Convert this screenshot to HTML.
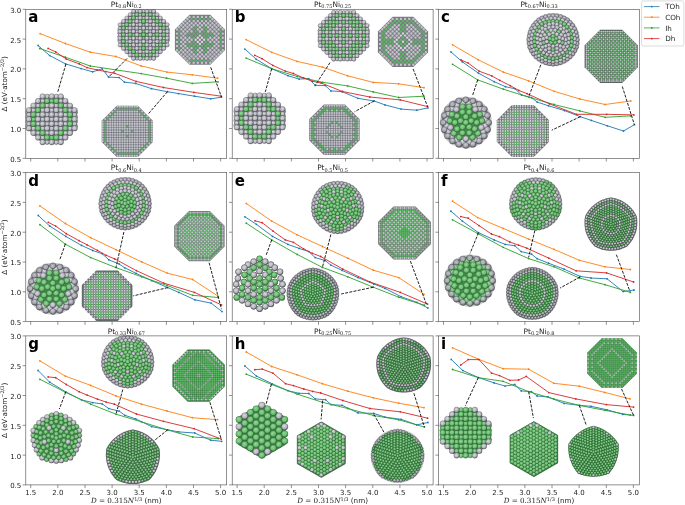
<!DOCTYPE html><html><head><meta charset="utf-8"><title>PtNi nanoparticle excess energy</title>
<style>html,body{margin:0;padding:0;background:#fff}svg{display:block}text{font-family:'DejaVu Sans','Liberation Sans',sans-serif;fill:#1c1c1c}.t{font-size:7px}.s{font-family:'DejaVu Serif','Liberation Serif',serif;font-size:5px}.L{font-size:15px;font-weight:bold;fill:#000}.y{fill:url(#gy);stroke:#55555d;stroke-width:.4}.n{fill:url(#gn);stroke:#2c6433;stroke-width:.4}</style>
</head><body>
<svg width="685" height="505" viewBox="0 0 685 505">
<defs>
<radialGradient id="gy" cx="0.42" cy="0.38" r="0.62"><stop offset="0" stop-color="#d8d8de"/><stop offset="0.66" stop-color="#b4b4bc"/><stop offset="1" stop-color="#5c5c64"/></radialGradient>
<radialGradient id="gn" cx="0.42" cy="0.38" r="0.62"><stop offset="0" stop-color="#93d896"/><stop offset="0.66" stop-color="#6cbb72"/><stop offset="1" stop-color="#37773e"/></radialGradient>
<radialGradient id="sh"><stop offset="0.8" stop-color="#30303a" stop-opacity="0"/><stop offset="0.94" stop-color="#30303a" stop-opacity="0.1"/><stop offset="1" stop-color="#30303a" stop-opacity="0.32"/></radialGradient>
<radialGradient id="sh0"><stop offset="0.8" stop-color="#30303a" stop-opacity="0"/><stop offset="1" stop-color="#30303a" stop-opacity="0.3"/></radialGradient>
<radialGradient id="sh2"><stop offset="0.8" stop-color="#30303a" stop-opacity="0"/><stop offset="0.94" stop-color="#30303a" stop-opacity="0.15"/><stop offset="1" stop-color="#30303a" stop-opacity="0.45"/></radialGradient>
<radialGradient id="sh3"><stop offset="0.75" stop-color="#30303a" stop-opacity="0"/><stop offset="0.92" stop-color="#30303a" stop-opacity="0.25"/><stop offset="1" stop-color="#30303a" stop-opacity="0.6"/></radialGradient>
</defs>
<rect width="685" height="505" fill="#fff"/>
<g id="panel-a">
<polyline fill="none" stroke="#1f77b4" stroke-width="0.9" stroke-linejoin="round" points="38.1,45.5 49.7,55.6 65.6,63.9 81.2,68.6 92.6,71.8 102.1,68.8 108.6,77.1 119.1,77.6 124.5,82.2 135.6,83.4 151.6,88.7 167.4,91.7 178.6,93.6 194.5,96.2 210.7,98.8 221.5,97.2"/>
<g fill="#1f77b4"><circle cx="38.1" cy="45.5" r="0.9"/><circle cx="49.7" cy="55.6" r="0.9"/><circle cx="65.6" cy="63.9" r="0.9"/><circle cx="81.2" cy="68.6" r="0.9"/><circle cx="92.6" cy="71.8" r="0.9"/><circle cx="102.1" cy="68.8" r="0.9"/><circle cx="108.6" cy="77.1" r="0.9"/><circle cx="119.1" cy="77.6" r="0.9"/><circle cx="124.5" cy="82.2" r="0.9"/><circle cx="135.6" cy="83.4" r="0.9"/><circle cx="151.6" cy="88.7" r="0.9"/><circle cx="167.4" cy="91.7" r="0.9"/><circle cx="178.6" cy="93.6" r="0.9"/><circle cx="194.5" cy="96.2" r="0.9"/><circle cx="210.7" cy="98.8" r="0.9"/><circle cx="221.5" cy="97.2" r="0.9"/></g>
<polyline fill="none" stroke="#ff7f0e" stroke-width="0.9" stroke-linejoin="round" points="40.1,33.6 65.3,43.5 90.3,52.2 115.9,56.5 141.2,65.9 166.9,72.1 192.3,74.8 217.6,78.2"/>
<g fill="#ff7f0e"><circle cx="40.1" cy="33.6" r="0.9"/><circle cx="65.3" cy="43.5" r="0.9"/><circle cx="90.3" cy="52.2" r="0.9"/><circle cx="115.9" cy="56.5" r="0.9"/><circle cx="141.2" cy="65.9" r="0.9"/><circle cx="166.9" cy="72.1" r="0.9"/><circle cx="192.3" cy="74.8" r="0.9"/><circle cx="217.6" cy="78.2" r="0.9"/></g>
<polyline fill="none" stroke="#2ca02c" stroke-width="0.9" stroke-linejoin="round" points="39.8,48.5 65.3,57.2 90.3,66 115.9,69.9 141.2,73.6 166.6,78.2 192.3,83.4 218,81.8"/>
<g fill="#2ca02c"><circle cx="39.8" cy="48.5" r="0.9"/><circle cx="65.3" cy="57.2" r="0.9"/><circle cx="90.3" cy="66" r="0.9"/><circle cx="115.9" cy="69.9" r="0.9"/><circle cx="141.2" cy="73.6" r="0.9"/><circle cx="166.6" cy="78.2" r="0.9"/><circle cx="192.3" cy="83.4" r="0.9"/><circle cx="218" cy="81.8" r="0.9"/></g>
<polyline fill="none" stroke="#d62728" stroke-width="0.9" stroke-linejoin="round" points="48.1,48.4 55.7,51.9 66.3,59.1 79.3,63.9 87,67.6 97.1,69.9 105.9,71.6 114.7,73.3 136.1,81.4 163.4,87.5 193.9,92.4 221.2,96.2"/>
<g fill="#d62728"><circle cx="48.1" cy="48.4" r="0.9"/><circle cx="55.7" cy="51.9" r="0.9"/><circle cx="66.3" cy="59.1" r="0.9"/><circle cx="79.3" cy="63.9" r="0.9"/><circle cx="87" cy="67.6" r="0.9"/><circle cx="97.1" cy="69.9" r="0.9"/><circle cx="105.9" cy="71.6" r="0.9"/><circle cx="114.7" cy="73.3" r="0.9"/><circle cx="136.1" cy="81.4" r="0.9"/><circle cx="163.4" cy="87.5" r="0.9"/><circle cx="193.9" cy="92.4" r="0.9"/><circle cx="221.2" cy="96.2" r="0.9"/></g>
<line x1="65.9" y1="64.1" x2="57.8" y2="91.8" stroke="#0a0a0a" stroke-width="0.9" stroke-dasharray="3 1.3"/>
<line x1="127" y1="58.5" x2="108.6" y2="77.1" stroke="#0a0a0a" stroke-width="0.9" stroke-dasharray="3 1.3"/>
<line x1="210.7" y1="67.3" x2="221.5" y2="97" stroke="#0a0a0a" stroke-width="0.9" stroke-dasharray="3 1.3"/>
<line x1="167.4" y1="91.7" x2="148.1" y2="114.2" stroke="#0a0a0a" stroke-width="0.9" stroke-dasharray="3 1.3"/>
<polygon points="42.6,96.4 60.8,96.4 74.6,110.2 74.6,128.4 60.8,142.2 42.6,142.2 28.9,128.4 28.9,110.2" fill="#777780" stroke="#777780" stroke-width="2.2" stroke-linejoin="round"/><g class="y"><circle cx="28.2" cy="112.4" r="2.38"/><circle cx="28.2" cy="117" r="2.38"/><circle cx="28.2" cy="121.6" r="2.38"/><circle cx="28.2" cy="126.2" r="2.38"/><circle cx="75.2" cy="112.4" r="2.38"/><circle cx="75.2" cy="117" r="2.38"/><circle cx="75.2" cy="121.6" r="2.38"/><circle cx="75.2" cy="126.2" r="2.38"/></g><g class="y"><circle cx="47.1" cy="96.4" r="2.33"/><circle cx="56.3" cy="96.4" r="2.33"/><circle cx="28.9" cy="114.7" r="2.33"/><circle cx="74.6" cy="114.7" r="2.33"/><circle cx="28.9" cy="123.9" r="2.33"/><circle cx="74.6" cy="123.9" r="2.33"/><circle cx="47.1" cy="142.2" r="2.33"/><circle cx="56.3" cy="142.2" r="2.33"/><circle cx="42.6" cy="101" r="2.33"/><circle cx="60.8" cy="101" r="2.33"/><circle cx="33.4" cy="110.2" r="2.33"/><circle cx="70" cy="110.2" r="2.33"/><circle cx="33.4" cy="128.4" r="2.33"/><circle cx="70" cy="128.4" r="2.33"/><circle cx="42.6" cy="137.6" r="2.33"/><circle cx="60.8" cy="137.6" r="2.33"/><circle cx="38" cy="105.6" r="2.33"/><circle cx="65.4" cy="105.6" r="2.33"/><circle cx="38" cy="133" r="2.33"/><circle cx="65.4" cy="133" r="2.33"/></g><g class="n"><circle cx="51.7" cy="101" r="2.33"/><circle cx="33.4" cy="119.3" r="2.33"/><circle cx="70" cy="119.3" r="2.33"/><circle cx="51.7" cy="137.6" r="2.33"/></g><g class="y"><circle cx="47.1" cy="105.6" r="2.33"/><circle cx="56.3" cy="105.6" r="2.33"/><circle cx="38" cy="114.7" r="2.33"/><circle cx="65.4" cy="114.7" r="2.33"/><circle cx="38" cy="123.9" r="2.33"/><circle cx="65.4" cy="123.9" r="2.33"/><circle cx="47.1" cy="133" r="2.33"/><circle cx="56.3" cy="133" r="2.33"/><circle cx="42.6" cy="110.2" r="2.33"/><circle cx="60.8" cy="110.2" r="2.33"/><circle cx="42.6" cy="128.4" r="2.33"/><circle cx="60.8" cy="128.4" r="2.33"/><circle cx="51.7" cy="110.2" r="2.33"/><circle cx="42.6" cy="119.3" r="2.33"/><circle cx="60.8" cy="119.3" r="2.33"/><circle cx="51.7" cy="128.4" r="2.33"/><circle cx="47.1" cy="114.7" r="2.33"/><circle cx="56.3" cy="114.7" r="2.33"/><circle cx="47.1" cy="123.9" r="2.33"/><circle cx="56.3" cy="123.9" r="2.33"/><circle cx="51.7" cy="119.3" r="2.33"/></g><g class="y"><circle cx="42.6" cy="96.4" r="2.7"/><circle cx="60.8" cy="96.4" r="2.7"/><circle cx="28.9" cy="110.2" r="2.7"/><circle cx="74.6" cy="110.2" r="2.7"/><circle cx="28.9" cy="128.4" r="2.7"/><circle cx="74.6" cy="128.4" r="2.7"/><circle cx="42.6" cy="142.2" r="2.7"/><circle cx="60.8" cy="142.2" r="2.7"/><circle cx="51.7" cy="96.4" r="2.7"/><circle cx="38" cy="101" r="2.7"/><circle cx="65.4" cy="101" r="2.7"/><circle cx="33.4" cy="105.6" r="2.7"/><circle cx="70" cy="105.6" r="2.7"/><circle cx="28.9" cy="119.3" r="2.7"/><circle cx="74.6" cy="119.3" r="2.7"/><circle cx="33.4" cy="133" r="2.7"/><circle cx="70" cy="133" r="2.7"/><circle cx="38" cy="137.6" r="2.7"/><circle cx="65.4" cy="137.6" r="2.7"/><circle cx="51.7" cy="142.2" r="2.7"/></g><g class="n"><circle cx="47.1" cy="101" r="2.7"/><circle cx="56.3" cy="101" r="2.7"/><circle cx="33.4" cy="114.7" r="2.7"/><circle cx="70" cy="114.7" r="2.7"/><circle cx="33.4" cy="123.9" r="2.7"/><circle cx="70" cy="123.9" r="2.7"/><circle cx="47.1" cy="137.6" r="2.7"/><circle cx="56.3" cy="137.6" r="2.7"/><circle cx="42.6" cy="105.6" r="2.7"/><circle cx="60.8" cy="105.6" r="2.7"/><circle cx="38" cy="110.2" r="2.7"/><circle cx="65.4" cy="110.2" r="2.7"/><circle cx="38" cy="128.4" r="2.7"/><circle cx="65.4" cy="128.4" r="2.7"/><circle cx="42.6" cy="133" r="2.7"/><circle cx="60.8" cy="133" r="2.7"/></g><g class="y"><circle cx="51.7" cy="105.6" r="2.7"/><circle cx="38" cy="119.3" r="2.7"/><circle cx="65.4" cy="119.3" r="2.7"/><circle cx="51.7" cy="133" r="2.7"/><circle cx="47.1" cy="110.2" r="2.7"/><circle cx="56.3" cy="110.2" r="2.7"/><circle cx="42.6" cy="114.7" r="2.7"/><circle cx="60.8" cy="114.7" r="2.7"/><circle cx="42.6" cy="123.9" r="2.7"/><circle cx="60.8" cy="123.9" r="2.7"/><circle cx="47.1" cy="128.4" r="2.7"/><circle cx="56.3" cy="128.4" r="2.7"/><circle cx="51.7" cy="114.7" r="2.7"/><circle cx="47.1" cy="119.3" r="2.7"/><circle cx="56.3" cy="119.3" r="2.7"/><circle cx="51.7" cy="123.9" r="2.7"/></g><polygon points="133.5,11.3 153.7,11.3 167.2,24.8 167.2,45 153.7,58.5 133.5,58.5 120,45 120,24.8" fill="#777780" stroke="#777780" stroke-width="1.7" stroke-linejoin="round"/><g class="y"><circle cx="119.5" cy="29.8" r="1.8"/><circle cx="119.5" cy="33.2" r="1.8"/><circle cx="119.5" cy="36.6" r="1.8"/><circle cx="119.5" cy="40" r="1.8"/><circle cx="167.7" cy="29.8" r="1.8"/><circle cx="167.7" cy="33.2" r="1.8"/><circle cx="167.7" cy="36.6" r="1.8"/><circle cx="167.7" cy="40" r="1.8"/></g><g class="y"><circle cx="136.9" cy="11.3" r="1.77"/><circle cx="150.3" cy="11.3" r="1.77"/><circle cx="120" cy="28.2" r="1.77"/><circle cx="167.2" cy="28.2" r="1.77"/><circle cx="120" cy="41.6" r="1.77"/><circle cx="167.2" cy="41.6" r="1.77"/><circle cx="136.9" cy="58.5" r="1.77"/><circle cx="150.3" cy="58.5" r="1.77"/><circle cx="143.6" cy="11.3" r="1.77"/><circle cx="120" cy="34.9" r="1.77"/><circle cx="167.2" cy="34.9" r="1.77"/><circle cx="143.6" cy="58.5" r="1.77"/><circle cx="133.5" cy="14.7" r="1.77"/><circle cx="153.7" cy="14.7" r="1.77"/><circle cx="123.4" cy="24.8" r="1.77"/><circle cx="163.8" cy="24.8" r="1.77"/><circle cx="123.4" cy="45" r="1.77"/><circle cx="163.8" cy="45" r="1.77"/><circle cx="133.5" cy="55.1" r="1.77"/><circle cx="153.7" cy="55.1" r="1.77"/><circle cx="130.1" cy="18" r="1.77"/><circle cx="157.1" cy="18" r="1.77"/><circle cx="126.8" cy="21.4" r="1.77"/><circle cx="160.4" cy="21.4" r="1.77"/><circle cx="126.8" cy="48.4" r="1.77"/><circle cx="160.4" cy="48.4" r="1.77"/><circle cx="130.1" cy="51.8" r="1.77"/><circle cx="157.1" cy="51.8" r="1.77"/><circle cx="140.2" cy="14.7" r="1.77"/><circle cx="147" cy="14.7" r="1.77"/><circle cx="123.4" cy="31.5" r="1.77"/><circle cx="163.8" cy="31.5" r="1.77"/><circle cx="123.4" cy="38.3" r="1.77"/><circle cx="163.8" cy="38.3" r="1.77"/><circle cx="140.2" cy="55.1" r="1.77"/><circle cx="147" cy="55.1" r="1.77"/><circle cx="136.9" cy="18" r="1.77"/><circle cx="150.3" cy="18" r="1.77"/><circle cx="126.8" cy="28.2" r="1.77"/><circle cx="160.4" cy="28.2" r="1.77"/><circle cx="126.8" cy="41.6" r="1.77"/><circle cx="160.4" cy="41.6" r="1.77"/><circle cx="136.9" cy="51.8" r="1.77"/><circle cx="150.3" cy="51.8" r="1.77"/><circle cx="143.6" cy="18" r="1.77"/><circle cx="133.5" cy="21.4" r="1.77"/><circle cx="153.7" cy="21.4" r="1.77"/><circle cx="130.1" cy="24.8" r="1.77"/><circle cx="157.1" cy="24.8" r="1.77"/><circle cx="126.8" cy="34.9" r="1.77"/><circle cx="160.4" cy="34.9" r="1.77"/><circle cx="130.1" cy="45" r="1.77"/><circle cx="157.1" cy="45" r="1.77"/><circle cx="133.5" cy="48.4" r="1.77"/><circle cx="153.7" cy="48.4" r="1.77"/><circle cx="143.6" cy="51.8" r="1.77"/><circle cx="140.2" cy="21.4" r="1.77"/><circle cx="147" cy="21.4" r="1.77"/><circle cx="130.1" cy="31.5" r="1.77"/><circle cx="157.1" cy="31.5" r="1.77"/><circle cx="130.1" cy="38.3" r="1.77"/><circle cx="157.1" cy="38.3" r="1.77"/><circle cx="140.2" cy="48.4" r="1.77"/><circle cx="147" cy="48.4" r="1.77"/><circle cx="136.9" cy="24.8" r="1.77"/><circle cx="150.3" cy="24.8" r="1.77"/><circle cx="133.5" cy="28.2" r="1.77"/><circle cx="153.7" cy="28.2" r="1.77"/><circle cx="133.5" cy="41.6" r="1.77"/><circle cx="153.7" cy="41.6" r="1.77"/><circle cx="136.9" cy="45" r="1.77"/><circle cx="150.3" cy="45" r="1.77"/></g><g class="n"><circle cx="143.6" cy="24.8" r="1.77"/><circle cx="133.5" cy="34.9" r="1.77"/><circle cx="153.7" cy="34.9" r="1.77"/><circle cx="143.6" cy="45" r="1.77"/></g><g class="y"><circle cx="140.2" cy="28.2" r="1.77"/><circle cx="147" cy="28.2" r="1.77"/><circle cx="136.9" cy="31.5" r="1.77"/><circle cx="150.3" cy="31.5" r="1.77"/><circle cx="136.9" cy="38.3" r="1.77"/><circle cx="150.3" cy="38.3" r="1.77"/><circle cx="140.2" cy="41.6" r="1.77"/><circle cx="147" cy="41.6" r="1.77"/></g><g class="n"><circle cx="143.6" cy="31.5" r="1.77"/><circle cx="140.2" cy="34.9" r="1.77"/><circle cx="147" cy="34.9" r="1.77"/><circle cx="143.6" cy="38.3" r="1.77"/></g><g class="y"><circle cx="133.5" cy="11.3" r="2.05"/><circle cx="153.7" cy="11.3" r="2.05"/><circle cx="120" cy="24.8" r="2.05"/><circle cx="167.2" cy="24.8" r="2.05"/><circle cx="120" cy="45" r="2.05"/><circle cx="167.2" cy="45" r="2.05"/><circle cx="133.5" cy="58.5" r="2.05"/><circle cx="153.7" cy="58.5" r="2.05"/><circle cx="130.1" cy="14.7" r="2.05"/><circle cx="157.1" cy="14.7" r="2.05"/><circle cx="123.4" cy="21.4" r="2.05"/><circle cx="163.8" cy="21.4" r="2.05"/><circle cx="123.4" cy="48.4" r="2.05"/><circle cx="163.8" cy="48.4" r="2.05"/><circle cx="130.1" cy="55.1" r="2.05"/><circle cx="157.1" cy="55.1" r="2.05"/><circle cx="140.2" cy="11.3" r="2.05"/><circle cx="147" cy="11.3" r="2.05"/><circle cx="126.8" cy="18" r="2.05"/><circle cx="160.4" cy="18" r="2.05"/><circle cx="120" cy="31.5" r="2.05"/><circle cx="167.2" cy="31.5" r="2.05"/><circle cx="120" cy="38.3" r="2.05"/><circle cx="167.2" cy="38.3" r="2.05"/><circle cx="126.8" cy="51.8" r="2.05"/><circle cx="160.4" cy="51.8" r="2.05"/><circle cx="140.2" cy="58.5" r="2.05"/><circle cx="147" cy="58.5" r="2.05"/></g><g class="n"><circle cx="136.9" cy="14.7" r="2.05"/><circle cx="150.3" cy="14.7" r="2.05"/><circle cx="123.4" cy="28.2" r="2.05"/><circle cx="163.8" cy="28.2" r="2.05"/><circle cx="123.4" cy="41.6" r="2.05"/><circle cx="163.8" cy="41.6" r="2.05"/><circle cx="136.9" cy="55.1" r="2.05"/><circle cx="150.3" cy="55.1" r="2.05"/><circle cx="143.6" cy="14.7" r="2.05"/><circle cx="123.4" cy="34.9" r="2.05"/><circle cx="163.8" cy="34.9" r="2.05"/><circle cx="143.6" cy="55.1" r="2.05"/><circle cx="133.5" cy="18" r="2.05"/><circle cx="153.7" cy="18" r="2.05"/><circle cx="126.8" cy="24.8" r="2.05"/><circle cx="160.4" cy="24.8" r="2.05"/><circle cx="126.8" cy="45" r="2.05"/><circle cx="160.4" cy="45" r="2.05"/><circle cx="133.5" cy="51.8" r="2.05"/><circle cx="153.7" cy="51.8" r="2.05"/><circle cx="130.1" cy="21.4" r="2.05"/><circle cx="157.1" cy="21.4" r="2.05"/><circle cx="130.1" cy="48.4" r="2.05"/><circle cx="157.1" cy="48.4" r="2.05"/></g><g class="y"><circle cx="140.2" cy="18" r="2.05"/><circle cx="147" cy="18" r="2.05"/><circle cx="126.8" cy="31.5" r="2.05"/><circle cx="160.4" cy="31.5" r="2.05"/><circle cx="126.8" cy="38.3" r="2.05"/><circle cx="160.4" cy="38.3" r="2.05"/><circle cx="140.2" cy="51.8" r="2.05"/><circle cx="147" cy="51.8" r="2.05"/><circle cx="136.9" cy="21.4" r="2.05"/><circle cx="150.3" cy="21.4" r="2.05"/><circle cx="130.1" cy="28.2" r="2.05"/><circle cx="157.1" cy="28.2" r="2.05"/><circle cx="130.1" cy="41.6" r="2.05"/><circle cx="157.1" cy="41.6" r="2.05"/><circle cx="136.9" cy="48.4" r="2.05"/><circle cx="150.3" cy="48.4" r="2.05"/><circle cx="133.5" cy="24.8" r="2.05"/><circle cx="153.7" cy="24.8" r="2.05"/><circle cx="133.5" cy="45" r="2.05"/><circle cx="153.7" cy="45" r="2.05"/></g><g class="n"><circle cx="143.6" cy="21.4" r="2.05"/><circle cx="130.1" cy="34.9" r="2.05"/><circle cx="157.1" cy="34.9" r="2.05"/><circle cx="143.6" cy="48.4" r="2.05"/></g><g class="y"><circle cx="140.2" cy="24.8" r="2.05"/><circle cx="147" cy="24.8" r="2.05"/><circle cx="133.5" cy="31.5" r="2.05"/><circle cx="153.7" cy="31.5" r="2.05"/><circle cx="133.5" cy="38.3" r="2.05"/><circle cx="153.7" cy="38.3" r="2.05"/><circle cx="140.2" cy="45" r="2.05"/><circle cx="147" cy="45" r="2.05"/><circle cx="136.9" cy="28.2" r="2.05"/><circle cx="150.3" cy="28.2" r="2.05"/><circle cx="136.9" cy="41.6" r="2.05"/><circle cx="150.3" cy="41.6" r="2.05"/><circle cx="143.6" cy="28.2" r="2.05"/><circle cx="136.9" cy="34.9" r="2.05"/><circle cx="150.3" cy="34.9" r="2.05"/><circle cx="143.6" cy="41.6" r="2.05"/><circle cx="140.2" cy="31.5" r="2.05"/><circle cx="147" cy="31.5" r="2.05"/><circle cx="140.2" cy="38.3" r="2.05"/><circle cx="147" cy="38.3" r="2.05"/></g><g class="n"><circle cx="143.6" cy="34.9" r="2.05"/></g><polygon fill="#7b7b83" points="189.5,14.8 210.3,14.8 224.9,29.4 224.9,50.2 210.3,64.8 189.5,64.8 174.9,50.2 174.9,29.4"/><path d="M189.5 16.9h0m4.2 0h0m4.1 0h0m4.2 0h0m4.1 0h0m4.2 0h0m-25 4.2h0m4.2 0h0m4.2 0h0m4.1 0h0m4.2 0h0m4.1 0h0m4.2 0h0m4.2 0h0m-33.3 4.1h0m4.1 0h0m4.2 0h0m4.2 0h0m4.1 0h0m4.2 0h0m4.1 0h0m4.2 0h0m4.2 0h0m4.1 0h0m-41.6 4.2h0m4.2 0h0m4.1 0h0m4.2 0h0m8.3 0h0m4.2 0h0m8.3 0h0m4.2 0h0m4.1 0h0m4.2 0h0m-45.8 4.2h0m4.2 0h0m4.1 0h0m29.2 0h0m4.1 0h0m4.2 0h0m-45.8 4.1h0m4.2 0h0m4.1 0h0m4.2 0h0m20.8 0h0m4.2 0h0m4.1 0h0m4.2 0h0m-45.8 4.2h0m4.2 0h0m4.1 0h0m4.2 0h0m20.8 0h0m4.2 0h0m4.1 0h0m4.2 0h0m-45.8 4.1h0m4.2 0h0m4.1 0h0m29.2 0h0m4.1 0h0m4.2 0h0m-45.8 4.2h0m4.2 0h0m4.1 0h0m4.2 0h0m8.3 0h0m4.2 0h0m8.3 0h0m4.2 0h0m4.1 0h0m4.2 0h0m-41.6 4.2h0m4.1 0h0m4.2 0h0m4.2 0h0m4.1 0h0m4.2 0h0m4.1 0h0m4.2 0h0m4.2 0h0m4.1 0h0m-33.3 4.1h0m4.2 0h0m4.2 0h0m4.1 0h0m4.2 0h0m4.1 0h0m4.2 0h0m4.2 0h0m-25 4.2h0m4.2 0h0m4.1 0h0m4.2 0h0m4.1 0h0m4.2 0h0" stroke="#c4c4cc" stroke-width="2.4" stroke-linecap="round" fill="none"/><path d="M193.7 29.4h0m12.4 0h0m-16.6 4.2h0m4.2 0h0m4.1 0h0m4.2 0h0m4.1 0h0m4.2 0h0m-16.6 4.1h0m12.4 0h0m-12.4 4.2h0m12.4 0h0m-16.6 4.1h0m4.2 0h0m4.1 0h0m4.2 0h0m4.1 0h0m4.2 0h0m-16.6 4.2h0m12.4 0h0" stroke="#5cb864" stroke-width="2.4" stroke-linecap="round" fill="none"/><path d="M197.8 37.7h0m4.2 0h0m-4.2 4.2h0m4.2 0h0" stroke="#d4d4dc" stroke-width="2.4" stroke-linecap="round" fill="none"/><path d="M187.4 19h0m25 0h0m-29.1 4.2h0m4.1 0h0m4.2 0h0m4.1 0h0m4.2 0h0m4.2 0h0m4.1 0h0m4.2 0h0m4.1 0h0m-37.4 4.1h0m4.2 0h0m4.1 0h0m4.2 0h0m8.3 0h0m8.3 0h0m4.2 0h0m4.1 0h0m4.2 0h0m-37.4 4.2h0m4.1 0h0m4.2 0h0m8.3 0h0m8.3 0h0m4.2 0h0m4.1 0h0m-33.2 4.1h0m33.2 0h0m-33.2 4.2h0m4.1 0h0m4.2 0h0m16.6 0h0m4.2 0h0m4.1 0h0m-33.2 4.2h0m33.2 0h0m-33.2 4.1h0m4.1 0h0m4.2 0h0m8.3 0h0m8.3 0h0m4.2 0h0m4.1 0h0m-37.4 4.2h0m4.2 0h0m4.1 0h0m4.2 0h0m8.3 0h0m8.3 0h0m4.2 0h0m4.1 0h0m4.2 0h0m-37.4 4.1h0m4.1 0h0m4.2 0h0m4.1 0h0m4.2 0h0m4.2 0h0m4.1 0h0m4.2 0h0m4.1 0h0m-29.1 4.2h0m25 0h0" stroke="#c4c4cc" stroke-width="2.4" stroke-linecap="round" fill="none"/><path d="M191.6 19h0m4.1 0h0m4.2 0h0m4.2 0h0m4.1 0h0m-12.5 8.3h0m8.4 0h0m-25 4.2h0m16.6 0h0m8.4 0h0m16.6 0h0m-41.6 4.1h0m8.3 0h0m4.2 0h0m4.1 0h0m8.4 0h0m4.1 0h0m4.2 0h0m8.3 0h0m-41.6 4.2h0m41.6 0h0m-41.6 4.2h0m8.3 0h0m4.2 0h0m4.1 0h0m8.4 0h0m4.1 0h0m4.2 0h0m8.3 0h0m-41.6 4.1h0m16.6 0h0m8.4 0h0m16.6 0h0m-25 4.2h0m8.4 0h0m-12.5 8.3h0m4.1 0h0m4.2 0h0m4.2 0h0m4.1 0h0" stroke="#5cb864" stroke-width="2.4" stroke-linecap="round" fill="none"/><path d="M199.9 35.6h0m-4.2 4.2h0m4.2 0h0m4.2 0h0m-4.2 4.2h0" stroke="#d4d4dc" stroke-width="2.4" stroke-linecap="round" fill="none"/><polygon fill="#787880" points="116.7,105.7 137.9,105.7 152.9,120.7 152.9,141.9 137.9,156.9 116.7,156.9 101.7,141.9 101.7,120.7"/><path d="M119.9 106.7h0m4.9 0h0m5 0h0m4.9 0h0m-14.8 4.9h0m4.9 0h0m5 0h0m4.9 0h0m-17.2 2.5h0m4.9 0h0m4.9 0h0m4.9 0h0m4.9 0h0m-22.1 2.4h0m4.9 0h0m4.9 0h0m5 0h0m4.9 0h0m4.9 0h0m-27.1 2.5h0m5 0h0m4.9 0h0m4.9 0h0m4.9 0h0m4.9 0h0m5 0h0m-32 2.5h0m4.9 0h0m4.9 0h0m4.9 0h0m5 0h0m4.9 0h0m4.9 0h0m4.9 0h0m-41.8 2.4h0m4.9 0h0m4.9 0h0m5 0h0m4.9 0h0m4.9 0h0m4.9 0h0m4.9 0h0m5 0h0m4.9 0h0m4.9 0h0m-41.8 2.5h0m4.9 0h0m4.9 0h0m4.9 0h0m5 0h0m4.9 0h0m4.9 0h0m4.9 0h0m-41.8 2.4h0m4.9 0h0m4.9 0h0m5 0h0m4.9 0h0m4.9 0h0m4.9 0h0m4.9 0h0m5 0h0m4.9 0h0m4.9 0h0m-41.8 2.5h0m4.9 0h0m4.9 0h0m4.9 0h0m5 0h0m4.9 0h0m4.9 0h0m4.9 0h0m-41.8 2.5h0m4.9 0h0m4.9 0h0m5 0h0m4.9 0h0m4.9 0h0m4.9 0h0m4.9 0h0m5 0h0m4.9 0h0m4.9 0h0m-41.8 2.4h0m4.9 0h0m4.9 0h0m4.9 0h0m5 0h0m4.9 0h0m4.9 0h0m4.9 0h0m-41.8 2.5h0m4.9 0h0m4.9 0h0m5 0h0m4.9 0h0m4.9 0h0m4.9 0h0m4.9 0h0m5 0h0m4.9 0h0m4.9 0h0m-41.8 2.4h0m4.9 0h0m4.9 0h0m4.9 0h0m5 0h0m4.9 0h0m4.9 0h0m4.9 0h0m-32 2.5h0m5 0h0m4.9 0h0m4.9 0h0m4.9 0h0m4.9 0h0m5 0h0m-27.1 2.5h0m4.9 0h0m4.9 0h0m5 0h0m4.9 0h0m4.9 0h0m-22.1 2.4h0m4.9 0h0m4.9 0h0m4.9 0h0m4.9 0h0m-17.2 2.5h0m4.9 0h0m5 0h0m4.9 0h0m-14.8 4.9h0m4.9 0h0m5 0h0m4.9 0h0" stroke="#c4c4cc" stroke-width="2.1" stroke-linecap="round" fill="none"/><path d="M117.5 109.2h0m4.9 0h0m4.9 0h0m4.9 0h0m4.9 0h0m-22.1 2.4h0m24.6 0h0m-27.1 2.5h0m29.6 0h0m-32 2.4h0m34.4 0h0m-36.9 2.5h0m39.4 0h0m-41.8 2.5h0m44.2 0h0m-44.2 4.9h0m44.2 0h0m-44.2 4.9h0m44.2 0h0m-44.2 4.9h0m44.2 0h0m-44.2 4.9h0m44.2 0h0m-41.8 2.5h0m39.4 0h0m-36.9 2.5h0m34.4 0h0m-32 2.4h0m29.6 0h0m-27.1 2.5h0m24.6 0h0m-22.1 2.4h0m4.9 0h0m4.9 0h0m4.9 0h0m4.9 0h0" stroke="#5cb864" stroke-width="2.1" stroke-linecap="round" fill="none"/><path d="M117.5 106.7h0m4.9 0h0m4.9 0h0m4.9 0h0m4.9 0h0m-22.1 2.5h0m24.6 0h0m-27.1 2.4h0m5 0h0m4.9 0h0m4.9 0h0m4.9 0h0m4.9 0h0m5 0h0m-32 2.5h0m4.9 0h0m4.9 0h0m4.9 0h0m5 0h0m4.9 0h0m4.9 0h0m4.9 0h0m-36.9 2.4h0m4.9 0h0m5 0h0m4.9 0h0m4.9 0h0m4.9 0h0m4.9 0h0m5 0h0m4.9 0h0m-41.8 2.5h0m4.9 0h0m4.9 0h0m4.9 0h0m4.9 0h0m5 0h0m4.9 0h0m4.9 0h0m4.9 0h0m4.9 0h0m-46.7 2.5h0m4.9 0h0m4.9 0h0m5 0h0m4.9 0h0m4.9 0h0m4.9 0h0m4.9 0h0m5 0h0m4.9 0h0m4.9 0h0m-41.8 2.4h0m4.9 0h0m4.9 0h0m4.9 0h0m5 0h0m4.9 0h0m4.9 0h0m4.9 0h0m-41.8 2.5h0m4.9 0h0m4.9 0h0m5 0h0m4.9 0h0m9.8 0h0m4.9 0h0m5 0h0m4.9 0h0m4.9 0h0m-41.8 2.4h0m4.9 0h0m4.9 0h0m4.9 0h0m5 0h0m4.9 0h0m4.9 0h0m4.9 0h0m-41.8 2.5h0m4.9 0h0m4.9 0h0m5 0h0m9.8 0h0m9.8 0h0m5 0h0m4.9 0h0m4.9 0h0m-41.8 2.5h0m4.9 0h0m4.9 0h0m4.9 0h0m5 0h0m4.9 0h0m4.9 0h0m4.9 0h0m-41.8 2.4h0m4.9 0h0m4.9 0h0m5 0h0m4.9 0h0m9.8 0h0m4.9 0h0m5 0h0m4.9 0h0m4.9 0h0m-41.8 2.5h0m4.9 0h0m4.9 0h0m4.9 0h0m5 0h0m4.9 0h0m4.9 0h0m4.9 0h0m-41.8 2.4h0m4.9 0h0m4.9 0h0m5 0h0m4.9 0h0m4.9 0h0m4.9 0h0m4.9 0h0m5 0h0m4.9 0h0m4.9 0h0m-46.7 2.5h0m4.9 0h0m4.9 0h0m4.9 0h0m4.9 0h0m5 0h0m4.9 0h0m4.9 0h0m4.9 0h0m4.9 0h0m-41.8 2.5h0m4.9 0h0m5 0h0m4.9 0h0m4.9 0h0m4.9 0h0m4.9 0h0m5 0h0m4.9 0h0m-36.9 2.4h0m4.9 0h0m4.9 0h0m4.9 0h0m5 0h0m4.9 0h0m4.9 0h0m4.9 0h0m-32 2.5h0m5 0h0m4.9 0h0m4.9 0h0m4.9 0h0m4.9 0h0m5 0h0m-27.1 2.4h0m24.6 0h0m-22.1 2.5h0m4.9 0h0m4.9 0h0m4.9 0h0m4.9 0h0" stroke="#c4c4cc" stroke-width="2.1" stroke-linecap="round" fill="none"/><path d="M119.9 109.2h0m4.9 0h0m5 0h0m4.9 0h0m-29.5 14.7h0m44.2 0h0m-22.1 2.5h0m-22.1 2.4h0m44.2 0h0m-27 2.5h0m9.8 0h0m-27 2.5h0m44.2 0h0m-22.1 2.4h0m-22.1 2.5h0m44.2 0h0m-29.5 14.7h0m4.9 0h0m5 0h0m4.9 0h0" stroke="#5cb864" stroke-width="2.1" stroke-linecap="round" fill="none"/>
<rect x="25.8" y="9.3" width="200.9" height="149" fill="none" stroke="#484848" stroke-width="0.6"/>
<text class="t" text-anchor="end" x="21.3" y="161.7">0.5</text>
<text class="t" text-anchor="end" x="21.3" y="131.9">1.0</text>
<text class="t" text-anchor="end" x="21.3" y="102.1">1.5</text>
<text class="t" text-anchor="end" x="21.3" y="72.3">2.0</text>
<text class="t" text-anchor="end" x="21.3" y="42.5">2.5</text>
<text class="t" text-anchor="end" x="21.3" y="12.7">3.0</text>
<path d="M30.7 158.3v3.2M57.8 158.3v3.2M85 158.3v3.2M112.1 158.3v3.2M139.2 158.3v3.2M166.4 158.3v3.2M193.5 158.3v3.2M220.6 158.3v3.2M25.8 158.3h-3.2M25.8 128.5h-3.2M25.8 98.7h-3.2M25.8 68.9h-3.2M25.8 39.1h-3.2M25.8 9.3h-3.2" stroke="#484848" stroke-width="0.6" fill="none"/>
<text class="t" text-anchor="middle" x="126.3" y="6.9" style="font-size:7.4px">Pt<tspan class="s" dy="1.3">0.8</tspan><tspan dy="-1.3">Ni</tspan><tspan class="s" dy="1.3">0.2</tspan></text>
<text class="L" x="28.3" y="22.4">a</text>
<text class="t" text-anchor="middle" transform="translate(6.9 83.8) rotate(-90)" style="font-size:7.2px">Δ (eV·atom<tspan class="s" dy="-2.6">−2/3</tspan><tspan dy="2.6">)</tspan></text>
</g>
<g id="panel-b">
<polyline fill="none" stroke="#1f77b4" stroke-width="0.9" stroke-linejoin="round" points="244.9,49.1 256.3,59.3 271.7,68.7 287.9,75.7 299.1,79.1 308.8,78.6 315.2,85.4 325.2,85.5 330.9,90.9 342.1,91.7 357.9,98.3 374.1,101 385,104.9 401.1,109.1 416.8,110.2 427.9,107.9"/>
<g fill="#1f77b4"><circle cx="244.9" cy="49.1" r="0.9"/><circle cx="256.3" cy="59.3" r="0.9"/><circle cx="271.7" cy="68.7" r="0.9"/><circle cx="287.9" cy="75.7" r="0.9"/><circle cx="299.1" cy="79.1" r="0.9"/><circle cx="308.8" cy="78.6" r="0.9"/><circle cx="315.2" cy="85.4" r="0.9"/><circle cx="325.2" cy="85.5" r="0.9"/><circle cx="330.9" cy="90.9" r="0.9"/><circle cx="342.1" cy="91.7" r="0.9"/><circle cx="357.9" cy="98.3" r="0.9"/><circle cx="374.1" cy="101" r="0.9"/><circle cx="385" cy="104.9" r="0.9"/><circle cx="401.1" cy="109.1" r="0.9"/><circle cx="416.8" cy="110.2" r="0.9"/><circle cx="427.9" cy="107.9" r="0.9"/></g>
<polyline fill="none" stroke="#ff7f0e" stroke-width="0.9" stroke-linejoin="round" points="246.1,39.6 271.7,52.3 297.1,61.4 322.4,67.1 347.6,75.8 373.3,82.4 398.7,83.8 424,87.7"/>
<g fill="#ff7f0e"><circle cx="246.1" cy="39.6" r="0.9"/><circle cx="271.7" cy="52.3" r="0.9"/><circle cx="297.1" cy="61.4" r="0.9"/><circle cx="322.4" cy="67.1" r="0.9"/><circle cx="347.6" cy="75.8" r="0.9"/><circle cx="373.3" cy="82.4" r="0.9"/><circle cx="398.7" cy="83.8" r="0.9"/><circle cx="424" cy="87.7" r="0.9"/></g>
<polyline fill="none" stroke="#2ca02c" stroke-width="0.9" stroke-linejoin="round" points="246.1,58.1 271.7,68.7 297.1,76.5 322.7,82.3 347.6,85.9 373.3,91.9 398.7,97.5 424,96.2"/>
<g fill="#2ca02c"><circle cx="246.1" cy="58.1" r="0.9"/><circle cx="271.7" cy="68.7" r="0.9"/><circle cx="297.1" cy="76.5" r="0.9"/><circle cx="322.7" cy="82.3" r="0.9"/><circle cx="347.6" cy="85.9" r="0.9"/><circle cx="373.3" cy="91.9" r="0.9"/><circle cx="398.7" cy="97.5" r="0.9"/><circle cx="424" cy="96.2" r="0.9"/></g>
<polyline fill="none" stroke="#d62728" stroke-width="0.9" stroke-linejoin="round" points="254.8,55.3 262,58.7 272.8,65.4 285.3,71.1 293.4,73.5 303.5,78 312.3,81.2 321.1,83 342.5,91.5 369.8,97 400.3,99.9 427.6,106.6"/>
<g fill="#d62728"><circle cx="254.8" cy="55.3" r="0.9"/><circle cx="262" cy="58.7" r="0.9"/><circle cx="272.8" cy="65.4" r="0.9"/><circle cx="285.3" cy="71.1" r="0.9"/><circle cx="293.4" cy="73.5" r="0.9"/><circle cx="303.5" cy="78" r="0.9"/><circle cx="312.3" cy="81.2" r="0.9"/><circle cx="321.1" cy="83" r="0.9"/><circle cx="342.5" cy="91.5" r="0.9"/><circle cx="369.8" cy="97" r="0.9"/><circle cx="400.3" cy="99.9" r="0.9"/><circle cx="427.6" cy="106.6" r="0.9"/></g>
<line x1="271.7" y1="68.7" x2="265.3" y2="91.9" stroke="#0a0a0a" stroke-width="0.9" stroke-dasharray="3 1.3"/>
<line x1="330" y1="62.6" x2="315.2" y2="85.4" stroke="#0a0a0a" stroke-width="0.9" stroke-dasharray="3 1.3"/>
<line x1="413.1" y1="68.9" x2="427.6" y2="106.6" stroke="#0a0a0a" stroke-width="0.9" stroke-dasharray="3 1.3"/>
<line x1="374.1" y1="101" x2="354.5" y2="111.8" stroke="#0a0a0a" stroke-width="0.9" stroke-dasharray="3 1.3"/>
<polygon points="250.6,95.4 268.8,95.4 282.6,109.2 282.6,127.4 268.8,141.2 250.6,141.2 236.8,127.4 236.8,109.2" fill="#777780" stroke="#777780" stroke-width="2.2" stroke-linejoin="round"/><g class="y"><circle cx="236.2" cy="111.4" r="2.38"/><circle cx="236.2" cy="116" r="2.38"/><circle cx="236.2" cy="120.6" r="2.38"/><circle cx="236.2" cy="125.2" r="2.38"/><circle cx="283.2" cy="111.4" r="2.38"/><circle cx="283.2" cy="116" r="2.38"/><circle cx="283.2" cy="120.6" r="2.38"/><circle cx="283.2" cy="125.2" r="2.38"/></g><g class="y"><circle cx="255.1" cy="95.4" r="2.33"/><circle cx="264.3" cy="95.4" r="2.33"/><circle cx="236.8" cy="113.7" r="2.33"/><circle cx="282.6" cy="113.7" r="2.33"/><circle cx="236.8" cy="122.9" r="2.33"/><circle cx="282.6" cy="122.9" r="2.33"/><circle cx="255.1" cy="141.2" r="2.33"/><circle cx="264.3" cy="141.2" r="2.33"/><circle cx="250.6" cy="100" r="2.33"/><circle cx="268.8" cy="100" r="2.33"/><circle cx="241.4" cy="109.2" r="2.33"/><circle cx="278" cy="109.2" r="2.33"/><circle cx="241.4" cy="127.4" r="2.33"/><circle cx="278" cy="127.4" r="2.33"/><circle cx="250.6" cy="136.6" r="2.33"/><circle cx="268.8" cy="136.6" r="2.33"/><circle cx="246" cy="104.6" r="2.33"/><circle cx="273.4" cy="104.6" r="2.33"/><circle cx="246" cy="132" r="2.33"/><circle cx="273.4" cy="132" r="2.33"/></g><g class="n"><circle cx="259.7" cy="100" r="2.33"/><circle cx="241.4" cy="118.3" r="2.33"/><circle cx="278" cy="118.3" r="2.33"/><circle cx="259.7" cy="136.6" r="2.33"/></g><g class="y"><circle cx="255.1" cy="104.6" r="2.33"/><circle cx="264.3" cy="104.6" r="2.33"/><circle cx="246" cy="113.7" r="2.33"/><circle cx="273.4" cy="113.7" r="2.33"/><circle cx="246" cy="122.9" r="2.33"/><circle cx="273.4" cy="122.9" r="2.33"/><circle cx="255.1" cy="132" r="2.33"/><circle cx="264.3" cy="132" r="2.33"/></g><g class="n"><circle cx="250.6" cy="109.2" r="2.33"/><circle cx="268.8" cy="109.2" r="2.33"/><circle cx="250.6" cy="127.4" r="2.33"/><circle cx="268.8" cy="127.4" r="2.33"/></g><g class="y"><circle cx="259.7" cy="109.2" r="2.33"/><circle cx="250.6" cy="118.3" r="2.33"/><circle cx="268.8" cy="118.3" r="2.33"/><circle cx="259.7" cy="127.4" r="2.33"/><circle cx="255.1" cy="113.7" r="2.33"/><circle cx="264.3" cy="113.7" r="2.33"/><circle cx="255.1" cy="122.9" r="2.33"/><circle cx="264.3" cy="122.9" r="2.33"/><circle cx="259.7" cy="118.3" r="2.33"/></g><g class="y"><circle cx="250.6" cy="95.4" r="2.7"/><circle cx="268.8" cy="95.4" r="2.7"/><circle cx="236.8" cy="109.2" r="2.7"/><circle cx="282.6" cy="109.2" r="2.7"/><circle cx="236.8" cy="127.4" r="2.7"/><circle cx="282.6" cy="127.4" r="2.7"/><circle cx="250.6" cy="141.2" r="2.7"/><circle cx="268.8" cy="141.2" r="2.7"/><circle cx="259.7" cy="95.4" r="2.7"/><circle cx="246" cy="100" r="2.7"/><circle cx="273.4" cy="100" r="2.7"/><circle cx="241.4" cy="104.6" r="2.7"/><circle cx="278" cy="104.6" r="2.7"/><circle cx="236.8" cy="118.3" r="2.7"/><circle cx="282.6" cy="118.3" r="2.7"/><circle cx="241.4" cy="132" r="2.7"/><circle cx="278" cy="132" r="2.7"/><circle cx="246" cy="136.6" r="2.7"/><circle cx="273.4" cy="136.6" r="2.7"/><circle cx="259.7" cy="141.2" r="2.7"/></g><g class="n"><circle cx="255.1" cy="100" r="2.7"/><circle cx="264.3" cy="100" r="2.7"/><circle cx="241.4" cy="113.7" r="2.7"/><circle cx="278" cy="113.7" r="2.7"/><circle cx="241.4" cy="122.9" r="2.7"/><circle cx="278" cy="122.9" r="2.7"/><circle cx="255.1" cy="136.6" r="2.7"/><circle cx="264.3" cy="136.6" r="2.7"/><circle cx="250.6" cy="104.6" r="2.7"/><circle cx="268.8" cy="104.6" r="2.7"/><circle cx="246" cy="109.2" r="2.7"/><circle cx="273.4" cy="109.2" r="2.7"/><circle cx="246" cy="127.4" r="2.7"/><circle cx="273.4" cy="127.4" r="2.7"/><circle cx="250.6" cy="132" r="2.7"/><circle cx="268.8" cy="132" r="2.7"/></g><g class="y"><circle cx="259.7" cy="104.6" r="2.7"/><circle cx="246" cy="118.3" r="2.7"/><circle cx="273.4" cy="118.3" r="2.7"/><circle cx="259.7" cy="132" r="2.7"/><circle cx="255.1" cy="109.2" r="2.7"/><circle cx="264.3" cy="109.2" r="2.7"/><circle cx="250.6" cy="113.7" r="2.7"/><circle cx="268.8" cy="113.7" r="2.7"/><circle cx="250.6" cy="122.9" r="2.7"/><circle cx="268.8" cy="122.9" r="2.7"/><circle cx="255.1" cy="127.4" r="2.7"/><circle cx="264.3" cy="127.4" r="2.7"/><circle cx="259.7" cy="113.7" r="2.7"/><circle cx="255.1" cy="118.3" r="2.7"/><circle cx="264.3" cy="118.3" r="2.7"/><circle cx="259.7" cy="122.9" r="2.7"/></g><polygon points="333.6,12.2 353.8,12.2 367.2,25.6 367.2,45.8 353.8,59.2 333.6,59.2 320.2,45.8 320.2,25.6" fill="#777780" stroke="#777780" stroke-width="1.7" stroke-linejoin="round"/><g class="y"><circle cx="319.7" cy="30.7" r="1.8"/><circle cx="319.7" cy="34" r="1.8"/><circle cx="319.7" cy="37.4" r="1.8"/><circle cx="319.7" cy="40.7" r="1.8"/><circle cx="367.7" cy="30.7" r="1.8"/><circle cx="367.7" cy="34" r="1.8"/><circle cx="367.7" cy="37.4" r="1.8"/><circle cx="367.7" cy="40.7" r="1.8"/></g><g class="y"><circle cx="337" cy="12.2" r="1.77"/><circle cx="350.4" cy="12.2" r="1.77"/><circle cx="320.2" cy="29" r="1.77"/><circle cx="367.2" cy="29" r="1.77"/><circle cx="320.2" cy="42.4" r="1.77"/><circle cx="367.2" cy="42.4" r="1.77"/><circle cx="337" cy="59.2" r="1.77"/><circle cx="350.4" cy="59.2" r="1.77"/><circle cx="343.7" cy="12.2" r="1.77"/><circle cx="320.2" cy="35.7" r="1.77"/><circle cx="367.2" cy="35.7" r="1.77"/><circle cx="343.7" cy="59.2" r="1.77"/><circle cx="333.6" cy="15.5" r="1.77"/><circle cx="353.8" cy="15.5" r="1.77"/><circle cx="323.5" cy="25.6" r="1.77"/><circle cx="363.9" cy="25.6" r="1.77"/><circle cx="323.5" cy="45.8" r="1.77"/><circle cx="363.9" cy="45.8" r="1.77"/><circle cx="333.6" cy="55.9" r="1.77"/><circle cx="353.8" cy="55.9" r="1.77"/><circle cx="330.3" cy="18.9" r="1.77"/><circle cx="357.1" cy="18.9" r="1.77"/><circle cx="326.9" cy="22.3" r="1.77"/><circle cx="360.5" cy="22.3" r="1.77"/><circle cx="326.9" cy="49.1" r="1.77"/><circle cx="360.5" cy="49.1" r="1.77"/><circle cx="330.3" cy="52.5" r="1.77"/><circle cx="357.1" cy="52.5" r="1.77"/><circle cx="340.3" cy="15.5" r="1.77"/><circle cx="347.1" cy="15.5" r="1.77"/><circle cx="323.5" cy="32.3" r="1.77"/><circle cx="363.9" cy="32.3" r="1.77"/><circle cx="323.5" cy="39.1" r="1.77"/><circle cx="363.9" cy="39.1" r="1.77"/><circle cx="340.3" cy="55.9" r="1.77"/><circle cx="347.1" cy="55.9" r="1.77"/><circle cx="337" cy="18.9" r="1.77"/><circle cx="350.4" cy="18.9" r="1.77"/><circle cx="326.9" cy="29" r="1.77"/><circle cx="360.5" cy="29" r="1.77"/><circle cx="326.9" cy="42.4" r="1.77"/><circle cx="360.5" cy="42.4" r="1.77"/><circle cx="337" cy="52.5" r="1.77"/><circle cx="350.4" cy="52.5" r="1.77"/><circle cx="343.7" cy="18.9" r="1.77"/><circle cx="333.6" cy="22.3" r="1.77"/><circle cx="353.8" cy="22.3" r="1.77"/><circle cx="330.3" cy="25.6" r="1.77"/><circle cx="357.1" cy="25.6" r="1.77"/><circle cx="326.9" cy="35.7" r="1.77"/><circle cx="360.5" cy="35.7" r="1.77"/><circle cx="330.3" cy="45.8" r="1.77"/><circle cx="357.1" cy="45.8" r="1.77"/><circle cx="333.6" cy="49.1" r="1.77"/><circle cx="353.8" cy="49.1" r="1.77"/><circle cx="343.7" cy="52.5" r="1.77"/><circle cx="340.3" cy="22.3" r="1.77"/><circle cx="347.1" cy="22.3" r="1.77"/><circle cx="330.3" cy="32.3" r="1.77"/><circle cx="357.1" cy="32.3" r="1.77"/><circle cx="330.3" cy="39.1" r="1.77"/><circle cx="357.1" cy="39.1" r="1.77"/><circle cx="340.3" cy="49.1" r="1.77"/><circle cx="347.1" cy="49.1" r="1.77"/><circle cx="337" cy="25.6" r="1.77"/><circle cx="350.4" cy="25.6" r="1.77"/><circle cx="333.6" cy="29" r="1.77"/><circle cx="353.8" cy="29" r="1.77"/><circle cx="333.6" cy="42.4" r="1.77"/><circle cx="353.8" cy="42.4" r="1.77"/><circle cx="337" cy="45.8" r="1.77"/><circle cx="350.4" cy="45.8" r="1.77"/><circle cx="343.7" cy="25.6" r="1.77"/><circle cx="333.6" cy="35.7" r="1.77"/><circle cx="353.8" cy="35.7" r="1.77"/><circle cx="343.7" cy="45.8" r="1.77"/><circle cx="340.3" cy="29" r="1.77"/><circle cx="347.1" cy="29" r="1.77"/><circle cx="337" cy="32.3" r="1.77"/><circle cx="350.4" cy="32.3" r="1.77"/><circle cx="337" cy="39.1" r="1.77"/><circle cx="350.4" cy="39.1" r="1.77"/><circle cx="340.3" cy="42.4" r="1.77"/><circle cx="347.1" cy="42.4" r="1.77"/><circle cx="343.7" cy="32.3" r="1.77"/><circle cx="340.3" cy="35.7" r="1.77"/><circle cx="347.1" cy="35.7" r="1.77"/><circle cx="343.7" cy="39.1" r="1.77"/></g><g class="y"><circle cx="333.6" cy="12.2" r="2.05"/><circle cx="353.8" cy="12.2" r="2.05"/><circle cx="320.2" cy="25.6" r="2.05"/><circle cx="367.2" cy="25.6" r="2.05"/><circle cx="320.2" cy="45.8" r="2.05"/><circle cx="367.2" cy="45.8" r="2.05"/><circle cx="333.6" cy="59.2" r="2.05"/><circle cx="353.8" cy="59.2" r="2.05"/><circle cx="330.3" cy="15.5" r="2.05"/><circle cx="357.1" cy="15.5" r="2.05"/><circle cx="323.5" cy="22.3" r="2.05"/><circle cx="363.9" cy="22.3" r="2.05"/><circle cx="323.5" cy="49.1" r="2.05"/><circle cx="363.9" cy="49.1" r="2.05"/><circle cx="330.3" cy="55.9" r="2.05"/><circle cx="357.1" cy="55.9" r="2.05"/><circle cx="340.3" cy="12.2" r="2.05"/><circle cx="347.1" cy="12.2" r="2.05"/><circle cx="326.9" cy="18.9" r="2.05"/><circle cx="360.5" cy="18.9" r="2.05"/><circle cx="320.2" cy="32.3" r="2.05"/><circle cx="367.2" cy="32.3" r="2.05"/><circle cx="320.2" cy="39.1" r="2.05"/><circle cx="367.2" cy="39.1" r="2.05"/><circle cx="326.9" cy="52.5" r="2.05"/><circle cx="360.5" cy="52.5" r="2.05"/><circle cx="340.3" cy="59.2" r="2.05"/><circle cx="347.1" cy="59.2" r="2.05"/></g><g class="n"><circle cx="337" cy="15.5" r="2.05"/><circle cx="350.4" cy="15.5" r="2.05"/><circle cx="323.5" cy="29" r="2.05"/><circle cx="363.9" cy="29" r="2.05"/><circle cx="323.5" cy="42.4" r="2.05"/><circle cx="363.9" cy="42.4" r="2.05"/><circle cx="337" cy="55.9" r="2.05"/><circle cx="350.4" cy="55.9" r="2.05"/><circle cx="343.7" cy="15.5" r="2.05"/><circle cx="323.5" cy="35.7" r="2.05"/><circle cx="363.9" cy="35.7" r="2.05"/><circle cx="343.7" cy="55.9" r="2.05"/><circle cx="333.6" cy="18.9" r="2.05"/><circle cx="353.8" cy="18.9" r="2.05"/><circle cx="326.9" cy="25.6" r="2.05"/><circle cx="360.5" cy="25.6" r="2.05"/><circle cx="326.9" cy="45.8" r="2.05"/><circle cx="360.5" cy="45.8" r="2.05"/><circle cx="333.6" cy="52.5" r="2.05"/><circle cx="353.8" cy="52.5" r="2.05"/><circle cx="330.3" cy="22.3" r="2.05"/><circle cx="357.1" cy="22.3" r="2.05"/><circle cx="330.3" cy="49.1" r="2.05"/><circle cx="357.1" cy="49.1" r="2.05"/></g><g class="y"><circle cx="340.3" cy="18.9" r="2.05"/><circle cx="347.1" cy="18.9" r="2.05"/><circle cx="326.9" cy="32.3" r="2.05"/><circle cx="360.5" cy="32.3" r="2.05"/><circle cx="326.9" cy="39.1" r="2.05"/><circle cx="360.5" cy="39.1" r="2.05"/><circle cx="340.3" cy="52.5" r="2.05"/><circle cx="347.1" cy="52.5" r="2.05"/></g><g class="n"><circle cx="337" cy="22.3" r="2.05"/><circle cx="350.4" cy="22.3" r="2.05"/><circle cx="330.3" cy="29" r="2.05"/><circle cx="357.1" cy="29" r="2.05"/><circle cx="330.3" cy="42.4" r="2.05"/><circle cx="357.1" cy="42.4" r="2.05"/><circle cx="337" cy="49.1" r="2.05"/><circle cx="350.4" cy="49.1" r="2.05"/><circle cx="333.6" cy="25.6" r="2.05"/><circle cx="353.8" cy="25.6" r="2.05"/><circle cx="333.6" cy="45.8" r="2.05"/><circle cx="353.8" cy="45.8" r="2.05"/><circle cx="343.7" cy="22.3" r="2.05"/><circle cx="330.3" cy="35.7" r="2.05"/><circle cx="357.1" cy="35.7" r="2.05"/><circle cx="343.7" cy="49.1" r="2.05"/></g><g class="y"><circle cx="340.3" cy="25.6" r="2.05"/><circle cx="347.1" cy="25.6" r="2.05"/><circle cx="333.6" cy="32.3" r="2.05"/><circle cx="353.8" cy="32.3" r="2.05"/><circle cx="333.6" cy="39.1" r="2.05"/><circle cx="353.8" cy="39.1" r="2.05"/><circle cx="340.3" cy="45.8" r="2.05"/><circle cx="347.1" cy="45.8" r="2.05"/><circle cx="337" cy="29" r="2.05"/><circle cx="350.4" cy="29" r="2.05"/><circle cx="337" cy="42.4" r="2.05"/><circle cx="350.4" cy="42.4" r="2.05"/></g><g class="n"><circle cx="343.7" cy="29" r="2.05"/><circle cx="337" cy="35.7" r="2.05"/><circle cx="350.4" cy="35.7" r="2.05"/><circle cx="343.7" cy="42.4" r="2.05"/></g><g class="y"><circle cx="340.3" cy="32.3" r="2.05"/><circle cx="347.1" cy="32.3" r="2.05"/><circle cx="340.3" cy="39.1" r="2.05"/><circle cx="347.1" cy="39.1" r="2.05"/></g><g class="n"><circle cx="343.7" cy="35.7" r="2.05"/></g><polygon fill="#7b7b83" points="392.6,16.7 413.4,16.7 428.1,31.4 428.1,52.2 413.4,66.9 392.6,66.9 377.9,52.2 377.9,31.4"/><path d="M392.6 18.9h0m4.2 0h0m4.1 0h0m4.2 0h0m4.1 0h0m4.2 0h0m-25 4.2h0m29.2 0h0m-33.3 4.1h0m8.3 0h0m4.2 0h0m12.4 0h0m4.2 0h0m8.3 0h0m-41.6 4.2h0m8.3 0h0m4.2 0h0m4.2 0h0m12.4 0h0m4.2 0h0m4.2 0h0m8.3 0h0m-45.8 4.2h0m8.3 0h0m4.2 0h0m4.2 0h0m12.4 0h0m4.2 0h0m4.2 0h0m8.3 0h0m-45.8 4.1h0m45.8 0h0m-45.8 4.2h0m45.8 0h0m-45.8 4.1h0m8.3 0h0m4.2 0h0m4.2 0h0m12.4 0h0m4.2 0h0m4.2 0h0m8.3 0h0m-45.8 4.2h0m8.3 0h0m4.2 0h0m4.2 0h0m12.4 0h0m4.2 0h0m4.2 0h0m8.3 0h0m-41.6 4.2h0m8.3 0h0m4.2 0h0m12.4 0h0m4.2 0h0m8.3 0h0m-33.3 4.1h0m29.2 0h0m-25 4.2h0m4.2 0h0m4.1 0h0m4.2 0h0m4.1 0h0m4.2 0h0" stroke="#c4c4cc" stroke-width="2.4" stroke-linecap="round" fill="none"/><path d="M392.6 23.1h0m4.2 0h0m4.1 0h0m4.2 0h0m4.1 0h0m4.2 0h0m-25 4.1h0m12.5 0h0m4.2 0h0m12.5 0h0m-33.3 4.2h0m16.6 0h0m4.2 0h0m16.6 0h0m-37.4 4.2h0m37.4 0h0m-37.4 4.1h0m4.1 0h0m4.2 0h0m8.3 0h0m4.2 0h0m8.3 0h0m4.2 0h0m4.1 0h0m-37.4 4.2h0m4.1 0h0m4.2 0h0m8.3 0h0m4.2 0h0m8.3 0h0m4.2 0h0m4.1 0h0m-37.4 4.1h0m37.4 0h0m-37.4 4.2h0m16.6 0h0m4.2 0h0m16.6 0h0m-33.3 4.2h0m12.5 0h0m4.2 0h0m12.5 0h0m-25 4.1h0m4.2 0h0m4.1 0h0m4.2 0h0m4.1 0h0m4.2 0h0" stroke="#5cb864" stroke-width="2.4" stroke-linecap="round" fill="none"/><path d="M400.9 35.6h0m4.2 0h0m-8.3 4.1h0m12.4 0h0m-12.4 4.2h0m12.4 0h0m-8.3 4.1h0m4.2 0h0" stroke="#d4d4dc" stroke-width="2.4" stroke-linecap="round" fill="none"/><path d="M390.5 21h0m25 0h0m-29.1 4.2h0m8.3 0h0m4.1 0h0m8.4 0h0m4.1 0h0m8.3 0h0m-37.4 4.1h0m8.3 0h0m4.2 0h0m4.1 0h0m8.4 0h0m4.1 0h0m4.2 0h0m8.3 0h0m-37.4 4.2h0m4.1 0h0m4.2 0h0m4.1 0h0m8.4 0h0m4.1 0h0m4.2 0h0m4.1 0h0m-33.2 4.1h0m4.1 0h0m4.2 0h0m16.6 0h0m4.2 0h0m4.1 0h0m-33.2 8.4h0m4.1 0h0m4.2 0h0m16.6 0h0m4.2 0h0m4.1 0h0m-33.2 4.1h0m4.1 0h0m4.2 0h0m4.1 0h0m8.4 0h0m4.1 0h0m4.2 0h0m4.1 0h0m-37.4 4.2h0m8.3 0h0m4.2 0h0m4.1 0h0m8.4 0h0m4.1 0h0m4.2 0h0m8.3 0h0m-37.4 4.1h0m8.3 0h0m4.1 0h0m8.4 0h0m4.1 0h0m8.3 0h0m-29.1 4.2h0m25 0h0" stroke="#c4c4cc" stroke-width="2.4" stroke-linecap="round" fill="none"/><path d="M394.7 21h0m4.1 0h0m4.2 0h0m4.2 0h0m4.1 0h0m-20.8 4.2h0m12.5 0h0m12.5 0h0m-29.1 4.1h0m16.6 0h0m16.6 0h0m-37.4 4.2h0m41.6 0h0m-41.6 4.1h0m20.8 0h0m20.8 0h0m-41.6 4.2h0m4.2 0h0m4.1 0h0m8.3 0h0m8.4 0h0m8.3 0h0m4.1 0h0m4.2 0h0m-41.6 4.2h0m20.8 0h0m20.8 0h0m-41.6 4.1h0m41.6 0h0m-37.4 4.2h0m16.6 0h0m16.6 0h0m-29.1 4.1h0m12.5 0h0m12.5 0h0m-20.8 4.2h0m4.1 0h0m4.2 0h0m4.2 0h0m4.1 0h0" stroke="#5cb864" stroke-width="2.4" stroke-linecap="round" fill="none"/><path d="M403 33.5h0m-4.2 4.1h0m8.4 0h0m-12.5 4.2h0m8.3 0h0m8.3 0h0m-12.5 4.2h0m8.4 0h0m-4.2 4.1h0" stroke="#d4d4dc" stroke-width="2.4" stroke-linecap="round" fill="none"/><polygon fill="#787880" points="323.9,104.4 344.9,104.4 359.7,119.2 359.7,140.2 344.9,155 323.9,155 309.1,140.2 309.1,119.2"/><path d="M327.2 105.7h0m4.8 0h0m4.8 0h0m4.8 0h0m-14.4 4.8h0m4.8 0h0m4.8 0h0m4.8 0h0m-16.8 2.4h0m4.8 0h0m4.8 0h0m4.8 0h0m4.8 0h0m-21.6 2.4h0m4.8 0h0m4.8 0h0m4.8 0h0m4.8 0h0m4.8 0h0m-26.4 2.4h0m4.8 0h0m4.8 0h0m4.8 0h0m4.8 0h0m4.8 0h0m4.8 0h0m-31.2 2.4h0m4.8 0h0m4.8 0h0m4.8 0h0m4.8 0h0m4.8 0h0m4.8 0h0m4.8 0h0m-40.8 2.4h0m4.8 0h0m4.8 0h0m4.8 0h0m4.8 0h0m4.8 0h0m4.8 0h0m4.8 0h0m4.8 0h0m4.8 0h0m4.8 0h0m-40.8 2.4h0m4.8 0h0m4.8 0h0m4.8 0h0m4.8 0h0m4.8 0h0m4.8 0h0m4.8 0h0m-40.8 2.4h0m4.8 0h0m4.8 0h0m4.8 0h0m4.8 0h0m4.8 0h0m4.8 0h0m4.8 0h0m4.8 0h0m4.8 0h0m4.8 0h0m-40.8 2.4h0m4.8 0h0m4.8 0h0m4.8 0h0m4.8 0h0m4.8 0h0m4.8 0h0m4.8 0h0m-40.8 2.4h0m4.8 0h0m4.8 0h0m4.8 0h0m4.8 0h0m4.8 0h0m4.8 0h0m4.8 0h0m4.8 0h0m4.8 0h0m4.8 0h0m-40.8 2.4h0m4.8 0h0m4.8 0h0m4.8 0h0m4.8 0h0m4.8 0h0m4.8 0h0m4.8 0h0m-40.8 2.4h0m4.8 0h0m4.8 0h0m4.8 0h0m4.8 0h0m4.8 0h0m4.8 0h0m4.8 0h0m4.8 0h0m4.8 0h0m4.8 0h0m-40.8 2.4h0m4.8 0h0m4.8 0h0m4.8 0h0m4.8 0h0m4.8 0h0m4.8 0h0m4.8 0h0m-31.2 2.4h0m4.8 0h0m4.8 0h0m4.8 0h0m4.8 0h0m4.8 0h0m4.8 0h0m-26.4 2.4h0m4.8 0h0m4.8 0h0m4.8 0h0m4.8 0h0m4.8 0h0m-21.6 2.4h0m4.8 0h0m4.8 0h0m4.8 0h0m4.8 0h0m-16.8 2.4h0m4.8 0h0m4.8 0h0m4.8 0h0m-14.4 4.8h0m4.8 0h0m4.8 0h0m4.8 0h0" stroke="#c4c4cc" stroke-width="2" stroke-linecap="round" fill="none"/><path d="M324.8 108.1h0m4.8 0h0m4.8 0h0m4.8 0h0m4.8 0h0m-21.6 2.4h0m24 0h0m-26.4 2.4h0m28.8 0h0m-31.2 2.4h0m33.6 0h0m-36 2.4h0m38.4 0h0m-40.8 2.4h0m43.2 0h0m-43.2 4.8h0m43.2 0h0m-43.2 4.8h0m43.2 0h0m-43.2 4.8h0m43.2 0h0m-43.2 4.8h0m43.2 0h0m-40.8 2.4h0m38.4 0h0m-36 2.4h0m33.6 0h0m-31.2 2.4h0m28.8 0h0m-26.4 2.4h0m24 0h0m-21.6 2.4h0m4.8 0h0m4.8 0h0m4.8 0h0m4.8 0h0" stroke="#5cb864" stroke-width="2" stroke-linecap="round" fill="none"/><path d="M324.8 105.7h0m4.8 0h0m4.8 0h0m4.8 0h0m4.8 0h0m-21.6 2.4h0m24 0h0m-26.4 2.4h0m28.8 0h0m-31.2 2.4h0m9.6 0h0m4.8 0h0m4.8 0h0m4.8 0h0m9.6 0h0m-36 2.4h0m9.6 0h0m4.8 0h0m4.8 0h0m4.8 0h0m4.8 0h0m9.6 0h0m-40.8 2.4h0m9.6 0h0m4.8 0h0m4.8 0h0m4.8 0h0m4.8 0h0m4.8 0h0m9.6 0h0m-45.6 2.4h0m9.6 0h0m4.8 0h0m4.8 0h0m4.8 0h0m4.8 0h0m4.8 0h0m4.8 0h0m9.6 0h0m-40.8 2.4h0m4.8 0h0m4.8 0h0m14.4 0h0m4.8 0h0m4.8 0h0m-40.8 2.4h0m9.6 0h0m4.8 0h0m9.6 0h0m9.6 0h0m4.8 0h0m9.6 0h0m-40.8 2.4h0m4.8 0h0m9.6 0h0m4.8 0h0m9.6 0h0m4.8 0h0m-40.8 2.4h0m9.6 0h0m4.8 0h0m4.8 0h0m4.8 0h0m4.8 0h0m4.8 0h0m4.8 0h0m9.6 0h0m-40.8 2.4h0m4.8 0h0m9.6 0h0m4.8 0h0m9.6 0h0m4.8 0h0m-40.8 2.4h0m9.6 0h0m4.8 0h0m9.6 0h0m9.6 0h0m4.8 0h0m9.6 0h0m-40.8 2.4h0m4.8 0h0m4.8 0h0m14.4 0h0m4.8 0h0m4.8 0h0m-40.8 2.4h0m9.6 0h0m4.8 0h0m4.8 0h0m4.8 0h0m4.8 0h0m4.8 0h0m4.8 0h0m9.6 0h0m-45.6 2.4h0m9.6 0h0m4.8 0h0m4.8 0h0m4.8 0h0m4.8 0h0m4.8 0h0m9.6 0h0m-40.8 2.4h0m9.6 0h0m4.8 0h0m4.8 0h0m4.8 0h0m4.8 0h0m9.6 0h0m-36 2.4h0m9.6 0h0m4.8 0h0m4.8 0h0m4.8 0h0m9.6 0h0m-31.2 2.4h0m28.8 0h0m-26.4 2.4h0m24 0h0m-21.6 2.4h0m4.8 0h0m4.8 0h0m4.8 0h0m4.8 0h0" stroke="#c4c4cc" stroke-width="2" stroke-linecap="round" fill="none"/><path d="M327.2 108.1h0m4.8 0h0m4.8 0h0m4.8 0h0m-16.8 2.4h0m4.8 0h0m4.8 0h0m4.8 0h0m4.8 0h0m-21.6 2.4h0m24 0h0m-26.4 2.4h0m28.8 0h0m-31.2 2.4h0m33.6 0h0m-36 2.4h0m38.4 0h0m-40.8 2.4h0m19.2 0h0m4.8 0h0m19.2 0h0m-40.8 2.4h0m14.4 0h0m9.6 0h0m14.4 0h0m-40.8 2.4h0m14.4 0h0m14.4 0h0m14.4 0h0m-40.8 2.4h0m38.4 0h0m-40.8 2.4h0m14.4 0h0m14.4 0h0m14.4 0h0m-40.8 2.4h0m14.4 0h0m9.6 0h0m14.4 0h0m-40.8 2.4h0m19.2 0h0m4.8 0h0m19.2 0h0m-40.8 2.4h0m38.4 0h0m-36 2.4h0m33.6 0h0m-31.2 2.4h0m28.8 0h0m-26.4 2.4h0m24 0h0m-21.6 2.4h0m4.8 0h0m4.8 0h0m4.8 0h0m4.8 0h0m-16.8 2.4h0m4.8 0h0m4.8 0h0m4.8 0h0" stroke="#5cb864" stroke-width="2" stroke-linecap="round" fill="none"/>
<rect x="232.2" y="9.3" width="200.9" height="149" fill="none" stroke="#484848" stroke-width="0.6"/>
<path d="M237.1 158.3v3.2M264.2 158.3v3.2M291.4 158.3v3.2M318.5 158.3v3.2M345.6 158.3v3.2M372.8 158.3v3.2M399.9 158.3v3.2M427 158.3v3.2M232.2 158.3h-3.2M232.2 128.5h-3.2M232.2 98.7h-3.2M232.2 68.9h-3.2M232.2 39.1h-3.2M232.2 9.3h-3.2" stroke="#484848" stroke-width="0.6" fill="none"/>
<text class="t" text-anchor="middle" x="332.6" y="6.9" style="font-size:7.4px">Pt<tspan class="s" dy="1.3">0.75</tspan><tspan dy="-1.3">Ni</tspan><tspan class="s" dy="1.3">0.25</tspan></text>
<text class="L" x="234.7" y="22.4">b</text>
</g>
<g id="panel-c">
<polyline fill="none" stroke="#1f77b4" stroke-width="0.9" stroke-linejoin="round" points="451,52 462.4,61.9 478.5,73.2 494.2,81.7 505.5,86.7 515.1,88.8 521.5,94.9 531.6,97.6 537.2,102.1 548.5,105.8 564.5,110.6 580.3,116.7 591.3,120.4 607.4,125.8 623.5,131 634.4,124.7"/>
<g fill="#1f77b4"><circle cx="451" cy="52" r="0.9"/><circle cx="462.4" cy="61.9" r="0.9"/><circle cx="478.5" cy="73.2" r="0.9"/><circle cx="494.2" cy="81.7" r="0.9"/><circle cx="505.5" cy="86.7" r="0.9"/><circle cx="515.1" cy="88.8" r="0.9"/><circle cx="521.5" cy="94.9" r="0.9"/><circle cx="531.6" cy="97.6" r="0.9"/><circle cx="537.2" cy="102.1" r="0.9"/><circle cx="548.5" cy="105.8" r="0.9"/><circle cx="564.5" cy="110.6" r="0.9"/><circle cx="580.3" cy="116.7" r="0.9"/><circle cx="591.3" cy="120.4" r="0.9"/><circle cx="607.4" cy="125.8" r="0.9"/><circle cx="623.5" cy="131" r="0.9"/><circle cx="634.4" cy="124.7" r="0.9"/></g>
<polyline fill="none" stroke="#ff7f0e" stroke-width="0.9" stroke-linejoin="round" points="452.6,44.8 478,59.7 503.4,72.1 528.7,80.9 554.1,91.3 579.8,99 605.1,104.5 630.7,101"/>
<g fill="#ff7f0e"><circle cx="452.6" cy="44.8" r="0.9"/><circle cx="478" cy="59.7" r="0.9"/><circle cx="503.4" cy="72.1" r="0.9"/><circle cx="528.7" cy="80.9" r="0.9"/><circle cx="554.1" cy="91.3" r="0.9"/><circle cx="579.8" cy="99" r="0.9"/><circle cx="605.1" cy="104.5" r="0.9"/><circle cx="630.7" cy="101" r="0.9"/></g>
<polyline fill="none" stroke="#2ca02c" stroke-width="0.9" stroke-linejoin="round" points="452.6,64.3 477.7,79.9 503.4,89.2 529.1,97.3 554.1,104.5 579.8,110.9 605.1,117.3 630.7,115.9"/>
<g fill="#2ca02c"><circle cx="452.6" cy="64.3" r="0.9"/><circle cx="477.7" cy="79.9" r="0.9"/><circle cx="503.4" cy="89.2" r="0.9"/><circle cx="529.1" cy="97.3" r="0.9"/><circle cx="554.1" cy="104.5" r="0.9"/><circle cx="579.8" cy="110.9" r="0.9"/><circle cx="605.1" cy="117.3" r="0.9"/><circle cx="630.7" cy="115.9" r="0.9"/></g>
<polyline fill="none" stroke="#d62728" stroke-width="0.9" stroke-linejoin="round" points="461,60 468.2,63.1 479,71.1 491.8,75.9 499.8,80.4 510.3,85.7 518.8,90.4 527.1,93.7 549.3,103.8 576.6,114.3 606.7,114.3 633.9,114.9"/>
<g fill="#d62728"><circle cx="461" cy="60" r="0.9"/><circle cx="468.2" cy="63.1" r="0.9"/><circle cx="479" cy="71.1" r="0.9"/><circle cx="491.8" cy="75.9" r="0.9"/><circle cx="499.8" cy="80.4" r="0.9"/><circle cx="510.3" cy="85.7" r="0.9"/><circle cx="518.8" cy="90.4" r="0.9"/><circle cx="527.1" cy="93.7" r="0.9"/><circle cx="549.3" cy="103.8" r="0.9"/><circle cx="576.6" cy="114.3" r="0.9"/><circle cx="606.7" cy="114.3" r="0.9"/><circle cx="633.9" cy="114.9" r="0.9"/></g>
<line x1="477.7" y1="79.9" x2="472.5" y2="95.7" stroke="#0a0a0a" stroke-width="0.9" stroke-dasharray="3 1.3"/>
<line x1="540.8" y1="64.8" x2="529.1" y2="95.7" stroke="#0a0a0a" stroke-width="0.9" stroke-dasharray="3 1.3"/>
<line x1="622.3" y1="86.5" x2="634.4" y2="124.7" stroke="#0a0a0a" stroke-width="0.9" stroke-dasharray="3 1.3"/>
<line x1="580.3" y1="116.7" x2="551.7" y2="130.2" stroke="#0a0a0a" stroke-width="0.9" stroke-dasharray="3 1.3"/>
<polygon points="465.9,99.7 473,100.8 479.4,104.1 484.4,109.1 487.7,115.5 488.8,122.6 487.7,129.7 484.4,136.1 479.4,141.1 473,144.4 465.9,145.5 458.8,144.4 452.4,141.1 447.4,136.1 444.1,129.7 443,122.6 444.1,115.5 447.4,109.1 452.4,104.1 458.8,100.8" fill="#83838b" stroke="#83838b" stroke-width="3.5" stroke-linejoin="round"/><circle cx="465.9" cy="122.6" r="14.8" fill="#448a4c"/><g class="y"><circle cx="462.8" cy="142" r="2.95"/><circle cx="457" cy="140.1" r="2.95"/><circle cx="452" cy="136.5" r="2.95"/><circle cx="448.4" cy="131.5" r="2.95"/><circle cx="446.5" cy="125.7" r="2.95"/><circle cx="446.5" cy="119.5" r="2.95"/><circle cx="448.4" cy="113.7" r="2.95"/><circle cx="452" cy="108.7" r="2.95"/><circle cx="457" cy="105.1" r="2.95"/><circle cx="462.8" cy="103.2" r="2.95"/><circle cx="469" cy="103.2" r="2.95"/><circle cx="474.8" cy="105.1" r="2.95"/><circle cx="479.8" cy="108.7" r="2.95"/><circle cx="483.4" cy="113.7" r="2.95"/><circle cx="485.3" cy="119.5" r="2.95"/><circle cx="485.3" cy="125.7" r="2.95"/><circle cx="483.4" cy="131.5" r="2.95"/><circle cx="479.8" cy="136.5" r="2.95"/><circle cx="474.8" cy="140.1" r="2.95"/><circle cx="469" cy="142" r="2.95"/><circle cx="465.9" cy="99.7" r="2.95"/><circle cx="473" cy="100.8" r="2.95"/><circle cx="479.4" cy="104.1" r="2.95"/><circle cx="484.4" cy="109.1" r="2.95"/><circle cx="487.7" cy="115.5" r="2.95"/><circle cx="488.8" cy="122.6" r="2.95"/><circle cx="487.7" cy="129.7" r="2.95"/><circle cx="484.4" cy="136.1" r="2.95"/><circle cx="479.4" cy="141.1" r="2.95"/><circle cx="473" cy="144.4" r="2.95"/><circle cx="465.9" cy="145.5" r="2.95"/><circle cx="458.8" cy="144.4" r="2.95"/><circle cx="452.4" cy="141.1" r="2.95"/><circle cx="447.4" cy="136.1" r="2.95"/><circle cx="444.1" cy="129.7" r="2.95"/><circle cx="443" cy="122.6" r="2.95"/><circle cx="444.1" cy="115.5" r="2.95"/><circle cx="447.4" cy="109.1" r="2.95"/><circle cx="452.4" cy="104.1" r="2.95"/><circle cx="458.8" cy="100.8" r="2.95"/><circle cx="465.9" cy="138.8" r="2.95"/></g><g class="n"><circle cx="459.3" cy="137.4" r="2.95"/><circle cx="453.9" cy="133.4" r="2.95"/></g><g class="y"><circle cx="450.5" cy="127.6" r="2.95"/></g><g class="n"><circle cx="449.8" cy="120.9" r="2.95"/><circle cx="451.9" cy="114.5" r="2.95"/></g><g class="y"><circle cx="456.4" cy="109.5" r="2.95"/></g><g class="n"><circle cx="462.5" cy="106.8" r="2.95"/><circle cx="469.3" cy="106.8" r="2.95"/></g><g class="y"><circle cx="475.4" cy="109.5" r="2.95"/></g><g class="n"><circle cx="479.9" cy="114.5" r="2.95"/><circle cx="482" cy="120.9" r="2.95"/></g><g class="y"><circle cx="481.3" cy="127.6" r="2.95"/></g><g class="n"><circle cx="477.9" cy="133.4" r="2.95"/><circle cx="472.5" cy="137.4" r="2.95"/><circle cx="462.5" cy="112.2" r="2.95"/><circle cx="469.3" cy="112.2" r="2.95"/><circle cx="474.7" cy="116.2" r="2.95"/><circle cx="476.8" cy="122.6" r="2.95"/><circle cx="474.7" cy="129" r="2.95"/><circle cx="469.3" cy="133" r="2.95"/><circle cx="462.5" cy="133" r="2.95"/><circle cx="457.1" cy="129" r="2.95"/><circle cx="455" cy="122.6" r="2.95"/><circle cx="457.1" cy="116.2" r="2.95"/><circle cx="465.9" cy="117" r="2.95"/><circle cx="471.2" cy="120.9" r="2.95"/><circle cx="469.2" cy="127.1" r="2.95"/><circle cx="462.6" cy="127.1" r="2.95"/><circle cx="460.6" cy="120.9" r="2.95"/><circle cx="465.9" cy="122.6" r="2.95"/></g><circle cx="465.9" cy="122.6" r="25.9" fill="url(#sh0)"/><polygon fill="#626c66" points="512.1,104.9 533.7,104.9 549,120.2 549,141.8 533.7,157.1 512.1,157.1 496.8,141.8 496.8,120.2"/><path d="M511.6 107.2h0m2.5 0h0m2.5 0h0m2.5 0h0m2.5 0h0m2.5 0h0m2.5 0h0m2.5 0h0m2.5 0h0m2.5 0h0m-25 2.6h0m2.5 0h0m22.5 0h0m2.5 0h0m-30 2.4h0m2.5 0h0m27.5 0h0m2.5 0h0m-35 2.6h0m2.5 0h0m32.5 0h0m2.5 0h0m-40 2.4h0m2.5 0h0m37.5 0h0m2.5 0h0m-45 2.6h0m2.5 0h0m42.5 0h0m2.5 0h0m-47.5 2.4h0m47.5 0h0m-47.5 2.6h0m47.5 0h0m-47.5 2.4h0m47.5 0h0m-47.5 2.6h0m47.5 0h0m-47.5 2.4h0m47.5 0h0m-47.5 2.6h0m47.5 0h0m-47.5 2.4h0m47.5 0h0m-47.5 2.6h0m47.5 0h0m-47.5 2.4h0m2.5 0h0m42.5 0h0m2.5 0h0m-45 2.6h0m2.5 0h0m37.5 0h0m2.5 0h0m-40 2.4h0m2.5 0h0m32.5 0h0m2.5 0h0m-35 2.6h0m2.5 0h0m27.5 0h0m2.5 0h0m-30 2.4h0m2.5 0h0m22.5 0h0m2.5 0h0m-25 2.6h0m2.5 0h0m2.5 0h0m2.5 0h0m2.5 0h0m2.5 0h0m2.5 0h0m2.5 0h0m2.5 0h0m2.5 0h0" stroke="#74747c" stroke-width="1.6" stroke-linecap="round" fill="none"/><path d="M514.1 109.8h0m2.5 0h0m2.5 0h0m2.5 0h0m2.5 0h0m2.5 0h0m2.5 0h0m2.5 0h0m-20 2.4h0m2.5 0h0m2.5 0h0m2.5 0h0m2.5 0h0m2.5 0h0m2.5 0h0m2.5 0h0m2.5 0h0m2.5 0h0m-25 2.6h0m2.5 0h0m2.5 0h0m2.5 0h0m2.5 0h0m2.5 0h0m2.5 0h0m2.5 0h0m2.5 0h0m2.5 0h0m2.5 0h0m2.5 0h0m-30 2.4h0m2.5 0h0m2.5 0h0m2.5 0h0m2.5 0h0m2.5 0h0m2.5 0h0m2.5 0h0m2.5 0h0m2.5 0h0m2.5 0h0m2.5 0h0m2.5 0h0m2.5 0h0m-35 2.6h0m2.5 0h0m2.5 0h0m2.5 0h0m2.5 0h0m2.5 0h0m2.5 0h0m2.5 0h0m2.5 0h0m2.5 0h0m2.5 0h0m2.5 0h0m2.5 0h0m2.5 0h0m2.5 0h0m2.5 0h0m-40 2.4h0m2.5 0h0m2.5 0h0m2.5 0h0m2.5 0h0m2.5 0h0m2.5 0h0m2.5 0h0m2.5 0h0m2.5 0h0m2.5 0h0m2.5 0h0m2.5 0h0m2.5 0h0m2.5 0h0m2.5 0h0m2.5 0h0m2.5 0h0m-42.5 2.6h0m2.5 0h0m2.5 0h0m2.5 0h0m2.5 0h0m2.5 0h0m2.5 0h0m2.5 0h0m2.5 0h0m2.5 0h0m2.5 0h0m2.5 0h0m2.5 0h0m2.5 0h0m2.5 0h0m2.5 0h0m2.5 0h0m2.5 0h0m-42.5 2.4h0m2.5 0h0m2.5 0h0m2.5 0h0m2.5 0h0m2.5 0h0m2.5 0h0m2.5 0h0m2.5 0h0m2.5 0h0m2.5 0h0m2.5 0h0m2.5 0h0m2.5 0h0m2.5 0h0m2.5 0h0m2.5 0h0m2.5 0h0m-42.5 2.6h0m2.5 0h0m2.5 0h0m2.5 0h0m2.5 0h0m2.5 0h0m2.5 0h0m2.5 0h0m2.5 0h0m2.5 0h0m2.5 0h0m2.5 0h0m2.5 0h0m2.5 0h0m2.5 0h0m2.5 0h0m2.5 0h0m2.5 0h0m-42.5 2.4h0m2.5 0h0m2.5 0h0m2.5 0h0m2.5 0h0m2.5 0h0m2.5 0h0m2.5 0h0m2.5 0h0m2.5 0h0m2.5 0h0m2.5 0h0m2.5 0h0m2.5 0h0m2.5 0h0m2.5 0h0m2.5 0h0m2.5 0h0m-42.5 2.6h0m2.5 0h0m2.5 0h0m2.5 0h0m2.5 0h0m2.5 0h0m2.5 0h0m2.5 0h0m2.5 0h0m2.5 0h0m2.5 0h0m2.5 0h0m2.5 0h0m2.5 0h0m2.5 0h0m2.5 0h0m2.5 0h0m2.5 0h0m-42.5 2.4h0m2.5 0h0m2.5 0h0m2.5 0h0m2.5 0h0m2.5 0h0m2.5 0h0m2.5 0h0m2.5 0h0m2.5 0h0m2.5 0h0m2.5 0h0m2.5 0h0m2.5 0h0m2.5 0h0m2.5 0h0m2.5 0h0m2.5 0h0m-42.5 2.6h0m2.5 0h0m2.5 0h0m2.5 0h0m2.5 0h0m2.5 0h0m2.5 0h0m2.5 0h0m2.5 0h0m2.5 0h0m2.5 0h0m2.5 0h0m2.5 0h0m2.5 0h0m2.5 0h0m2.5 0h0m2.5 0h0m2.5 0h0m-40 2.4h0m2.5 0h0m2.5 0h0m2.5 0h0m2.5 0h0m2.5 0h0m2.5 0h0m2.5 0h0m2.5 0h0m2.5 0h0m2.5 0h0m2.5 0h0m2.5 0h0m2.5 0h0m2.5 0h0m2.5 0h0m-35 2.6h0m2.5 0h0m2.5 0h0m2.5 0h0m2.5 0h0m2.5 0h0m2.5 0h0m2.5 0h0m2.5 0h0m2.5 0h0m2.5 0h0m2.5 0h0m2.5 0h0m2.5 0h0m-30 2.4h0m2.5 0h0m2.5 0h0m2.5 0h0m2.5 0h0m2.5 0h0m2.5 0h0m2.5 0h0m2.5 0h0m2.5 0h0m2.5 0h0m2.5 0h0m-25 2.6h0m2.5 0h0m2.5 0h0m2.5 0h0m2.5 0h0m2.5 0h0m2.5 0h0m2.5 0h0m2.5 0h0m2.5 0h0m-20 2.4h0m2.5 0h0m2.5 0h0m2.5 0h0m2.5 0h0m2.5 0h0m2.5 0h0m2.5 0h0" stroke="#5cb864" stroke-width="1.6" stroke-linecap="round" fill="none"/><path d="M512.9 106h0m2.5 0h0m2.5 0h0m2.5 0h0m2.5 0h0m2.5 0h0m2.5 0h0m2.5 0h0m2.5 0h0m-22.5 2.5h0m2.5 0h0m2.5 0h0m2.5 0h0m2.5 0h0m2.5 0h0m2.5 0h0m2.5 0h0m2.5 0h0m2.5 0h0m2.5 0h0m-27.5 2.5h0m2.5 0h0m2.5 0h0m2.5 0h0m2.5 0h0m2.5 0h0m2.5 0h0m2.5 0h0m2.5 0h0m2.5 0h0m2.5 0h0m2.5 0h0m2.5 0h0m-32.5 2.5h0m2.5 0h0m2.5 0h0m2.5 0h0m2.5 0h0m2.5 0h0m2.5 0h0m2.5 0h0m2.5 0h0m2.5 0h0m2.5 0h0m2.5 0h0m2.5 0h0m2.5 0h0m2.5 0h0m-37.5 2.5h0m2.5 0h0m2.5 0h0m2.5 0h0m2.5 0h0m2.5 0h0m2.5 0h0m2.5 0h0m2.5 0h0m2.5 0h0m2.5 0h0m2.5 0h0m2.5 0h0m2.5 0h0m2.5 0h0m2.5 0h0m2.5 0h0m-42.5 2.5h0m2.5 0h0m2.5 0h0m2.5 0h0m2.5 0h0m2.5 0h0m2.5 0h0m2.5 0h0m2.5 0h0m2.5 0h0m2.5 0h0m2.5 0h0m2.5 0h0m2.5 0h0m2.5 0h0m2.5 0h0m2.5 0h0m2.5 0h0m2.5 0h0m-47.5 2.5h0m2.5 0h0m2.5 0h0m2.5 0h0m2.5 0h0m2.5 0h0m2.5 0h0m2.5 0h0m2.5 0h0m2.5 0h0m2.5 0h0m2.5 0h0m2.5 0h0m2.5 0h0m2.5 0h0m2.5 0h0m2.5 0h0m2.5 0h0m2.5 0h0m2.5 0h0m2.5 0h0m-50 2.5h0m2.5 0h0m2.5 0h0m2.5 0h0m2.5 0h0m2.5 0h0m2.5 0h0m2.5 0h0m2.5 0h0m2.5 0h0m2.5 0h0m2.5 0h0m2.5 0h0m2.5 0h0m2.5 0h0m2.5 0h0m2.5 0h0m2.5 0h0m2.5 0h0m2.5 0h0m2.5 0h0m-50 2.5h0m2.5 0h0m2.5 0h0m2.5 0h0m2.5 0h0m2.5 0h0m2.5 0h0m2.5 0h0m2.5 0h0m2.5 0h0m2.5 0h0m2.5 0h0m2.5 0h0m2.5 0h0m2.5 0h0m2.5 0h0m2.5 0h0m2.5 0h0m2.5 0h0m2.5 0h0m2.5 0h0m-50 2.5h0m2.5 0h0m2.5 0h0m2.5 0h0m2.5 0h0m2.5 0h0m2.5 0h0m2.5 0h0m2.5 0h0m2.5 0h0m2.5 0h0m2.5 0h0m2.5 0h0m2.5 0h0m2.5 0h0m2.5 0h0m2.5 0h0m2.5 0h0m2.5 0h0m2.5 0h0m2.5 0h0m-50 2.5h0m2.5 0h0m2.5 0h0m2.5 0h0m2.5 0h0m2.5 0h0m2.5 0h0m2.5 0h0m2.5 0h0m2.5 0h0m2.5 0h0m2.5 0h0m2.5 0h0m2.5 0h0m2.5 0h0m2.5 0h0m2.5 0h0m2.5 0h0m2.5 0h0m2.5 0h0m2.5 0h0m-50 2.5h0m2.5 0h0m2.5 0h0m2.5 0h0m2.5 0h0m2.5 0h0m2.5 0h0m2.5 0h0m2.5 0h0m2.5 0h0m2.5 0h0m2.5 0h0m2.5 0h0m2.5 0h0m2.5 0h0m2.5 0h0m2.5 0h0m2.5 0h0m2.5 0h0m2.5 0h0m2.5 0h0m-50 2.5h0m2.5 0h0m2.5 0h0m2.5 0h0m2.5 0h0m2.5 0h0m2.5 0h0m2.5 0h0m2.5 0h0m2.5 0h0m2.5 0h0m2.5 0h0m2.5 0h0m2.5 0h0m2.5 0h0m2.5 0h0m2.5 0h0m2.5 0h0m2.5 0h0m2.5 0h0m2.5 0h0m-50 2.5h0m2.5 0h0m2.5 0h0m2.5 0h0m2.5 0h0m2.5 0h0m2.5 0h0m2.5 0h0m2.5 0h0m2.5 0h0m2.5 0h0m2.5 0h0m2.5 0h0m2.5 0h0m2.5 0h0m2.5 0h0m2.5 0h0m2.5 0h0m2.5 0h0m2.5 0h0m2.5 0h0m-50 2.5h0m2.5 0h0m2.5 0h0m2.5 0h0m2.5 0h0m2.5 0h0m2.5 0h0m2.5 0h0m2.5 0h0m2.5 0h0m2.5 0h0m2.5 0h0m2.5 0h0m2.5 0h0m2.5 0h0m2.5 0h0m2.5 0h0m2.5 0h0m2.5 0h0m2.5 0h0m2.5 0h0m-47.5 2.5h0m2.5 0h0m2.5 0h0m2.5 0h0m2.5 0h0m2.5 0h0m2.5 0h0m2.5 0h0m2.5 0h0m2.5 0h0m2.5 0h0m2.5 0h0m2.5 0h0m2.5 0h0m2.5 0h0m2.5 0h0m2.5 0h0m2.5 0h0m2.5 0h0m-42.5 2.5h0m2.5 0h0m2.5 0h0m2.5 0h0m2.5 0h0m2.5 0h0m2.5 0h0m2.5 0h0m2.5 0h0m2.5 0h0m2.5 0h0m2.5 0h0m2.5 0h0m2.5 0h0m2.5 0h0m2.5 0h0m2.5 0h0m-37.5 2.5h0m2.5 0h0m2.5 0h0m2.5 0h0m2.5 0h0m2.5 0h0m2.5 0h0m2.5 0h0m2.5 0h0m2.5 0h0m2.5 0h0m2.5 0h0m2.5 0h0m2.5 0h0m2.5 0h0m-32.5 2.5h0m2.5 0h0m2.5 0h0m2.5 0h0m2.5 0h0m2.5 0h0m2.5 0h0m2.5 0h0m2.5 0h0m2.5 0h0m2.5 0h0m2.5 0h0m2.5 0h0m-27.5 2.5h0m2.5 0h0m2.5 0h0m2.5 0h0m2.5 0h0m2.5 0h0m2.5 0h0m2.5 0h0m2.5 0h0m2.5 0h0m2.5 0h0m-22.5 2.5h0m2.5 0h0m2.5 0h0m2.5 0h0m2.5 0h0m2.5 0h0m2.5 0h0m2.5 0h0m2.5 0h0" stroke="#d4d4dc" stroke-width="1.8" stroke-linecap="round" fill="none"/><polygon points="553.1,64.2 549.4,63.7 545.7,62.7 542.2,61.2 539,59.1 536.1,56.7 533.5,53.8 531.4,50.7 529.8,47.3 529.1,43.6 528.9,39.8 529.3,36 530.2,32.3 531.7,28.7 533.6,25.4 536,22.5 538.7,19.9 542,18.1 545.6,16.7 549.3,15.9 553.1,15.7 556.9,15.9 560.6,16.7 564.2,18.1 567.5,19.9 570.2,22.5 572.6,25.4 574.5,28.7 576,32.3 576.9,36 577.3,39.8 577.1,43.6 576.4,47.3 574.8,50.7 572.7,53.8 570.1,56.7 567.2,59.1 564,61.2 560.5,62.7 556.8,63.7" fill="#83838b" stroke="#83838b" stroke-width="2.5" stroke-linejoin="round"/><g class="y"><circle cx="553.1" cy="64.2" r="2.1"/><circle cx="549.4" cy="63.7" r="2.1"/><circle cx="545.7" cy="62.7" r="2.1"/><circle cx="542.2" cy="61.2" r="2.1"/><circle cx="539" cy="59.1" r="2.1"/><circle cx="536.1" cy="56.7" r="2.1"/><circle cx="533.5" cy="53.8" r="2.1"/><circle cx="531.4" cy="50.7" r="2.1"/><circle cx="529.8" cy="47.3" r="2.1"/><circle cx="529.1" cy="43.6" r="2.1"/><circle cx="528.9" cy="39.8" r="2.1"/><circle cx="529.3" cy="36" r="2.1"/><circle cx="530.2" cy="32.3" r="2.1"/><circle cx="531.7" cy="28.7" r="2.1"/><circle cx="533.6" cy="25.4" r="2.1"/><circle cx="536" cy="22.5" r="2.1"/><circle cx="538.7" cy="19.9" r="2.1"/><circle cx="542" cy="18.1" r="2.1"/><circle cx="545.6" cy="16.7" r="2.1"/><circle cx="549.3" cy="15.9" r="2.1"/><circle cx="553.1" cy="15.7" r="2.1"/><circle cx="556.9" cy="15.9" r="2.1"/><circle cx="560.6" cy="16.7" r="2.1"/><circle cx="564.2" cy="18.1" r="2.1"/><circle cx="567.5" cy="19.9" r="2.1"/><circle cx="570.2" cy="22.5" r="2.1"/><circle cx="572.6" cy="25.4" r="2.1"/><circle cx="574.5" cy="28.7" r="2.1"/><circle cx="576" cy="32.3" r="2.1"/><circle cx="576.9" cy="36" r="2.1"/><circle cx="577.3" cy="39.8" r="2.1"/><circle cx="577.1" cy="43.6" r="2.1"/><circle cx="576.4" cy="47.3" r="2.1"/><circle cx="574.8" cy="50.7" r="2.1"/><circle cx="572.7" cy="53.8" r="2.1"/><circle cx="570.1" cy="56.7" r="2.1"/><circle cx="567.2" cy="59.1" r="2.1"/><circle cx="564" cy="61.2" r="2.1"/><circle cx="560.5" cy="62.7" r="2.1"/><circle cx="556.8" cy="63.7" r="2.1"/><circle cx="553.1" cy="61.7" r="2.1"/><circle cx="549.3" cy="61.1" r="2.1"/><circle cx="545.6" cy="59.9" r="2.1"/><circle cx="542.2" cy="58.1" r="2.1"/><circle cx="539" cy="55.8" r="2.1"/><circle cx="536.2" cy="53" r="2.1"/><circle cx="533.9" cy="49.9" r="2.1"/><circle cx="532.2" cy="46.5" r="2.1"/><circle cx="531.6" cy="42.7" r="2.1"/><circle cx="531.6" cy="38.8" r="2.1"/><circle cx="532.2" cy="35" r="2.1"/><circle cx="533.5" cy="31.3" r="2.1"/><circle cx="535.2" cy="27.8" r="2.1"/><circle cx="537.5" cy="24.6" r="2.1"/><circle cx="540.2" cy="21.9" r="2.1"/><circle cx="543.6" cy="20.2" r="2.1"/><circle cx="547.3" cy="19" r="2.1"/><circle cx="551.1" cy="18.4" r="2.1"/><circle cx="555.1" cy="18.4" r="2.1"/><circle cx="558.9" cy="19" r="2.1"/><circle cx="562.6" cy="20.2" r="2.1"/><circle cx="566" cy="21.9" r="2.1"/><circle cx="568.7" cy="24.6" r="2.1"/><circle cx="571" cy="27.8" r="2.1"/><circle cx="572.7" cy="31.3" r="2.1"/><circle cx="574" cy="35" r="2.1"/><circle cx="574.6" cy="38.8" r="2.1"/><circle cx="574.6" cy="42.7" r="2.1"/><circle cx="574" cy="46.5" r="2.1"/><circle cx="572.3" cy="49.9" r="2.1"/><circle cx="570" cy="53" r="2.1"/><circle cx="567.2" cy="55.8" r="2.1"/><circle cx="564" cy="58.1" r="2.1"/><circle cx="560.6" cy="59.9" r="2.1"/><circle cx="556.9" cy="61.1" r="2.1"/></g><g class="n"><circle cx="553.1" cy="58.8" r="2.1"/><circle cx="549.3" cy="58" r="2.1"/><circle cx="545.7" cy="56.6" r="2.1"/><circle cx="542.3" cy="54.6" r="2.1"/><circle cx="539.3" cy="52" r="2.1"/><circle cx="536.8" cy="49" r="2.1"/><circle cx="534.9" cy="45.6" r="2.1"/><circle cx="534.5" cy="41.8" r="2.1"/><circle cx="534.7" cy="37.9" r="2.1"/><circle cx="535.6" cy="34" r="2.1"/><circle cx="537.2" cy="30.4" r="2.1"/><circle cx="539.3" cy="27.1" r="2.1"/><circle cx="541.9" cy="24.2" r="2.1"/><circle cx="545.4" cy="22.7" r="2.1"/><circle cx="549.2" cy="21.7" r="2.1"/><circle cx="553.1" cy="21.3" r="2.1"/><circle cx="557" cy="21.7" r="2.1"/><circle cx="560.8" cy="22.7" r="2.1"/><circle cx="564.3" cy="24.2" r="2.1"/><circle cx="566.9" cy="27.1" r="2.1"/><circle cx="569" cy="30.4" r="2.1"/><circle cx="570.6" cy="34" r="2.1"/><circle cx="571.5" cy="37.9" r="2.1"/><circle cx="571.7" cy="41.8" r="2.1"/><circle cx="571.3" cy="45.6" r="2.1"/><circle cx="569.4" cy="49" r="2.1"/><circle cx="566.9" cy="52" r="2.1"/><circle cx="563.9" cy="54.6" r="2.1"/><circle cx="560.5" cy="56.6" r="2.1"/><circle cx="556.9" cy="58" r="2.1"/></g><g class="y"><circle cx="553.1" cy="23.7" r="2.1"/><circle cx="556.9" cy="24.5" r="2.1"/><circle cx="560.6" cy="26" r="2.1"/><circle cx="563.8" cy="28.4" r="2.1"/><circle cx="566.4" cy="31.3" r="2.1"/><circle cx="568.3" cy="34.8" r="2.1"/><circle cx="568.8" cy="38.6" r="2.1"/><circle cx="568.4" cy="42.6" r="2.1"/><circle cx="567.2" cy="46.4" r="2.1"/><circle cx="565.2" cy="49.8" r="2.1"/><circle cx="562.5" cy="52.6" r="2.1"/><circle cx="559" cy="54.3" r="2.1"/><circle cx="555.1" cy="55.1" r="2.1"/><circle cx="551.1" cy="55.1" r="2.1"/><circle cx="547.2" cy="54.3" r="2.1"/><circle cx="543.7" cy="52.6" r="2.1"/><circle cx="541" cy="49.8" r="2.1"/><circle cx="539" cy="46.4" r="2.1"/><circle cx="537.8" cy="42.6" r="2.1"/><circle cx="537.4" cy="38.6" r="2.1"/><circle cx="537.9" cy="34.8" r="2.1"/><circle cx="539.8" cy="31.3" r="2.1"/><circle cx="542.4" cy="28.4" r="2.1"/><circle cx="545.6" cy="26" r="2.1"/><circle cx="549.3" cy="24.5" r="2.1"/><circle cx="553.1" cy="52.6" r="2.1"/><circle cx="549.2" cy="51.8" r="2.1"/><circle cx="545.7" cy="49.9" r="2.1"/><circle cx="542.8" cy="47.1" r="2.1"/><circle cx="540.8" cy="43.7" r="2.1"/><circle cx="540.4" cy="39.7" r="2.1"/><circle cx="541.1" cy="35.8" r="2.1"/><circle cx="542.8" cy="32.2" r="2.1"/><circle cx="545.5" cy="29.3" r="2.1"/><circle cx="549.1" cy="27.6" r="2.1"/><circle cx="553.1" cy="27" r="2.1"/><circle cx="557.1" cy="27.6" r="2.1"/><circle cx="560.7" cy="29.3" r="2.1"/><circle cx="563.4" cy="32.2" r="2.1"/><circle cx="565.1" cy="35.8" r="2.1"/><circle cx="565.8" cy="39.7" r="2.1"/><circle cx="565.4" cy="43.7" r="2.1"/><circle cx="563.4" cy="47.1" r="2.1"/><circle cx="560.5" cy="49.9" r="2.1"/><circle cx="557" cy="51.8" r="2.1"/></g><g class="n"><circle cx="553.1" cy="49.4" r="2.1"/></g><g class="y"><circle cx="549.2" cy="48.4" r="2.1"/><circle cx="546" cy="46.1" r="2.1"/></g><g class="n"><circle cx="543.9" cy="42.7" r="2.1"/></g><g class="y"><circle cx="543.6" cy="38.7" r="2.1"/><circle cx="544.9" cy="34.9" r="2.1"/></g><g class="n"><circle cx="547.4" cy="31.9" r="2.1"/></g><g class="y"><circle cx="551.1" cy="30.4" r="2.1"/><circle cx="555.1" cy="30.4" r="2.1"/></g><g class="n"><circle cx="558.8" cy="31.9" r="2.1"/></g><g class="y"><circle cx="561.3" cy="34.9" r="2.1"/><circle cx="562.6" cy="38.7" r="2.1"/></g><g class="n"><circle cx="562.3" cy="42.7" r="2.1"/></g><g class="y"><circle cx="560.2" cy="46.1" r="2.1"/><circle cx="557" cy="48.4" r="2.1"/><circle cx="553.1" cy="46.2" r="2.1"/><circle cx="549.3" cy="45" r="2.1"/><circle cx="546.9" cy="41.7" r="2.1"/><circle cx="546.9" cy="37.7" r="2.1"/><circle cx="549.3" cy="34.4" r="2.1"/><circle cx="553.1" cy="33.2" r="2.1"/><circle cx="556.9" cy="34.4" r="2.1"/><circle cx="559.3" cy="37.7" r="2.1"/><circle cx="559.3" cy="41.7" r="2.1"/><circle cx="556.9" cy="45" r="2.1"/></g><g class="n"><circle cx="553.1" cy="36.4" r="2.1"/><circle cx="556.2" cy="38.7" r="2.1"/><circle cx="555" cy="42.4" r="2.1"/><circle cx="551.2" cy="42.4" r="2.1"/><circle cx="550" cy="38.7" r="2.1"/><circle cx="553.1" cy="39.7" r="2.1"/></g><circle cx="553.1" cy="39.7" r="26.6" fill="url(#sh)"/><polygon fill="#56665c" points="600.2,29.7 622.2,29.7 637.8,45.3 637.8,67.3 622.2,82.9 600.2,82.9 584.6,67.3 584.6,45.3"/><path d="M599.8 31.6h0m3.8 0h0m3.8 0h0m3.8 0h0m3.8 0h0m3.8 0h0m3.8 0h0m-24.7 1.9h0m3.8 0h0m3.8 0h0m3.8 0h0m3.8 0h0m3.8 0h0m3.8 0h0m3.8 0h0m-28.5 1.9h0m3.8 0h0m3.8 0h0m3.8 0h0m3.8 0h0m3.8 0h0m3.8 0h0m3.8 0h0m3.8 0h0m-32.3 1.9h0m3.8 0h0m3.8 0h0m3.8 0h0m3.8 0h0m3.8 0h0m3.8 0h0m3.8 0h0m3.8 0h0m3.8 0h0m-36.1 1.9h0m3.8 0h0m3.8 0h0m3.8 0h0m3.8 0h0m3.8 0h0m3.8 0h0m3.8 0h0m3.8 0h0m3.8 0h0m3.8 0h0m-39.9 1.9h0m3.8 0h0m3.8 0h0m3.8 0h0m3.8 0h0m3.8 0h0m3.8 0h0m3.8 0h0m3.8 0h0m3.8 0h0m3.8 0h0m3.8 0h0m-43.7 1.9h0m3.8 0h0m3.8 0h0m3.8 0h0m3.8 0h0m3.8 0h0m3.8 0h0m3.8 0h0m3.8 0h0m3.8 0h0m3.8 0h0m3.8 0h0m3.8 0h0m-47.5 1.9h0m3.8 0h0m3.8 0h0m3.8 0h0m3.8 0h0m3.8 0h0m3.8 0h0m3.8 0h0m3.8 0h0m3.8 0h0m3.8 0h0m3.8 0h0m3.8 0h0m3.8 0h0m-47.5 1.9h0m3.8 0h0m3.8 0h0m3.8 0h0m3.8 0h0m3.8 0h0m3.8 0h0m3.8 0h0m3.8 0h0m3.8 0h0m3.8 0h0m3.8 0h0m3.8 0h0m-47.5 1.9h0m3.8 0h0m3.8 0h0m3.8 0h0m3.8 0h0m3.8 0h0m3.8 0h0m3.8 0h0m3.8 0h0m3.8 0h0m3.8 0h0m3.8 0h0m3.8 0h0m3.8 0h0m-47.5 1.9h0m3.8 0h0m3.8 0h0m3.8 0h0m3.8 0h0m3.8 0h0m3.8 0h0m3.8 0h0m3.8 0h0m3.8 0h0m3.8 0h0m3.8 0h0m3.8 0h0m-47.5 1.9h0m3.8 0h0m3.8 0h0m3.8 0h0m3.8 0h0m3.8 0h0m3.8 0h0m3.8 0h0m3.8 0h0m3.8 0h0m3.8 0h0m3.8 0h0m3.8 0h0m3.8 0h0m-47.5 1.9h0m3.8 0h0m3.8 0h0m3.8 0h0m3.8 0h0m3.8 0h0m3.8 0h0m3.8 0h0m3.8 0h0m3.8 0h0m3.8 0h0m3.8 0h0m3.8 0h0m-47.5 1.9h0m3.8 0h0m3.8 0h0m3.8 0h0m3.8 0h0m3.8 0h0m3.8 0h0m3.8 0h0m3.8 0h0m3.8 0h0m3.8 0h0m3.8 0h0m3.8 0h0m3.8 0h0m-47.5 1.9h0m3.8 0h0m3.8 0h0m3.8 0h0m3.8 0h0m3.8 0h0m3.8 0h0m3.8 0h0m3.8 0h0m3.8 0h0m3.8 0h0m3.8 0h0m3.8 0h0m-47.5 1.9h0m3.8 0h0m3.8 0h0m3.8 0h0m3.8 0h0m3.8 0h0m3.8 0h0m3.8 0h0m3.8 0h0m3.8 0h0m3.8 0h0m3.8 0h0m3.8 0h0m3.8 0h0m-47.5 1.9h0m3.8 0h0m3.8 0h0m3.8 0h0m3.8 0h0m3.8 0h0m3.8 0h0m3.8 0h0m3.8 0h0m3.8 0h0m3.8 0h0m3.8 0h0m3.8 0h0m-47.5 1.9h0m3.8 0h0m3.8 0h0m3.8 0h0m3.8 0h0m3.8 0h0m3.8 0h0m3.8 0h0m3.8 0h0m3.8 0h0m3.8 0h0m3.8 0h0m3.8 0h0m3.8 0h0m-47.5 1.9h0m3.8 0h0m3.8 0h0m3.8 0h0m3.8 0h0m3.8 0h0m3.8 0h0m3.8 0h0m3.8 0h0m3.8 0h0m3.8 0h0m3.8 0h0m3.8 0h0m-47.5 1.9h0m3.8 0h0m3.8 0h0m3.8 0h0m3.8 0h0m3.8 0h0m3.8 0h0m3.8 0h0m3.8 0h0m3.8 0h0m3.8 0h0m3.8 0h0m3.8 0h0m3.8 0h0m-47.5 1.9h0m3.8 0h0m3.8 0h0m3.8 0h0m3.8 0h0m3.8 0h0m3.8 0h0m3.8 0h0m3.8 0h0m3.8 0h0m3.8 0h0m3.8 0h0m3.8 0h0m-43.7 1.9h0m3.8 0h0m3.8 0h0m3.8 0h0m3.8 0h0m3.8 0h0m3.8 0h0m3.8 0h0m3.8 0h0m3.8 0h0m3.8 0h0m3.8 0h0m-39.9 1.9h0m3.8 0h0m3.8 0h0m3.8 0h0m3.8 0h0m3.8 0h0m3.8 0h0m3.8 0h0m3.8 0h0m3.8 0h0m3.8 0h0m-36.1 1.9h0m3.8 0h0m3.8 0h0m3.8 0h0m3.8 0h0m3.8 0h0m3.8 0h0m3.8 0h0m3.8 0h0m3.8 0h0m-32.3 1.9h0m3.8 0h0m3.8 0h0m3.8 0h0m3.8 0h0m3.8 0h0m3.8 0h0m3.8 0h0m3.8 0h0m-28.5 1.9h0m3.8 0h0m3.8 0h0m3.8 0h0m3.8 0h0m3.8 0h0m3.8 0h0m3.8 0h0m-24.7 1.9h0m3.8 0h0m3.8 0h0m3.8 0h0m3.8 0h0m3.8 0h0m3.8 0h0" stroke="#c4c4cc" stroke-width="1.7" stroke-linecap="round" fill="none"/><path d="M601.7 31.6h0m3.8 0h0m3.8 0h0m3.8 0h0m3.8 0h0m3.8 0h0m-34.2 15.2h0m49.4 0h0m-49.4 3.8h0m49.4 0h0m-49.4 3.8h0m49.4 0h0m-49.4 3.8h0m49.4 0h0m-49.4 3.8h0m49.4 0h0m-49.4 3.8h0m49.4 0h0m-34.2 15.2h0m3.8 0h0m3.8 0h0m3.8 0h0m3.8 0h0m3.8 0h0" stroke="#c4c4cc" stroke-width="1.8" stroke-linecap="round" fill="none"/><path d="M599.8 33.5h0m3.8 0h0m3.8 0h0m3.8 0h0m3.8 0h0m3.8 0h0m3.8 0h0m-24.7 1.9h0m3.8 0h0m3.8 0h0m3.8 0h0m3.8 0h0m3.8 0h0m3.8 0h0m3.8 0h0m-28.5 1.9h0m3.8 0h0m3.8 0h0m3.8 0h0m3.8 0h0m3.8 0h0m3.8 0h0m3.8 0h0m3.8 0h0m-32.3 1.9h0m3.8 0h0m3.8 0h0m3.8 0h0m3.8 0h0m3.8 0h0m3.8 0h0m3.8 0h0m3.8 0h0m3.8 0h0m-36.1 1.9h0m3.8 0h0m3.8 0h0m3.8 0h0m3.8 0h0m3.8 0h0m3.8 0h0m3.8 0h0m3.8 0h0m3.8 0h0m3.8 0h0m-39.9 1.9h0m3.8 0h0m3.8 0h0m3.8 0h0m3.8 0h0m3.8 0h0m3.8 0h0m3.8 0h0m3.8 0h0m3.8 0h0m3.8 0h0m3.8 0h0m-43.7 1.9h0m3.8 0h0m3.8 0h0m3.8 0h0m3.8 0h0m3.8 0h0m3.8 0h0m3.8 0h0m3.8 0h0m3.8 0h0m3.8 0h0m3.8 0h0m3.8 0h0m-43.7 1.9h0m3.8 0h0m3.8 0h0m3.8 0h0m3.8 0h0m3.8 0h0m3.8 0h0m3.8 0h0m3.8 0h0m3.8 0h0m3.8 0h0m3.8 0h0m-43.7 1.9h0m3.8 0h0m3.8 0h0m3.8 0h0m3.8 0h0m3.8 0h0m3.8 0h0m3.8 0h0m3.8 0h0m3.8 0h0m3.8 0h0m3.8 0h0m3.8 0h0m-43.7 1.9h0m3.8 0h0m3.8 0h0m3.8 0h0m3.8 0h0m3.8 0h0m3.8 0h0m3.8 0h0m3.8 0h0m3.8 0h0m3.8 0h0m3.8 0h0m-43.7 1.9h0m3.8 0h0m3.8 0h0m3.8 0h0m3.8 0h0m3.8 0h0m3.8 0h0m3.8 0h0m3.8 0h0m3.8 0h0m3.8 0h0m3.8 0h0m3.8 0h0m-43.7 1.9h0m3.8 0h0m3.8 0h0m3.8 0h0m3.8 0h0m3.8 0h0m3.8 0h0m3.8 0h0m3.8 0h0m3.8 0h0m3.8 0h0m3.8 0h0m-43.7 1.9h0m3.8 0h0m3.8 0h0m3.8 0h0m3.8 0h0m3.8 0h0m3.8 0h0m3.8 0h0m3.8 0h0m3.8 0h0m3.8 0h0m3.8 0h0m3.8 0h0m-43.7 1.9h0m3.8 0h0m3.8 0h0m3.8 0h0m3.8 0h0m3.8 0h0m3.8 0h0m3.8 0h0m3.8 0h0m3.8 0h0m3.8 0h0m3.8 0h0m-43.7 1.9h0m3.8 0h0m3.8 0h0m3.8 0h0m3.8 0h0m3.8 0h0m3.8 0h0m3.8 0h0m3.8 0h0m3.8 0h0m3.8 0h0m3.8 0h0m3.8 0h0m-43.7 1.9h0m3.8 0h0m3.8 0h0m3.8 0h0m3.8 0h0m3.8 0h0m3.8 0h0m3.8 0h0m3.8 0h0m3.8 0h0m3.8 0h0m3.8 0h0m-43.7 1.9h0m3.8 0h0m3.8 0h0m3.8 0h0m3.8 0h0m3.8 0h0m3.8 0h0m3.8 0h0m3.8 0h0m3.8 0h0m3.8 0h0m3.8 0h0m3.8 0h0m-43.7 1.9h0m3.8 0h0m3.8 0h0m3.8 0h0m3.8 0h0m3.8 0h0m3.8 0h0m3.8 0h0m3.8 0h0m3.8 0h0m3.8 0h0m3.8 0h0m-43.7 1.9h0m3.8 0h0m3.8 0h0m3.8 0h0m3.8 0h0m3.8 0h0m3.8 0h0m3.8 0h0m3.8 0h0m3.8 0h0m3.8 0h0m3.8 0h0m3.8 0h0m-43.7 1.9h0m3.8 0h0m3.8 0h0m3.8 0h0m3.8 0h0m3.8 0h0m3.8 0h0m3.8 0h0m3.8 0h0m3.8 0h0m3.8 0h0m3.8 0h0m-39.9 1.9h0m3.8 0h0m3.8 0h0m3.8 0h0m3.8 0h0m3.8 0h0m3.8 0h0m3.8 0h0m3.8 0h0m3.8 0h0m3.8 0h0m-36.1 1.9h0m3.8 0h0m3.8 0h0m3.8 0h0m3.8 0h0m3.8 0h0m3.8 0h0m3.8 0h0m3.8 0h0m3.8 0h0m-32.3 1.9h0m3.8 0h0m3.8 0h0m3.8 0h0m3.8 0h0m3.8 0h0m3.8 0h0m3.8 0h0m3.8 0h0m-28.5 1.9h0m3.8 0h0m3.8 0h0m3.8 0h0m3.8 0h0m3.8 0h0m3.8 0h0m3.8 0h0m-24.7 1.9h0m3.8 0h0m3.8 0h0m3.8 0h0m3.8 0h0m3.8 0h0m3.8 0h0" stroke="#5cb864" stroke-width="1.8" stroke-linecap="round" fill="none"/>
<rect x="438.6" y="9.3" width="200.9" height="149" fill="none" stroke="#484848" stroke-width="0.6"/>
<path d="M443.5 158.3v3.2M470.6 158.3v3.2M497.8 158.3v3.2M524.9 158.3v3.2M552 158.3v3.2M579.1 158.3v3.2M606.3 158.3v3.2M633.4 158.3v3.2M438.6 158.3h-3.2M438.6 128.5h-3.2M438.6 98.7h-3.2M438.6 68.9h-3.2M438.6 39.1h-3.2M438.6 9.3h-3.2" stroke="#484848" stroke-width="0.6" fill="none"/>
<text class="t" text-anchor="middle" x="539" y="6.9" style="font-size:7.4px">Pt<tspan class="s" dy="1.3">0.67</tspan><tspan dy="-1.3">Ni</tspan><tspan class="s" dy="1.3">0.33</tspan></text>
<text class="L" x="441.1" y="22.4">c</text>
</g>
<g id="panel-d">
<polyline fill="none" stroke="#1f77b4" stroke-width="0.9" stroke-linejoin="round" points="38.3,215.5 49.7,226 65.8,236.4 81.5,245.4 92.7,250.5 102.2,253.7 108.8,259.8 119.1,264 124.8,267.8 136.1,273.4 151.8,280.7 167.7,287.6 178.8,292.4 195,299.9 211.1,303.1 222,311.6"/>
<g fill="#1f77b4"><circle cx="38.3" cy="215.5" r="0.9"/><circle cx="49.7" cy="226" r="0.9"/><circle cx="65.8" cy="236.4" r="0.9"/><circle cx="81.5" cy="245.4" r="0.9"/><circle cx="92.7" cy="250.5" r="0.9"/><circle cx="102.2" cy="253.7" r="0.9"/><circle cx="108.8" cy="259.8" r="0.9"/><circle cx="119.1" cy="264" r="0.9"/><circle cx="124.8" cy="267.8" r="0.9"/><circle cx="136.1" cy="273.4" r="0.9"/><circle cx="151.8" cy="280.7" r="0.9"/><circle cx="167.7" cy="287.6" r="0.9"/><circle cx="178.8" cy="292.4" r="0.9"/><circle cx="195" cy="299.9" r="0.9"/><circle cx="211.1" cy="303.1" r="0.9"/><circle cx="222" cy="311.6" r="0.9"/></g>
<polyline fill="none" stroke="#ff7f0e" stroke-width="0.9" stroke-linejoin="round" points="39.9,205.9 65.3,223.5 90.7,237.7 116,249.7 141.7,261.9 167.1,273.1 192.6,279.5 218,296.1"/>
<g fill="#ff7f0e"><circle cx="39.9" cy="205.9" r="0.9"/><circle cx="65.3" cy="223.5" r="0.9"/><circle cx="90.7" cy="237.7" r="0.9"/><circle cx="116" cy="249.7" r="0.9"/><circle cx="141.7" cy="261.9" r="0.9"/><circle cx="167.1" cy="273.1" r="0.9"/><circle cx="192.6" cy="279.5" r="0.9"/><circle cx="218" cy="296.1" r="0.9"/></g>
<polyline fill="none" stroke="#2ca02c" stroke-width="0.9" stroke-linejoin="round" points="39.9,224.7 65.3,244.1 90.7,257.6 116,267.6 141.7,276.8 167.1,285.5 192.7,295.3 218.3,297.5"/>
<g fill="#2ca02c"><circle cx="39.9" cy="224.7" r="0.9"/><circle cx="65.3" cy="244.1" r="0.9"/><circle cx="90.7" cy="257.6" r="0.9"/><circle cx="116" cy="267.6" r="0.9"/><circle cx="141.7" cy="276.8" r="0.9"/><circle cx="167.1" cy="285.5" r="0.9"/><circle cx="192.7" cy="295.3" r="0.9"/><circle cx="218.3" cy="297.5" r="0.9"/></g>
<polyline fill="none" stroke="#d62728" stroke-width="0.9" stroke-linejoin="round" points="48.3,222.3 55.7,226.1 66.3,233.7 79.1,240.7 87.1,244.9 97.4,250.4 106.2,255.3 114.7,258.9 136.5,270.7 163.7,283.1 194.4,292.4 221.5,304.9"/>
<g fill="#d62728"><circle cx="48.3" cy="222.3" r="0.9"/><circle cx="55.7" cy="226.1" r="0.9"/><circle cx="66.3" cy="233.7" r="0.9"/><circle cx="79.1" cy="240.7" r="0.9"/><circle cx="87.1" cy="244.9" r="0.9"/><circle cx="97.4" cy="250.4" r="0.9"/><circle cx="106.2" cy="255.3" r="0.9"/><circle cx="114.7" cy="258.9" r="0.9"/><circle cx="136.5" cy="270.7" r="0.9"/><circle cx="163.7" cy="283.1" r="0.9"/><circle cx="194.4" cy="292.4" r="0.9"/><circle cx="221.5" cy="304.9" r="0.9"/></g>
<line x1="65.3" y1="244.1" x2="59.8" y2="259.7" stroke="#0a0a0a" stroke-width="0.9" stroke-dasharray="3 1.3"/>
<line x1="123.9" y1="232" x2="116" y2="267.5" stroke="#0a0a0a" stroke-width="0.9" stroke-dasharray="3 1.3"/>
<line x1="209.1" y1="262.7" x2="221.5" y2="309.2" stroke="#0a0a0a" stroke-width="0.9" stroke-dasharray="3 1.3"/>
<line x1="167.7" y1="287.6" x2="133.2" y2="295.9" stroke="#0a0a0a" stroke-width="0.9" stroke-dasharray="3 1.3"/>
<polygon points="52.9,265.8 60,266.9 66.4,270.2 71.4,275.2 74.7,281.6 75.8,288.7 74.7,295.8 71.4,302.2 66.4,307.2 60,310.5 52.9,311.6 45.8,310.5 39.4,307.2 34.4,302.2 31.1,295.8 30,288.7 31.1,281.6 34.4,275.2 39.4,270.2 45.8,266.9" fill="#83838b" stroke="#83838b" stroke-width="3.5" stroke-linejoin="round"/><circle cx="52.9" cy="288.7" r="14.8" fill="#448a4c"/><g class="y"><circle cx="49.8" cy="308.1" r="2.95"/><circle cx="44" cy="306.2" r="2.95"/><circle cx="39" cy="302.6" r="2.95"/><circle cx="35.4" cy="297.6" r="2.95"/><circle cx="33.5" cy="291.8" r="2.95"/><circle cx="33.5" cy="285.6" r="2.95"/><circle cx="35.4" cy="279.8" r="2.95"/><circle cx="39" cy="274.8" r="2.95"/><circle cx="44" cy="271.2" r="2.95"/><circle cx="49.8" cy="269.3" r="2.95"/><circle cx="56" cy="269.3" r="2.95"/><circle cx="61.8" cy="271.2" r="2.95"/><circle cx="66.8" cy="274.8" r="2.95"/><circle cx="70.4" cy="279.8" r="2.95"/><circle cx="72.3" cy="285.6" r="2.95"/><circle cx="72.3" cy="291.8" r="2.95"/><circle cx="70.4" cy="297.6" r="2.95"/><circle cx="66.8" cy="302.6" r="2.95"/><circle cx="61.8" cy="306.2" r="2.95"/><circle cx="56" cy="308.1" r="2.95"/><circle cx="52.9" cy="265.8" r="2.95"/><circle cx="60" cy="266.9" r="2.95"/><circle cx="66.4" cy="270.2" r="2.95"/><circle cx="71.4" cy="275.2" r="2.95"/><circle cx="74.7" cy="281.6" r="2.95"/><circle cx="75.8" cy="288.7" r="2.95"/><circle cx="74.7" cy="295.8" r="2.95"/><circle cx="71.4" cy="302.2" r="2.95"/><circle cx="66.4" cy="307.2" r="2.95"/><circle cx="60" cy="310.5" r="2.95"/><circle cx="52.9" cy="311.6" r="2.95"/><circle cx="45.8" cy="310.5" r="2.95"/><circle cx="39.4" cy="307.2" r="2.95"/><circle cx="34.4" cy="302.2" r="2.95"/><circle cx="31.1" cy="295.8" r="2.95"/><circle cx="30" cy="288.7" r="2.95"/><circle cx="31.1" cy="281.6" r="2.95"/><circle cx="34.4" cy="275.2" r="2.95"/><circle cx="39.4" cy="270.2" r="2.95"/><circle cx="45.8" cy="266.9" r="2.95"/><circle cx="52.9" cy="304.9" r="2.95"/></g><g class="n"><circle cx="46.3" cy="303.5" r="2.95"/><circle cx="40.9" cy="299.5" r="2.95"/></g><g class="y"><circle cx="37.5" cy="293.7" r="2.95"/></g><g class="n"><circle cx="36.8" cy="287" r="2.95"/><circle cx="38.9" cy="280.6" r="2.95"/></g><g class="y"><circle cx="43.4" cy="275.6" r="2.95"/></g><g class="n"><circle cx="49.5" cy="272.9" r="2.95"/><circle cx="56.3" cy="272.9" r="2.95"/></g><g class="y"><circle cx="62.4" cy="275.6" r="2.95"/></g><g class="n"><circle cx="66.9" cy="280.6" r="2.95"/><circle cx="69" cy="287" r="2.95"/></g><g class="y"><circle cx="68.3" cy="293.7" r="2.95"/></g><g class="n"><circle cx="64.9" cy="299.5" r="2.95"/><circle cx="59.5" cy="303.5" r="2.95"/><circle cx="49.5" cy="278.3" r="2.95"/><circle cx="56.3" cy="278.3" r="2.95"/><circle cx="61.7" cy="282.3" r="2.95"/><circle cx="63.8" cy="288.7" r="2.95"/><circle cx="61.7" cy="295.1" r="2.95"/><circle cx="56.3" cy="299.1" r="2.95"/><circle cx="49.5" cy="299.1" r="2.95"/><circle cx="44.1" cy="295.1" r="2.95"/><circle cx="42" cy="288.7" r="2.95"/><circle cx="44.1" cy="282.3" r="2.95"/><circle cx="52.9" cy="283.1" r="2.95"/><circle cx="58.2" cy="287" r="2.95"/><circle cx="56.2" cy="293.2" r="2.95"/><circle cx="49.6" cy="293.2" r="2.95"/><circle cx="47.6" cy="287" r="2.95"/><circle cx="52.9" cy="288.7" r="2.95"/></g><circle cx="52.9" cy="288.7" r="25.9" fill="url(#sh0)"/><polygon fill="#5a6a60" points="96.6,270.4 117.6,270.4 132.4,285.2 132.4,306.2 117.6,321 96.6,321 81.8,306.2 81.8,285.2"/><path d="M95.8 271.9h0m2.5 0h0m2.5 0h0m2.5 0h0m2.5 0h0m2.5 0h0m2.5 0h0m2.5 0h0m2.5 0h0m2.5 0h0m-25 2.5h0m2.5 0h0m22.5 0h0m2.5 0h0m-30 2.5h0m2.5 0h0m27.5 0h0m2.5 0h0m-35 2.5h0m2.5 0h0m32.5 0h0m2.5 0h0m-40 2.5h0m2.5 0h0m37.5 0h0m2.5 0h0m-45 2.5h0m2.5 0h0m42.5 0h0m2.5 0h0m-47.5 2.5h0m47.5 0h0m-47.5 2.5h0m47.5 0h0m-47.5 2.5h0m47.5 0h0m-47.5 2.5h0m47.5 0h0m-47.5 2.5h0m47.5 0h0m-47.5 2.5h0m47.5 0h0m-47.5 2.5h0m47.5 0h0m-47.5 2.5h0m47.5 0h0m-47.5 2.5h0m2.5 0h0m42.5 0h0m2.5 0h0m-45 2.5h0m2.5 0h0m37.5 0h0m2.5 0h0m-40 2.5h0m2.5 0h0m32.5 0h0m2.5 0h0m-35 2.5h0m2.5 0h0m27.5 0h0m2.5 0h0m-30 2.5h0m2.5 0h0m22.5 0h0m2.5 0h0m-25 2.5h0m2.5 0h0m2.5 0h0m2.5 0h0m2.5 0h0m2.5 0h0m2.5 0h0m2.5 0h0m2.5 0h0m2.5 0h0" stroke="#74747c" stroke-width="1.7" stroke-linecap="round" fill="none"/><path d="M98.3 274.4h0m2.5 0h0m2.5 0h0m2.5 0h0m2.5 0h0m2.5 0h0m2.5 0h0m2.5 0h0m-20 2.5h0m2.5 0h0m2.5 0h0m2.5 0h0m2.5 0h0m2.5 0h0m2.5 0h0m2.5 0h0m2.5 0h0m2.5 0h0m-25 2.5h0m2.5 0h0m2.5 0h0m2.5 0h0m2.5 0h0m2.5 0h0m2.5 0h0m2.5 0h0m2.5 0h0m2.5 0h0m2.5 0h0m2.5 0h0m-30 2.5h0m2.5 0h0m2.5 0h0m2.5 0h0m2.5 0h0m2.5 0h0m2.5 0h0m2.5 0h0m2.5 0h0m2.5 0h0m2.5 0h0m2.5 0h0m2.5 0h0m2.5 0h0m-35 2.5h0m2.5 0h0m2.5 0h0m2.5 0h0m2.5 0h0m2.5 0h0m2.5 0h0m2.5 0h0m2.5 0h0m2.5 0h0m2.5 0h0m2.5 0h0m2.5 0h0m2.5 0h0m2.5 0h0m2.5 0h0m-40 2.5h0m2.5 0h0m2.5 0h0m2.5 0h0m2.5 0h0m2.5 0h0m2.5 0h0m2.5 0h0m2.5 0h0m2.5 0h0m2.5 0h0m2.5 0h0m2.5 0h0m2.5 0h0m2.5 0h0m2.5 0h0m2.5 0h0m2.5 0h0m-42.5 2.5h0m2.5 0h0m2.5 0h0m2.5 0h0m2.5 0h0m2.5 0h0m2.5 0h0m2.5 0h0m2.5 0h0m2.5 0h0m2.5 0h0m2.5 0h0m2.5 0h0m2.5 0h0m2.5 0h0m2.5 0h0m2.5 0h0m2.5 0h0m-42.5 2.5h0m2.5 0h0m2.5 0h0m2.5 0h0m2.5 0h0m2.5 0h0m2.5 0h0m2.5 0h0m2.5 0h0m2.5 0h0m2.5 0h0m2.5 0h0m2.5 0h0m2.5 0h0m2.5 0h0m2.5 0h0m2.5 0h0m2.5 0h0m-42.5 2.5h0m2.5 0h0m2.5 0h0m2.5 0h0m2.5 0h0m2.5 0h0m2.5 0h0m2.5 0h0m2.5 0h0m2.5 0h0m2.5 0h0m2.5 0h0m2.5 0h0m2.5 0h0m2.5 0h0m2.5 0h0m2.5 0h0m2.5 0h0m-42.5 2.5h0m2.5 0h0m2.5 0h0m2.5 0h0m2.5 0h0m2.5 0h0m2.5 0h0m2.5 0h0m2.5 0h0m2.5 0h0m2.5 0h0m2.5 0h0m2.5 0h0m2.5 0h0m2.5 0h0m2.5 0h0m2.5 0h0m2.5 0h0m-42.5 2.5h0m2.5 0h0m2.5 0h0m2.5 0h0m2.5 0h0m2.5 0h0m2.5 0h0m2.5 0h0m2.5 0h0m2.5 0h0m2.5 0h0m2.5 0h0m2.5 0h0m2.5 0h0m2.5 0h0m2.5 0h0m2.5 0h0m2.5 0h0m-42.5 2.5h0m2.5 0h0m2.5 0h0m2.5 0h0m2.5 0h0m2.5 0h0m2.5 0h0m2.5 0h0m2.5 0h0m2.5 0h0m2.5 0h0m2.5 0h0m2.5 0h0m2.5 0h0m2.5 0h0m2.5 0h0m2.5 0h0m2.5 0h0m-42.5 2.5h0m2.5 0h0m2.5 0h0m2.5 0h0m2.5 0h0m2.5 0h0m2.5 0h0m2.5 0h0m2.5 0h0m2.5 0h0m2.5 0h0m2.5 0h0m2.5 0h0m2.5 0h0m2.5 0h0m2.5 0h0m2.5 0h0m2.5 0h0m-40 2.5h0m2.5 0h0m2.5 0h0m2.5 0h0m2.5 0h0m2.5 0h0m2.5 0h0m2.5 0h0m2.5 0h0m2.5 0h0m2.5 0h0m2.5 0h0m2.5 0h0m2.5 0h0m2.5 0h0m2.5 0h0m-35 2.5h0m2.5 0h0m2.5 0h0m2.5 0h0m2.5 0h0m2.5 0h0m2.5 0h0m2.5 0h0m2.5 0h0m2.5 0h0m2.5 0h0m2.5 0h0m2.5 0h0m2.5 0h0m-30 2.5h0m2.5 0h0m2.5 0h0m2.5 0h0m2.5 0h0m2.5 0h0m2.5 0h0m2.5 0h0m2.5 0h0m2.5 0h0m2.5 0h0m2.5 0h0m-25 2.5h0m2.5 0h0m2.5 0h0m2.5 0h0m2.5 0h0m2.5 0h0m2.5 0h0m2.5 0h0m2.5 0h0m2.5 0h0m-20 2.5h0m2.5 0h0m2.5 0h0m2.5 0h0m2.5 0h0m2.5 0h0m2.5 0h0m2.5 0h0" stroke="#5cb864" stroke-width="1.7" stroke-linecap="round" fill="none"/><path d="M94.6 273.2h0m2.5 0h0m2.5 0h0m2.5 0h0m2.5 0h0m2.5 0h0m2.5 0h0m2.5 0h0m2.5 0h0m2.5 0h0m2.5 0h0m-27.5 2.5h0m2.5 0h0m2.5 0h0m2.5 0h0m2.5 0h0m2.5 0h0m2.5 0h0m2.5 0h0m2.5 0h0m2.5 0h0m2.5 0h0m2.5 0h0m2.5 0h0m-32.5 2.5h0m2.5 0h0m2.5 0h0m2.5 0h0m2.5 0h0m2.5 0h0m2.5 0h0m2.5 0h0m2.5 0h0m2.5 0h0m2.5 0h0m2.5 0h0m2.5 0h0m2.5 0h0m2.5 0h0m-37.5 2.5h0m2.5 0h0m2.5 0h0m2.5 0h0m2.5 0h0m2.5 0h0m2.5 0h0m2.5 0h0m2.5 0h0m2.5 0h0m2.5 0h0m2.5 0h0m2.5 0h0m2.5 0h0m2.5 0h0m2.5 0h0m2.5 0h0m-42.5 2.5h0m2.5 0h0m2.5 0h0m2.5 0h0m2.5 0h0m2.5 0h0m2.5 0h0m2.5 0h0m2.5 0h0m2.5 0h0m2.5 0h0m2.5 0h0m2.5 0h0m2.5 0h0m2.5 0h0m2.5 0h0m2.5 0h0m2.5 0h0m2.5 0h0m-45 2.5h0m2.5 0h0m2.5 0h0m2.5 0h0m2.5 0h0m2.5 0h0m2.5 0h0m2.5 0h0m2.5 0h0m2.5 0h0m2.5 0h0m2.5 0h0m2.5 0h0m2.5 0h0m2.5 0h0m2.5 0h0m2.5 0h0m2.5 0h0m2.5 0h0m-45 2.5h0m2.5 0h0m2.5 0h0m2.5 0h0m2.5 0h0m2.5 0h0m2.5 0h0m2.5 0h0m2.5 0h0m2.5 0h0m2.5 0h0m2.5 0h0m2.5 0h0m2.5 0h0m2.5 0h0m2.5 0h0m2.5 0h0m2.5 0h0m2.5 0h0m-45 2.5h0m2.5 0h0m2.5 0h0m2.5 0h0m2.5 0h0m2.5 0h0m2.5 0h0m2.5 0h0m2.5 0h0m2.5 0h0m2.5 0h0m2.5 0h0m2.5 0h0m2.5 0h0m2.5 0h0m2.5 0h0m2.5 0h0m2.5 0h0m2.5 0h0m-45 2.5h0m2.5 0h0m2.5 0h0m2.5 0h0m2.5 0h0m2.5 0h0m2.5 0h0m2.5 0h0m2.5 0h0m2.5 0h0m2.5 0h0m2.5 0h0m2.5 0h0m2.5 0h0m2.5 0h0m2.5 0h0m2.5 0h0m2.5 0h0m2.5 0h0m-45 2.5h0m2.5 0h0m2.5 0h0m2.5 0h0m2.5 0h0m2.5 0h0m2.5 0h0m2.5 0h0m2.5 0h0m2.5 0h0m2.5 0h0m2.5 0h0m2.5 0h0m2.5 0h0m2.5 0h0m2.5 0h0m2.5 0h0m2.5 0h0m2.5 0h0m-45 2.5h0m2.5 0h0m2.5 0h0m2.5 0h0m2.5 0h0m2.5 0h0m2.5 0h0m2.5 0h0m2.5 0h0m2.5 0h0m2.5 0h0m2.5 0h0m2.5 0h0m2.5 0h0m2.5 0h0m2.5 0h0m2.5 0h0m2.5 0h0m2.5 0h0m-45 2.5h0m2.5 0h0m2.5 0h0m2.5 0h0m2.5 0h0m2.5 0h0m2.5 0h0m2.5 0h0m2.5 0h0m2.5 0h0m2.5 0h0m2.5 0h0m2.5 0h0m2.5 0h0m2.5 0h0m2.5 0h0m2.5 0h0m2.5 0h0m2.5 0h0m-45 2.5h0m2.5 0h0m2.5 0h0m2.5 0h0m2.5 0h0m2.5 0h0m2.5 0h0m2.5 0h0m2.5 0h0m2.5 0h0m2.5 0h0m2.5 0h0m2.5 0h0m2.5 0h0m2.5 0h0m2.5 0h0m2.5 0h0m2.5 0h0m2.5 0h0m-45 2.5h0m2.5 0h0m2.5 0h0m2.5 0h0m2.5 0h0m2.5 0h0m2.5 0h0m2.5 0h0m2.5 0h0m2.5 0h0m2.5 0h0m2.5 0h0m2.5 0h0m2.5 0h0m2.5 0h0m2.5 0h0m2.5 0h0m2.5 0h0m2.5 0h0m-45 2.5h0m2.5 0h0m2.5 0h0m2.5 0h0m2.5 0h0m2.5 0h0m2.5 0h0m2.5 0h0m2.5 0h0m2.5 0h0m2.5 0h0m2.5 0h0m2.5 0h0m2.5 0h0m2.5 0h0m2.5 0h0m2.5 0h0m2.5 0h0m2.5 0h0m-42.5 2.5h0m2.5 0h0m2.5 0h0m2.5 0h0m2.5 0h0m2.5 0h0m2.5 0h0m2.5 0h0m2.5 0h0m2.5 0h0m2.5 0h0m2.5 0h0m2.5 0h0m2.5 0h0m2.5 0h0m2.5 0h0m2.5 0h0m-37.5 2.5h0m2.5 0h0m2.5 0h0m2.5 0h0m2.5 0h0m2.5 0h0m2.5 0h0m2.5 0h0m2.5 0h0m2.5 0h0m2.5 0h0m2.5 0h0m2.5 0h0m2.5 0h0m2.5 0h0m-32.5 2.5h0m2.5 0h0m2.5 0h0m2.5 0h0m2.5 0h0m2.5 0h0m2.5 0h0m2.5 0h0m2.5 0h0m2.5 0h0m2.5 0h0m2.5 0h0m2.5 0h0m-27.5 2.5h0m2.5 0h0m2.5 0h0m2.5 0h0m2.5 0h0m2.5 0h0m2.5 0h0m2.5 0h0m2.5 0h0m2.5 0h0m2.5 0h0" stroke="#d4d4dc" stroke-width="1.7" stroke-linecap="round" fill="none"/><polygon points="125.1,228.1 121.4,227.6 117.7,226.6 114.2,225.1 111,223 108.1,220.6 105.5,217.7 103.4,214.6 101.8,211.2 101.1,207.5 100.9,203.7 101.3,199.9 102.2,196.2 103.7,192.6 105.6,189.3 108,186.4 110.7,183.8 114,182 117.6,180.6 121.3,179.8 125.1,179.6 128.9,179.8 132.6,180.6 136.2,182 139.5,183.8 142.2,186.4 144.6,189.3 146.5,192.6 148,196.2 148.9,199.9 149.3,203.7 149.1,207.5 148.4,211.2 146.8,214.6 144.7,217.7 142.1,220.6 139.2,223 136,225.1 132.5,226.6 128.8,227.6" fill="#83838b" stroke="#83838b" stroke-width="2.5" stroke-linejoin="round"/><g class="y"><circle cx="125.1" cy="228.1" r="2.1"/><circle cx="121.4" cy="227.6" r="2.1"/><circle cx="117.7" cy="226.6" r="2.1"/><circle cx="114.2" cy="225.1" r="2.1"/><circle cx="111" cy="223" r="2.1"/><circle cx="108.1" cy="220.6" r="2.1"/><circle cx="105.5" cy="217.7" r="2.1"/><circle cx="103.4" cy="214.6" r="2.1"/><circle cx="101.8" cy="211.2" r="2.1"/><circle cx="101.1" cy="207.5" r="2.1"/><circle cx="100.9" cy="203.7" r="2.1"/><circle cx="101.3" cy="199.9" r="2.1"/><circle cx="102.2" cy="196.2" r="2.1"/><circle cx="103.7" cy="192.6" r="2.1"/><circle cx="105.6" cy="189.3" r="2.1"/><circle cx="108" cy="186.4" r="2.1"/><circle cx="110.7" cy="183.8" r="2.1"/><circle cx="114" cy="182" r="2.1"/><circle cx="117.6" cy="180.6" r="2.1"/><circle cx="121.3" cy="179.8" r="2.1"/><circle cx="125.1" cy="179.6" r="2.1"/><circle cx="128.9" cy="179.8" r="2.1"/><circle cx="132.6" cy="180.6" r="2.1"/><circle cx="136.2" cy="182" r="2.1"/><circle cx="139.5" cy="183.8" r="2.1"/><circle cx="142.2" cy="186.4" r="2.1"/><circle cx="144.6" cy="189.3" r="2.1"/><circle cx="146.5" cy="192.6" r="2.1"/><circle cx="148" cy="196.2" r="2.1"/><circle cx="148.9" cy="199.9" r="2.1"/><circle cx="149.3" cy="203.7" r="2.1"/><circle cx="149.1" cy="207.5" r="2.1"/><circle cx="148.4" cy="211.2" r="2.1"/><circle cx="146.8" cy="214.6" r="2.1"/><circle cx="144.7" cy="217.7" r="2.1"/><circle cx="142.1" cy="220.6" r="2.1"/><circle cx="139.2" cy="223" r="2.1"/><circle cx="136" cy="225.1" r="2.1"/><circle cx="132.5" cy="226.6" r="2.1"/><circle cx="128.8" cy="227.6" r="2.1"/><circle cx="125.1" cy="225.6" r="2.1"/><circle cx="121.3" cy="225" r="2.1"/><circle cx="117.6" cy="223.8" r="2.1"/><circle cx="114.2" cy="222" r="2.1"/><circle cx="111" cy="219.7" r="2.1"/><circle cx="108.2" cy="216.9" r="2.1"/><circle cx="105.9" cy="213.8" r="2.1"/><circle cx="104.2" cy="210.4" r="2.1"/><circle cx="103.6" cy="206.6" r="2.1"/><circle cx="103.6" cy="202.7" r="2.1"/><circle cx="104.2" cy="198.9" r="2.1"/><circle cx="105.5" cy="195.2" r="2.1"/><circle cx="107.2" cy="191.7" r="2.1"/><circle cx="109.5" cy="188.5" r="2.1"/><circle cx="112.2" cy="185.8" r="2.1"/><circle cx="115.6" cy="184.1" r="2.1"/><circle cx="119.3" cy="182.9" r="2.1"/><circle cx="123.1" cy="182.3" r="2.1"/><circle cx="127.1" cy="182.3" r="2.1"/><circle cx="130.9" cy="182.9" r="2.1"/><circle cx="134.6" cy="184.1" r="2.1"/><circle cx="138" cy="185.8" r="2.1"/><circle cx="140.7" cy="188.5" r="2.1"/><circle cx="143" cy="191.7" r="2.1"/><circle cx="144.7" cy="195.2" r="2.1"/><circle cx="146" cy="198.9" r="2.1"/><circle cx="146.6" cy="202.7" r="2.1"/><circle cx="146.6" cy="206.6" r="2.1"/><circle cx="146" cy="210.4" r="2.1"/><circle cx="144.3" cy="213.8" r="2.1"/><circle cx="142" cy="216.9" r="2.1"/><circle cx="139.2" cy="219.7" r="2.1"/><circle cx="136" cy="222" r="2.1"/><circle cx="132.6" cy="223.8" r="2.1"/><circle cx="128.9" cy="225" r="2.1"/></g><g class="n"><circle cx="125.1" cy="222.7" r="2.1"/><circle cx="121.3" cy="221.9" r="2.1"/><circle cx="117.7" cy="220.5" r="2.1"/><circle cx="114.3" cy="218.5" r="2.1"/><circle cx="111.3" cy="215.9" r="2.1"/><circle cx="108.8" cy="212.9" r="2.1"/><circle cx="106.9" cy="209.5" r="2.1"/><circle cx="106.5" cy="205.7" r="2.1"/><circle cx="106.7" cy="201.8" r="2.1"/><circle cx="107.6" cy="197.9" r="2.1"/><circle cx="109.2" cy="194.3" r="2.1"/><circle cx="111.3" cy="191" r="2.1"/><circle cx="113.9" cy="188.1" r="2.1"/><circle cx="117.4" cy="186.6" r="2.1"/><circle cx="121.2" cy="185.6" r="2.1"/><circle cx="125.1" cy="185.2" r="2.1"/><circle cx="129" cy="185.6" r="2.1"/><circle cx="132.8" cy="186.6" r="2.1"/><circle cx="136.3" cy="188.1" r="2.1"/><circle cx="138.9" cy="191" r="2.1"/><circle cx="141" cy="194.3" r="2.1"/><circle cx="142.6" cy="197.9" r="2.1"/><circle cx="143.5" cy="201.8" r="2.1"/><circle cx="143.7" cy="205.7" r="2.1"/><circle cx="143.3" cy="209.5" r="2.1"/><circle cx="141.4" cy="212.9" r="2.1"/><circle cx="138.9" cy="215.9" r="2.1"/><circle cx="135.9" cy="218.5" r="2.1"/><circle cx="132.5" cy="220.5" r="2.1"/><circle cx="128.9" cy="221.9" r="2.1"/></g><g class="y"><circle cx="125.1" cy="187.6" r="2.1"/><circle cx="128.9" cy="188.4" r="2.1"/><circle cx="132.6" cy="189.9" r="2.1"/><circle cx="135.8" cy="192.3" r="2.1"/><circle cx="138.4" cy="195.2" r="2.1"/><circle cx="140.3" cy="198.7" r="2.1"/><circle cx="140.8" cy="202.5" r="2.1"/><circle cx="140.4" cy="206.5" r="2.1"/><circle cx="139.2" cy="210.3" r="2.1"/><circle cx="137.2" cy="213.7" r="2.1"/><circle cx="134.5" cy="216.5" r="2.1"/><circle cx="131" cy="218.2" r="2.1"/><circle cx="127.1" cy="219" r="2.1"/><circle cx="123.1" cy="219" r="2.1"/><circle cx="119.2" cy="218.2" r="2.1"/><circle cx="115.7" cy="216.5" r="2.1"/><circle cx="113" cy="213.7" r="2.1"/><circle cx="111" cy="210.3" r="2.1"/><circle cx="109.8" cy="206.5" r="2.1"/><circle cx="109.4" cy="202.5" r="2.1"/><circle cx="109.9" cy="198.7" r="2.1"/><circle cx="111.8" cy="195.2" r="2.1"/><circle cx="114.4" cy="192.3" r="2.1"/><circle cx="117.6" cy="189.9" r="2.1"/><circle cx="121.3" cy="188.4" r="2.1"/><circle cx="125.1" cy="216.5" r="2.1"/><circle cx="121.2" cy="215.7" r="2.1"/><circle cx="117.7" cy="213.8" r="2.1"/><circle cx="114.8" cy="211" r="2.1"/><circle cx="112.8" cy="207.6" r="2.1"/><circle cx="112.4" cy="203.6" r="2.1"/><circle cx="113.1" cy="199.7" r="2.1"/><circle cx="114.8" cy="196.1" r="2.1"/><circle cx="117.5" cy="193.2" r="2.1"/><circle cx="121.1" cy="191.5" r="2.1"/><circle cx="125.1" cy="190.9" r="2.1"/><circle cx="129.1" cy="191.5" r="2.1"/><circle cx="132.7" cy="193.2" r="2.1"/><circle cx="135.4" cy="196.1" r="2.1"/><circle cx="137.1" cy="199.7" r="2.1"/><circle cx="137.8" cy="203.6" r="2.1"/><circle cx="137.4" cy="207.6" r="2.1"/><circle cx="135.4" cy="211" r="2.1"/><circle cx="132.5" cy="213.8" r="2.1"/><circle cx="129" cy="215.7" r="2.1"/></g><g class="n"><circle cx="125.1" cy="213.3" r="2.1"/><circle cx="121.2" cy="212.3" r="2.1"/><circle cx="118" cy="210" r="2.1"/><circle cx="115.9" cy="206.6" r="2.1"/><circle cx="115.6" cy="202.6" r="2.1"/><circle cx="116.9" cy="198.8" r="2.1"/><circle cx="119.4" cy="195.8" r="2.1"/><circle cx="123.1" cy="194.3" r="2.1"/><circle cx="127.1" cy="194.3" r="2.1"/><circle cx="130.8" cy="195.8" r="2.1"/><circle cx="133.3" cy="198.8" r="2.1"/><circle cx="134.6" cy="202.6" r="2.1"/><circle cx="134.3" cy="206.6" r="2.1"/><circle cx="132.2" cy="210" r="2.1"/><circle cx="129" cy="212.3" r="2.1"/><circle cx="125.1" cy="210.1" r="2.1"/><circle cx="121.3" cy="208.9" r="2.1"/><circle cx="118.9" cy="205.6" r="2.1"/><circle cx="118.9" cy="201.6" r="2.1"/><circle cx="121.3" cy="198.3" r="2.1"/><circle cx="125.1" cy="197.1" r="2.1"/><circle cx="128.9" cy="198.3" r="2.1"/><circle cx="131.3" cy="201.6" r="2.1"/><circle cx="131.3" cy="205.6" r="2.1"/><circle cx="128.9" cy="208.9" r="2.1"/><circle cx="125.1" cy="200.3" r="2.1"/><circle cx="128.2" cy="202.6" r="2.1"/><circle cx="127" cy="206.3" r="2.1"/><circle cx="123.2" cy="206.3" r="2.1"/><circle cx="122" cy="202.6" r="2.1"/><circle cx="125.1" cy="203.6" r="2.1"/></g><circle cx="125.1" cy="203.6" r="26.6" fill="url(#sh)"/><polygon fill="#70787a" points="189,210.9 209.8,210.9 224.6,225.7 224.6,246.5 209.8,261.3 189,261.3 174.2,246.5 174.2,225.7"/><path d="M188.6 212.7h0m3.6 0h0m3.6 0h0m3.6 0h0m3.6 0h0m3.6 0h0m3.6 0h0m-23.4 1.8h0m25.2 0h0m-27 1.8h0m28.8 0h0m-30.6 1.8h0m32.4 0h0m-34.2 1.8h0m36 0h0m-37.8 1.8h0m39.6 0h0m-41.4 1.8h0m43.2 0h0m-45 1.8h0m46.8 0h0m-46.8 3.6h0m46.8 0h0m-46.8 3.6h0m46.8 0h0m-46.8 3.6h0m46.8 0h0m-46.8 3.6h0m46.8 0h0m-46.8 3.6h0m46.8 0h0m-46.8 3.6h0m46.8 0h0m-45 1.8h0m43.2 0h0m-41.4 1.8h0m39.6 0h0m-37.8 1.8h0m36 0h0m-34.2 1.8h0m32.4 0h0m-30.6 1.8h0m28.8 0h0m-27 1.8h0m25.2 0h0m-23.4 1.8h0m3.6 0h0m3.6 0h0m3.6 0h0m3.6 0h0m3.6 0h0m3.6 0h0" stroke="#a9a9b2" stroke-width="1.8" stroke-linecap="round" fill="none"/><path d="M190.4 214.5h0m3.6 0h0m3.6 0h0m3.6 0h0m3.6 0h0m3.6 0h0m-19.8 1.8h0m3.6 0h0m3.6 0h0m3.6 0h0m3.6 0h0m3.6 0h0m3.6 0h0m-23.4 1.8h0m3.6 0h0m3.6 0h0m3.6 0h0m3.6 0h0m3.6 0h0m3.6 0h0m3.6 0h0m-27 1.8h0m3.6 0h0m3.6 0h0m3.6 0h0m3.6 0h0m3.6 0h0m3.6 0h0m3.6 0h0m3.6 0h0m-30.6 1.8h0m3.6 0h0m3.6 0h0m3.6 0h0m3.6 0h0m3.6 0h0m3.6 0h0m3.6 0h0m3.6 0h0m3.6 0h0m-34.2 1.8h0m3.6 0h0m3.6 0h0m3.6 0h0m3.6 0h0m3.6 0h0m3.6 0h0m3.6 0h0m3.6 0h0m3.6 0h0m3.6 0h0m-37.8 1.8h0m3.6 0h0m3.6 0h0m3.6 0h0m3.6 0h0m3.6 0h0m3.6 0h0m3.6 0h0m3.6 0h0m3.6 0h0m3.6 0h0m3.6 0h0m-41.4 1.8h0m3.6 0h0m3.6 0h0m3.6 0h0m3.6 0h0m3.6 0h0m3.6 0h0m3.6 0h0m3.6 0h0m3.6 0h0m3.6 0h0m3.6 0h0m3.6 0h0m-41.4 1.8h0m3.6 0h0m3.6 0h0m3.6 0h0m3.6 0h0m3.6 0h0m3.6 0h0m3.6 0h0m3.6 0h0m3.6 0h0m3.6 0h0m3.6 0h0m-41.4 1.8h0m3.6 0h0m3.6 0h0m3.6 0h0m3.6 0h0m3.6 0h0m3.6 0h0m3.6 0h0m3.6 0h0m3.6 0h0m3.6 0h0m3.6 0h0m3.6 0h0m-41.4 1.8h0m3.6 0h0m3.6 0h0m3.6 0h0m3.6 0h0m3.6 0h0m3.6 0h0m3.6 0h0m3.6 0h0m3.6 0h0m3.6 0h0m3.6 0h0m-41.4 1.8h0m3.6 0h0m3.6 0h0m3.6 0h0m3.6 0h0m3.6 0h0m3.6 0h0m3.6 0h0m3.6 0h0m3.6 0h0m3.6 0h0m3.6 0h0m3.6 0h0m-41.4 1.8h0m3.6 0h0m3.6 0h0m3.6 0h0m3.6 0h0m3.6 0h0m3.6 0h0m3.6 0h0m3.6 0h0m3.6 0h0m3.6 0h0m3.6 0h0m-41.4 1.8h0m3.6 0h0m3.6 0h0m3.6 0h0m3.6 0h0m3.6 0h0m3.6 0h0m3.6 0h0m3.6 0h0m3.6 0h0m3.6 0h0m3.6 0h0m3.6 0h0m-41.4 1.8h0m3.6 0h0m3.6 0h0m3.6 0h0m3.6 0h0m3.6 0h0m3.6 0h0m3.6 0h0m3.6 0h0m3.6 0h0m3.6 0h0m3.6 0h0m-41.4 1.8h0m3.6 0h0m3.6 0h0m3.6 0h0m3.6 0h0m3.6 0h0m3.6 0h0m3.6 0h0m3.6 0h0m3.6 0h0m3.6 0h0m3.6 0h0m3.6 0h0m-41.4 1.8h0m3.6 0h0m3.6 0h0m3.6 0h0m3.6 0h0m3.6 0h0m3.6 0h0m3.6 0h0m3.6 0h0m3.6 0h0m3.6 0h0m3.6 0h0m-41.4 1.8h0m3.6 0h0m3.6 0h0m3.6 0h0m3.6 0h0m3.6 0h0m3.6 0h0m3.6 0h0m3.6 0h0m3.6 0h0m3.6 0h0m3.6 0h0m3.6 0h0m-41.4 1.8h0m3.6 0h0m3.6 0h0m3.6 0h0m3.6 0h0m3.6 0h0m3.6 0h0m3.6 0h0m3.6 0h0m3.6 0h0m3.6 0h0m3.6 0h0m-37.8 1.8h0m3.6 0h0m3.6 0h0m3.6 0h0m3.6 0h0m3.6 0h0m3.6 0h0m3.6 0h0m3.6 0h0m3.6 0h0m3.6 0h0m-34.2 1.8h0m3.6 0h0m3.6 0h0m3.6 0h0m3.6 0h0m3.6 0h0m3.6 0h0m3.6 0h0m3.6 0h0m3.6 0h0m-30.6 1.8h0m3.6 0h0m3.6 0h0m3.6 0h0m3.6 0h0m3.6 0h0m3.6 0h0m3.6 0h0m3.6 0h0m-27 1.8h0m3.6 0h0m3.6 0h0m3.6 0h0m3.6 0h0m3.6 0h0m3.6 0h0m3.6 0h0m-23.4 1.8h0m3.6 0h0m3.6 0h0m3.6 0h0m3.6 0h0m3.6 0h0m3.6 0h0m-19.8 1.8h0m3.6 0h0m3.6 0h0m3.6 0h0m3.6 0h0m3.6 0h0" stroke="#5cb864" stroke-width="1.8" stroke-linecap="round" fill="none"/><path d="M188.6 214.5h0m3.6 0h0m3.6 0h0m3.6 0h0m3.6 0h0m3.6 0h0m3.6 0h0m-23.4 1.8h0m25.2 0h0m-27 1.8h0m28.8 0h0m-30.6 1.8h0m32.4 0h0m-34.2 1.8h0m36 0h0m-37.8 1.8h0m39.6 0h0m-41.4 1.8h0m43.2 0h0m-43.2 3.6h0m43.2 0h0m-43.2 3.6h0m43.2 0h0m-43.2 3.6h0m43.2 0h0m-43.2 3.6h0m43.2 0h0m-43.2 3.6h0m43.2 0h0m-43.2 3.6h0m43.2 0h0m-41.4 1.8h0m39.6 0h0m-37.8 1.8h0m36 0h0m-34.2 1.8h0m32.4 0h0m-30.6 1.8h0m28.8 0h0m-27 1.8h0m25.2 0h0m-23.4 1.8h0m3.6 0h0m3.6 0h0m3.6 0h0m3.6 0h0m3.6 0h0m3.6 0h0" stroke="#4fa556" stroke-width="1.8" stroke-linecap="round" fill="none"/><path d="M190.4 212.7h0m3.6 0h0m3.6 0h0m3.6 0h0m3.6 0h0m3.6 0h0m-18 3.6h0m3.6 0h0m3.6 0h0m3.6 0h0m3.6 0h0m3.6 0h0m-19.8 1.8h0m3.6 0h0m3.6 0h0m3.6 0h0m3.6 0h0m3.6 0h0m3.6 0h0m-23.4 1.8h0m3.6 0h0m3.6 0h0m3.6 0h0m3.6 0h0m3.6 0h0m3.6 0h0m3.6 0h0m-27 1.8h0m3.6 0h0m3.6 0h0m3.6 0h0m3.6 0h0m3.6 0h0m3.6 0h0m3.6 0h0m3.6 0h0m-30.6 1.8h0m3.6 0h0m3.6 0h0m3.6 0h0m3.6 0h0m3.6 0h0m3.6 0h0m3.6 0h0m3.6 0h0m3.6 0h0m-34.2 1.8h0m3.6 0h0m3.6 0h0m3.6 0h0m3.6 0h0m3.6 0h0m3.6 0h0m3.6 0h0m3.6 0h0m3.6 0h0m3.6 0h0m-41.4 1.8h0m3.6 0h0m3.6 0h0m3.6 0h0m3.6 0h0m3.6 0h0m3.6 0h0m3.6 0h0m3.6 0h0m3.6 0h0m3.6 0h0m3.6 0h0m3.6 0h0m3.6 0h0m-41.4 1.8h0m3.6 0h0m3.6 0h0m3.6 0h0m3.6 0h0m3.6 0h0m3.6 0h0m3.6 0h0m3.6 0h0m3.6 0h0m3.6 0h0m-41.4 1.8h0m3.6 0h0m3.6 0h0m3.6 0h0m3.6 0h0m3.6 0h0m3.6 0h0m3.6 0h0m3.6 0h0m3.6 0h0m3.6 0h0m3.6 0h0m3.6 0h0m3.6 0h0m-41.4 1.8h0m3.6 0h0m3.6 0h0m3.6 0h0m3.6 0h0m3.6 0h0m3.6 0h0m3.6 0h0m3.6 0h0m3.6 0h0m3.6 0h0m-41.4 1.8h0m3.6 0h0m3.6 0h0m3.6 0h0m3.6 0h0m3.6 0h0m3.6 0h0m3.6 0h0m3.6 0h0m3.6 0h0m3.6 0h0m3.6 0h0m3.6 0h0m3.6 0h0m-41.4 1.8h0m3.6 0h0m3.6 0h0m3.6 0h0m3.6 0h0m3.6 0h0m3.6 0h0m3.6 0h0m3.6 0h0m3.6 0h0m3.6 0h0m-41.4 1.8h0m3.6 0h0m3.6 0h0m3.6 0h0m3.6 0h0m3.6 0h0m3.6 0h0m3.6 0h0m3.6 0h0m3.6 0h0m3.6 0h0m3.6 0h0m3.6 0h0m3.6 0h0m-41.4 1.8h0m3.6 0h0m3.6 0h0m3.6 0h0m3.6 0h0m3.6 0h0m3.6 0h0m3.6 0h0m3.6 0h0m3.6 0h0m3.6 0h0m-41.4 1.8h0m3.6 0h0m3.6 0h0m3.6 0h0m3.6 0h0m3.6 0h0m3.6 0h0m3.6 0h0m3.6 0h0m3.6 0h0m3.6 0h0m3.6 0h0m3.6 0h0m3.6 0h0m-41.4 1.8h0m3.6 0h0m3.6 0h0m3.6 0h0m3.6 0h0m3.6 0h0m3.6 0h0m3.6 0h0m3.6 0h0m3.6 0h0m3.6 0h0m-41.4 1.8h0m3.6 0h0m3.6 0h0m3.6 0h0m3.6 0h0m3.6 0h0m3.6 0h0m3.6 0h0m3.6 0h0m3.6 0h0m3.6 0h0m3.6 0h0m3.6 0h0m3.6 0h0m-41.4 1.8h0m3.6 0h0m3.6 0h0m3.6 0h0m3.6 0h0m3.6 0h0m3.6 0h0m3.6 0h0m3.6 0h0m3.6 0h0m3.6 0h0m-34.2 1.8h0m3.6 0h0m3.6 0h0m3.6 0h0m3.6 0h0m3.6 0h0m3.6 0h0m3.6 0h0m3.6 0h0m3.6 0h0m-30.6 1.8h0m3.6 0h0m3.6 0h0m3.6 0h0m3.6 0h0m3.6 0h0m3.6 0h0m3.6 0h0m3.6 0h0m-27 1.8h0m3.6 0h0m3.6 0h0m3.6 0h0m3.6 0h0m3.6 0h0m3.6 0h0m3.6 0h0m-23.4 1.8h0m3.6 0h0m3.6 0h0m3.6 0h0m3.6 0h0m3.6 0h0m3.6 0h0m-19.8 1.8h0m3.6 0h0m3.6 0h0m3.6 0h0m3.6 0h0m3.6 0h0m-18 3.6h0m3.6 0h0m3.6 0h0m3.6 0h0m3.6 0h0m3.6 0h0" stroke="#c4c4cc" stroke-width="1.8" stroke-linecap="round" fill="none"/>
<rect x="25.8" y="172.6" width="200.9" height="149" fill="none" stroke="#484848" stroke-width="0.6"/>
<text class="t" text-anchor="end" x="21.3" y="325">0.5</text>
<text class="t" text-anchor="end" x="21.3" y="295.2">1.0</text>
<text class="t" text-anchor="end" x="21.3" y="265.4">1.5</text>
<text class="t" text-anchor="end" x="21.3" y="235.6">2.0</text>
<text class="t" text-anchor="end" x="21.3" y="205.8">2.5</text>
<text class="t" text-anchor="end" x="21.3" y="176">3.0</text>
<path d="M30.7 321.6v3.2M57.8 321.6v3.2M85 321.6v3.2M112.1 321.6v3.2M139.2 321.6v3.2M166.4 321.6v3.2M193.5 321.6v3.2M220.6 321.6v3.2M25.8 321.6h-3.2M25.8 291.8h-3.2M25.8 262h-3.2M25.8 232.2h-3.2M25.8 202.4h-3.2M25.8 172.6h-3.2" stroke="#484848" stroke-width="0.6" fill="none"/>
<text class="t" text-anchor="middle" x="126.3" y="170.2" style="font-size:7.4px">Pt<tspan class="s" dy="1.3">0.6</tspan><tspan dy="-1.3">Ni</tspan><tspan class="s" dy="1.3">0.4</tspan></text>
<text class="L" x="28.3" y="185.7">d</text>
<text class="t" text-anchor="middle" transform="translate(6.9 247.1) rotate(-90)" style="font-size:7.2px">Δ (eV·atom<tspan class="s" dy="-2.6">−2/3</tspan><tspan dy="2.6">)</tspan></text>
</g>
<g id="panel-e">
<polyline fill="none" stroke="#1f77b4" stroke-width="0.9" stroke-linejoin="round" points="244.9,216.8 256.4,224.3 272.5,236.4 287.9,244.4 299.1,248.4 308.8,251.6 315.2,257.6 325.2,260.5 330.9,265.1 342.1,270.4 358,277.6 373.8,284 385,288.4 401.1,296.7 416.8,302.3 427.9,308"/>
<g fill="#1f77b4"><circle cx="244.9" cy="216.8" r="0.9"/><circle cx="256.4" cy="224.3" r="0.9"/><circle cx="272.5" cy="236.4" r="0.9"/><circle cx="287.9" cy="244.4" r="0.9"/><circle cx="299.1" cy="248.4" r="0.9"/><circle cx="308.8" cy="251.6" r="0.9"/><circle cx="315.2" cy="257.6" r="0.9"/><circle cx="325.2" cy="260.5" r="0.9"/><circle cx="330.9" cy="265.1" r="0.9"/><circle cx="342.1" cy="270.4" r="0.9"/><circle cx="358" cy="277.6" r="0.9"/><circle cx="373.8" cy="284" r="0.9"/><circle cx="385" cy="288.4" r="0.9"/><circle cx="401.1" cy="296.7" r="0.9"/><circle cx="416.8" cy="302.3" r="0.9"/><circle cx="427.9" cy="308" r="0.9"/></g>
<polyline fill="none" stroke="#ff7f0e" stroke-width="0.9" stroke-linejoin="round" points="246.3,203.5 271.7,221.1 297.1,234.8 322.4,246.5 347.8,258.2 373.3,270.2 398.7,277.6 424,294.3"/>
<g fill="#ff7f0e"><circle cx="246.3" cy="203.5" r="0.9"/><circle cx="271.7" cy="221.1" r="0.9"/><circle cx="297.1" cy="234.8" r="0.9"/><circle cx="322.4" cy="246.5" r="0.9"/><circle cx="347.8" cy="258.2" r="0.9"/><circle cx="373.3" cy="270.2" r="0.9"/><circle cx="398.7" cy="277.6" r="0.9"/><circle cx="424" cy="294.3" r="0.9"/></g>
<polyline fill="none" stroke="#2ca02c" stroke-width="0.9" stroke-linejoin="round" points="246.3,223.2 271.7,239.9 297.1,254.4 322.4,267.4 347.8,276.8 373.3,287.2 398.7,297.2 424.4,305.2"/>
<g fill="#2ca02c"><circle cx="246.3" cy="223.2" r="0.9"/><circle cx="271.7" cy="239.9" r="0.9"/><circle cx="297.1" cy="254.4" r="0.9"/><circle cx="322.4" cy="267.4" r="0.9"/><circle cx="347.8" cy="276.8" r="0.9"/><circle cx="373.3" cy="287.2" r="0.9"/><circle cx="398.7" cy="297.2" r="0.9"/><circle cx="424.4" cy="305.2" r="0.9"/></g>
<polyline fill="none" stroke="#d62728" stroke-width="0.9" stroke-linejoin="round" points="255,220.8 262.2,222.7 273,231.1 285.3,239.9 293.4,242.3 303.5,248.8 312.3,253.3 320.7,256.5 342.8,269.1 369.8,281.9 400.3,292.4 427.6,304.1"/>
<g fill="#d62728"><circle cx="255" cy="220.8" r="0.9"/><circle cx="262.2" cy="222.7" r="0.9"/><circle cx="273" cy="231.1" r="0.9"/><circle cx="285.3" cy="239.9" r="0.9"/><circle cx="293.4" cy="242.3" r="0.9"/><circle cx="303.5" cy="248.8" r="0.9"/><circle cx="312.3" cy="253.3" r="0.9"/><circle cx="320.7" cy="256.5" r="0.9"/><circle cx="342.8" cy="269.1" r="0.9"/><circle cx="369.8" cy="281.9" r="0.9"/><circle cx="400.3" cy="292.4" r="0.9"/><circle cx="427.6" cy="304.1" r="0.9"/></g>
<line x1="271.7" y1="239.9" x2="266.1" y2="255.3" stroke="#0a0a0a" stroke-width="0.9" stroke-dasharray="3 1.3"/>
<line x1="330.9" y1="234.5" x2="322.4" y2="267.4" stroke="#0a0a0a" stroke-width="0.9" stroke-dasharray="3 1.3"/>
<line x1="410.4" y1="261.1" x2="426.8" y2="305.2" stroke="#0a0a0a" stroke-width="0.9" stroke-dasharray="3 1.3"/>
<line x1="373.3" y1="287.2" x2="341.2" y2="294" stroke="#0a0a0a" stroke-width="0.9" stroke-dasharray="3 1.3"/>
<g fill="#5f6a66"><circle cx="236.7" cy="297.4" r="3.1"/><circle cx="281.9" cy="297.4" r="3.1"/><circle cx="259.6" cy="258.8" r="3.1"/><circle cx="238.5" cy="271.8" r="3.1"/><circle cx="259.6" cy="308.7" r="3.1"/><circle cx="236.2" cy="290.8" r="3.1"/><circle cx="280.1" cy="271.8" r="3.1"/><circle cx="282.5" cy="290.8" r="3.1"/><circle cx="242.1" cy="300.3" r="3.1"/><circle cx="236.2" cy="284.3" r="3.1"/><circle cx="276.5" cy="300.3" r="3.1"/><circle cx="253.7" cy="261.7" r="3.1"/><circle cx="265.3" cy="261.7" r="3.1"/><circle cx="282.5" cy="284.3" r="3.1"/><circle cx="248" cy="264.7" r="3.1"/><circle cx="248" cy="303.9" r="3.1"/><circle cx="253.7" cy="306.3" r="3.1"/><circle cx="265.3" cy="306.3" r="3.1"/><circle cx="271" cy="264.7" r="3.1"/><circle cx="271" cy="303.9" r="3.1"/><circle cx="274.8" cy="267.7" r="3.1"/><circle cx="244.5" cy="267.7" r="3.1"/><circle cx="237.9" cy="278.4" r="3.1"/><circle cx="280.7" cy="278.4" r="3.1"/><circle cx="242.1" cy="294.4" r="3.1"/><circle cx="276.5" cy="294.4" r="3.1"/><circle cx="259.6" cy="264.7" r="3.1"/><circle cx="244.5" cy="274.8" r="3.1"/><circle cx="242.1" cy="287.9" r="3.1"/><circle cx="259.6" cy="302.1" r="3.1"/><circle cx="253.7" cy="267.7" r="3.1"/><circle cx="265.3" cy="267.7" r="3.1"/><circle cx="274.2" cy="274.8" r="3.1"/><circle cx="248" cy="297.4" r="3.1"/><circle cx="276.5" cy="287.9" r="3.1"/><circle cx="271" cy="297.4" r="3.1"/><circle cx="253.7" cy="300.3" r="3.1"/><circle cx="265.3" cy="300.3" r="3.1"/><circle cx="269.4" cy="271.8" r="3.1"/><circle cx="243.9" cy="281.9" r="3.1"/><circle cx="249.8" cy="271.8" r="3.1"/><circle cx="274.8" cy="281.9" r="3.1"/><circle cx="248" cy="290.8" r="3.1"/><circle cx="271" cy="290.8" r="3.1"/><circle cx="259.6" cy="271.2" r="3.1"/><circle cx="259.6" cy="297.4" r="3.1"/><circle cx="253.7" cy="294.4" r="3.1"/><circle cx="265.3" cy="294.4" r="3.1"/><circle cx="248" cy="284.3" r="3.1"/><circle cx="249.8" cy="278.4" r="3.1"/><circle cx="271" cy="284.3" r="3.1"/><circle cx="253.7" cy="274.8" r="3.1"/><circle cx="265.3" cy="274.8" r="3.1"/><circle cx="268.8" cy="278.4" r="3.1"/><circle cx="253.7" cy="287.9" r="3.1"/><circle cx="265.3" cy="287.9" r="3.1"/><circle cx="259.6" cy="290.8" r="3.1"/><circle cx="253.7" cy="281.9" r="3.1"/><circle cx="265.3" cy="281.9" r="3.1"/><circle cx="259.6" cy="278.4" r="3.1"/><circle cx="259.6" cy="284.3" r="3.1"/></g><g class="n"><circle cx="236.7" cy="297.4" r="2.95"/><circle cx="281.9" cy="297.4" r="2.95"/><circle cx="259.6" cy="258.8" r="2.95"/></g><g class="y"><circle cx="238.5" cy="271.8" r="2.95"/><circle cx="259.6" cy="308.7" r="2.95"/><circle cx="236.2" cy="290.8" r="2.95"/><circle cx="280.1" cy="271.8" r="2.95"/><circle cx="282.5" cy="290.8" r="2.95"/><circle cx="242.1" cy="300.3" r="2.95"/><circle cx="236.2" cy="284.3" r="2.95"/><circle cx="276.5" cy="300.3" r="2.95"/><circle cx="253.7" cy="261.7" r="2.95"/><circle cx="265.3" cy="261.7" r="2.95"/><circle cx="282.5" cy="284.3" r="2.95"/><circle cx="248" cy="264.7" r="2.95"/><circle cx="248" cy="303.9" r="2.95"/><circle cx="253.7" cy="306.3" r="2.95"/><circle cx="265.3" cy="306.3" r="2.95"/><circle cx="271" cy="264.7" r="2.95"/><circle cx="271" cy="303.9" r="2.95"/><circle cx="274.8" cy="267.7" r="2.95"/><circle cx="244.5" cy="267.7" r="2.95"/><circle cx="237.9" cy="278.4" r="2.95"/><circle cx="280.7" cy="278.4" r="2.95"/></g><g class="n"><circle cx="242.1" cy="294.4" r="2.95"/><circle cx="276.5" cy="294.4" r="2.95"/><circle cx="259.6" cy="264.7" r="2.95"/><circle cx="244.5" cy="274.8" r="2.95"/><circle cx="242.1" cy="287.9" r="2.95"/><circle cx="259.6" cy="302.1" r="2.95"/><circle cx="253.7" cy="267.7" r="2.95"/><circle cx="265.3" cy="267.7" r="2.95"/><circle cx="274.2" cy="274.8" r="2.95"/><circle cx="248" cy="297.4" r="2.95"/><circle cx="276.5" cy="287.9" r="2.95"/><circle cx="271" cy="297.4" r="2.95"/><circle cx="253.7" cy="300.3" r="2.95"/><circle cx="265.3" cy="300.3" r="2.95"/><circle cx="269.4" cy="271.8" r="2.95"/><circle cx="243.9" cy="281.9" r="2.95"/><circle cx="249.8" cy="271.8" r="2.95"/><circle cx="274.8" cy="281.9" r="2.95"/></g><g class="y"><circle cx="248" cy="290.8" r="2.95"/><circle cx="271" cy="290.8" r="2.95"/><circle cx="259.6" cy="271.2" r="2.95"/></g><g class="n"><circle cx="259.6" cy="297.4" r="2.95"/></g><g class="y"><circle cx="253.7" cy="294.4" r="2.95"/><circle cx="265.3" cy="294.4" r="2.95"/><circle cx="248" cy="284.3" r="2.95"/></g><g class="n"><circle cx="249.8" cy="278.4" r="2.95"/></g><g class="y"><circle cx="271" cy="284.3" r="2.95"/><circle cx="253.7" cy="274.8" r="2.95"/><circle cx="265.3" cy="274.8" r="2.95"/></g><g class="n"><circle cx="268.8" cy="278.4" r="2.95"/><circle cx="253.7" cy="287.9" r="2.95"/><circle cx="265.3" cy="287.9" r="2.95"/><circle cx="259.6" cy="290.8" r="2.95"/><circle cx="253.7" cy="281.9" r="2.95"/><circle cx="265.3" cy="281.9" r="2.95"/><circle cx="259.6" cy="278.4" r="2.95"/><circle cx="259.6" cy="284.3" r="2.95"/></g><polygon points="312.9,269.3 315.9,269.7 318.9,270.5 321.8,271.6 324.6,273 327.2,274.7 329.6,276.6 331.8,278.8 333.7,281.2 335.3,283.8 336.7,286.6 337.2,289.6 337.4,292.6 337.3,295.7 336.8,298.8 336,301.8 334.9,304.7 333.5,307.5 331.8,310 329.8,312.4 327.6,314.5 324.9,316 322,317.1 319.1,317.9 316,318.4 312.9,318.6 309.8,318.4 306.7,317.9 303.8,317.1 300.9,316 298.2,314.5 296,312.4 294,310 292.3,307.5 290.9,304.7 289.8,301.8 289,298.8 288.5,295.7 288.4,292.6 288.6,289.6 289.1,286.6 290.5,283.8 292.1,281.2 294,278.8 296.2,276.6 298.6,274.7 301.2,273 304,271.6 306.9,270.5 309.9,269.7" fill="#4f8d57" stroke="#4f8d57" stroke-width="1.6" stroke-linejoin="round"/><g class="y"><circle cx="312.9" cy="269.3" r="1.48"/><circle cx="315.9" cy="269.7" r="1.48"/><circle cx="318.9" cy="270.5" r="1.48"/><circle cx="321.8" cy="271.6" r="1.48"/><circle cx="324.6" cy="273" r="1.48"/><circle cx="327.2" cy="274.7" r="1.48"/><circle cx="329.6" cy="276.6" r="1.48"/><circle cx="331.8" cy="278.8" r="1.48"/><circle cx="333.7" cy="281.2" r="1.48"/><circle cx="335.3" cy="283.8" r="1.48"/><circle cx="336.7" cy="286.6" r="1.48"/><circle cx="337.2" cy="289.6" r="1.48"/><circle cx="337.4" cy="292.6" r="1.48"/><circle cx="337.3" cy="295.7" r="1.48"/><circle cx="336.8" cy="298.8" r="1.48"/><circle cx="336" cy="301.8" r="1.48"/><circle cx="334.9" cy="304.7" r="1.48"/><circle cx="333.5" cy="307.5" r="1.48"/><circle cx="331.8" cy="310" r="1.48"/><circle cx="329.8" cy="312.4" r="1.48"/><circle cx="327.6" cy="314.5" r="1.48"/><circle cx="324.9" cy="316" r="1.48"/><circle cx="322" cy="317.1" r="1.48"/><circle cx="319.1" cy="317.9" r="1.48"/><circle cx="316" cy="318.4" r="1.48"/><circle cx="312.9" cy="318.6" r="1.48"/><circle cx="309.8" cy="318.4" r="1.48"/><circle cx="306.7" cy="317.9" r="1.48"/><circle cx="303.8" cy="317.1" r="1.48"/><circle cx="300.9" cy="316" r="1.48"/><circle cx="298.2" cy="314.5" r="1.48"/><circle cx="296" cy="312.4" r="1.48"/><circle cx="294" cy="310" r="1.48"/><circle cx="292.3" cy="307.5" r="1.48"/><circle cx="290.9" cy="304.7" r="1.48"/><circle cx="289.8" cy="301.8" r="1.48"/><circle cx="289" cy="298.8" r="1.48"/><circle cx="288.5" cy="295.7" r="1.48"/><circle cx="288.4" cy="292.6" r="1.48"/><circle cx="288.6" cy="289.6" r="1.48"/><circle cx="289.1" cy="286.6" r="1.48"/><circle cx="290.5" cy="283.8" r="1.48"/><circle cx="292.1" cy="281.2" r="1.48"/><circle cx="294" cy="278.8" r="1.48"/><circle cx="296.2" cy="276.6" r="1.48"/><circle cx="298.6" cy="274.7" r="1.48"/><circle cx="301.2" cy="273" r="1.48"/><circle cx="304" cy="271.6" r="1.48"/><circle cx="306.9" cy="270.5" r="1.48"/><circle cx="309.9" cy="269.7" r="1.48"/><circle cx="312.9" cy="271.8" r="1.48"/><circle cx="315.9" cy="272.3" r="1.48"/><circle cx="318.8" cy="273.2" r="1.48"/><circle cx="321.6" cy="274.4" r="1.48"/><circle cx="324.3" cy="275.9" r="1.48"/><circle cx="326.8" cy="277.7" r="1.48"/><circle cx="329.1" cy="279.8" r="1.48"/><circle cx="331.2" cy="282.2" r="1.48"/><circle cx="332.9" cy="284.7" r="1.48"/><circle cx="334.3" cy="287.3" r="1.48"/><circle cx="334.7" cy="290.3" r="1.48"/><circle cx="334.8" cy="293.4" r="1.48"/><circle cx="334.5" cy="296.5" r="1.48"/><circle cx="333.9" cy="299.5" r="1.48"/><circle cx="333" cy="302.4" r="1.48"/><circle cx="331.7" cy="305.3" r="1.48"/><circle cx="330.1" cy="307.9" r="1.48"/><circle cx="328.2" cy="310.3" r="1.48"/><circle cx="326.1" cy="312.5" r="1.48"/><circle cx="323.4" cy="313.8" r="1.48"/><circle cx="320.5" cy="314.9" r="1.48"/><circle cx="317.5" cy="315.5" r="1.48"/><circle cx="314.4" cy="315.9" r="1.48"/><circle cx="311.4" cy="315.9" r="1.48"/><circle cx="308.3" cy="315.5" r="1.48"/><circle cx="305.3" cy="314.9" r="1.48"/><circle cx="302.4" cy="313.8" r="1.48"/><circle cx="299.7" cy="312.5" r="1.48"/><circle cx="297.6" cy="310.3" r="1.48"/><circle cx="295.7" cy="307.9" r="1.48"/><circle cx="294.1" cy="305.3" r="1.48"/><circle cx="292.8" cy="302.4" r="1.48"/><circle cx="291.9" cy="299.5" r="1.48"/><circle cx="291.3" cy="296.5" r="1.48"/><circle cx="291" cy="293.4" r="1.48"/><circle cx="291.1" cy="290.3" r="1.48"/><circle cx="291.5" cy="287.3" r="1.48"/><circle cx="292.9" cy="284.7" r="1.48"/><circle cx="294.6" cy="282.2" r="1.48"/><circle cx="296.7" cy="279.8" r="1.48"/><circle cx="299" cy="277.7" r="1.48"/><circle cx="301.5" cy="275.9" r="1.48"/><circle cx="304.2" cy="274.4" r="1.48"/><circle cx="307" cy="273.2" r="1.48"/><circle cx="309.9" cy="272.3" r="1.48"/></g><g class="n"><circle cx="312.9" cy="274.3" r="1.32"/><circle cx="315.8" cy="275" r="1.32"/><circle cx="318.7" cy="276" r="1.32"/><circle cx="321.4" cy="277.4" r="1.32"/><circle cx="324" cy="279" r="1.32"/><circle cx="326.4" cy="281" r="1.32"/><circle cx="328.5" cy="283.2" r="1.32"/><circle cx="330.4" cy="285.6" r="1.32"/><circle cx="331.9" cy="288.1" r="1.32"/><circle cx="332.2" cy="291.1" r="1.32"/><circle cx="332.1" cy="294.1" r="1.32"/><circle cx="331.6" cy="297.2" r="1.32"/><circle cx="330.8" cy="300.1" r="1.32"/><circle cx="329.7" cy="303" r="1.32"/><circle cx="328.3" cy="305.7" r="1.32"/><circle cx="326.6" cy="308.2" r="1.32"/><circle cx="324.7" cy="310.5" r="1.32"/><circle cx="321.9" cy="311.6" r="1.32"/><circle cx="319" cy="312.5" r="1.32"/><circle cx="316" cy="313" r="1.32"/><circle cx="312.9" cy="313.2" r="1.32"/><circle cx="309.8" cy="313" r="1.32"/><circle cx="306.8" cy="312.5" r="1.32"/><circle cx="303.9" cy="311.6" r="1.32"/><circle cx="301.1" cy="310.5" r="1.32"/><circle cx="299.2" cy="308.2" r="1.32"/><circle cx="297.5" cy="305.7" r="1.32"/><circle cx="296.1" cy="303" r="1.32"/><circle cx="295" cy="300.1" r="1.32"/><circle cx="294.2" cy="297.2" r="1.32"/><circle cx="293.7" cy="294.1" r="1.32"/><circle cx="293.6" cy="291.1" r="1.32"/><circle cx="293.9" cy="288.1" r="1.32"/><circle cx="295.4" cy="285.6" r="1.32"/><circle cx="297.3" cy="283.2" r="1.32"/><circle cx="299.4" cy="281" r="1.32"/><circle cx="301.8" cy="279" r="1.32"/><circle cx="304.4" cy="277.4" r="1.32"/><circle cx="307.1" cy="276" r="1.32"/><circle cx="310" cy="275" r="1.32"/><circle cx="312.9" cy="276.8" r="1.32"/><circle cx="315.7" cy="277.7" r="1.32"/><circle cx="318.5" cy="278.9" r="1.32"/><circle cx="321.1" cy="280.4" r="1.32"/><circle cx="323.6" cy="282.2" r="1.32"/><circle cx="325.9" cy="284.2" r="1.32"/><circle cx="327.9" cy="286.5" r="1.32"/><circle cx="329.5" cy="288.9" r="1.32"/><circle cx="329.6" cy="291.8" r="1.32"/><circle cx="329.3" cy="294.8" r="1.32"/><circle cx="328.7" cy="297.8" r="1.32"/><circle cx="327.8" cy="300.7" r="1.32"/><circle cx="326.5" cy="303.5" r="1.32"/><circle cx="325" cy="306.1" r="1.32"/><circle cx="323.2" cy="308.5" r="1.32"/><circle cx="320.4" cy="309.4" r="1.32"/><circle cx="317.5" cy="310.1" r="1.32"/><circle cx="314.4" cy="310.4" r="1.32"/><circle cx="311.4" cy="310.4" r="1.32"/><circle cx="308.3" cy="310.1" r="1.32"/><circle cx="305.4" cy="309.4" r="1.32"/><circle cx="302.6" cy="308.5" r="1.32"/><circle cx="300.8" cy="306.1" r="1.32"/><circle cx="299.3" cy="303.5" r="1.32"/><circle cx="298" cy="300.7" r="1.32"/><circle cx="297.1" cy="297.8" r="1.32"/><circle cx="296.5" cy="294.8" r="1.32"/><circle cx="296.2" cy="291.8" r="1.32"/><circle cx="296.3" cy="288.9" r="1.32"/><circle cx="297.9" cy="286.5" r="1.32"/><circle cx="299.9" cy="284.2" r="1.32"/><circle cx="302.2" cy="282.2" r="1.32"/><circle cx="304.7" cy="280.4" r="1.32"/><circle cx="307.3" cy="278.9" r="1.32"/><circle cx="310.1" cy="277.7" r="1.32"/><circle cx="312.9" cy="279.3" r="1.32"/><circle cx="315.6" cy="280.3" r="1.32"/><circle cx="318.3" cy="281.7" r="1.32"/><circle cx="320.9" cy="283.3" r="1.32"/><circle cx="323.2" cy="285.2" r="1.32"/><circle cx="325.3" cy="287.4" r="1.32"/><circle cx="327.2" cy="289.7" r="1.32"/><circle cx="327" cy="292.6" r="1.32"/><circle cx="326.6" cy="295.6" r="1.32"/><circle cx="325.8" cy="298.5" r="1.32"/><circle cx="324.7" cy="301.3" r="1.32"/><circle cx="323.3" cy="304" r="1.32"/><circle cx="321.7" cy="306.4" r="1.32"/><circle cx="318.9" cy="307.2" r="1.32"/><circle cx="315.9" cy="307.7" r="1.32"/><circle cx="312.9" cy="307.9" r="1.32"/><circle cx="309.9" cy="307.7" r="1.32"/><circle cx="306.9" cy="307.2" r="1.32"/><circle cx="304.1" cy="306.4" r="1.32"/><circle cx="302.5" cy="304" r="1.32"/><circle cx="301.1" cy="301.3" r="1.32"/><circle cx="300" cy="298.5" r="1.32"/><circle cx="299.2" cy="295.6" r="1.32"/><circle cx="298.8" cy="292.6" r="1.32"/><circle cx="298.6" cy="289.7" r="1.32"/><circle cx="300.5" cy="287.4" r="1.32"/><circle cx="302.6" cy="285.2" r="1.32"/><circle cx="304.9" cy="283.3" r="1.32"/><circle cx="307.5" cy="281.7" r="1.32"/><circle cx="310.2" cy="280.3" r="1.32"/></g><g class="y"><circle cx="312.9" cy="281.8" r="1.48"/><circle cx="315.6" cy="283" r="1.48"/><circle cx="318.2" cy="284.5" r="1.48"/><circle cx="320.6" cy="286.3" r="1.48"/><circle cx="322.8" cy="288.3" r="1.48"/><circle cx="324.8" cy="290.4" r="1.48"/><circle cx="324.5" cy="293.3" r="1.48"/><circle cx="323.9" cy="296.3" r="1.48"/><circle cx="322.9" cy="299.1" r="1.48"/><circle cx="321.7" cy="301.9" r="1.48"/><circle cx="320.2" cy="304.4" r="1.48"/><circle cx="317.4" cy="305" r="1.48"/><circle cx="314.4" cy="305.3" r="1.48"/><circle cx="311.4" cy="305.3" r="1.48"/><circle cx="308.4" cy="305" r="1.48"/><circle cx="305.6" cy="304.4" r="1.48"/><circle cx="304.1" cy="301.9" r="1.48"/><circle cx="302.9" cy="299.1" r="1.48"/><circle cx="301.9" cy="296.3" r="1.48"/><circle cx="301.3" cy="293.3" r="1.48"/><circle cx="301" cy="290.4" r="1.48"/><circle cx="303" cy="288.3" r="1.48"/><circle cx="305.2" cy="286.3" r="1.48"/><circle cx="307.6" cy="284.5" r="1.48"/><circle cx="310.2" cy="283" r="1.48"/></g><g class="n"><circle cx="312.9" cy="284.3" r="1.32"/><circle cx="315.6" cy="285.5" r="1.32"/><circle cx="318.1" cy="287.1" r="1.32"/><circle cx="320.4" cy="289.1" r="1.32"/><circle cx="322.4" cy="291.2" r="1.32"/><circle cx="322.1" cy="294.1" r="1.32"/><circle cx="321.3" cy="297" r="1.32"/><circle cx="320.2" cy="299.8" r="1.32"/><circle cx="318.8" cy="302.4" r="1.32"/><circle cx="315.9" cy="303" r="1.32"/><circle cx="312.9" cy="303.2" r="1.32"/><circle cx="309.9" cy="303" r="1.32"/><circle cx="307" cy="302.4" r="1.32"/><circle cx="305.6" cy="299.8" r="1.32"/><circle cx="304.5" cy="297" r="1.32"/><circle cx="303.7" cy="294.1" r="1.32"/><circle cx="303.4" cy="291.2" r="1.32"/><circle cx="305.4" cy="289.1" r="1.32"/><circle cx="307.7" cy="287.1" r="1.32"/><circle cx="310.2" cy="285.5" r="1.32"/><circle cx="312.9" cy="286.8" r="1.32"/><circle cx="315.5" cy="288.1" r="1.32"/><circle cx="318" cy="289.9" r="1.32"/><circle cx="320" cy="292" r="1.32"/><circle cx="319.6" cy="294.9" r="1.32"/><circle cx="318.7" cy="297.8" r="1.32"/><circle cx="317.3" cy="300.4" r="1.32"/><circle cx="314.4" cy="300.9" r="1.32"/><circle cx="311.4" cy="300.9" r="1.32"/><circle cx="308.5" cy="300.4" r="1.32"/><circle cx="307.1" cy="297.8" r="1.32"/><circle cx="306.2" cy="294.9" r="1.32"/><circle cx="305.8" cy="292" r="1.32"/><circle cx="307.8" cy="289.9" r="1.32"/><circle cx="310.3" cy="288.1" r="1.32"/><circle cx="312.9" cy="289.3" r="1.32"/><circle cx="315.6" cy="290.6" r="1.32"/><circle cx="317.7" cy="292.8" r="1.32"/><circle cx="317.2" cy="295.7" r="1.32"/><circle cx="315.8" cy="298.3" r="1.32"/><circle cx="312.9" cy="298.8" r="1.32"/><circle cx="310" cy="298.3" r="1.32"/><circle cx="308.6" cy="295.7" r="1.32"/><circle cx="308.1" cy="292.8" r="1.32"/><circle cx="310.2" cy="290.6" r="1.32"/><circle cx="312.9" cy="291.8" r="1.32"/><circle cx="315.3" cy="293.5" r="1.32"/><circle cx="314.4" cy="296.3" r="1.32"/><circle cx="311.4" cy="296.3" r="1.32"/><circle cx="310.5" cy="293.5" r="1.32"/><circle cx="312.9" cy="294.3" r="1.32"/></g><circle cx="312.9" cy="294.3" r="26.3" fill="url(#sh2)"/><polygon points="337.7,231.8 334,231.3 330.3,230.3 326.8,228.8 323.6,226.7 320.7,224.3 318.1,221.4 316,218.3 314.4,214.9 313.7,211.2 313.5,207.4 313.9,203.6 314.8,199.9 316.3,196.3 318.2,193 320.6,190.1 323.3,187.5 326.6,185.7 330.2,184.3 333.9,183.5 337.7,183.3 341.5,183.5 345.2,184.3 348.8,185.7 352.1,187.5 354.8,190.1 357.2,193 359.1,196.3 360.6,199.9 361.5,203.6 361.9,207.4 361.7,211.2 361,214.9 359.4,218.3 357.3,221.4 354.7,224.3 351.8,226.7 348.6,228.8 345.1,230.3 341.4,231.3" fill="#83838b" stroke="#83838b" stroke-width="2.5" stroke-linejoin="round"/><g class="y"><circle cx="337.7" cy="231.8" r="2.1"/><circle cx="334" cy="231.3" r="2.1"/><circle cx="330.3" cy="230.3" r="2.1"/><circle cx="326.8" cy="228.8" r="2.1"/><circle cx="323.6" cy="226.7" r="2.1"/><circle cx="320.7" cy="224.3" r="2.1"/><circle cx="318.1" cy="221.4" r="2.1"/><circle cx="316" cy="218.3" r="2.1"/><circle cx="314.4" cy="214.9" r="2.1"/><circle cx="313.7" cy="211.2" r="2.1"/><circle cx="313.5" cy="207.4" r="2.1"/><circle cx="313.9" cy="203.6" r="2.1"/><circle cx="314.8" cy="199.9" r="2.1"/><circle cx="316.3" cy="196.3" r="2.1"/><circle cx="318.2" cy="193" r="2.1"/><circle cx="320.6" cy="190.1" r="2.1"/><circle cx="323.3" cy="187.5" r="2.1"/><circle cx="326.6" cy="185.7" r="2.1"/><circle cx="330.2" cy="184.3" r="2.1"/><circle cx="333.9" cy="183.5" r="2.1"/><circle cx="337.7" cy="183.3" r="2.1"/><circle cx="341.5" cy="183.5" r="2.1"/><circle cx="345.2" cy="184.3" r="2.1"/><circle cx="348.8" cy="185.7" r="2.1"/><circle cx="352.1" cy="187.5" r="2.1"/><circle cx="354.8" cy="190.1" r="2.1"/><circle cx="357.2" cy="193" r="2.1"/><circle cx="359.1" cy="196.3" r="2.1"/><circle cx="360.6" cy="199.9" r="2.1"/><circle cx="361.5" cy="203.6" r="2.1"/><circle cx="361.9" cy="207.4" r="2.1"/><circle cx="361.7" cy="211.2" r="2.1"/><circle cx="361" cy="214.9" r="2.1"/><circle cx="359.4" cy="218.3" r="2.1"/><circle cx="357.3" cy="221.4" r="2.1"/><circle cx="354.7" cy="224.3" r="2.1"/><circle cx="351.8" cy="226.7" r="2.1"/><circle cx="348.6" cy="228.8" r="2.1"/><circle cx="345.1" cy="230.3" r="2.1"/><circle cx="341.4" cy="231.3" r="2.1"/></g><g class="n"><circle cx="337.7" cy="229.3" r="2.1"/><circle cx="333.9" cy="228.7" r="2.1"/></g><g class="y"><circle cx="330.2" cy="227.5" r="2.1"/><circle cx="326.8" cy="225.7" r="2.1"/><circle cx="323.6" cy="223.4" r="2.1"/><circle cx="320.8" cy="220.6" r="2.1"/></g><g class="n"><circle cx="318.5" cy="217.5" r="2.1"/><circle cx="316.8" cy="214.1" r="2.1"/><circle cx="316.2" cy="210.3" r="2.1"/></g><g class="y"><circle cx="316.2" cy="206.4" r="2.1"/><circle cx="316.8" cy="202.6" r="2.1"/><circle cx="318.1" cy="198.9" r="2.1"/><circle cx="319.8" cy="195.4" r="2.1"/></g><g class="n"><circle cx="322.1" cy="192.2" r="2.1"/><circle cx="324.8" cy="189.5" r="2.1"/><circle cx="328.2" cy="187.8" r="2.1"/></g><g class="y"><circle cx="331.9" cy="186.6" r="2.1"/><circle cx="335.7" cy="186" r="2.1"/><circle cx="339.7" cy="186" r="2.1"/><circle cx="343.5" cy="186.6" r="2.1"/></g><g class="n"><circle cx="347.2" cy="187.8" r="2.1"/><circle cx="350.6" cy="189.5" r="2.1"/><circle cx="353.3" cy="192.2" r="2.1"/></g><g class="y"><circle cx="355.6" cy="195.4" r="2.1"/><circle cx="357.3" cy="198.9" r="2.1"/><circle cx="358.6" cy="202.6" r="2.1"/><circle cx="359.2" cy="206.4" r="2.1"/></g><g class="n"><circle cx="359.2" cy="210.3" r="2.1"/><circle cx="358.6" cy="214.1" r="2.1"/><circle cx="356.9" cy="217.5" r="2.1"/></g><g class="y"><circle cx="354.6" cy="220.6" r="2.1"/><circle cx="351.8" cy="223.4" r="2.1"/><circle cx="348.6" cy="225.7" r="2.1"/><circle cx="345.2" cy="227.5" r="2.1"/></g><g class="n"><circle cx="341.5" cy="228.7" r="2.1"/><circle cx="337.7" cy="226.4" r="2.1"/><circle cx="333.9" cy="225.6" r="2.1"/><circle cx="330.3" cy="224.2" r="2.1"/><circle cx="326.9" cy="222.2" r="2.1"/><circle cx="323.9" cy="219.6" r="2.1"/><circle cx="321.4" cy="216.6" r="2.1"/><circle cx="319.5" cy="213.2" r="2.1"/><circle cx="319.1" cy="209.4" r="2.1"/><circle cx="319.3" cy="205.5" r="2.1"/><circle cx="320.2" cy="201.6" r="2.1"/><circle cx="321.8" cy="198" r="2.1"/><circle cx="323.9" cy="194.7" r="2.1"/><circle cx="326.5" cy="191.8" r="2.1"/><circle cx="330" cy="190.3" r="2.1"/><circle cx="333.8" cy="189.3" r="2.1"/><circle cx="337.7" cy="188.9" r="2.1"/><circle cx="341.6" cy="189.3" r="2.1"/><circle cx="345.4" cy="190.3" r="2.1"/><circle cx="348.9" cy="191.8" r="2.1"/><circle cx="351.5" cy="194.7" r="2.1"/><circle cx="353.6" cy="198" r="2.1"/><circle cx="355.2" cy="201.6" r="2.1"/><circle cx="356.1" cy="205.5" r="2.1"/><circle cx="356.3" cy="209.4" r="2.1"/><circle cx="355.9" cy="213.2" r="2.1"/><circle cx="354" cy="216.6" r="2.1"/><circle cx="351.5" cy="219.6" r="2.1"/><circle cx="348.5" cy="222.2" r="2.1"/><circle cx="345.1" cy="224.2" r="2.1"/><circle cx="341.5" cy="225.6" r="2.1"/><circle cx="337.7" cy="191.3" r="2.1"/></g><g class="y"><circle cx="341.5" cy="192.1" r="2.1"/></g><g class="n"><circle cx="345.2" cy="193.6" r="2.1"/><circle cx="348.4" cy="196" r="2.1"/></g><g class="y"><circle cx="351" cy="198.9" r="2.1"/></g><g class="n"><circle cx="352.9" cy="202.4" r="2.1"/></g><g class="y"><circle cx="353.4" cy="206.2" r="2.1"/></g><g class="n"><circle cx="353" cy="210.2" r="2.1"/><circle cx="351.8" cy="214" r="2.1"/></g><g class="y"><circle cx="349.8" cy="217.4" r="2.1"/></g><g class="n"><circle cx="347.1" cy="220.2" r="2.1"/></g><g class="y"><circle cx="343.6" cy="221.9" r="2.1"/></g><g class="n"><circle cx="339.7" cy="222.7" r="2.1"/><circle cx="335.7" cy="222.7" r="2.1"/></g><g class="y"><circle cx="331.8" cy="221.9" r="2.1"/></g><g class="n"><circle cx="328.3" cy="220.2" r="2.1"/></g><g class="y"><circle cx="325.6" cy="217.4" r="2.1"/></g><g class="n"><circle cx="323.6" cy="214" r="2.1"/><circle cx="322.4" cy="210.2" r="2.1"/></g><g class="y"><circle cx="322" cy="206.2" r="2.1"/></g><g class="n"><circle cx="322.5" cy="202.4" r="2.1"/></g><g class="y"><circle cx="324.4" cy="198.9" r="2.1"/></g><g class="n"><circle cx="327" cy="196" r="2.1"/><circle cx="330.2" cy="193.6" r="2.1"/></g><g class="y"><circle cx="333.9" cy="192.1" r="2.1"/></g><g class="n"><circle cx="337.7" cy="220.2" r="2.1"/><circle cx="333.8" cy="219.4" r="2.1"/><circle cx="330.3" cy="217.5" r="2.1"/><circle cx="327.4" cy="214.7" r="2.1"/><circle cx="325.4" cy="211.3" r="2.1"/><circle cx="325" cy="207.3" r="2.1"/><circle cx="325.7" cy="203.4" r="2.1"/><circle cx="327.4" cy="199.8" r="2.1"/><circle cx="330.1" cy="196.9" r="2.1"/><circle cx="333.7" cy="195.2" r="2.1"/><circle cx="337.7" cy="194.6" r="2.1"/><circle cx="341.7" cy="195.2" r="2.1"/><circle cx="345.3" cy="196.9" r="2.1"/><circle cx="348" cy="199.8" r="2.1"/><circle cx="349.7" cy="203.4" r="2.1"/><circle cx="350.4" cy="207.3" r="2.1"/><circle cx="350" cy="211.3" r="2.1"/><circle cx="348" cy="214.7" r="2.1"/><circle cx="345.1" cy="217.5" r="2.1"/><circle cx="341.6" cy="219.4" r="2.1"/></g><g class="y"><circle cx="337.7" cy="217" r="2.1"/></g><g class="n"><circle cx="333.8" cy="216" r="2.1"/><circle cx="330.6" cy="213.7" r="2.1"/></g><g class="y"><circle cx="328.5" cy="210.3" r="2.1"/></g><g class="n"><circle cx="328.2" cy="206.3" r="2.1"/><circle cx="329.5" cy="202.5" r="2.1"/></g><g class="y"><circle cx="332" cy="199.5" r="2.1"/></g><g class="n"><circle cx="335.7" cy="198" r="2.1"/><circle cx="339.7" cy="198" r="2.1"/></g><g class="y"><circle cx="343.4" cy="199.5" r="2.1"/></g><g class="n"><circle cx="345.9" cy="202.5" r="2.1"/><circle cx="347.2" cy="206.3" r="2.1"/></g><g class="y"><circle cx="346.9" cy="210.3" r="2.1"/></g><g class="n"><circle cx="344.8" cy="213.7" r="2.1"/><circle cx="341.6" cy="216" r="2.1"/><circle cx="337.7" cy="213.8" r="2.1"/><circle cx="333.9" cy="212.6" r="2.1"/><circle cx="331.5" cy="209.3" r="2.1"/><circle cx="331.5" cy="205.3" r="2.1"/><circle cx="333.9" cy="202" r="2.1"/><circle cx="337.7" cy="200.8" r="2.1"/><circle cx="341.5" cy="202" r="2.1"/><circle cx="343.9" cy="205.3" r="2.1"/><circle cx="343.9" cy="209.3" r="2.1"/><circle cx="341.5" cy="212.6" r="2.1"/><circle cx="337.7" cy="204" r="2.1"/><circle cx="340.8" cy="206.3" r="2.1"/><circle cx="339.6" cy="210" r="2.1"/><circle cx="335.8" cy="210" r="2.1"/><circle cx="334.6" cy="206.3" r="2.1"/><circle cx="337.7" cy="207.3" r="2.1"/></g><circle cx="337.7" cy="207.3" r="26.6" fill="url(#sh)"/><polygon fill="#6b736f" points="393.5,206.4 415.5,206.4 431,221.9 431,243.9 415.5,259.4 393.5,259.4 378,243.9 378,221.9"/><path d="M394.1 207.9h0m4.2 0h0m4.1 0h0m4.2 0h0m4.1 0h0m4.2 0h0m-22.9 2.1h0m25 0h0m-27.1 2.1h0m29.2 0h0m-31.2 2.1h0m33.2 0h0m-35.3 2.1h0m37.4 0h0m-39.5 2h0m41.6 0h0m-43.7 2.1h0m45.8 0h0m-47.9 2.1h0m50 0h0m-50 4.2h0m50 0h0m-50 4.1h0m50 0h0m-50 4.2h0m50 0h0m-50 4.1h0m50 0h0m-50 4.2h0m50 0h0m-47.9 2.1h0m45.8 0h0m-43.7 2.1h0m41.6 0h0m-39.5 2h0m37.4 0h0m-35.3 2.1h0m33.2 0h0m-31.2 2.1h0m29.2 0h0m-27.1 2.1h0m25 0h0m-22.9 2.1h0m4.2 0h0m4.1 0h0m4.2 0h0m4.1 0h0m4.2 0h0" stroke="#a9a9b2" stroke-width="2" stroke-linecap="round" fill="none"/><path d="M396.2 210h0m4.1 0h0m4.2 0h0m4.2 0h0m4.1 0h0m-18.7 2.1h0m4.2 0h0m4.1 0h0m4.2 0h0m4.1 0h0m4.2 0h0m-22.9 2.1h0m4.2 0h0m4.1 0h0m4.2 0h0m4.2 0h0m4.1 0h0m4.2 0h0m-27.1 2.1h0m4.2 0h0m4.2 0h0m4.1 0h0m4.2 0h0m4.1 0h0m4.2 0h0m4.2 0h0m-31.2 2h0m4.1 0h0m4.2 0h0m4.1 0h0m4.2 0h0m4.2 0h0m4.1 0h0m4.2 0h0m4.1 0h0m-35.3 2.1h0m4.1 0h0m4.2 0h0m4.2 0h0m4.1 0h0m4.2 0h0m4.1 0h0m4.2 0h0m4.2 0h0m4.1 0h0m-39.5 2.1h0m4.2 0h0m4.1 0h0m4.2 0h0m4.1 0h0m4.2 0h0m4.2 0h0m4.1 0h0m4.2 0h0m4.1 0h0m4.2 0h0m-43.7 2.1h0m4.2 0h0m4.1 0h0m4.2 0h0m4.2 0h0m4.1 0h0m4.2 0h0m4.1 0h0m4.2 0h0m4.2 0h0m4.1 0h0m4.2 0h0m-43.7 2.1h0m4.2 0h0m4.1 0h0m4.2 0h0m4.1 0h0m4.2 0h0m4.2 0h0m4.1 0h0m4.2 0h0m4.1 0h0m4.2 0h0m-43.7 2h0m4.2 0h0m4.1 0h0m4.2 0h0m4.2 0h0m4.1 0h0m4.2 0h0m4.1 0h0m4.2 0h0m4.2 0h0m4.1 0h0m4.2 0h0m-43.7 2.1h0m4.2 0h0m4.1 0h0m4.2 0h0m4.1 0h0m4.2 0h0m4.2 0h0m4.1 0h0m4.2 0h0m4.1 0h0m4.2 0h0m-43.7 2.1h0m4.2 0h0m4.1 0h0m4.2 0h0m4.2 0h0m4.1 0h0m4.2 0h0m4.1 0h0m4.2 0h0m4.2 0h0m4.1 0h0m4.2 0h0m-43.7 2.1h0m4.2 0h0m4.1 0h0m4.2 0h0m4.1 0h0m4.2 0h0m4.2 0h0m4.1 0h0m4.2 0h0m4.1 0h0m4.2 0h0m-43.7 2.1h0m4.2 0h0m4.1 0h0m4.2 0h0m4.2 0h0m4.1 0h0m4.2 0h0m4.1 0h0m4.2 0h0m4.2 0h0m4.1 0h0m4.2 0h0m-43.7 2h0m4.2 0h0m4.1 0h0m4.2 0h0m4.1 0h0m4.2 0h0m4.2 0h0m4.1 0h0m4.2 0h0m4.1 0h0m4.2 0h0m-43.7 2.1h0m4.2 0h0m4.1 0h0m4.2 0h0m4.2 0h0m4.1 0h0m4.2 0h0m4.1 0h0m4.2 0h0m4.2 0h0m4.1 0h0m4.2 0h0m-43.7 2.1h0m4.2 0h0m4.1 0h0m4.2 0h0m4.1 0h0m4.2 0h0m4.2 0h0m4.1 0h0m4.2 0h0m4.1 0h0m4.2 0h0m-39.5 2.1h0m4.1 0h0m4.2 0h0m4.2 0h0m4.1 0h0m4.2 0h0m4.1 0h0m4.2 0h0m4.2 0h0m4.1 0h0m-35.3 2.1h0m4.1 0h0m4.2 0h0m4.1 0h0m4.2 0h0m4.2 0h0m4.1 0h0m4.2 0h0m4.1 0h0m-31.2 2h0m4.2 0h0m4.2 0h0m4.1 0h0m4.2 0h0m4.1 0h0m4.2 0h0m4.2 0h0m-27.1 2.1h0m4.2 0h0m4.1 0h0m4.2 0h0m4.2 0h0m4.1 0h0m4.2 0h0m-22.9 2.1h0m4.2 0h0m4.1 0h0m4.2 0h0m4.1 0h0m4.2 0h0m-18.7 2.1h0m4.1 0h0m4.2 0h0m4.2 0h0m4.1 0h0" stroke="#5cb864" stroke-width="2" stroke-linecap="round" fill="none"/><path d="M396.2 207.9h0m4.1 0h0m4.2 0h0m4.2 0h0m4.1 0h0m-16.6 4.2h0m4.1 0h0m4.2 0h0m4.2 0h0m4.1 0h0m-18.7 2.1h0m4.2 0h0m4.1 0h0m4.2 0h0m4.1 0h0m4.2 0h0m-22.9 2.1h0m4.2 0h0m4.1 0h0m4.2 0h0m4.2 0h0m4.1 0h0m4.2 0h0m-27.1 2h0m4.2 0h0m4.2 0h0m4.1 0h0m4.2 0h0m4.1 0h0m4.2 0h0m4.2 0h0m-31.2 2.1h0m4.1 0h0m4.2 0h0m4.1 0h0m4.2 0h0m4.2 0h0m4.1 0h0m4.2 0h0m4.1 0h0m-35.3 2.1h0m4.1 0h0m4.2 0h0m4.2 0h0m4.1 0h0m4.2 0h0m4.1 0h0m4.2 0h0m4.2 0h0m4.1 0h0m-43.7 2.1h0m4.2 0h0m4.2 0h0m4.1 0h0m4.2 0h0m4.1 0h0m4.2 0h0m4.2 0h0m4.1 0h0m4.2 0h0m4.1 0h0m4.2 0h0m4.2 0h0m-43.7 2.1h0m4.1 0h0m4.2 0h0m4.2 0h0m4.1 0h0m4.2 0h0m4.1 0h0m4.2 0h0m4.2 0h0m4.1 0h0m-43.7 2h0m4.2 0h0m4.2 0h0m4.1 0h0m4.2 0h0m4.1 0h0m8.4 0h0m4.1 0h0m4.2 0h0m4.1 0h0m4.2 0h0m4.2 0h0m-43.7 2.1h0m4.1 0h0m4.2 0h0m4.2 0h0m12.4 0h0m4.2 0h0m4.2 0h0m4.1 0h0m-43.7 2.1h0m4.2 0h0m4.2 0h0m4.1 0h0m4.2 0h0m16.6 0h0m4.2 0h0m4.1 0h0m4.2 0h0m4.2 0h0m-43.7 2.1h0m4.1 0h0m4.2 0h0m4.2 0h0m12.4 0h0m4.2 0h0m4.2 0h0m4.1 0h0m-43.7 2.1h0m4.2 0h0m4.2 0h0m4.1 0h0m4.2 0h0m4.1 0h0m8.4 0h0m4.1 0h0m4.2 0h0m4.1 0h0m4.2 0h0m4.2 0h0m-43.7 2h0m4.1 0h0m4.2 0h0m4.2 0h0m4.1 0h0m4.2 0h0m4.1 0h0m4.2 0h0m4.2 0h0m4.1 0h0m-43.7 2.1h0m4.2 0h0m4.2 0h0m4.1 0h0m4.2 0h0m4.1 0h0m4.2 0h0m4.2 0h0m4.1 0h0m4.2 0h0m4.1 0h0m4.2 0h0m4.2 0h0m-43.7 2.1h0m4.1 0h0m4.2 0h0m4.2 0h0m4.1 0h0m4.2 0h0m4.1 0h0m4.2 0h0m4.2 0h0m4.1 0h0m-35.3 2.1h0m4.1 0h0m4.2 0h0m4.1 0h0m4.2 0h0m4.2 0h0m4.1 0h0m4.2 0h0m4.1 0h0m-31.2 2.1h0m4.2 0h0m4.2 0h0m4.1 0h0m4.2 0h0m4.1 0h0m4.2 0h0m4.2 0h0m-27.1 2h0m4.2 0h0m4.1 0h0m4.2 0h0m4.2 0h0m4.1 0h0m4.2 0h0m-22.9 2.1h0m4.2 0h0m4.1 0h0m4.2 0h0m4.1 0h0m4.2 0h0m-18.7 2.1h0m4.1 0h0m4.2 0h0m4.2 0h0m4.1 0h0m-16.6 4.2h0m4.1 0h0m4.2 0h0m4.2 0h0m4.1 0h0" stroke="#c4c4cc" stroke-width="2" stroke-linecap="round" fill="none"/><path d="M394.1 210h0m4.2 0h0m4.1 0h0m4.2 0h0m4.1 0h0m4.2 0h0m-22.9 2.1h0m25 0h0m-27.1 2.1h0m29.2 0h0m-31.2 2.1h0m33.2 0h0m-35.3 2h0m37.4 0h0m-39.5 2.1h0m41.6 0h0m-43.7 2.1h0m45.8 0h0m-45.8 4.2h0m45.8 0h0m-22.9 2h0m-22.9 2.1h0m20.8 0h0m4.2 0h0m20.8 0h0m-27.1 2.1h0m4.2 0h0m4.2 0h0m-27.1 2.1h0m20.8 0h0m4.2 0h0m20.8 0h0m-22.9 2.1h0m-22.9 2h0m45.8 0h0m-45.8 4.2h0m45.8 0h0m-43.7 2.1h0m41.6 0h0m-39.5 2.1h0m37.4 0h0m-35.3 2h0m33.2 0h0m-31.2 2.1h0m29.2 0h0m-27.1 2.1h0m25 0h0m-22.9 2.1h0m4.2 0h0m4.1 0h0m4.2 0h0m4.1 0h0m4.2 0h0" stroke="#5cb864" stroke-width="2" stroke-linecap="round" fill="none"/>
<rect x="232.2" y="172.6" width="200.9" height="149" fill="none" stroke="#484848" stroke-width="0.6"/>
<path d="M237.1 321.6v3.2M264.2 321.6v3.2M291.4 321.6v3.2M318.5 321.6v3.2M345.6 321.6v3.2M372.8 321.6v3.2M399.9 321.6v3.2M427 321.6v3.2M232.2 321.6h-3.2M232.2 291.8h-3.2M232.2 262h-3.2M232.2 232.2h-3.2M232.2 202.4h-3.2M232.2 172.6h-3.2" stroke="#484848" stroke-width="0.6" fill="none"/>
<text class="t" text-anchor="middle" x="332.6" y="170.2" style="font-size:7.4px">Pt<tspan class="s" dy="1.3">0.5</tspan><tspan dy="-1.3">Ni</tspan><tspan class="s" dy="1.3">0.5</tspan></text>
<text class="L" x="234.7" y="185.7">e</text>
</g>
<g id="panel-f">
<polyline fill="none" stroke="#1f77b4" stroke-width="0.9" stroke-linejoin="round" points="450.9,211.2 462.4,221.1 478.5,232.7 494.2,239.9 505.1,244.4 514.8,245.7 521.2,251.6 531.5,254.1 537.2,258.7 548.5,263.2 564.2,269.2 580.1,276.4 591,278 607.1,278.8 623.1,291.6 634,290"/>
<g fill="#1f77b4"><circle cx="450.9" cy="211.2" r="0.9"/><circle cx="462.4" cy="221.1" r="0.9"/><circle cx="478.5" cy="232.7" r="0.9"/><circle cx="494.2" cy="239.9" r="0.9"/><circle cx="505.1" cy="244.4" r="0.9"/><circle cx="514.8" cy="245.7" r="0.9"/><circle cx="521.2" cy="251.6" r="0.9"/><circle cx="531.5" cy="254.1" r="0.9"/><circle cx="537.2" cy="258.7" r="0.9"/><circle cx="548.5" cy="263.2" r="0.9"/><circle cx="564.2" cy="269.2" r="0.9"/><circle cx="580.1" cy="276.4" r="0.9"/><circle cx="591" cy="278" r="0.9"/><circle cx="607.1" cy="278.8" r="0.9"/><circle cx="623.1" cy="291.6" r="0.9"/><circle cx="634" cy="290" r="0.9"/></g>
<polyline fill="none" stroke="#ff7f0e" stroke-width="0.9" stroke-linejoin="round" points="452.5,201.2 477.7,217.6 503.1,228.4 528.7,239.1 554.1,249.4 579.4,260.3 605,266.8 630.4,269.5"/>
<g fill="#ff7f0e"><circle cx="452.5" cy="201.2" r="0.9"/><circle cx="477.7" cy="217.6" r="0.9"/><circle cx="503.1" cy="228.4" r="0.9"/><circle cx="528.7" cy="239.1" r="0.9"/><circle cx="554.1" cy="249.4" r="0.9"/><circle cx="579.4" cy="260.3" r="0.9"/><circle cx="605" cy="266.8" r="0.9"/><circle cx="630.4" cy="269.5" r="0.9"/></g>
<polyline fill="none" stroke="#2ca02c" stroke-width="0.9" stroke-linejoin="round" points="452.5,219.8 477.7,233.5 503.1,247.3 528.7,258.6 554.1,266.8 579.4,278 605,284.7 630.4,292.4"/>
<g fill="#2ca02c"><circle cx="452.5" cy="219.8" r="0.9"/><circle cx="477.7" cy="233.5" r="0.9"/><circle cx="503.1" cy="247.3" r="0.9"/><circle cx="528.7" cy="258.6" r="0.9"/><circle cx="554.1" cy="266.8" r="0.9"/><circle cx="579.4" cy="278" r="0.9"/><circle cx="605" cy="284.7" r="0.9"/><circle cx="630.4" cy="292.4" r="0.9"/></g>
<polyline fill="none" stroke="#d62728" stroke-width="0.9" stroke-linejoin="round" points="460.8,216.6 468.2,218.2 479,225.6 491.5,234 499.5,236.7 509.8,242 518.6,245.2 526.7,248.1 548.9,258.2 576.1,270.8 606.6,272.9 633.6,282"/>
<g fill="#d62728"><circle cx="460.8" cy="216.6" r="0.9"/><circle cx="468.2" cy="218.2" r="0.9"/><circle cx="479" cy="225.6" r="0.9"/><circle cx="491.5" cy="234" r="0.9"/><circle cx="499.5" cy="236.7" r="0.9"/><circle cx="509.8" cy="242" r="0.9"/><circle cx="518.6" cy="245.2" r="0.9"/><circle cx="526.7" cy="248.1" r="0.9"/><circle cx="548.9" cy="258.2" r="0.9"/><circle cx="576.1" cy="270.8" r="0.9"/><circle cx="606.6" cy="272.9" r="0.9"/><circle cx="633.6" cy="282" r="0.9"/></g>
<line x1="478.5" y1="232.7" x2="470.1" y2="253.3" stroke="#0a0a0a" stroke-width="0.9" stroke-dasharray="3 1.3"/>
<line x1="534.8" y1="230.5" x2="528.6" y2="257.5" stroke="#0a0a0a" stroke-width="0.9" stroke-dasharray="3 1.3"/>
<line x1="616.4" y1="254.7" x2="630" y2="291.6" stroke="#0a0a0a" stroke-width="0.9" stroke-dasharray="3 1.3"/>
<line x1="580" y1="277" x2="560" y2="288.1" stroke="#0a0a0a" stroke-width="0.9" stroke-dasharray="3 1.3"/>
<polygon points="469.9,257.8 477,258.9 483.4,262.2 488.4,267.2 491.7,273.6 492.8,280.7 491.7,287.8 488.4,294.2 483.4,299.2 477,302.5 469.9,303.6 462.8,302.5 456.4,299.2 451.4,294.2 448.1,287.8 447,280.7 448.1,273.6 451.4,267.2 456.4,262.2 462.8,258.9" fill="#4f8d57" stroke="#4f8d57" stroke-width="3.5" stroke-linejoin="round"/><circle cx="469.9" cy="280.7" r="14.8" fill="#448a4c"/><g class="n"><circle cx="466.8" cy="300.1" r="2.95"/><circle cx="461" cy="298.2" r="2.95"/><circle cx="456" cy="294.6" r="2.95"/><circle cx="452.4" cy="289.6" r="2.95"/><circle cx="450.5" cy="283.8" r="2.95"/><circle cx="450.5" cy="277.6" r="2.95"/><circle cx="452.4" cy="271.8" r="2.95"/><circle cx="456" cy="266.8" r="2.95"/><circle cx="461" cy="263.2" r="2.95"/><circle cx="466.8" cy="261.3" r="2.95"/><circle cx="473" cy="261.3" r="2.95"/><circle cx="478.8" cy="263.2" r="2.95"/><circle cx="483.8" cy="266.8" r="2.95"/><circle cx="487.4" cy="271.8" r="2.95"/><circle cx="489.3" cy="277.6" r="2.95"/><circle cx="489.3" cy="283.8" r="2.95"/><circle cx="487.4" cy="289.6" r="2.95"/><circle cx="483.8" cy="294.6" r="2.95"/><circle cx="478.8" cy="298.2" r="2.95"/><circle cx="473" cy="300.1" r="2.95"/></g><g class="y"><circle cx="469.9" cy="257.8" r="2.95"/><circle cx="477" cy="258.9" r="2.95"/><circle cx="483.4" cy="262.2" r="2.95"/><circle cx="488.4" cy="267.2" r="2.95"/><circle cx="491.7" cy="273.6" r="2.95"/><circle cx="492.8" cy="280.7" r="2.95"/><circle cx="491.7" cy="287.8" r="2.95"/><circle cx="488.4" cy="294.2" r="2.95"/><circle cx="483.4" cy="299.2" r="2.95"/><circle cx="477" cy="302.5" r="2.95"/><circle cx="469.9" cy="303.6" r="2.95"/><circle cx="462.8" cy="302.5" r="2.95"/><circle cx="456.4" cy="299.2" r="2.95"/><circle cx="451.4" cy="294.2" r="2.95"/><circle cx="448.1" cy="287.8" r="2.95"/><circle cx="447" cy="280.7" r="2.95"/><circle cx="448.1" cy="273.6" r="2.95"/><circle cx="451.4" cy="267.2" r="2.95"/><circle cx="456.4" cy="262.2" r="2.95"/><circle cx="462.8" cy="258.9" r="2.95"/></g><g class="n"><circle cx="469.9" cy="296.9" r="2.95"/><circle cx="463.3" cy="295.5" r="2.95"/><circle cx="457.9" cy="291.5" r="2.95"/><circle cx="454.5" cy="285.7" r="2.95"/><circle cx="453.8" cy="279" r="2.95"/><circle cx="455.9" cy="272.6" r="2.95"/><circle cx="460.4" cy="267.6" r="2.95"/><circle cx="466.5" cy="264.9" r="2.95"/><circle cx="473.3" cy="264.9" r="2.95"/><circle cx="479.4" cy="267.6" r="2.95"/><circle cx="483.9" cy="272.6" r="2.95"/><circle cx="486" cy="279" r="2.95"/><circle cx="485.3" cy="285.7" r="2.95"/><circle cx="481.9" cy="291.5" r="2.95"/><circle cx="476.5" cy="295.5" r="2.95"/><circle cx="466.5" cy="270.3" r="2.95"/><circle cx="473.3" cy="270.3" r="2.95"/><circle cx="478.7" cy="274.3" r="2.95"/><circle cx="480.8" cy="280.7" r="2.95"/><circle cx="478.7" cy="287.1" r="2.95"/><circle cx="473.3" cy="291.1" r="2.95"/><circle cx="466.5" cy="291.1" r="2.95"/><circle cx="461.1" cy="287.1" r="2.95"/><circle cx="459" cy="280.7" r="2.95"/><circle cx="461.1" cy="274.3" r="2.95"/><circle cx="469.9" cy="275.1" r="2.95"/><circle cx="475.2" cy="279" r="2.95"/><circle cx="473.2" cy="285.2" r="2.95"/><circle cx="466.6" cy="285.2" r="2.95"/><circle cx="464.6" cy="279" r="2.95"/><circle cx="469.9" cy="280.7" r="2.95"/></g><circle cx="469.9" cy="280.7" r="25.9" fill="url(#sh0)"/><polygon points="532.3,268.6 535.3,269 538.3,269.8 541.2,270.9 544,272.3 546.6,274 549,275.9 551.2,278.1 553.1,280.5 554.7,283.1 556.1,285.9 556.6,288.9 556.8,291.9 556.7,295 556.2,298.1 555.4,301.1 554.3,304 552.9,306.8 551.2,309.3 549.2,311.7 547,313.8 544.3,315.3 541.4,316.4 538.5,317.2 535.4,317.7 532.3,317.9 529.2,317.7 526.1,317.2 523.2,316.4 520.3,315.3 517.6,313.8 515.4,311.7 513.4,309.3 511.7,306.8 510.3,304 509.2,301.1 508.4,298.1 507.9,295 507.8,291.9 508,288.9 508.5,285.9 509.9,283.1 511.5,280.5 513.4,278.1 515.6,275.9 518,274 520.6,272.3 523.4,270.9 526.3,269.8 529.3,269" fill="#4f8d57" stroke="#4f8d57" stroke-width="1.6" stroke-linejoin="round"/><g class="y"><circle cx="532.3" cy="268.6" r="1.48"/><circle cx="535.3" cy="269" r="1.48"/><circle cx="538.3" cy="269.8" r="1.48"/><circle cx="541.2" cy="270.9" r="1.48"/><circle cx="544" cy="272.3" r="1.48"/><circle cx="546.6" cy="274" r="1.48"/><circle cx="549" cy="275.9" r="1.48"/><circle cx="551.2" cy="278.1" r="1.48"/><circle cx="553.1" cy="280.5" r="1.48"/><circle cx="554.7" cy="283.1" r="1.48"/><circle cx="556.1" cy="285.9" r="1.48"/><circle cx="556.6" cy="288.9" r="1.48"/><circle cx="556.8" cy="291.9" r="1.48"/><circle cx="556.7" cy="295" r="1.48"/><circle cx="556.2" cy="298.1" r="1.48"/><circle cx="555.4" cy="301.1" r="1.48"/><circle cx="554.3" cy="304" r="1.48"/><circle cx="552.9" cy="306.8" r="1.48"/><circle cx="551.2" cy="309.3" r="1.48"/><circle cx="549.2" cy="311.7" r="1.48"/><circle cx="547" cy="313.8" r="1.48"/><circle cx="544.3" cy="315.3" r="1.48"/><circle cx="541.4" cy="316.4" r="1.48"/><circle cx="538.5" cy="317.2" r="1.48"/><circle cx="535.4" cy="317.7" r="1.48"/><circle cx="532.3" cy="317.9" r="1.48"/><circle cx="529.2" cy="317.7" r="1.48"/><circle cx="526.1" cy="317.2" r="1.48"/><circle cx="523.2" cy="316.4" r="1.48"/><circle cx="520.3" cy="315.3" r="1.48"/><circle cx="517.6" cy="313.8" r="1.48"/><circle cx="515.4" cy="311.7" r="1.48"/><circle cx="513.4" cy="309.3" r="1.48"/><circle cx="511.7" cy="306.8" r="1.48"/><circle cx="510.3" cy="304" r="1.48"/><circle cx="509.2" cy="301.1" r="1.48"/><circle cx="508.4" cy="298.1" r="1.48"/><circle cx="507.9" cy="295" r="1.48"/><circle cx="507.8" cy="291.9" r="1.48"/><circle cx="508" cy="288.9" r="1.48"/><circle cx="508.5" cy="285.9" r="1.48"/><circle cx="509.9" cy="283.1" r="1.48"/><circle cx="511.5" cy="280.5" r="1.48"/><circle cx="513.4" cy="278.1" r="1.48"/><circle cx="515.6" cy="275.9" r="1.48"/><circle cx="518" cy="274" r="1.48"/><circle cx="520.6" cy="272.3" r="1.48"/><circle cx="523.4" cy="270.9" r="1.48"/><circle cx="526.3" cy="269.8" r="1.48"/><circle cx="529.3" cy="269" r="1.48"/><circle cx="532.3" cy="271.1" r="1.48"/><circle cx="535.3" cy="271.5" r="1.48"/><circle cx="538.3" cy="272.4" r="1.48"/><circle cx="541.1" cy="273.5" r="1.48"/><circle cx="543.9" cy="275" r="1.48"/><circle cx="546.4" cy="276.9" r="1.48"/><circle cx="548.7" cy="279" r="1.48"/><circle cx="550.7" cy="281.3" r="1.48"/><circle cx="552.3" cy="283.9" r="1.48"/><circle cx="553.7" cy="286.6" r="1.48"/><circle cx="554.2" cy="289.7" r="1.48"/><circle cx="554.4" cy="292.7" r="1.48"/><circle cx="554.1" cy="295.8" r="1.48"/><circle cx="553.5" cy="298.9" r="1.48"/><circle cx="552.6" cy="301.8" r="1.48"/><circle cx="551.3" cy="304.6" r="1.48"/><circle cx="549.6" cy="307.3" r="1.48"/><circle cx="547.7" cy="309.7" r="1.48"/><circle cx="545.5" cy="311.8" r="1.48"/><circle cx="542.8" cy="313.2" r="1.48"/><circle cx="539.9" cy="314.3" r="1.48"/><circle cx="536.9" cy="315" r="1.48"/><circle cx="533.9" cy="315.4" r="1.48"/><circle cx="530.7" cy="315.4" r="1.48"/><circle cx="527.7" cy="315" r="1.48"/><circle cx="524.7" cy="314.3" r="1.48"/><circle cx="521.8" cy="313.2" r="1.48"/><circle cx="519.1" cy="311.8" r="1.48"/><circle cx="516.9" cy="309.7" r="1.48"/><circle cx="515" cy="307.3" r="1.48"/><circle cx="513.3" cy="304.6" r="1.48"/><circle cx="512" cy="301.8" r="1.48"/><circle cx="511.1" cy="298.9" r="1.48"/><circle cx="510.5" cy="295.8" r="1.48"/><circle cx="510.2" cy="292.7" r="1.48"/><circle cx="510.4" cy="289.7" r="1.48"/><circle cx="510.9" cy="286.6" r="1.48"/><circle cx="512.3" cy="283.9" r="1.48"/><circle cx="513.9" cy="281.3" r="1.48"/><circle cx="515.9" cy="279" r="1.48"/><circle cx="518.2" cy="276.9" r="1.48"/><circle cx="520.7" cy="275" r="1.48"/><circle cx="523.5" cy="273.5" r="1.48"/><circle cx="526.3" cy="272.4" r="1.48"/><circle cx="529.3" cy="271.5" r="1.48"/></g><g class="n"><circle cx="532.3" cy="273.6" r="1.32"/><circle cx="535.3" cy="274.1" r="1.32"/><circle cx="538.3" cy="275" r="1.32"/><circle cx="541.1" cy="276.2" r="1.32"/><circle cx="543.7" cy="277.9" r="1.32"/><circle cx="546.1" cy="279.9" r="1.32"/><circle cx="548.2" cy="282.2" r="1.32"/><circle cx="549.9" cy="284.7" r="1.32"/><circle cx="551.3" cy="287.4" r="1.32"/><circle cx="551.8" cy="290.4" r="1.32"/><circle cx="551.9" cy="293.5" r="1.32"/><circle cx="551.5" cy="296.6" r="1.32"/><circle cx="550.8" cy="299.6" r="1.32"/><circle cx="549.6" cy="302.5" r="1.32"/><circle cx="548.1" cy="305.2" r="1.32"/><circle cx="546.2" cy="307.6" r="1.32"/><circle cx="544.1" cy="309.8" r="1.32"/><circle cx="541.3" cy="311.2" r="1.32"/><circle cx="538.4" cy="312.2" r="1.32"/><circle cx="535.4" cy="312.8" r="1.32"/><circle cx="532.3" cy="313" r="1.32"/><circle cx="529.2" cy="312.8" r="1.32"/><circle cx="526.2" cy="312.2" r="1.32"/><circle cx="523.3" cy="311.2" r="1.32"/><circle cx="520.5" cy="309.8" r="1.32"/><circle cx="518.4" cy="307.6" r="1.32"/><circle cx="516.5" cy="305.2" r="1.32"/><circle cx="515" cy="302.5" r="1.32"/><circle cx="513.8" cy="299.6" r="1.32"/><circle cx="513.1" cy="296.6" r="1.32"/><circle cx="512.7" cy="293.5" r="1.32"/><circle cx="512.8" cy="290.4" r="1.32"/><circle cx="513.3" cy="287.4" r="1.32"/><circle cx="514.7" cy="284.7" r="1.32"/><circle cx="516.4" cy="282.2" r="1.32"/><circle cx="518.5" cy="279.9" r="1.32"/><circle cx="520.9" cy="277.9" r="1.32"/><circle cx="523.5" cy="276.2" r="1.32"/><circle cx="526.3" cy="275" r="1.32"/><circle cx="529.3" cy="274.1" r="1.32"/><circle cx="532.3" cy="276.1" r="1.32"/><circle cx="535.4" cy="276.5" r="1.32"/><circle cx="538.3" cy="277.4" r="1.32"/><circle cx="541.1" cy="278.8" r="1.32"/><circle cx="543.6" cy="280.7" r="1.32"/><circle cx="545.8" cy="282.9" r="1.32"/><circle cx="547.6" cy="285.4" r="1.32"/><circle cx="548.9" cy="288.2" r="1.32"/><circle cx="549.5" cy="291.2" r="1.32"/><circle cx="549.5" cy="294.3" r="1.32"/><circle cx="549" cy="297.4" r="1.32"/><circle cx="548.1" cy="300.4" r="1.32"/><circle cx="546.7" cy="303.1" r="1.32"/><circle cx="544.8" cy="305.6" r="1.32"/><circle cx="542.6" cy="307.8" r="1.32"/><circle cx="539.9" cy="309.2" r="1.32"/><circle cx="536.9" cy="310.2" r="1.32"/><circle cx="533.9" cy="310.7" r="1.32"/><circle cx="530.7" cy="310.7" r="1.32"/><circle cx="527.7" cy="310.2" r="1.32"/><circle cx="524.7" cy="309.2" r="1.32"/><circle cx="522" cy="307.8" r="1.32"/><circle cx="519.8" cy="305.6" r="1.32"/><circle cx="517.9" cy="303.1" r="1.32"/><circle cx="516.5" cy="300.4" r="1.32"/><circle cx="515.6" cy="297.4" r="1.32"/><circle cx="515.1" cy="294.3" r="1.32"/><circle cx="515.1" cy="291.2" r="1.32"/><circle cx="515.7" cy="288.2" r="1.32"/><circle cx="517" cy="285.4" r="1.32"/><circle cx="518.8" cy="282.9" r="1.32"/><circle cx="521" cy="280.7" r="1.32"/><circle cx="523.5" cy="278.8" r="1.32"/><circle cx="526.3" cy="277.4" r="1.32"/><circle cx="529.2" cy="276.5" r="1.32"/><circle cx="532.3" cy="278.6" r="1.32"/><circle cx="535.3" cy="279.1" r="1.32"/><circle cx="538.3" cy="280.1" r="1.32"/><circle cx="540.9" cy="281.7" r="1.32"/><circle cx="543.3" cy="283.8" r="1.32"/><circle cx="545.2" cy="286.2" r="1.32"/><circle cx="546.6" cy="289" r="1.32"/><circle cx="547.1" cy="292" r="1.32"/><circle cx="547" cy="295.1" r="1.32"/><circle cx="546.3" cy="298.1" r="1.32"/><circle cx="545.1" cy="301" r="1.32"/><circle cx="543.3" cy="303.6" r="1.32"/><circle cx="541.1" cy="305.7" r="1.32"/><circle cx="538.4" cy="307.1" r="1.32"/><circle cx="535.4" cy="308" r="1.32"/><circle cx="532.3" cy="308.3" r="1.32"/><circle cx="529.2" cy="308" r="1.32"/><circle cx="526.2" cy="307.1" r="1.32"/><circle cx="523.5" cy="305.7" r="1.32"/><circle cx="521.3" cy="303.6" r="1.32"/><circle cx="519.5" cy="301" r="1.32"/><circle cx="518.3" cy="298.1" r="1.32"/><circle cx="517.6" cy="295.1" r="1.32"/><circle cx="517.5" cy="292" r="1.32"/><circle cx="518" cy="289" r="1.32"/><circle cx="519.4" cy="286.2" r="1.32"/><circle cx="521.3" cy="283.8" r="1.32"/><circle cx="523.7" cy="281.7" r="1.32"/><circle cx="526.3" cy="280.1" r="1.32"/><circle cx="529.3" cy="279.1" r="1.32"/></g><g class="y"><circle cx="532.3" cy="281.1" r="1.48"/><circle cx="535.3" cy="281.6" r="1.48"/><circle cx="538.2" cy="282.8" r="1.48"/><circle cx="540.7" cy="284.7" r="1.48"/><circle cx="542.7" cy="287" r="1.48"/><circle cx="544.2" cy="289.7" r="1.48"/><circle cx="544.6" cy="292.8" r="1.48"/><circle cx="544.4" cy="295.9" r="1.48"/><circle cx="543.4" cy="298.8" r="1.48"/><circle cx="541.8" cy="301.5" r="1.48"/><circle cx="539.6" cy="303.7" r="1.48"/><circle cx="536.9" cy="305.1" r="1.48"/><circle cx="533.9" cy="305.8" r="1.48"/><circle cx="530.7" cy="305.8" r="1.48"/><circle cx="527.7" cy="305.1" r="1.48"/><circle cx="525" cy="303.7" r="1.48"/><circle cx="522.8" cy="301.5" r="1.48"/><circle cx="521.2" cy="298.8" r="1.48"/><circle cx="520.2" cy="295.9" r="1.48"/><circle cx="520" cy="292.8" r="1.48"/><circle cx="520.4" cy="289.7" r="1.48"/><circle cx="521.9" cy="287" r="1.48"/><circle cx="523.9" cy="284.7" r="1.48"/><circle cx="526.4" cy="282.8" r="1.48"/><circle cx="529.3" cy="281.6" r="1.48"/></g><g class="n"><circle cx="532.3" cy="283.6" r="1.32"/><circle cx="535.3" cy="284.2" r="1.32"/><circle cx="538.1" cy="285.7" r="1.32"/><circle cx="540.3" cy="287.8" r="1.32"/><circle cx="541.8" cy="290.5" r="1.32"/><circle cx="542.2" cy="293.6" r="1.32"/><circle cx="541.6" cy="296.6" r="1.32"/><circle cx="540.3" cy="299.4" r="1.32"/><circle cx="538.2" cy="301.7" r="1.32"/><circle cx="535.4" cy="303" r="1.32"/><circle cx="532.3" cy="303.4" r="1.32"/><circle cx="529.2" cy="303" r="1.32"/><circle cx="526.4" cy="301.7" r="1.32"/><circle cx="524.3" cy="299.4" r="1.32"/><circle cx="523" cy="296.6" r="1.32"/><circle cx="522.4" cy="293.6" r="1.32"/><circle cx="522.8" cy="290.5" r="1.32"/><circle cx="524.3" cy="287.8" r="1.32"/><circle cx="526.5" cy="285.7" r="1.32"/><circle cx="529.3" cy="284.2" r="1.32"/><circle cx="532.3" cy="286.1" r="1.32"/><circle cx="535.3" cy="286.9" r="1.32"/><circle cx="537.8" cy="288.7" r="1.32"/><circle cx="539.4" cy="291.3" r="1.32"/><circle cx="539.6" cy="294.4" r="1.32"/><circle cx="538.7" cy="297.3" r="1.32"/><circle cx="536.7" cy="299.7" r="1.32"/><circle cx="533.9" cy="300.8" r="1.32"/><circle cx="530.7" cy="300.8" r="1.32"/><circle cx="527.9" cy="299.7" r="1.32"/><circle cx="525.9" cy="297.3" r="1.32"/><circle cx="525" cy="294.4" r="1.32"/><circle cx="525.2" cy="291.3" r="1.32"/><circle cx="526.8" cy="288.7" r="1.32"/><circle cx="529.3" cy="286.9" r="1.32"/><circle cx="532.3" cy="288.6" r="1.32"/><circle cx="535.2" cy="289.6" r="1.32"/><circle cx="537.1" cy="292.1" r="1.32"/><circle cx="537" cy="295.1" r="1.32"/><circle cx="535.2" cy="297.6" r="1.32"/><circle cx="532.3" cy="298.5" r="1.32"/><circle cx="529.4" cy="297.6" r="1.32"/><circle cx="527.6" cy="295.1" r="1.32"/><circle cx="527.5" cy="292.1" r="1.32"/><circle cx="529.4" cy="289.6" r="1.32"/><circle cx="532.3" cy="291.1" r="1.32"/><circle cx="534.7" cy="292.8" r="1.32"/><circle cx="533.8" cy="295.6" r="1.32"/><circle cx="530.8" cy="295.6" r="1.32"/><circle cx="529.9" cy="292.8" r="1.32"/><circle cx="532.3" cy="293.6" r="1.32"/></g><circle cx="532.3" cy="293.6" r="26.3" fill="url(#sh2)"/><polygon points="535.7,228.4 532,227.9 528.3,226.9 524.8,225.4 521.6,223.3 518.7,220.9 516.1,218 514,214.9 512.4,211.5 511.7,207.8 511.5,204 511.9,200.2 512.8,196.5 514.3,192.9 516.2,189.6 518.6,186.7 521.3,184.1 524.6,182.3 528.2,180.9 531.9,180.1 535.7,179.9 539.5,180.1 543.2,180.9 546.8,182.3 550.1,184.1 552.8,186.7 555.2,189.6 557.1,192.9 558.6,196.5 559.5,200.2 559.9,204 559.7,207.8 559,211.5 557.4,214.9 555.3,218 552.7,220.9 549.8,223.3 546.6,225.4 543.1,226.9 539.4,227.9" fill="#83838b" stroke="#83838b" stroke-width="2.5" stroke-linejoin="round"/><g class="n"><circle cx="535.7" cy="228.4" r="2.1"/><circle cx="532" cy="227.9" r="2.1"/></g><g class="y"><circle cx="528.3" cy="226.9" r="2.1"/><circle cx="524.8" cy="225.4" r="2.1"/><circle cx="521.6" cy="223.3" r="2.1"/><circle cx="518.7" cy="220.9" r="2.1"/><circle cx="516.1" cy="218" r="2.1"/></g><g class="n"><circle cx="514" cy="214.9" r="2.1"/><circle cx="512.4" cy="211.5" r="2.1"/><circle cx="511.7" cy="207.8" r="2.1"/></g><g class="y"><circle cx="511.5" cy="204" r="2.1"/><circle cx="511.9" cy="200.2" r="2.1"/><circle cx="512.8" cy="196.5" r="2.1"/><circle cx="514.3" cy="192.9" r="2.1"/><circle cx="516.2" cy="189.6" r="2.1"/></g><g class="n"><circle cx="518.6" cy="186.7" r="2.1"/><circle cx="521.3" cy="184.1" r="2.1"/><circle cx="524.6" cy="182.3" r="2.1"/></g><g class="y"><circle cx="528.2" cy="180.9" r="2.1"/><circle cx="531.9" cy="180.1" r="2.1"/><circle cx="535.7" cy="179.9" r="2.1"/><circle cx="539.5" cy="180.1" r="2.1"/><circle cx="543.2" cy="180.9" r="2.1"/></g><g class="n"><circle cx="546.8" cy="182.3" r="2.1"/><circle cx="550.1" cy="184.1" r="2.1"/><circle cx="552.8" cy="186.7" r="2.1"/></g><g class="y"><circle cx="555.2" cy="189.6" r="2.1"/><circle cx="557.1" cy="192.9" r="2.1"/><circle cx="558.6" cy="196.5" r="2.1"/><circle cx="559.5" cy="200.2" r="2.1"/><circle cx="559.9" cy="204" r="2.1"/></g><g class="n"><circle cx="559.7" cy="207.8" r="2.1"/><circle cx="559" cy="211.5" r="2.1"/><circle cx="557.4" cy="214.9" r="2.1"/></g><g class="y"><circle cx="555.3" cy="218" r="2.1"/><circle cx="552.7" cy="220.9" r="2.1"/><circle cx="549.8" cy="223.3" r="2.1"/><circle cx="546.6" cy="225.4" r="2.1"/><circle cx="543.1" cy="226.9" r="2.1"/></g><g class="n"><circle cx="539.4" cy="227.9" r="2.1"/><circle cx="535.7" cy="225.9" r="2.1"/><circle cx="531.9" cy="225.3" r="2.1"/><circle cx="528.2" cy="224.1" r="2.1"/></g><g class="y"><circle cx="524.8" cy="222.3" r="2.1"/><circle cx="521.6" cy="220" r="2.1"/></g><g class="n"><circle cx="518.8" cy="217.2" r="2.1"/><circle cx="516.5" cy="214.1" r="2.1"/><circle cx="514.8" cy="210.7" r="2.1"/><circle cx="514.2" cy="206.9" r="2.1"/><circle cx="514.2" cy="203" r="2.1"/></g><g class="y"><circle cx="514.8" cy="199.2" r="2.1"/><circle cx="516.1" cy="195.5" r="2.1"/></g><g class="n"><circle cx="517.8" cy="192" r="2.1"/><circle cx="520.1" cy="188.8" r="2.1"/><circle cx="522.8" cy="186.1" r="2.1"/><circle cx="526.2" cy="184.4" r="2.1"/><circle cx="529.9" cy="183.2" r="2.1"/></g><g class="y"><circle cx="533.7" cy="182.6" r="2.1"/><circle cx="537.7" cy="182.6" r="2.1"/></g><g class="n"><circle cx="541.5" cy="183.2" r="2.1"/><circle cx="545.2" cy="184.4" r="2.1"/><circle cx="548.6" cy="186.1" r="2.1"/><circle cx="551.3" cy="188.8" r="2.1"/><circle cx="553.6" cy="192" r="2.1"/></g><g class="y"><circle cx="555.3" cy="195.5" r="2.1"/><circle cx="556.6" cy="199.2" r="2.1"/></g><g class="n"><circle cx="557.2" cy="203" r="2.1"/><circle cx="557.2" cy="206.9" r="2.1"/><circle cx="556.6" cy="210.7" r="2.1"/><circle cx="554.9" cy="214.1" r="2.1"/><circle cx="552.6" cy="217.2" r="2.1"/></g><g class="y"><circle cx="549.8" cy="220" r="2.1"/><circle cx="546.6" cy="222.3" r="2.1"/></g><g class="n"><circle cx="543.2" cy="224.1" r="2.1"/><circle cx="539.5" cy="225.3" r="2.1"/><circle cx="535.7" cy="223" r="2.1"/><circle cx="531.9" cy="222.2" r="2.1"/><circle cx="528.3" cy="220.8" r="2.1"/><circle cx="524.9" cy="218.8" r="2.1"/><circle cx="521.9" cy="216.2" r="2.1"/><circle cx="519.4" cy="213.2" r="2.1"/><circle cx="517.5" cy="209.8" r="2.1"/><circle cx="517.1" cy="206" r="2.1"/><circle cx="517.3" cy="202.1" r="2.1"/><circle cx="518.2" cy="198.2" r="2.1"/><circle cx="519.8" cy="194.6" r="2.1"/><circle cx="521.9" cy="191.3" r="2.1"/><circle cx="524.5" cy="188.4" r="2.1"/><circle cx="528" cy="186.9" r="2.1"/><circle cx="531.8" cy="185.9" r="2.1"/><circle cx="535.7" cy="185.5" r="2.1"/><circle cx="539.6" cy="185.9" r="2.1"/><circle cx="543.4" cy="186.9" r="2.1"/><circle cx="546.9" cy="188.4" r="2.1"/><circle cx="549.5" cy="191.3" r="2.1"/><circle cx="551.6" cy="194.6" r="2.1"/><circle cx="553.2" cy="198.2" r="2.1"/><circle cx="554.1" cy="202.1" r="2.1"/><circle cx="554.3" cy="206" r="2.1"/><circle cx="553.9" cy="209.8" r="2.1"/><circle cx="552" cy="213.2" r="2.1"/><circle cx="549.5" cy="216.2" r="2.1"/><circle cx="546.5" cy="218.8" r="2.1"/><circle cx="543.1" cy="220.8" r="2.1"/><circle cx="539.5" cy="222.2" r="2.1"/><circle cx="535.7" cy="187.9" r="2.1"/></g><g class="y"><circle cx="539.5" cy="188.7" r="2.1"/></g><g class="n"><circle cx="543.2" cy="190.2" r="2.1"/><circle cx="546.4" cy="192.6" r="2.1"/></g><g class="y"><circle cx="549" cy="195.5" r="2.1"/></g><g class="n"><circle cx="550.9" cy="199" r="2.1"/></g><g class="y"><circle cx="551.4" cy="202.8" r="2.1"/></g><g class="n"><circle cx="551" cy="206.8" r="2.1"/><circle cx="549.8" cy="210.6" r="2.1"/></g><g class="y"><circle cx="547.8" cy="214" r="2.1"/></g><g class="n"><circle cx="545.1" cy="216.8" r="2.1"/></g><g class="y"><circle cx="541.6" cy="218.5" r="2.1"/></g><g class="n"><circle cx="537.7" cy="219.3" r="2.1"/><circle cx="533.7" cy="219.3" r="2.1"/></g><g class="y"><circle cx="529.8" cy="218.5" r="2.1"/></g><g class="n"><circle cx="526.3" cy="216.8" r="2.1"/></g><g class="y"><circle cx="523.6" cy="214" r="2.1"/></g><g class="n"><circle cx="521.6" cy="210.6" r="2.1"/><circle cx="520.4" cy="206.8" r="2.1"/></g><g class="y"><circle cx="520" cy="202.8" r="2.1"/></g><g class="n"><circle cx="520.5" cy="199" r="2.1"/></g><g class="y"><circle cx="522.4" cy="195.5" r="2.1"/></g><g class="n"><circle cx="525" cy="192.6" r="2.1"/><circle cx="528.2" cy="190.2" r="2.1"/></g><g class="y"><circle cx="531.9" cy="188.7" r="2.1"/></g><g class="n"><circle cx="535.7" cy="216.8" r="2.1"/><circle cx="531.8" cy="216" r="2.1"/><circle cx="528.3" cy="214.1" r="2.1"/><circle cx="525.4" cy="211.3" r="2.1"/><circle cx="523.4" cy="207.9" r="2.1"/><circle cx="523" cy="203.9" r="2.1"/><circle cx="523.7" cy="200" r="2.1"/><circle cx="525.4" cy="196.4" r="2.1"/><circle cx="528.1" cy="193.5" r="2.1"/><circle cx="531.7" cy="191.8" r="2.1"/><circle cx="535.7" cy="191.2" r="2.1"/><circle cx="539.7" cy="191.8" r="2.1"/><circle cx="543.3" cy="193.5" r="2.1"/><circle cx="546" cy="196.4" r="2.1"/><circle cx="547.7" cy="200" r="2.1"/><circle cx="548.4" cy="203.9" r="2.1"/><circle cx="548" cy="207.9" r="2.1"/><circle cx="546" cy="211.3" r="2.1"/><circle cx="543.1" cy="214.1" r="2.1"/><circle cx="539.6" cy="216" r="2.1"/></g><g class="y"><circle cx="535.7" cy="213.6" r="2.1"/></g><g class="n"><circle cx="531.8" cy="212.6" r="2.1"/><circle cx="528.6" cy="210.3" r="2.1"/></g><g class="y"><circle cx="526.5" cy="206.9" r="2.1"/></g><g class="n"><circle cx="526.2" cy="202.9" r="2.1"/><circle cx="527.5" cy="199.1" r="2.1"/></g><g class="y"><circle cx="530" cy="196.1" r="2.1"/></g><g class="n"><circle cx="533.7" cy="194.6" r="2.1"/><circle cx="537.7" cy="194.6" r="2.1"/></g><g class="y"><circle cx="541.4" cy="196.1" r="2.1"/></g><g class="n"><circle cx="543.9" cy="199.1" r="2.1"/><circle cx="545.2" cy="202.9" r="2.1"/></g><g class="y"><circle cx="544.9" cy="206.9" r="2.1"/></g><g class="n"><circle cx="542.8" cy="210.3" r="2.1"/><circle cx="539.6" cy="212.6" r="2.1"/><circle cx="535.7" cy="210.4" r="2.1"/><circle cx="531.9" cy="209.2" r="2.1"/><circle cx="529.5" cy="205.9" r="2.1"/><circle cx="529.5" cy="201.9" r="2.1"/><circle cx="531.9" cy="198.6" r="2.1"/><circle cx="535.7" cy="197.4" r="2.1"/><circle cx="539.5" cy="198.6" r="2.1"/><circle cx="541.9" cy="201.9" r="2.1"/><circle cx="541.9" cy="205.9" r="2.1"/><circle cx="539.5" cy="209.2" r="2.1"/><circle cx="535.7" cy="200.6" r="2.1"/><circle cx="538.8" cy="202.9" r="2.1"/><circle cx="537.6" cy="206.6" r="2.1"/><circle cx="533.8" cy="206.6" r="2.1"/><circle cx="532.6" cy="202.9" r="2.1"/><circle cx="535.7" cy="203.9" r="2.1"/></g><circle cx="535.7" cy="203.9" r="26.6" fill="url(#sh)"/><polygon points="610.9,199.4 613.6,199.8 616.4,200.6 619,201.5 621.6,202.7 624,204.2 626.3,205.9 628.5,207.8 630.4,209.8 632.2,212 633.7,214.4 635,216.9 635.4,219.6 635.5,222.4 635.4,225.3 635.1,228.1 634.5,230.9 633.6,233.6 632.4,236.2 631.1,238.7 629.5,241 627.7,243.2 625.8,245.2 623.3,246.4 620.7,247.4 618,248.2 615.2,248.7 612.3,249 609.5,249 606.6,248.7 603.8,248.2 601.1,247.4 598.5,246.4 596,245.2 594.1,243.2 592.3,241 590.7,238.7 589.4,236.2 588.2,233.6 587.3,230.9 586.7,228.1 586.4,225.3 586.3,222.4 586.4,219.6 586.8,216.9 588.1,214.4 589.6,212 591.4,209.8 593.3,207.8 595.5,205.9 597.8,204.2 600.2,202.7 602.8,201.5 605.4,200.6 608.2,199.8" fill="#66666e" stroke="#66666e" stroke-width="3.6" stroke-linejoin="round"/><g class="y"><circle cx="610.9" cy="199.4" r="1.34"/><circle cx="613.6" cy="199.8" r="1.34"/><circle cx="616.4" cy="200.6" r="1.34"/><circle cx="619" cy="201.5" r="1.34"/><circle cx="621.6" cy="202.7" r="1.34"/><circle cx="624" cy="204.2" r="1.34"/><circle cx="626.3" cy="205.9" r="1.34"/><circle cx="628.5" cy="207.8" r="1.34"/><circle cx="630.4" cy="209.8" r="1.34"/><circle cx="632.2" cy="212" r="1.34"/><circle cx="633.7" cy="214.4" r="1.34"/><circle cx="635" cy="216.9" r="1.34"/><circle cx="635.4" cy="219.6" r="1.34"/><circle cx="635.5" cy="222.4" r="1.34"/><circle cx="635.4" cy="225.3" r="1.34"/><circle cx="635.1" cy="228.1" r="1.34"/><circle cx="634.5" cy="230.9" r="1.34"/><circle cx="633.6" cy="233.6" r="1.34"/><circle cx="632.4" cy="236.2" r="1.34"/><circle cx="631.1" cy="238.7" r="1.34"/><circle cx="629.5" cy="241" r="1.34"/><circle cx="627.7" cy="243.2" r="1.34"/><circle cx="625.8" cy="245.2" r="1.34"/><circle cx="623.3" cy="246.4" r="1.34"/><circle cx="620.7" cy="247.4" r="1.34"/><circle cx="618" cy="248.2" r="1.34"/><circle cx="615.2" cy="248.7" r="1.34"/><circle cx="612.3" cy="249" r="1.34"/><circle cx="609.5" cy="249" r="1.34"/><circle cx="606.6" cy="248.7" r="1.34"/><circle cx="603.8" cy="248.2" r="1.34"/><circle cx="601.1" cy="247.4" r="1.34"/><circle cx="598.5" cy="246.4" r="1.34"/><circle cx="596" cy="245.2" r="1.34"/><circle cx="594.1" cy="243.2" r="1.34"/><circle cx="592.3" cy="241" r="1.34"/><circle cx="590.7" cy="238.7" r="1.34"/><circle cx="589.4" cy="236.2" r="1.34"/><circle cx="588.2" cy="233.6" r="1.34"/><circle cx="587.3" cy="230.9" r="1.34"/><circle cx="586.7" cy="228.1" r="1.34"/><circle cx="586.4" cy="225.3" r="1.34"/><circle cx="586.3" cy="222.4" r="1.34"/><circle cx="586.4" cy="219.6" r="1.34"/><circle cx="586.8" cy="216.9" r="1.34"/><circle cx="588.1" cy="214.4" r="1.34"/><circle cx="589.6" cy="212" r="1.34"/><circle cx="591.4" cy="209.8" r="1.34"/><circle cx="593.3" cy="207.8" r="1.34"/><circle cx="595.5" cy="205.9" r="1.34"/><circle cx="597.8" cy="204.2" r="1.34"/><circle cx="600.2" cy="202.7" r="1.34"/><circle cx="602.8" cy="201.5" r="1.34"/><circle cx="605.4" cy="200.6" r="1.34"/><circle cx="608.2" cy="199.8" r="1.34"/></g><g class="n"><circle cx="610.9" cy="201.7" r="1.2"/><circle cx="613.6" cy="202.3" r="1.2"/><circle cx="616.2" cy="203.2" r="1.2"/><circle cx="618.8" cy="204.3" r="1.2"/><circle cx="621.3" cy="205.6" r="1.2"/><circle cx="623.6" cy="207.2" r="1.2"/><circle cx="625.9" cy="208.9" r="1.2"/><circle cx="627.9" cy="210.9" r="1.2"/><circle cx="629.7" cy="213" r="1.2"/><circle cx="631.4" cy="215.2" r="1.2"/><circle cx="632.8" cy="217.6" r="1.2"/><circle cx="633" cy="220.3" r="1.2"/><circle cx="633" cy="223.1" r="1.2"/><circle cx="632.8" cy="225.9" r="1.2"/><circle cx="632.3" cy="228.7" r="1.2"/><circle cx="631.5" cy="231.4" r="1.2"/><circle cx="630.5" cy="234.1" r="1.2"/><circle cx="629.3" cy="236.6" r="1.2"/><circle cx="627.9" cy="239" r="1.2"/><circle cx="626.2" cy="241.2" r="1.2"/><circle cx="624.4" cy="243.3" r="1.2"/><circle cx="621.9" cy="244.4" r="1.2"/><circle cx="619.3" cy="245.3" r="1.2"/><circle cx="616.5" cy="245.9" r="1.2"/><circle cx="613.7" cy="246.3" r="1.2"/><circle cx="610.9" cy="246.4" r="1.2"/><circle cx="608.1" cy="246.3" r="1.2"/><circle cx="605.3" cy="245.9" r="1.2"/><circle cx="602.5" cy="245.3" r="1.2"/><circle cx="599.9" cy="244.4" r="1.2"/><circle cx="597.4" cy="243.3" r="1.2"/><circle cx="595.6" cy="241.2" r="1.2"/><circle cx="593.9" cy="239" r="1.2"/><circle cx="592.5" cy="236.6" r="1.2"/><circle cx="591.3" cy="234.1" r="1.2"/><circle cx="590.3" cy="231.4" r="1.2"/><circle cx="589.5" cy="228.7" r="1.2"/><circle cx="589" cy="225.9" r="1.2"/><circle cx="588.8" cy="223.1" r="1.2"/><circle cx="588.8" cy="220.3" r="1.2"/><circle cx="589" cy="217.6" r="1.2"/><circle cx="590.4" cy="215.2" r="1.2"/><circle cx="592.1" cy="213" r="1.2"/><circle cx="593.9" cy="210.9" r="1.2"/><circle cx="595.9" cy="208.9" r="1.2"/><circle cx="598.2" cy="207.2" r="1.2"/><circle cx="600.5" cy="205.6" r="1.2"/><circle cx="603" cy="204.3" r="1.2"/><circle cx="605.6" cy="203.2" r="1.2"/><circle cx="608.2" cy="202.3" r="1.2"/></g><g class="y"><circle cx="610.9" cy="204" r="1.34"/><circle cx="613.5" cy="204.8" r="1.34"/><circle cx="616.1" cy="205.8" r="1.34"/><circle cx="618.6" cy="207" r="1.34"/><circle cx="621" cy="208.4" r="1.34"/><circle cx="623.3" cy="210.1" r="1.34"/><circle cx="625.4" cy="211.9" r="1.34"/><circle cx="627.3" cy="213.9" r="1.34"/><circle cx="629.1" cy="216.1" r="1.34"/><circle cx="630.6" cy="218.3" r="1.34"/><circle cx="630.7" cy="221" r="1.34"/><circle cx="630.5" cy="223.8" r="1.34"/><circle cx="630.1" cy="226.5" r="1.34"/><circle cx="629.5" cy="229.3" r="1.34"/><circle cx="628.6" cy="231.9" r="1.34"/><circle cx="627.5" cy="234.5" r="1.34"/><circle cx="626.2" cy="237" r="1.34"/><circle cx="624.7" cy="239.3" r="1.34"/><circle cx="623.1" cy="241.4" r="1.34"/><circle cx="620.5" cy="242.4" r="1.34"/><circle cx="617.9" cy="243.1" r="1.34"/><circle cx="615.1" cy="243.5" r="1.34"/><circle cx="612.3" cy="243.8" r="1.34"/><circle cx="609.5" cy="243.8" r="1.34"/><circle cx="606.7" cy="243.5" r="1.34"/><circle cx="603.9" cy="243.1" r="1.34"/><circle cx="601.3" cy="242.4" r="1.34"/><circle cx="598.7" cy="241.4" r="1.34"/><circle cx="597.1" cy="239.3" r="1.34"/><circle cx="595.6" cy="237" r="1.34"/><circle cx="594.3" cy="234.5" r="1.34"/><circle cx="593.2" cy="231.9" r="1.34"/><circle cx="592.3" cy="229.3" r="1.34"/><circle cx="591.7" cy="226.5" r="1.34"/><circle cx="591.3" cy="223.8" r="1.34"/><circle cx="591.1" cy="221" r="1.34"/><circle cx="591.2" cy="218.3" r="1.34"/><circle cx="592.7" cy="216.1" r="1.34"/><circle cx="594.5" cy="213.9" r="1.34"/><circle cx="596.4" cy="211.9" r="1.34"/><circle cx="598.5" cy="210.1" r="1.34"/><circle cx="600.8" cy="208.4" r="1.34"/><circle cx="603.2" cy="207" r="1.34"/><circle cx="605.7" cy="205.8" r="1.34"/><circle cx="608.3" cy="204.8" r="1.34"/></g><g class="n"><circle cx="610.9" cy="206.3" r="1.2"/><circle cx="613.5" cy="207.1" r="1.2"/><circle cx="616.1" cy="208.1" r="1.2"/><circle cx="618.5" cy="209.4" r="1.2"/><circle cx="620.9" cy="211" r="1.2"/><circle cx="623.1" cy="212.7" r="1.2"/><circle cx="625.1" cy="214.7" r="1.2"/><circle cx="626.9" cy="216.8" r="1.2"/><circle cx="628.4" cy="219" r="1.2"/><circle cx="628.5" cy="221.7" r="1.2"/><circle cx="628.3" cy="224.5" r="1.2"/><circle cx="627.8" cy="227.2" r="1.2"/><circle cx="627.1" cy="230" r="1.2"/><circle cx="626.1" cy="232.6" r="1.2"/><circle cx="624.8" cy="235.1" r="1.2"/><circle cx="623.4" cy="237.4" r="1.2"/><circle cx="621.7" cy="239.6" r="1.2"/><circle cx="619.2" cy="240.5" r="1.2"/><circle cx="616.5" cy="241.2" r="1.2"/><circle cx="613.7" cy="241.6" r="1.2"/><circle cx="610.9" cy="241.7" r="1.2"/><circle cx="608.1" cy="241.6" r="1.2"/><circle cx="605.3" cy="241.2" r="1.2"/><circle cx="602.6" cy="240.5" r="1.2"/><circle cx="600.1" cy="239.6" r="1.2"/><circle cx="598.4" cy="237.4" r="1.2"/><circle cx="597" cy="235.1" r="1.2"/><circle cx="595.7" cy="232.6" r="1.2"/><circle cx="594.7" cy="230" r="1.2"/><circle cx="594" cy="227.2" r="1.2"/><circle cx="593.5" cy="224.5" r="1.2"/><circle cx="593.3" cy="221.7" r="1.2"/><circle cx="593.4" cy="219" r="1.2"/><circle cx="594.9" cy="216.8" r="1.2"/><circle cx="596.7" cy="214.7" r="1.2"/><circle cx="598.7" cy="212.7" r="1.2"/><circle cx="600.9" cy="211" r="1.2"/><circle cx="603.3" cy="209.4" r="1.2"/><circle cx="605.7" cy="208.1" r="1.2"/><circle cx="608.3" cy="207.1" r="1.2"/><circle cx="610.9" cy="208.6" r="1.2"/><circle cx="613.5" cy="209.3" r="1.2"/><circle cx="616.1" cy="210.4" r="1.2"/><circle cx="618.6" cy="211.8" r="1.2"/><circle cx="620.8" cy="213.4" r="1.2"/><circle cx="622.9" cy="215.3" r="1.2"/><circle cx="624.7" cy="217.4" r="1.2"/><circle cx="626.2" cy="219.7" r="1.2"/><circle cx="626.3" cy="222.5" r="1.2"/><circle cx="626.1" cy="225.2" r="1.2"/><circle cx="625.6" cy="228" r="1.2"/><circle cx="624.7" cy="230.7" r="1.2"/><circle cx="623.5" cy="233.2" r="1.2"/><circle cx="622.1" cy="235.6" r="1.2"/><circle cx="620.4" cy="237.7" r="1.2"/><circle cx="617.8" cy="238.7" r="1.2"/><circle cx="615.1" cy="239.3" r="1.2"/><circle cx="612.3" cy="239.7" r="1.2"/><circle cx="609.5" cy="239.7" r="1.2"/><circle cx="606.7" cy="239.3" r="1.2"/><circle cx="604" cy="238.7" r="1.2"/><circle cx="601.4" cy="237.7" r="1.2"/><circle cx="599.7" cy="235.6" r="1.2"/><circle cx="598.3" cy="233.2" r="1.2"/><circle cx="597.1" cy="230.7" r="1.2"/><circle cx="596.2" cy="228" r="1.2"/><circle cx="595.7" cy="225.2" r="1.2"/><circle cx="595.5" cy="222.5" r="1.2"/><circle cx="595.6" cy="219.7" r="1.2"/><circle cx="597.1" cy="217.4" r="1.2"/><circle cx="598.9" cy="215.3" r="1.2"/><circle cx="601" cy="213.4" r="1.2"/><circle cx="603.2" cy="211.8" r="1.2"/><circle cx="605.7" cy="210.4" r="1.2"/><circle cx="608.3" cy="209.3" r="1.2"/><circle cx="610.9" cy="210.9" r="1.2"/><circle cx="613.6" cy="211.6" r="1.2"/><circle cx="616.1" cy="212.7" r="1.2"/><circle cx="618.5" cy="214.2" r="1.2"/><circle cx="620.7" cy="216" r="1.2"/><circle cx="622.5" cy="218.1" r="1.2"/><circle cx="624" cy="220.4" r="1.2"/><circle cx="624.2" cy="223.2" r="1.2"/><circle cx="623.9" cy="226" r="1.2"/><circle cx="623.3" cy="228.7" r="1.2"/><circle cx="622.2" cy="231.3" r="1.2"/><circle cx="620.8" cy="233.7" r="1.2"/><circle cx="619" cy="235.9" r="1.2"/><circle cx="616.5" cy="236.9" r="1.2"/><circle cx="613.7" cy="237.5" r="1.2"/><circle cx="610.9" cy="237.7" r="1.2"/><circle cx="608.1" cy="237.5" r="1.2"/><circle cx="605.3" cy="236.9" r="1.2"/><circle cx="602.8" cy="235.9" r="1.2"/><circle cx="601" cy="233.7" r="1.2"/><circle cx="599.6" cy="231.3" r="1.2"/><circle cx="598.5" cy="228.7" r="1.2"/><circle cx="597.9" cy="226" r="1.2"/><circle cx="597.6" cy="223.2" r="1.2"/><circle cx="597.8" cy="220.4" r="1.2"/><circle cx="599.3" cy="218.1" r="1.2"/><circle cx="601.1" cy="216" r="1.2"/><circle cx="603.3" cy="214.2" r="1.2"/><circle cx="605.7" cy="212.7" r="1.2"/><circle cx="608.2" cy="211.6" r="1.2"/><circle cx="610.9" cy="213.2" r="1.2"/><circle cx="613.6" cy="213.8" r="1.2"/><circle cx="616.2" cy="215" r="1.2"/><circle cx="618.5" cy="216.6" r="1.2"/><circle cx="620.4" cy="218.7" r="1.2"/><circle cx="621.8" cy="221.1" r="1.2"/><circle cx="622.1" cy="223.9" r="1.2"/><circle cx="621.8" cy="226.7" r="1.2"/><circle cx="620.9" cy="229.4" r="1.2"/><circle cx="619.5" cy="231.9" r="1.2"/><circle cx="617.7" cy="234" r="1.2"/><circle cx="615.1" cy="235.1" r="1.2"/><circle cx="612.3" cy="235.7" r="1.2"/><circle cx="609.5" cy="235.7" r="1.2"/><circle cx="606.7" cy="235.1" r="1.2"/><circle cx="604.1" cy="234" r="1.2"/><circle cx="602.3" cy="231.9" r="1.2"/><circle cx="600.9" cy="229.4" r="1.2"/><circle cx="600" cy="226.7" r="1.2"/><circle cx="599.7" cy="223.9" r="1.2"/><circle cx="600" cy="221.1" r="1.2"/><circle cx="601.4" cy="218.7" r="1.2"/><circle cx="603.3" cy="216.6" r="1.2"/><circle cx="605.6" cy="215" r="1.2"/><circle cx="608.2" cy="213.8" r="1.2"/></g><g class="y"><circle cx="610.9" cy="215.5" r="1.34"/><circle cx="613.6" cy="216.1" r="1.34"/><circle cx="616.2" cy="217.5" r="1.34"/><circle cx="618.2" cy="219.4" r="1.34"/><circle cx="619.6" cy="221.9" r="1.34"/><circle cx="619.9" cy="224.7" r="1.34"/><circle cx="619.4" cy="227.5" r="1.34"/><circle cx="618.2" cy="230" r="1.34"/><circle cx="616.3" cy="232.1" r="1.34"/><circle cx="613.7" cy="233.3" r="1.34"/><circle cx="610.9" cy="233.6" r="1.34"/><circle cx="608.1" cy="233.3" r="1.34"/><circle cx="605.5" cy="232.1" r="1.34"/><circle cx="603.6" cy="230" r="1.34"/><circle cx="602.4" cy="227.5" r="1.34"/><circle cx="601.9" cy="224.7" r="1.34"/><circle cx="602.2" cy="221.9" r="1.34"/><circle cx="603.6" cy="219.4" r="1.34"/><circle cx="605.6" cy="217.5" r="1.34"/><circle cx="608.2" cy="216.1" r="1.34"/></g><g class="n"><circle cx="610.9" cy="217.8" r="1.2"/><circle cx="613.6" cy="218.5" r="1.2"/><circle cx="616" cy="220.2" r="1.2"/><circle cx="617.5" cy="222.6" r="1.2"/><circle cx="617.6" cy="225.4" r="1.2"/><circle cx="616.8" cy="228.1" r="1.2"/><circle cx="615" cy="230.3" r="1.2"/><circle cx="612.3" cy="231.3" r="1.2"/><circle cx="609.5" cy="231.3" r="1.2"/><circle cx="606.8" cy="230.3" r="1.2"/><circle cx="605" cy="228.1" r="1.2"/><circle cx="604.2" cy="225.4" r="1.2"/><circle cx="604.3" cy="222.6" r="1.2"/><circle cx="605.8" cy="220.2" r="1.2"/><circle cx="608.2" cy="218.5" r="1.2"/><circle cx="610.9" cy="220.1" r="1.2"/><circle cx="613.6" cy="221" r="1.2"/><circle cx="615.3" cy="223.3" r="1.2"/><circle cx="615.2" cy="226.1" r="1.2"/><circle cx="613.6" cy="228.4" r="1.2"/><circle cx="610.9" cy="229.2" r="1.2"/><circle cx="608.2" cy="228.4" r="1.2"/><circle cx="606.6" cy="226.1" r="1.2"/><circle cx="606.5" cy="223.3" r="1.2"/><circle cx="608.2" cy="221" r="1.2"/><circle cx="610.9" cy="222.4" r="1.2"/><circle cx="613.1" cy="224" r="1.2"/><circle cx="612.3" cy="226.6" r="1.2"/><circle cx="609.5" cy="226.6" r="1.2"/><circle cx="608.7" cy="224" r="1.2"/><circle cx="610.9" cy="224.7" r="1.2"/></g>
<rect x="438.6" y="172.6" width="200.9" height="149" fill="none" stroke="#484848" stroke-width="0.6"/>
<path d="M443.5 321.6v3.2M470.6 321.6v3.2M497.8 321.6v3.2M524.9 321.6v3.2M552 321.6v3.2M579.1 321.6v3.2M606.3 321.6v3.2M633.4 321.6v3.2M438.6 321.6h-3.2M438.6 291.8h-3.2M438.6 262h-3.2M438.6 232.2h-3.2M438.6 202.4h-3.2M438.6 172.6h-3.2" stroke="#484848" stroke-width="0.6" fill="none"/>
<text class="t" text-anchor="middle" x="539" y="170.2" style="font-size:7.4px">Pt<tspan class="s" dy="1.3">0.4</tspan><tspan dy="-1.3">Ni</tspan><tspan class="s" dy="1.3">0.6</tspan></text>
<text class="L" x="441.1" y="185.7">f</text>
</g>
<g id="panel-g">
<polyline fill="none" stroke="#1f77b4" stroke-width="0.9" stroke-linejoin="round" points="38.1,370.5 49.7,382.2 65.8,391.9 81.5,399.9 92.7,402.6 102.2,403.9 108.8,408.6 119.1,411.1 124.8,415.3 135.7,418.9 151.6,426.6 167.7,429.8 178.6,431.9 194.7,433 210.7,440.2 221.7,441.3"/>
<g fill="#1f77b4"><circle cx="38.1" cy="370.5" r="0.9"/><circle cx="49.7" cy="382.2" r="0.9"/><circle cx="65.8" cy="391.9" r="0.9"/><circle cx="81.5" cy="399.9" r="0.9"/><circle cx="92.7" cy="402.6" r="0.9"/><circle cx="102.2" cy="403.9" r="0.9"/><circle cx="108.8" cy="408.6" r="0.9"/><circle cx="119.1" cy="411.1" r="0.9"/><circle cx="124.8" cy="415.3" r="0.9"/><circle cx="135.7" cy="418.9" r="0.9"/><circle cx="151.6" cy="426.6" r="0.9"/><circle cx="167.7" cy="429.8" r="0.9"/><circle cx="178.6" cy="431.9" r="0.9"/><circle cx="194.7" cy="433" r="0.9"/><circle cx="210.7" cy="440.2" r="0.9"/><circle cx="221.7" cy="441.3" r="0.9"/></g>
<polyline fill="none" stroke="#ff7f0e" stroke-width="0.9" stroke-linejoin="round" points="39.9,360.9 65.3,376.1 90.7,385.4 116,395.9 141.4,404.1 166.9,411 192.3,417.7 217.6,419.7"/>
<g fill="#ff7f0e"><circle cx="39.9" cy="360.9" r="0.9"/><circle cx="65.3" cy="376.1" r="0.9"/><circle cx="90.7" cy="385.4" r="0.9"/><circle cx="116" cy="395.9" r="0.9"/><circle cx="141.4" cy="404.1" r="0.9"/><circle cx="166.9" cy="411" r="0.9"/><circle cx="192.3" cy="417.7" r="0.9"/><circle cx="217.6" cy="419.7" r="0.9"/></g>
<polyline fill="none" stroke="#2ca02c" stroke-width="0.9" stroke-linejoin="round" points="39.9,379.3 65.3,392.2 90.7,404.2 116,414.2 141.4,421.8 166.9,429.8 192.6,437 218.3,438.6"/>
<g fill="#2ca02c"><circle cx="39.9" cy="379.3" r="0.9"/><circle cx="65.3" cy="392.2" r="0.9"/><circle cx="90.7" cy="404.2" r="0.9"/><circle cx="116" cy="414.2" r="0.9"/><circle cx="141.4" cy="421.8" r="0.9"/><circle cx="166.9" cy="429.8" r="0.9"/><circle cx="192.6" cy="437" r="0.9"/><circle cx="218.3" cy="438.6" r="0.9"/></g>
<polyline fill="none" stroke="#d62728" stroke-width="0.9" stroke-linejoin="round" points="48.1,376.9 55.7,377.7 66.3,384.5 79.1,391.7 87.1,395.1 97.4,399.1 106.2,402.1 114.4,404.2 136.4,414 163.4,421.3 194.2,428.7 221.2,439.1"/>
<g fill="#d62728"><circle cx="48.1" cy="376.9" r="0.9"/><circle cx="55.7" cy="377.7" r="0.9"/><circle cx="66.3" cy="384.5" r="0.9"/><circle cx="79.1" cy="391.7" r="0.9"/><circle cx="87.1" cy="395.1" r="0.9"/><circle cx="97.4" cy="399.1" r="0.9"/><circle cx="106.2" cy="402.1" r="0.9"/><circle cx="114.4" cy="404.2" r="0.9"/><circle cx="136.4" cy="414" r="0.9"/><circle cx="163.4" cy="421.3" r="0.9"/><circle cx="194.2" cy="428.7" r="0.9"/><circle cx="221.2" cy="439.1" r="0.9"/></g>
<line x1="65.8" y1="391.9" x2="59.3" y2="409.1" stroke="#0a0a0a" stroke-width="0.9" stroke-dasharray="3 1.3"/>
<line x1="122.8" y1="389.5" x2="116" y2="414.2" stroke="#0a0a0a" stroke-width="0.9" stroke-dasharray="3 1.3"/>
<line x1="209.9" y1="402.2" x2="221.2" y2="439.1" stroke="#0a0a0a" stroke-width="0.9" stroke-dasharray="3 1.3"/>
<line x1="167.7" y1="429.8" x2="153.7" y2="441" stroke="#0a0a0a" stroke-width="0.9" stroke-dasharray="3 1.3"/>
<polygon points="56.3,413.9 61,415.1 65.5,417 69.7,419.6 73.5,422.8 76.7,426.6 79.3,430.6 79.6,435.4 79.2,440.3 78,445.1 76.1,449.7 73.6,454 70.5,457.7 66,459.4 61.2,460.5 56.3,460.9 51.4,460.5 46.6,459.4 42.1,457.7 39,454 36.5,449.7 34.6,445.1 33.4,440.3 33,435.4 33.3,430.6 35.9,426.6 39.1,422.8 42.9,419.6 47.1,417 51.6,415.1" fill="#4f8d57" stroke="#4f8d57" stroke-width="2.7" stroke-linejoin="round"/><g class="y"><circle cx="56.3" cy="413.9" r="2.59"/></g><g class="n"><circle cx="61" cy="415.1" r="2.25"/></g><g class="y"><circle cx="65.5" cy="417" r="2.59"/><circle cx="69.7" cy="419.6" r="2.59"/><circle cx="73.5" cy="422.8" r="2.59"/></g><g class="n"><circle cx="76.7" cy="426.6" r="2.25"/></g><g class="y"><circle cx="79.3" cy="430.6" r="2.59"/></g><g class="n"><circle cx="79.6" cy="435.4" r="2.25"/></g><g class="y"><circle cx="79.2" cy="440.3" r="2.59"/><circle cx="78" cy="445.1" r="2.59"/><circle cx="76.1" cy="449.7" r="2.59"/></g><g class="n"><circle cx="73.6" cy="454" r="2.25"/></g><g class="y"><circle cx="70.5" cy="457.7" r="2.59"/></g><g class="n"><circle cx="66" cy="459.4" r="2.25"/></g><g class="y"><circle cx="61.2" cy="460.5" r="2.59"/><circle cx="56.3" cy="460.9" r="2.59"/><circle cx="51.4" cy="460.5" r="2.59"/></g><g class="n"><circle cx="46.6" cy="459.4" r="2.25"/></g><g class="y"><circle cx="42.1" cy="457.7" r="2.59"/></g><g class="n"><circle cx="39" cy="454" r="2.25"/></g><g class="y"><circle cx="36.5" cy="449.7" r="2.59"/><circle cx="34.6" cy="445.1" r="2.59"/><circle cx="33.4" cy="440.3" r="2.59"/></g><g class="n"><circle cx="33" cy="435.4" r="2.25"/></g><g class="y"><circle cx="33.3" cy="430.6" r="2.59"/></g><g class="n"><circle cx="35.9" cy="426.6" r="2.25"/></g><g class="y"><circle cx="39.1" cy="422.8" r="2.59"/><circle cx="42.9" cy="419.6" r="2.59"/><circle cx="47.1" cy="417" r="2.59"/></g><g class="n"><circle cx="51.6" cy="415.1" r="2.25"/><circle cx="56.3" cy="417.5" r="2.25"/><circle cx="61.1" cy="418.7" r="2.25"/><circle cx="65.7" cy="420.8" r="2.25"/><circle cx="69.8" cy="423.8" r="2.25"/><circle cx="73.3" cy="427.5" r="2.25"/><circle cx="75.9" cy="431.7" r="2.25"/><circle cx="76.2" cy="436.7" r="2.25"/><circle cx="75.6" cy="441.7" r="2.25"/><circle cx="74.1" cy="446.5" r="2.25"/><circle cx="71.6" cy="451" r="2.25"/><circle cx="68.4" cy="454.8" r="2.25"/><circle cx="63.8" cy="456.6" r="2.25"/><circle cx="58.8" cy="457.6" r="2.25"/><circle cx="53.8" cy="457.6" r="2.25"/><circle cx="48.8" cy="456.6" r="2.25"/><circle cx="44.2" cy="454.8" r="2.25"/><circle cx="41" cy="451" r="2.25"/><circle cx="38.5" cy="446.5" r="2.25"/><circle cx="37" cy="441.7" r="2.25"/><circle cx="36.4" cy="436.7" r="2.25"/><circle cx="36.7" cy="431.7" r="2.25"/><circle cx="39.3" cy="427.5" r="2.25"/><circle cx="42.8" cy="423.8" r="2.25"/><circle cx="46.9" cy="420.8" r="2.25"/><circle cx="51.5" cy="418.7" r="2.25"/><circle cx="56.3" cy="421.6" r="2.25"/><circle cx="61.2" cy="422.8" r="2.25"/><circle cx="65.6" cy="425.3" r="2.25"/><circle cx="69.3" cy="428.8" r="2.25"/><circle cx="72" cy="433" r="2.25"/><circle cx="72.3" cy="438" r="2.25"/><circle cx="71.4" cy="443" r="2.25"/><circle cx="69.2" cy="447.6" r="2.25"/><circle cx="66" cy="451.4" r="2.25"/><circle cx="61.3" cy="453.3" r="2.25"/><circle cx="56.3" cy="454" r="2.25"/><circle cx="51.3" cy="453.3" r="2.25"/><circle cx="46.6" cy="451.4" r="2.25"/><circle cx="43.4" cy="447.6" r="2.25"/><circle cx="41.2" cy="443" r="2.25"/><circle cx="40.3" cy="438" r="2.25"/><circle cx="40.6" cy="433" r="2.25"/><circle cx="43.3" cy="428.8" r="2.25"/><circle cx="47" cy="425.3" r="2.25"/><circle cx="51.4" cy="422.8" r="2.25"/></g><g class="y"><circle cx="56.3" cy="450.4" r="2.59"/></g><g class="n"><circle cx="51.5" cy="449.1" r="2.25"/><circle cx="47.4" cy="446.1" r="2.25"/></g><g class="y"><circle cx="44.6" cy="441.9" r="2.59"/></g><g class="n"><circle cx="44.4" cy="436.9" r="2.25"/><circle cx="45.9" cy="432.1" r="2.25"/></g><g class="y"><circle cx="49.1" cy="428.1" r="2.59"/></g><g class="n"><circle cx="53.8" cy="426.4" r="2.25"/><circle cx="58.8" cy="426.4" r="2.25"/></g><g class="y"><circle cx="63.5" cy="428.1" r="2.59"/></g><g class="n"><circle cx="66.7" cy="432.1" r="2.25"/><circle cx="68.2" cy="436.9" r="2.25"/></g><g class="y"><circle cx="68" cy="441.9" r="2.59"/></g><g class="n"><circle cx="65.2" cy="446.1" r="2.25"/><circle cx="61.1" cy="449.1" r="2.25"/><circle cx="56.3" cy="429.9" r="2.25"/><circle cx="61" cy="431.6" r="2.25"/><circle cx="64.1" cy="435.6" r="2.25"/><circle cx="63.9" cy="440.6" r="2.25"/><circle cx="61.1" cy="444.7" r="2.25"/><circle cx="56.3" cy="446.1" r="2.25"/><circle cx="51.5" cy="444.7" r="2.25"/><circle cx="48.7" cy="440.6" r="2.25"/><circle cx="48.5" cy="435.6" r="2.25"/><circle cx="51.6" cy="431.6" r="2.25"/><circle cx="56.3" cy="434" r="2.25"/><circle cx="60.2" cy="436.8" r="2.25"/><circle cx="58.7" cy="441.4" r="2.25"/><circle cx="53.9" cy="441.4" r="2.25"/><circle cx="52.4" cy="436.8" r="2.25"/><circle cx="56.3" cy="438.1" r="2.25"/></g><polygon points="132.9,431.4 135.9,432.1 138.9,433 141.9,434.2 144.7,435.7 147.4,437.5 149.9,439.5 152.2,441.7 154.2,444.1 156.1,446.7 157.6,449.4 157.9,452.5 158,455.6 157.7,458.8 157.2,461.9 156.3,465 155.2,468 153.8,470.9 152.1,473.6 150.3,476.1 148.2,478.4 145.3,479.7 142.4,480.7 139.3,481.4 136.1,481.9 132.9,482 129.7,481.9 126.5,481.4 123.4,480.7 120.5,479.7 117.6,478.4 115.5,476.1 113.7,473.6 112,470.9 110.6,468 109.5,465 108.6,461.9 108.1,458.8 107.8,455.6 107.9,452.5 108.2,449.4 109.7,446.7 111.6,444.1 113.6,441.7 115.9,439.5 118.4,437.5 121.1,435.7 123.9,434.2 126.9,433 129.9,432.1" fill="#66666e" stroke="#66666e" stroke-width="4" stroke-linejoin="round"/><g class="n"><circle cx="132.9" cy="431.4" r="1.4"/><circle cx="135.9" cy="432.1" r="1.4"/><circle cx="138.9" cy="433" r="1.4"/></g><g class="y"><circle cx="141.9" cy="434.2" r="1.57"/><circle cx="144.7" cy="435.7" r="1.57"/><circle cx="147.4" cy="437.5" r="1.57"/><circle cx="149.9" cy="439.5" r="1.57"/><circle cx="152.2" cy="441.7" r="1.57"/></g><g class="n"><circle cx="154.2" cy="444.1" r="1.4"/><circle cx="156.1" cy="446.7" r="1.4"/><circle cx="157.6" cy="449.4" r="1.4"/><circle cx="157.9" cy="452.5" r="1.4"/><circle cx="158" cy="455.6" r="1.4"/></g><g class="y"><circle cx="157.7" cy="458.8" r="1.57"/><circle cx="157.2" cy="461.9" r="1.57"/><circle cx="156.3" cy="465" r="1.57"/><circle cx="155.2" cy="468" r="1.57"/><circle cx="153.8" cy="470.9" r="1.57"/></g><g class="n"><circle cx="152.1" cy="473.6" r="1.4"/><circle cx="150.3" cy="476.1" r="1.4"/><circle cx="148.2" cy="478.4" r="1.4"/><circle cx="145.3" cy="479.7" r="1.4"/><circle cx="142.4" cy="480.7" r="1.4"/></g><g class="y"><circle cx="139.3" cy="481.4" r="1.57"/><circle cx="136.1" cy="481.9" r="1.57"/><circle cx="132.9" cy="482" r="1.57"/><circle cx="129.7" cy="481.9" r="1.57"/><circle cx="126.5" cy="481.4" r="1.57"/></g><g class="n"><circle cx="123.4" cy="480.7" r="1.4"/><circle cx="120.5" cy="479.7" r="1.4"/><circle cx="117.6" cy="478.4" r="1.4"/><circle cx="115.5" cy="476.1" r="1.4"/><circle cx="113.7" cy="473.6" r="1.4"/></g><g class="y"><circle cx="112" cy="470.9" r="1.57"/><circle cx="110.6" cy="468" r="1.57"/><circle cx="109.5" cy="465" r="1.57"/><circle cx="108.6" cy="461.9" r="1.57"/><circle cx="108.1" cy="458.8" r="1.57"/></g><g class="n"><circle cx="107.8" cy="455.6" r="1.4"/><circle cx="107.9" cy="452.5" r="1.4"/><circle cx="108.2" cy="449.4" r="1.4"/><circle cx="109.7" cy="446.7" r="1.4"/><circle cx="111.6" cy="444.1" r="1.4"/></g><g class="y"><circle cx="113.6" cy="441.7" r="1.57"/><circle cx="115.9" cy="439.5" r="1.57"/><circle cx="118.4" cy="437.5" r="1.57"/><circle cx="121.1" cy="435.7" r="1.57"/><circle cx="123.9" cy="434.2" r="1.57"/></g><g class="n"><circle cx="126.9" cy="433" r="1.4"/><circle cx="129.9" cy="432.1" r="1.4"/><circle cx="132.9" cy="434" r="1.4"/><circle cx="135.9" cy="434.7" r="1.4"/><circle cx="138.9" cy="435.7" r="1.4"/><circle cx="141.8" cy="437" r="1.4"/><circle cx="144.5" cy="438.6" r="1.4"/><circle cx="147.1" cy="440.5" r="1.4"/><circle cx="149.5" cy="442.7" r="1.4"/><circle cx="151.7" cy="445" r="1.4"/><circle cx="153.6" cy="447.5" r="1.4"/><circle cx="155.2" cy="450.2" r="1.4"/><circle cx="155.4" cy="453.3" r="1.4"/><circle cx="155.4" cy="456.4" r="1.4"/><circle cx="155" cy="459.6" r="1.4"/><circle cx="154.3" cy="462.7" r="1.4"/><circle cx="153.3" cy="465.7" r="1.4"/><circle cx="152.1" cy="468.7" r="1.4"/><circle cx="150.5" cy="471.4" r="1.4"/><circle cx="148.7" cy="474" r="1.4"/><circle cx="146.7" cy="476.3" r="1.4"/><circle cx="143.8" cy="477.5" r="1.4"/><circle cx="140.8" cy="478.5" r="1.4"/><circle cx="137.7" cy="479.1" r="1.4"/><circle cx="134.5" cy="479.4" r="1.4"/><circle cx="131.3" cy="479.4" r="1.4"/><circle cx="128.1" cy="479.1" r="1.4"/><circle cx="125" cy="478.5" r="1.4"/><circle cx="122" cy="477.5" r="1.4"/><circle cx="119.1" cy="476.3" r="1.4"/><circle cx="117.1" cy="474" r="1.4"/><circle cx="115.3" cy="471.4" r="1.4"/><circle cx="113.7" cy="468.7" r="1.4"/><circle cx="112.5" cy="465.7" r="1.4"/><circle cx="111.5" cy="462.7" r="1.4"/><circle cx="110.8" cy="459.6" r="1.4"/><circle cx="110.4" cy="456.4" r="1.4"/><circle cx="110.4" cy="453.3" r="1.4"/><circle cx="110.6" cy="450.2" r="1.4"/><circle cx="112.2" cy="447.5" r="1.4"/><circle cx="114.1" cy="445" r="1.4"/><circle cx="116.3" cy="442.7" r="1.4"/><circle cx="118.7" cy="440.5" r="1.4"/><circle cx="121.3" cy="438.6" r="1.4"/><circle cx="124" cy="437" r="1.4"/><circle cx="126.9" cy="435.7" r="1.4"/><circle cx="129.9" cy="434.7" r="1.4"/><circle cx="132.9" cy="436.6" r="1.4"/><circle cx="135.9" cy="437.3" r="1.4"/><circle cx="138.9" cy="438.4" r="1.4"/><circle cx="141.7" cy="439.8" r="1.4"/><circle cx="144.4" cy="441.5" r="1.4"/><circle cx="146.9" cy="443.6" r="1.4"/><circle cx="149.1" cy="445.8" r="1.4"/><circle cx="151.1" cy="448.3" r="1.4"/><circle cx="152.7" cy="451" r="1.4"/><circle cx="152.9" cy="454.1" r="1.4"/><circle cx="152.8" cy="457.2" r="1.4"/><circle cx="152.4" cy="460.4" r="1.4"/><circle cx="151.5" cy="463.5" r="1.4"/><circle cx="150.4" cy="466.4" r="1.4"/><circle cx="148.9" cy="469.3" r="1.4"/><circle cx="147.1" cy="471.9" r="1.4"/><circle cx="145.1" cy="474.2" r="1.4"/><circle cx="142.3" cy="475.4" r="1.4"/><circle cx="139.2" cy="476.3" r="1.4"/><circle cx="136.1" cy="476.8" r="1.4"/><circle cx="132.9" cy="477" r="1.4"/><circle cx="129.7" cy="476.8" r="1.4"/><circle cx="126.6" cy="476.3" r="1.4"/><circle cx="123.5" cy="475.4" r="1.4"/><circle cx="120.7" cy="474.2" r="1.4"/><circle cx="118.7" cy="471.9" r="1.4"/><circle cx="116.9" cy="469.3" r="1.4"/><circle cx="115.4" cy="466.4" r="1.4"/><circle cx="114.3" cy="463.5" r="1.4"/><circle cx="113.4" cy="460.4" r="1.4"/><circle cx="113" cy="457.2" r="1.4"/><circle cx="112.9" cy="454.1" r="1.4"/><circle cx="113.1" cy="451" r="1.4"/><circle cx="114.7" cy="448.3" r="1.4"/><circle cx="116.7" cy="445.8" r="1.4"/><circle cx="118.9" cy="443.6" r="1.4"/><circle cx="121.4" cy="441.5" r="1.4"/><circle cx="124.1" cy="439.8" r="1.4"/><circle cx="126.9" cy="438.4" r="1.4"/><circle cx="129.9" cy="437.3" r="1.4"/><circle cx="132.9" cy="439.2" r="1.4"/><circle cx="136" cy="439.9" r="1.4"/><circle cx="138.9" cy="441" r="1.4"/><circle cx="141.8" cy="442.5" r="1.4"/><circle cx="144.4" cy="444.4" r="1.4"/><circle cx="146.7" cy="446.6" r="1.4"/><circle cx="148.6" cy="449.1" r="1.4"/><circle cx="150.2" cy="451.8" r="1.4"/><circle cx="150.5" cy="454.9" r="1.4"/><circle cx="150.4" cy="458.1" r="1.4"/><circle cx="149.8" cy="461.2" r="1.4"/><circle cx="148.8" cy="464.3" r="1.4"/><circle cx="147.4" cy="467.1" r="1.4"/><circle cx="145.7" cy="469.8" r="1.4"/><circle cx="143.6" cy="472.1" r="1.4"/><circle cx="140.7" cy="473.4" r="1.4"/><circle cx="137.7" cy="474.2" r="1.4"/><circle cx="134.5" cy="474.7" r="1.4"/><circle cx="131.3" cy="474.7" r="1.4"/><circle cx="128.1" cy="474.2" r="1.4"/><circle cx="125.1" cy="473.4" r="1.4"/><circle cx="122.2" cy="472.1" r="1.4"/><circle cx="120.1" cy="469.8" r="1.4"/><circle cx="118.4" cy="467.1" r="1.4"/><circle cx="117" cy="464.3" r="1.4"/><circle cx="116" cy="461.2" r="1.4"/><circle cx="115.4" cy="458.1" r="1.4"/><circle cx="115.3" cy="454.9" r="1.4"/><circle cx="115.6" cy="451.8" r="1.4"/><circle cx="117.2" cy="449.1" r="1.4"/><circle cx="119.1" cy="446.6" r="1.4"/><circle cx="121.4" cy="444.4" r="1.4"/><circle cx="124" cy="442.5" r="1.4"/><circle cx="126.9" cy="441" r="1.4"/><circle cx="129.8" cy="439.9" r="1.4"/><circle cx="132.9" cy="441.8" r="1.4"/><circle cx="136" cy="442.5" r="1.4"/><circle cx="138.9" cy="443.7" r="1.4"/><circle cx="141.6" cy="445.4" r="1.4"/><circle cx="144.1" cy="447.5" r="1.4"/><circle cx="146.1" cy="449.9" r="1.4"/><circle cx="147.7" cy="452.6" r="1.4"/><circle cx="148" cy="455.7" r="1.4"/><circle cx="147.8" cy="458.9" r="1.4"/><circle cx="147" cy="462" r="1.4"/><circle cx="145.8" cy="465" r="1.4"/><circle cx="144.1" cy="467.7" r="1.4"/><circle cx="142.1" cy="470" r="1.4"/><circle cx="139.2" cy="471.2" r="1.4"/><circle cx="136.1" cy="472" r="1.4"/><circle cx="132.9" cy="472.3" r="1.4"/><circle cx="129.7" cy="472" r="1.4"/><circle cx="126.6" cy="471.2" r="1.4"/><circle cx="123.7" cy="470" r="1.4"/><circle cx="121.7" cy="467.7" r="1.4"/><circle cx="120" cy="465" r="1.4"/><circle cx="118.8" cy="462" r="1.4"/><circle cx="118" cy="458.9" r="1.4"/><circle cx="117.8" cy="455.7" r="1.4"/><circle cx="118.1" cy="452.6" r="1.4"/><circle cx="119.7" cy="449.9" r="1.4"/><circle cx="121.7" cy="447.5" r="1.4"/><circle cx="124.2" cy="445.4" r="1.4"/><circle cx="126.9" cy="443.7" r="1.4"/><circle cx="129.8" cy="442.5" r="1.4"/><circle cx="132.9" cy="444.4" r="1.4"/><circle cx="136" cy="445.1" r="1.4"/><circle cx="138.9" cy="446.4" r="1.4"/><circle cx="141.5" cy="448.3" r="1.4"/><circle cx="143.7" cy="450.7" r="1.4"/><circle cx="145.3" cy="453.4" r="1.4"/><circle cx="145.6" cy="456.5" r="1.4"/><circle cx="145.2" cy="459.7" r="1.4"/><circle cx="144.2" cy="462.8" r="1.4"/><circle cx="142.6" cy="465.6" r="1.4"/><circle cx="140.5" cy="467.9" r="1.4"/><circle cx="137.6" cy="469.2" r="1.4"/><circle cx="134.5" cy="469.8" r="1.4"/><circle cx="131.3" cy="469.8" r="1.4"/><circle cx="128.2" cy="469.2" r="1.4"/><circle cx="125.3" cy="467.9" r="1.4"/><circle cx="123.2" cy="465.6" r="1.4"/><circle cx="121.6" cy="462.8" r="1.4"/><circle cx="120.6" cy="459.7" r="1.4"/><circle cx="120.2" cy="456.5" r="1.4"/><circle cx="120.5" cy="453.4" r="1.4"/><circle cx="122.1" cy="450.7" r="1.4"/><circle cx="124.3" cy="448.3" r="1.4"/><circle cx="126.9" cy="446.4" r="1.4"/><circle cx="129.8" cy="445.1" r="1.4"/><circle cx="132.9" cy="447" r="1.4"/><circle cx="136" cy="447.8" r="1.4"/><circle cx="138.8" cy="449.3" r="1.4"/><circle cx="141.1" cy="451.5" r="1.4"/><circle cx="142.8" cy="454.2" r="1.4"/><circle cx="143" cy="457.3" r="1.4"/><circle cx="142.4" cy="460.5" r="1.4"/><circle cx="141" cy="463.4" r="1.4"/><circle cx="139" cy="465.8" r="1.4"/><circle cx="136.1" cy="467" r="1.4"/><circle cx="132.9" cy="467.4" r="1.4"/><circle cx="129.7" cy="467" r="1.4"/><circle cx="126.8" cy="465.8" r="1.4"/><circle cx="124.8" cy="463.4" r="1.4"/><circle cx="123.4" cy="460.5" r="1.4"/><circle cx="122.8" cy="457.3" r="1.4"/><circle cx="123" cy="454.2" r="1.4"/><circle cx="124.7" cy="451.5" r="1.4"/><circle cx="127" cy="449.3" r="1.4"/><circle cx="129.8" cy="447.8" r="1.4"/><circle cx="132.9" cy="449.6" r="1.4"/><circle cx="136" cy="450.4" r="1.4"/><circle cx="138.6" cy="452.3" r="1.4"/><circle cx="140.3" cy="455" r="1.4"/><circle cx="140.5" cy="458.2" r="1.4"/><circle cx="139.5" cy="461.2" r="1.4"/><circle cx="137.5" cy="463.7" r="1.4"/><circle cx="134.5" cy="464.8" r="1.4"/><circle cx="131.3" cy="464.8" r="1.4"/><circle cx="128.3" cy="463.7" r="1.4"/><circle cx="126.3" cy="461.2" r="1.4"/><circle cx="125.3" cy="458.2" r="1.4"/><circle cx="125.5" cy="455" r="1.4"/><circle cx="127.2" cy="452.3" r="1.4"/><circle cx="129.8" cy="450.4" r="1.4"/><circle cx="132.9" cy="452.2" r="1.4"/><circle cx="135.9" cy="453.3" r="1.4"/><circle cx="137.8" cy="455.8" r="1.4"/><circle cx="137.8" cy="459" r="1.4"/><circle cx="136" cy="461.6" r="1.4"/><circle cx="132.9" cy="462.5" r="1.4"/><circle cx="129.8" cy="461.6" r="1.4"/><circle cx="128" cy="459" r="1.4"/><circle cx="128" cy="455.8" r="1.4"/><circle cx="129.9" cy="453.3" r="1.4"/><circle cx="132.9" cy="454.8" r="1.4"/><circle cx="135.4" cy="456.6" r="1.4"/><circle cx="134.4" cy="459.5" r="1.4"/><circle cx="131.4" cy="459.5" r="1.4"/><circle cx="130.4" cy="456.6" r="1.4"/><circle cx="132.9" cy="457.4" r="1.4"/></g><polygon points="127.7,386.2 124,385.7 120.3,384.7 116.8,383.2 113.6,381.1 110.7,378.7 108.1,375.8 106,372.7 104.4,369.3 103.7,365.6 103.5,361.8 103.9,358 104.8,354.3 106.3,350.7 108.2,347.4 110.6,344.5 113.3,341.9 116.6,340.1 120.2,338.7 123.9,337.9 127.7,337.7 131.5,337.9 135.2,338.7 138.8,340.1 142.1,341.9 144.8,344.5 147.2,347.4 149.1,350.7 150.6,354.3 151.5,358 151.9,361.8 151.7,365.6 151,369.3 149.4,372.7 147.3,375.8 144.7,378.7 141.8,381.1 138.6,383.2 135.1,384.7 131.4,385.7" fill="#83838b" stroke="#83838b" stroke-width="2.5" stroke-linejoin="round"/><g class="y"><circle cx="127.7" cy="386.2" r="2.1"/><circle cx="124" cy="385.7" r="2.1"/><circle cx="120.3" cy="384.7" r="2.1"/><circle cx="116.8" cy="383.2" r="2.1"/><circle cx="113.6" cy="381.1" r="2.1"/><circle cx="110.7" cy="378.7" r="2.1"/><circle cx="108.1" cy="375.8" r="2.1"/><circle cx="106" cy="372.7" r="2.1"/><circle cx="104.4" cy="369.3" r="2.1"/><circle cx="103.7" cy="365.6" r="2.1"/><circle cx="103.5" cy="361.8" r="2.1"/><circle cx="103.9" cy="358" r="2.1"/><circle cx="104.8" cy="354.3" r="2.1"/><circle cx="106.3" cy="350.7" r="2.1"/><circle cx="108.2" cy="347.4" r="2.1"/><circle cx="110.6" cy="344.5" r="2.1"/><circle cx="113.3" cy="341.9" r="2.1"/><circle cx="116.6" cy="340.1" r="2.1"/><circle cx="120.2" cy="338.7" r="2.1"/><circle cx="123.9" cy="337.9" r="2.1"/><circle cx="127.7" cy="337.7" r="2.1"/><circle cx="131.5" cy="337.9" r="2.1"/><circle cx="135.2" cy="338.7" r="2.1"/><circle cx="138.8" cy="340.1" r="2.1"/><circle cx="142.1" cy="341.9" r="2.1"/><circle cx="144.8" cy="344.5" r="2.1"/><circle cx="147.2" cy="347.4" r="2.1"/><circle cx="149.1" cy="350.7" r="2.1"/><circle cx="150.6" cy="354.3" r="2.1"/><circle cx="151.5" cy="358" r="2.1"/><circle cx="151.9" cy="361.8" r="2.1"/><circle cx="151.7" cy="365.6" r="2.1"/><circle cx="151" cy="369.3" r="2.1"/><circle cx="149.4" cy="372.7" r="2.1"/><circle cx="147.3" cy="375.8" r="2.1"/><circle cx="144.7" cy="378.7" r="2.1"/><circle cx="141.8" cy="381.1" r="2.1"/><circle cx="138.6" cy="383.2" r="2.1"/><circle cx="135.1" cy="384.7" r="2.1"/><circle cx="131.4" cy="385.7" r="2.1"/></g><g class="n"><circle cx="127.7" cy="383.7" r="2.1"/><circle cx="123.9" cy="383.1" r="2.1"/></g><g class="y"><circle cx="120.2" cy="381.9" r="2.1"/><circle cx="116.8" cy="380.1" r="2.1"/><circle cx="113.6" cy="377.8" r="2.1"/><circle cx="110.8" cy="375" r="2.1"/></g><g class="n"><circle cx="108.5" cy="371.9" r="2.1"/><circle cx="106.8" cy="368.5" r="2.1"/><circle cx="106.2" cy="364.7" r="2.1"/></g><g class="y"><circle cx="106.2" cy="360.8" r="2.1"/><circle cx="106.8" cy="357" r="2.1"/><circle cx="108.1" cy="353.3" r="2.1"/><circle cx="109.8" cy="349.8" r="2.1"/></g><g class="n"><circle cx="112.1" cy="346.6" r="2.1"/><circle cx="114.8" cy="343.9" r="2.1"/><circle cx="118.2" cy="342.2" r="2.1"/></g><g class="y"><circle cx="121.9" cy="341" r="2.1"/><circle cx="125.7" cy="340.4" r="2.1"/><circle cx="129.7" cy="340.4" r="2.1"/><circle cx="133.5" cy="341" r="2.1"/></g><g class="n"><circle cx="137.2" cy="342.2" r="2.1"/><circle cx="140.6" cy="343.9" r="2.1"/><circle cx="143.3" cy="346.6" r="2.1"/></g><g class="y"><circle cx="145.6" cy="349.8" r="2.1"/><circle cx="147.3" cy="353.3" r="2.1"/><circle cx="148.6" cy="357" r="2.1"/><circle cx="149.2" cy="360.8" r="2.1"/></g><g class="n"><circle cx="149.2" cy="364.7" r="2.1"/><circle cx="148.6" cy="368.5" r="2.1"/><circle cx="146.9" cy="371.9" r="2.1"/></g><g class="y"><circle cx="144.6" cy="375" r="2.1"/><circle cx="141.8" cy="377.8" r="2.1"/><circle cx="138.6" cy="380.1" r="2.1"/><circle cx="135.2" cy="381.9" r="2.1"/></g><g class="n"><circle cx="131.5" cy="383.1" r="2.1"/><circle cx="127.7" cy="380.8" r="2.1"/><circle cx="123.9" cy="380" r="2.1"/><circle cx="120.3" cy="378.6" r="2.1"/><circle cx="116.9" cy="376.6" r="2.1"/><circle cx="113.9" cy="374" r="2.1"/><circle cx="111.4" cy="371" r="2.1"/><circle cx="109.5" cy="367.6" r="2.1"/><circle cx="109.1" cy="363.8" r="2.1"/><circle cx="109.3" cy="359.9" r="2.1"/><circle cx="110.2" cy="356" r="2.1"/><circle cx="111.8" cy="352.4" r="2.1"/><circle cx="113.9" cy="349.1" r="2.1"/><circle cx="116.5" cy="346.2" r="2.1"/><circle cx="120" cy="344.7" r="2.1"/><circle cx="123.8" cy="343.7" r="2.1"/><circle cx="127.7" cy="343.3" r="2.1"/><circle cx="131.6" cy="343.7" r="2.1"/><circle cx="135.4" cy="344.7" r="2.1"/><circle cx="138.9" cy="346.2" r="2.1"/><circle cx="141.5" cy="349.1" r="2.1"/><circle cx="143.6" cy="352.4" r="2.1"/><circle cx="145.2" cy="356" r="2.1"/><circle cx="146.1" cy="359.9" r="2.1"/><circle cx="146.3" cy="363.8" r="2.1"/><circle cx="145.9" cy="367.6" r="2.1"/><circle cx="144" cy="371" r="2.1"/><circle cx="141.5" cy="374" r="2.1"/><circle cx="138.5" cy="376.6" r="2.1"/><circle cx="135.1" cy="378.6" r="2.1"/><circle cx="131.5" cy="380" r="2.1"/><circle cx="127.7" cy="345.7" r="2.1"/></g><g class="y"><circle cx="131.5" cy="346.5" r="2.1"/></g><g class="n"><circle cx="135.2" cy="348" r="2.1"/><circle cx="138.4" cy="350.4" r="2.1"/></g><g class="y"><circle cx="141" cy="353.3" r="2.1"/></g><g class="n"><circle cx="142.9" cy="356.8" r="2.1"/></g><g class="y"><circle cx="143.4" cy="360.6" r="2.1"/></g><g class="n"><circle cx="143" cy="364.6" r="2.1"/><circle cx="141.8" cy="368.4" r="2.1"/></g><g class="y"><circle cx="139.8" cy="371.8" r="2.1"/></g><g class="n"><circle cx="137.1" cy="374.6" r="2.1"/></g><g class="y"><circle cx="133.6" cy="376.3" r="2.1"/></g><g class="n"><circle cx="129.7" cy="377.1" r="2.1"/><circle cx="125.7" cy="377.1" r="2.1"/></g><g class="y"><circle cx="121.8" cy="376.3" r="2.1"/></g><g class="n"><circle cx="118.3" cy="374.6" r="2.1"/></g><g class="y"><circle cx="115.6" cy="371.8" r="2.1"/></g><g class="n"><circle cx="113.6" cy="368.4" r="2.1"/><circle cx="112.4" cy="364.6" r="2.1"/></g><g class="y"><circle cx="112" cy="360.6" r="2.1"/></g><g class="n"><circle cx="112.5" cy="356.8" r="2.1"/></g><g class="y"><circle cx="114.4" cy="353.3" r="2.1"/></g><g class="n"><circle cx="117" cy="350.4" r="2.1"/><circle cx="120.2" cy="348" r="2.1"/></g><g class="y"><circle cx="123.9" cy="346.5" r="2.1"/></g><g class="n"><circle cx="127.7" cy="374.6" r="2.1"/><circle cx="123.8" cy="373.8" r="2.1"/><circle cx="120.3" cy="371.9" r="2.1"/><circle cx="117.4" cy="369.1" r="2.1"/><circle cx="115.4" cy="365.7" r="2.1"/><circle cx="115" cy="361.7" r="2.1"/><circle cx="115.7" cy="357.8" r="2.1"/><circle cx="117.4" cy="354.2" r="2.1"/><circle cx="120.1" cy="351.3" r="2.1"/><circle cx="123.7" cy="349.6" r="2.1"/><circle cx="127.7" cy="349" r="2.1"/><circle cx="131.7" cy="349.6" r="2.1"/><circle cx="135.3" cy="351.3" r="2.1"/><circle cx="138" cy="354.2" r="2.1"/><circle cx="139.7" cy="357.8" r="2.1"/><circle cx="140.4" cy="361.7" r="2.1"/><circle cx="140" cy="365.7" r="2.1"/><circle cx="138" cy="369.1" r="2.1"/><circle cx="135.1" cy="371.9" r="2.1"/><circle cx="131.6" cy="373.8" r="2.1"/></g><g class="y"><circle cx="127.7" cy="371.4" r="2.1"/></g><g class="n"><circle cx="123.8" cy="370.4" r="2.1"/><circle cx="120.6" cy="368.1" r="2.1"/></g><g class="y"><circle cx="118.5" cy="364.7" r="2.1"/></g><g class="n"><circle cx="118.2" cy="360.7" r="2.1"/><circle cx="119.5" cy="356.9" r="2.1"/></g><g class="y"><circle cx="122" cy="353.9" r="2.1"/></g><g class="n"><circle cx="125.7" cy="352.4" r="2.1"/><circle cx="129.7" cy="352.4" r="2.1"/></g><g class="y"><circle cx="133.4" cy="353.9" r="2.1"/></g><g class="n"><circle cx="135.9" cy="356.9" r="2.1"/><circle cx="137.2" cy="360.7" r="2.1"/></g><g class="y"><circle cx="136.9" cy="364.7" r="2.1"/></g><g class="n"><circle cx="134.8" cy="368.1" r="2.1"/><circle cx="131.6" cy="370.4" r="2.1"/><circle cx="127.7" cy="368.2" r="2.1"/><circle cx="123.9" cy="367" r="2.1"/><circle cx="121.5" cy="363.7" r="2.1"/><circle cx="121.5" cy="359.7" r="2.1"/><circle cx="123.9" cy="356.4" r="2.1"/><circle cx="127.7" cy="355.2" r="2.1"/><circle cx="131.5" cy="356.4" r="2.1"/><circle cx="133.9" cy="359.7" r="2.1"/><circle cx="133.9" cy="363.7" r="2.1"/><circle cx="131.5" cy="367" r="2.1"/><circle cx="127.7" cy="358.4" r="2.1"/><circle cx="130.8" cy="360.7" r="2.1"/><circle cx="129.6" cy="364.4" r="2.1"/><circle cx="125.8" cy="364.4" r="2.1"/><circle cx="124.6" cy="360.7" r="2.1"/><circle cx="127.7" cy="361.7" r="2.1"/></g><circle cx="127.7" cy="361.7" r="26.6" fill="url(#sh)"/><polygon fill="#3d7845" points="187.7,349.4 209.5,349.4 224.8,364.7 224.8,386.5 209.5,401.8 187.7,401.8 172.4,386.5 172.4,364.7"/><path d="M203.8 353.8h0m2.1 2h0m2.1 2.1h0m2 2.1h0m-10.4 2.1h0m12.5 0h0m-10.4 2.1h0m12.5 0h0m-10.4 2h0m12.5 0h0m-10.4 2.1h0m12.5 0h0m-10.4 2.1h0m12.4 0h0m-10.4 2.1h0m-10.4 2.1h0m12.5 0h0m-27 2h0m12.5 0h0m-10.4 2.1h0m-10.4 2.1h0m12.4 0h0m-10.4 2.1h0m12.5 0h0m-10.4 2.1h0m12.5 0h0m-10.4 2h0m12.5 0h0m-10.4 2.1h0m12.5 0h0m-10.4 2.1h0m2 2.1h0m2.1 2.1h0m2.1 2h0" stroke="#a9a9b2" stroke-width="2" stroke-linecap="round" fill="none"/><path d="M189.2 351.7h0m4.2 0h0m4.2 0h0m4.1 0h0m4.2 0h0m4.1 0h0m-22.8 2.1h0m4.1 0h0m4.2 0h0m4.1 0h0m8.4 0h0m4.1 0h0m-27 2h0m4.1 0h0m4.2 0h0m4.2 0h0m4.1 0h0m8.3 0h0m4.2 0h0m-31.2 2.1h0m4.2 0h0m4.1 0h0m4.2 0h0m4.1 0h0m4.2 0h0m8.3 0h0m4.2 0h0m-35.4 2.1h0m4.2 0h0m4.1 0h0m4.2 0h0m4.2 0h0m4.1 0h0m4.2 0h0m8.3 0h0m4.2 0h0m-39.6 2.1h0m4.2 0h0m4.2 0h0m4.1 0h0m4.2 0h0m8.3 0h0m4.2 0h0m8.3 0h0m4.1 0h0m-43.6 2.1h0m4.1 0h0m4.2 0h0m4.1 0h0m4.2 0h0m4.2 0h0m8.3 0h0m4.1 0h0m8.4 0h0m4.1 0h0m-47.8 2h0m4.1 0h0m4.2 0h0m4.2 0h0m4.1 0h0m4.2 0h0m4.1 0h0m8.4 0h0m4.1 0h0m8.3 0h0m-43.6 2.1h0m4.1 0h0m4.2 0h0m4.1 0h0m4.2 0h0m4.2 0h0m4.1 0h0m8.3 0h0m4.2 0h0m8.3 0h0m-47.8 2.1h0m4.1 0h0m4.2 0h0m4.2 0h0m4.1 0h0m4.2 0h0m4.1 0h0m4.2 0h0m8.3 0h0m4.2 0h0m-39.5 2.1h0m4.1 0h0m4.2 0h0m4.1 0h0m4.2 0h0m4.2 0h0m4.1 0h0m4.2 0h0m8.3 0h0m4.2 0h0m4.1 0h0m-47.8 2.1h0m4.1 0h0m4.2 0h0m4.2 0h0m4.1 0h0m4.2 0h0m8.3 0h0m4.2 0h0m8.3 0h0m4.1 0h0m-43.6 2h0m4.1 0h0m8.3 0h0m4.2 0h0m8.3 0h0m4.2 0h0m4.1 0h0m4.2 0h0m4.2 0h0m4.1 0h0m-47.8 2.1h0m4.1 0h0m4.2 0h0m8.3 0h0m4.2 0h0m4.1 0h0m4.2 0h0m4.2 0h0m4.1 0h0m4.2 0h0m4.1 0h0m-39.5 2.1h0m4.2 0h0m8.3 0h0m4.2 0h0m4.1 0h0m4.2 0h0m4.1 0h0m4.2 0h0m4.2 0h0m4.1 0h0m-47.8 2.1h0m8.3 0h0m4.2 0h0m8.3 0h0m4.1 0h0m4.2 0h0m4.2 0h0m4.1 0h0m4.2 0h0m4.1 0h0m-43.6 2.1h0m8.3 0h0m4.1 0h0m8.4 0h0m4.1 0h0m4.2 0h0m4.1 0h0m4.2 0h0m4.2 0h0m4.1 0h0m-47.8 2h0m4.1 0h0m8.4 0h0m4.1 0h0m8.3 0h0m4.2 0h0m4.2 0h0m4.1 0h0m4.2 0h0m4.1 0h0m-43.6 2.1h0m4.1 0h0m8.3 0h0m4.2 0h0m8.3 0h0m4.2 0h0m4.1 0h0m4.2 0h0m4.2 0h0m-39.6 2.1h0m4.2 0h0m8.3 0h0m4.2 0h0m4.1 0h0m4.2 0h0m4.2 0h0m4.1 0h0m4.2 0h0m-35.4 2.1h0m4.2 0h0m8.3 0h0m4.2 0h0m4.1 0h0m4.2 0h0m4.1 0h0m4.2 0h0m-31.2 2.1h0m4.2 0h0m8.3 0h0m4.1 0h0m4.2 0h0m4.2 0h0m4.1 0h0m-27 2h0m4.1 0h0m8.4 0h0m4.1 0h0m4.2 0h0m4.1 0h0m-22.8 2.1h0m4.1 0h0m4.2 0h0m4.1 0h0m4.2 0h0m4.2 0h0" stroke="#5cb864" stroke-width="2" stroke-linecap="round" fill="none"/><path d="M193.4 353.8h0m-2.1 2h0m-2.1 2.1h0m-2 2.1h0m-2.1 2.1h0m12.5 0h0m-14.6 2.1h0m12.5 0h0m-14.6 2h0m12.5 0h0m-14.6 2.1h0m12.5 0h0m-14.5 2.1h0m12.4 0h0m-2 2.1h0m-2.1 2.1h0m12.5 0h0m2 2h0m12.5 0h0m-2.1 2.1h0m-2 2.1h0m12.4 0h0m-14.5 2.1h0m12.5 0h0m-14.6 2.1h0m12.5 0h0m-14.6 2h0m12.5 0h0m-14.6 2.1h0m12.5 0h0m-2.1 2.1h0m-2 2.1h0m-2.1 2.1h0m-2.1 2h0" stroke="#a9a9b2" stroke-width="2" stroke-linecap="round" fill="none"/><path d="M187.2 351.7h0m4.1 0h0m4.2 0h0m4.1 0h0m4.2 0h0m4.2 0h0m-22.9 2.1h0m24.9 0h0m-27 2h0m29.1 0h0m-31.2 2.1h0m33.3 0h0m-35.4 2.1h0m37.5 0h0m-39.5 2.1h0m41.6 0h0m-43.7 2.1h0m45.7 0h0m2.1 2h0m-47.8 2.1h0m47.8 2.1h0m-47.8 2.1h0m47.8 2.1h0m-47.8 2h0m47.8 2.1h0m-47.8 2.1h0m47.8 2.1h0m-47.8 2.1h0m2.1 2h0m45.7 0h0m-43.7 2.1h0m41.6 0h0m-39.5 2.1h0m37.5 0h0m-35.4 2.1h0m33.3 0h0m-31.2 2.1h0m29.1 0h0m-27 2h0m24.9 0h0m-22.9 2.1h0m4.2 0h0m4.2 0h0m4.1 0h0m4.2 0h0m4.1 0h0" stroke="#c4c4cc" stroke-width="2" stroke-linecap="round" fill="none"/><path d="M189.2 353.8h0m8.4 0h0m4.1 0h0m4.2 0h0m-18.7 2h0m8.3 0h0m4.1 0h0m4.2 0h0m4.2 0h0m-22.9 2.1h0m8.3 0h0m4.2 0h0m4.1 0h0m4.2 0h0m4.1 0h0m-27 2.1h0m8.3 0h0m4.2 0h0m4.1 0h0m4.2 0h0m4.2 0h0m4.1 0h0m-31.2 2.1h0m8.3 0h0m4.2 0h0m8.3 0h0m4.2 0h0m4.1 0h0m4.2 0h0m-35.4 2.1h0m8.4 0h0m4.1 0h0m8.3 0h0m4.2 0h0m4.2 0h0m4.1 0h0m4.2 0h0m-39.5 2h0m8.3 0h0m4.1 0h0m8.4 0h0m4.1 0h0m4.2 0h0m4.1 0h0m4.2 0h0m4.2 0h0m-35.4 2.1h0m4.2 0h0m8.3 0h0m4.1 0h0m4.2 0h0m4.2 0h0m4.1 0h0m4.2 0h0m4.1 0h0m-39.5 2.1h0m4.2 0h0m8.3 0h0m4.2 0h0m4.1 0h0m4.2 0h0m4.1 0h0m4.2 0h0m4.2 0h0m-39.6 2.1h0m4.2 0h0m8.3 0h0m4.2 0h0m4.1 0h0m4.2 0h0m4.2 0h0m4.1 0h0m4.2 0h0m4.1 0h0m-43.6 2.1h0m4.1 0h0m8.3 0h0m4.2 0h0m8.3 0h0m4.2 0h0m4.1 0h0m4.2 0h0m4.2 0h0m-39.6 2h0m4.2 0h0m4.2 0h0m4.1 0h0m4.2 0h0m8.3 0h0m4.2 0h0m8.3 0h0m4.1 0h0m-43.6 2.1h0m4.1 0h0m4.2 0h0m4.1 0h0m4.2 0h0m4.2 0h0m4.1 0h0m4.2 0h0m8.3 0h0m4.2 0h0m-39.6 2.1h0m4.2 0h0m4.2 0h0m4.1 0h0m4.2 0h0m4.1 0h0m4.2 0h0m8.3 0h0m4.2 0h0m-39.5 2.1h0m4.1 0h0m4.2 0h0m4.1 0h0m4.2 0h0m4.2 0h0m4.1 0h0m8.3 0h0m4.2 0h0m-35.4 2.1h0m4.2 0h0m4.2 0h0m4.1 0h0m4.2 0h0m4.1 0h0m8.4 0h0m4.1 0h0m8.3 0h0m-39.5 2h0m4.2 0h0m4.1 0h0m4.2 0h0m4.2 0h0m8.3 0h0m4.1 0h0m8.4 0h0m-35.4 2.1h0m4.2 0h0m4.1 0h0m4.2 0h0m8.3 0h0m4.2 0h0m8.3 0h0m-31.2 2.1h0m4.1 0h0m4.2 0h0m4.2 0h0m4.1 0h0m4.2 0h0m8.3 0h0m-27 2.1h0m4.1 0h0m4.2 0h0m4.1 0h0m4.2 0h0m8.3 0h0m-22.9 2.1h0m4.2 0h0m4.2 0h0m4.1 0h0m8.3 0h0m-18.7 2h0m4.2 0h0m4.1 0h0m8.4 0h0" stroke="#5cb864" stroke-width="2" stroke-linecap="round" fill="none"/>
<rect x="25.8" y="335.9" width="200.9" height="149" fill="none" stroke="#484848" stroke-width="0.6"/>
<text class="t" text-anchor="middle" x="30.7" y="494.8">1.5</text>
<text class="t" text-anchor="middle" x="57.8" y="494.8">2.0</text>
<text class="t" text-anchor="middle" x="85" y="494.8">2.5</text>
<text class="t" text-anchor="middle" x="112.1" y="494.8">3.0</text>
<text class="t" text-anchor="middle" x="139.2" y="494.8">3.5</text>
<text class="t" text-anchor="middle" x="166.4" y="494.8">4.0</text>
<text class="t" text-anchor="middle" x="193.5" y="494.8">4.5</text>
<text class="t" text-anchor="middle" x="220.6" y="494.8">5.0</text>
<text class="t" text-anchor="end" x="21.3" y="488.3">0.5</text>
<text class="t" text-anchor="end" x="21.3" y="458.5">1.0</text>
<text class="t" text-anchor="end" x="21.3" y="428.7">1.5</text>
<text class="t" text-anchor="end" x="21.3" y="398.9">2.0</text>
<text class="t" text-anchor="end" x="21.3" y="369.1">2.5</text>
<text class="t" text-anchor="end" x="21.3" y="339.3">3.0</text>
<path d="M30.7 484.9v3.2M57.8 484.9v3.2M85 484.9v3.2M112.1 484.9v3.2M139.2 484.9v3.2M166.4 484.9v3.2M193.5 484.9v3.2M220.6 484.9v3.2M25.8 484.9h-3.2M25.8 455.1h-3.2M25.8 425.3h-3.2M25.8 395.5h-3.2M25.8 365.7h-3.2M25.8 335.9h-3.2" stroke="#484848" stroke-width="0.6" fill="none"/>
<text class="t" text-anchor="middle" x="126.3" y="333.5" style="font-size:7.4px">Pt<tspan class="s" dy="1.3">0.33</tspan><tspan dy="-1.3">Ni</tspan><tspan class="s" dy="1.3">0.67</tspan></text>
<text class="L" x="28.3" y="349">g</text>
<text class="t" text-anchor="middle" transform="translate(6.9 410.4) rotate(-90)" style="font-size:7.2px">Δ (eV·atom<tspan class="s" dy="-2.6">−2/3</tspan><tspan dy="2.6">)</tspan></text>
<text class="t" text-anchor="middle" x="126.3" y="503.3" style="font-size:7.2px"><tspan style="font-family:'DejaVu Serif','Liberation Serif',serif;font-style:italic">D</tspan><tspan style="font-family:'DejaVu Serif','Liberation Serif',serif"> = 0.315</tspan><tspan style="font-family:'DejaVu Serif','Liberation Serif',serif;font-style:italic">N</tspan><tspan class="s" dy="-2.6">1/3</tspan><tspan dy="2.6"> (nm)</tspan></text>
</g>
<g id="panel-h">
<polyline fill="none" stroke="#1f77b4" stroke-width="0.9" stroke-linejoin="round" points="244.9,366 256.4,376.1 272.2,383.8 287.9,390.7 299.1,393.3 308.8,393.5 315.2,398.9 325.5,399.7 331.1,404.7 342.1,405.3 358,412.9 373.8,413.4 385,417.1 401.1,419.3 416.8,424.9 427.9,422.5"/>
<g fill="#1f77b4"><circle cx="244.9" cy="366" r="0.9"/><circle cx="256.4" cy="376.1" r="0.9"/><circle cx="272.2" cy="383.8" r="0.9"/><circle cx="287.9" cy="390.7" r="0.9"/><circle cx="299.1" cy="393.3" r="0.9"/><circle cx="308.8" cy="393.5" r="0.9"/><circle cx="315.2" cy="398.9" r="0.9"/><circle cx="325.5" cy="399.7" r="0.9"/><circle cx="331.1" cy="404.7" r="0.9"/><circle cx="342.1" cy="405.3" r="0.9"/><circle cx="358" cy="412.9" r="0.9"/><circle cx="373.8" cy="413.4" r="0.9"/><circle cx="385" cy="417.1" r="0.9"/><circle cx="401.1" cy="419.3" r="0.9"/><circle cx="416.8" cy="424.9" r="0.9"/><circle cx="427.9" cy="422.5" r="0.9"/></g>
<polyline fill="none" stroke="#ff7f0e" stroke-width="0.9" stroke-linejoin="round" points="246.3,352 271.7,366.5 297.1,374.8 322.4,383.7 347.8,391.2 373.3,397.8 398.7,403.2 424,407.7"/>
<g fill="#ff7f0e"><circle cx="246.3" cy="352" r="0.9"/><circle cx="271.7" cy="366.5" r="0.9"/><circle cx="297.1" cy="374.8" r="0.9"/><circle cx="322.4" cy="383.7" r="0.9"/><circle cx="347.8" cy="391.2" r="0.9"/><circle cx="373.3" cy="397.8" r="0.9"/><circle cx="398.7" cy="403.2" r="0.9"/><circle cx="424" cy="407.7" r="0.9"/></g>
<polyline fill="none" stroke="#2ca02c" stroke-width="0.9" stroke-linejoin="round" points="246.3,374.2 271.7,384.5 297.1,394.1 322.4,402.3 347.8,408.5 373.3,415.4 398.7,419.8 424.4,427"/>
<g fill="#2ca02c"><circle cx="246.3" cy="374.2" r="0.9"/><circle cx="271.7" cy="384.5" r="0.9"/><circle cx="297.1" cy="394.1" r="0.9"/><circle cx="322.4" cy="402.3" r="0.9"/><circle cx="347.8" cy="408.5" r="0.9"/><circle cx="373.3" cy="415.4" r="0.9"/><circle cx="398.7" cy="419.8" r="0.9"/><circle cx="424.4" cy="427" r="0.9"/></g>
<polyline fill="none" stroke="#d62728" stroke-width="0.9" stroke-linejoin="round" points="254.8,369.7 262.2,369.1 273,373.2 285.5,383.7 293.5,385.6 303.8,389 312.6,391.4 320.7,393 342.8,400.5 369.8,408.5 400.3,411.8 427.6,418.2"/>
<g fill="#d62728"><circle cx="254.8" cy="369.7" r="0.9"/><circle cx="262.2" cy="369.1" r="0.9"/><circle cx="273" cy="373.2" r="0.9"/><circle cx="285.5" cy="383.7" r="0.9"/><circle cx="293.5" cy="385.6" r="0.9"/><circle cx="303.8" cy="389" r="0.9"/><circle cx="312.6" cy="391.4" r="0.9"/><circle cx="320.7" cy="393" r="0.9"/><circle cx="342.8" cy="400.5" r="0.9"/><circle cx="369.8" cy="408.5" r="0.9"/><circle cx="400.3" cy="411.8" r="0.9"/><circle cx="427.6" cy="418.2" r="0.9"/></g>
<line x1="271.4" y1="384.2" x2="266.2" y2="403.8" stroke="#0a0a0a" stroke-width="0.9" stroke-dasharray="3 1.3"/>
<line x1="322.7" y1="400.5" x2="321.1" y2="419.4" stroke="#0a0a0a" stroke-width="0.9" stroke-dasharray="3 1.3"/>
<line x1="413.9" y1="393.3" x2="424.4" y2="427" stroke="#0a0a0a" stroke-width="0.9" stroke-dasharray="3 1.3"/>
<line x1="374" y1="414.5" x2="384.1" y2="432.5" stroke="#0a0a0a" stroke-width="0.9" stroke-dasharray="3 1.3"/>
<polygon points="284.8,444.1 261.9,457.3 239,444.1 239,417.6 261.9,404.3 284.8,417.6" fill="#3f7a47" stroke="#3f7a47" stroke-width="2" stroke-linejoin="round"/><g class="y"><circle cx="261.9" cy="405.3" r="3.25"/></g><g class="n"><circle cx="239.1" cy="419.6" r="3.25"/><circle cx="284.7" cy="419.6" r="3.25"/><circle cx="239.1" cy="441" r="3.25"/><circle cx="284.7" cy="441" r="3.25"/><circle cx="261.9" cy="455.2" r="3.25"/></g><g class="y"><circle cx="239.1" cy="426.7" r="3.25"/><circle cx="284.7" cy="426.7" r="3.25"/></g><g class="n"><circle cx="239.1" cy="433.9" r="3.25"/><circle cx="284.7" cy="433.9" r="3.25"/><circle cx="256.2" cy="408.9" r="3.25"/><circle cx="267.6" cy="408.9" r="3.25"/></g><g class="y"><circle cx="244.8" cy="416" r="3.25"/><circle cx="279" cy="416" r="3.25"/></g><g class="n"><circle cx="244.8" cy="444.6" r="3.25"/><circle cx="279" cy="444.6" r="3.25"/></g><g class="y"><circle cx="256.2" cy="451.7" r="3.25"/><circle cx="267.6" cy="451.7" r="3.25"/></g><g class="n"><circle cx="250.5" cy="412.5" r="3.25"/><circle cx="273.3" cy="412.5" r="3.25"/><circle cx="250.5" cy="448.1" r="3.25"/><circle cx="273.3" cy="448.1" r="3.25"/><circle cx="244.8" cy="423.2" r="3.25"/><circle cx="279" cy="423.2" r="3.25"/><circle cx="244.8" cy="437.4" r="3.25"/><circle cx="279" cy="437.4" r="3.25"/><circle cx="261.9" cy="412.5" r="3.25"/><circle cx="261.9" cy="448.1" r="3.25"/><circle cx="244.8" cy="430.3" r="3.25"/><circle cx="279" cy="430.3" r="3.25"/><circle cx="273.3" cy="419.6" r="3.25"/><circle cx="250.5" cy="419.6" r="3.25"/><circle cx="256.2" cy="416" r="3.25"/><circle cx="267.6" cy="416" r="3.25"/><circle cx="250.5" cy="441" r="3.25"/><circle cx="273.3" cy="441" r="3.25"/><circle cx="256.2" cy="444.6" r="3.25"/><circle cx="267.6" cy="444.6" r="3.25"/><circle cx="250.5" cy="426.7" r="3.25"/><circle cx="273.3" cy="426.7" r="3.25"/><circle cx="250.5" cy="433.9" r="3.25"/><circle cx="273.3" cy="433.9" r="3.25"/><circle cx="261.9" cy="419.6" r="3.25"/><circle cx="261.9" cy="441" r="3.25"/><circle cx="256.2" cy="423.2" r="3.25"/><circle cx="267.6" cy="423.2" r="3.25"/><circle cx="256.2" cy="437.4" r="3.25"/><circle cx="267.6" cy="437.4" r="3.25"/><circle cx="256.2" cy="430.3" r="3.25"/><circle cx="267.6" cy="430.3" r="3.25"/><circle cx="261.9" cy="426.7" r="3.25"/><circle cx="261.9" cy="433.9" r="3.25"/></g><polygon points="344.5,463.1 321.3,476.5 298.1,463.1 298.1,436.3 321.3,422.9 344.5,436.3" fill="#3f7a47" stroke="#3f7a47" stroke-width="2.5" stroke-linejoin="round"/><g class="y"><circle cx="321.3" cy="424.8" r="2.42"/><circle cx="321.3" cy="474.6" r="2.42"/><circle cx="299.7" cy="437.2" r="2.42"/></g><g class="n"><circle cx="299.7" cy="462.2" r="2.1"/></g><g class="y"><circle cx="342.9" cy="437.2" r="2.42"/></g><g class="n"><circle cx="342.9" cy="462.2" r="2.1"/></g><g class="y"><circle cx="302.8" cy="463.9" r="2.42"/></g><g class="n"><circle cx="339.8" cy="435.5" r="2.1"/><circle cx="299.7" cy="440.8" r="2.1"/></g><g class="y"><circle cx="299.7" cy="458.6" r="2.42"/></g><g class="n"><circle cx="302.8" cy="435.5" r="2.1"/></g><g class="y"><circle cx="318.2" cy="426.6" r="2.42"/></g><g class="n"><circle cx="318.2" cy="472.8" r="2.1"/></g><g class="y"><circle cx="324.4" cy="426.6" r="2.42"/></g><g class="n"><circle cx="324.4" cy="472.8" r="2.1"/></g><g class="y"><circle cx="339.8" cy="463.9" r="2.42"/></g><g class="n"><circle cx="342.9" cy="440.8" r="2.1"/></g><g class="y"><circle cx="342.9" cy="458.6" r="2.42"/></g><g class="n"><circle cx="315.1" cy="471.1" r="2.1"/><circle cx="327.5" cy="428.3" r="2.1"/><circle cx="305.9" cy="465.7" r="2.1"/><circle cx="336.7" cy="433.7" r="2.1"/><circle cx="315.1" cy="428.3" r="2.1"/><circle cx="327.5" cy="471.1" r="2.1"/><circle cx="299.7" cy="444.4" r="2.1"/><circle cx="299.7" cy="455" r="2.1"/><circle cx="305.9" cy="433.7" r="2.1"/><circle cx="336.7" cy="465.7" r="2.1"/><circle cx="342.9" cy="444.4" r="2.1"/><circle cx="342.9" cy="455" r="2.1"/></g><g class="y"><circle cx="312.1" cy="469.3" r="2.42"/></g><g class="n"><circle cx="330.5" cy="430.1" r="2.1"/></g><g class="y"><circle cx="309" cy="431.9" r="2.42"/></g><g class="n"><circle cx="309" cy="467.5" r="2.1"/></g><g class="y"><circle cx="333.6" cy="431.9" r="2.42"/></g><g class="n"><circle cx="333.6" cy="467.5" r="2.1"/></g><g class="y"><circle cx="299.7" cy="447.9" r="2.42"/></g><g class="n"><circle cx="299.7" cy="451.5" r="2.1"/><circle cx="312.1" cy="430.1" r="2.1"/></g><g class="y"><circle cx="330.5" cy="469.3" r="2.42"/><circle cx="342.9" cy="447.9" r="2.42"/></g><g class="n"><circle cx="342.9" cy="451.5" r="2.1"/><circle cx="302.8" cy="439" r="2.1"/><circle cx="302.8" cy="460.4" r="2.1"/><circle cx="321.3" cy="428.3" r="2.1"/><circle cx="321.3" cy="471.1" r="2.1"/><circle cx="339.8" cy="439" r="2.1"/><circle cx="339.8" cy="460.4" r="2.1"/><circle cx="302.8" cy="456.8" r="2.1"/><circle cx="318.2" cy="430.1" r="2.1"/><circle cx="324.4" cy="469.3" r="2.1"/><circle cx="339.8" cy="442.6" r="2.1"/><circle cx="302.8" cy="442.6" r="2.1"/><circle cx="339.8" cy="456.8" r="2.1"/><circle cx="305.9" cy="437.2" r="2.1"/><circle cx="305.9" cy="462.2" r="2.1"/><circle cx="318.2" cy="469.3" r="2.1"/><circle cx="324.4" cy="430.1" r="2.1"/><circle cx="336.7" cy="437.2" r="2.1"/><circle cx="336.7" cy="462.2" r="2.1"/><circle cx="302.8" cy="446.1" r="2.1"/><circle cx="302.8" cy="453.3" r="2.1"/><circle cx="315.1" cy="431.9" r="2.1"/><circle cx="315.1" cy="467.5" r="2.1"/><circle cx="327.5" cy="431.9" r="2.1"/><circle cx="327.5" cy="467.5" r="2.1"/><circle cx="339.8" cy="446.1" r="2.1"/><circle cx="339.8" cy="453.3" r="2.1"/><circle cx="309" cy="435.5" r="2.1"/><circle cx="333.6" cy="463.9" r="2.1"/><circle cx="309" cy="463.9" r="2.1"/><circle cx="333.6" cy="435.5" r="2.1"/><circle cx="302.8" cy="449.7" r="2.1"/><circle cx="312.1" cy="433.7" r="2.1"/><circle cx="312.1" cy="465.7" r="2.1"/><circle cx="330.5" cy="433.7" r="2.1"/><circle cx="330.5" cy="465.7" r="2.1"/><circle cx="339.8" cy="449.7" r="2.1"/><circle cx="321.3" cy="431.9" r="2.1"/><circle cx="321.3" cy="467.5" r="2.1"/><circle cx="305.9" cy="440.8" r="2.1"/><circle cx="305.9" cy="458.6" r="2.1"/><circle cx="336.7" cy="440.8" r="2.1"/><circle cx="336.7" cy="458.6" r="2.1"/><circle cx="318.2" cy="433.7" r="2.1"/><circle cx="318.2" cy="465.7" r="2.1"/><circle cx="324.4" cy="433.7" r="2.1"/><circle cx="324.4" cy="465.7" r="2.1"/><circle cx="305.9" cy="444.4" r="2.1"/><circle cx="305.9" cy="455" r="2.1"/><circle cx="309" cy="439" r="2.1"/><circle cx="309" cy="460.4" r="2.1"/><circle cx="333.6" cy="439" r="2.1"/><circle cx="333.6" cy="460.4" r="2.1"/><circle cx="336.7" cy="444.4" r="2.1"/><circle cx="336.7" cy="455" r="2.1"/></g><g class="y"><circle cx="312.1" cy="437.2" r="2.42"/></g><g class="n"><circle cx="312.1" cy="462.2" r="2.1"/><circle cx="315.1" cy="435.5" r="2.1"/><circle cx="315.1" cy="463.9" r="2.1"/><circle cx="327.5" cy="435.5" r="2.1"/><circle cx="327.5" cy="463.9" r="2.1"/></g><g class="y"><circle cx="330.5" cy="437.2" r="2.42"/></g><g class="n"><circle cx="330.5" cy="462.2" r="2.1"/></g><g class="y"><circle cx="305.9" cy="447.9" r="2.42"/></g><g class="n"><circle cx="305.9" cy="451.5" r="2.1"/></g><g class="y"><circle cx="336.7" cy="447.9" r="2.42"/></g><g class="n"><circle cx="336.7" cy="451.5" r="2.1"/><circle cx="321.3" cy="435.5" r="2.1"/><circle cx="321.3" cy="463.9" r="2.1"/><circle cx="309" cy="442.6" r="2.1"/><circle cx="309" cy="456.8" r="2.1"/><circle cx="333.6" cy="442.6" r="2.1"/><circle cx="333.6" cy="456.8" r="2.1"/><circle cx="318.2" cy="462.2" r="2.1"/><circle cx="324.4" cy="437.2" r="2.1"/><circle cx="312.1" cy="440.8" r="2.1"/><circle cx="312.1" cy="458.6" r="2.1"/><circle cx="330.5" cy="440.8" r="2.1"/><circle cx="330.5" cy="458.6" r="2.1"/><circle cx="309" cy="446.1" r="2.1"/><circle cx="309" cy="453.3" r="2.1"/><circle cx="318.2" cy="437.2" r="2.1"/><circle cx="324.4" cy="462.2" r="2.1"/><circle cx="333.6" cy="446.1" r="2.1"/><circle cx="333.6" cy="453.3" r="2.1"/><circle cx="309" cy="449.7" r="2.1"/><circle cx="315.1" cy="439" r="2.1"/></g><g class="y"><circle cx="315.1" cy="460.4" r="2.42"/></g><g class="n"><circle cx="327.5" cy="439" r="2.1"/></g><g class="y"><circle cx="327.5" cy="460.4" r="2.42"/></g><g class="n"><circle cx="333.6" cy="449.7" r="2.1"/><circle cx="312.1" cy="444.4" r="2.1"/><circle cx="312.1" cy="455" r="2.1"/><circle cx="321.3" cy="439" r="2.1"/><circle cx="321.3" cy="460.4" r="2.1"/><circle cx="330.5" cy="444.4" r="2.1"/><circle cx="330.5" cy="455" r="2.1"/><circle cx="312.1" cy="447.9" r="2.1"/><circle cx="312.1" cy="451.5" r="2.1"/><circle cx="318.2" cy="440.8" r="2.1"/><circle cx="318.2" cy="458.6" r="2.1"/><circle cx="324.4" cy="440.8" r="2.1"/><circle cx="324.4" cy="458.6" r="2.1"/><circle cx="330.5" cy="447.9" r="2.1"/><circle cx="330.5" cy="451.5" r="2.1"/><circle cx="315.1" cy="442.6" r="2.1"/><circle cx="327.5" cy="456.8" r="2.1"/><circle cx="315.1" cy="456.8" r="2.1"/><circle cx="327.5" cy="442.6" r="2.1"/><circle cx="321.3" cy="442.6" r="2.1"/><circle cx="321.3" cy="456.8" r="2.1"/><circle cx="315.1" cy="446.1" r="2.1"/><circle cx="315.1" cy="453.3" r="2.1"/><circle cx="327.5" cy="446.1" r="2.1"/><circle cx="327.5" cy="453.3" r="2.1"/><circle cx="315.1" cy="449.7" r="2.1"/><circle cx="318.2" cy="444.4" r="2.1"/><circle cx="318.2" cy="455" r="2.1"/><circle cx="324.4" cy="444.4" r="2.1"/><circle cx="324.4" cy="455" r="2.1"/><circle cx="327.5" cy="449.7" r="2.1"/><circle cx="321.3" cy="446.1" r="2.1"/><circle cx="321.3" cy="453.3" r="2.1"/><circle cx="318.2" cy="447.9" r="2.1"/><circle cx="318.2" cy="451.5" r="2.1"/><circle cx="324.4" cy="447.9" r="2.1"/><circle cx="324.4" cy="451.5" r="2.1"/><circle cx="321.3" cy="449.7" r="2.1"/></g><polygon points="397.6,430.7 400.6,431.2 403.6,432 406.5,433.2 409.3,434.6 412,436.3 414.4,438.3 416.6,440.5 418.6,442.9 420.3,445.5 421.8,448.3 422.2,451.3 422.3,454.4 422.2,457.5 421.7,460.6 420.8,463.6 419.7,466.6 418.3,469.4 416.6,472 414.7,474.5 412.5,476.6 409.8,478 406.9,479.1 403.8,479.9 400.7,480.4 397.6,480.5 394.5,480.4 391.4,479.9 388.3,479.1 385.4,478 382.7,476.6 380.5,474.5 378.6,472 376.9,469.4 375.5,466.6 374.4,463.6 373.5,460.6 373,457.5 372.9,454.4 373,451.3 373.4,448.3 374.9,445.5 376.6,442.9 378.6,440.5 380.8,438.3 383.2,436.3 385.9,434.6 388.7,433.2 391.6,432 394.6,431.2" fill="#4f8d57" stroke="#4f8d57" stroke-width="1.6" stroke-linejoin="round"/><g class="y"><circle cx="397.6" cy="430.7" r="1.76"/><circle cx="400.6" cy="431.2" r="1.76"/><circle cx="403.6" cy="432" r="1.76"/></g><g class="n"><circle cx="406.5" cy="433.2" r="1.35"/><circle cx="409.3" cy="434.6" r="1.35"/><circle cx="412" cy="436.3" r="1.35"/></g><g class="y"><circle cx="414.4" cy="438.3" r="1.76"/><circle cx="416.6" cy="440.5" r="1.76"/><circle cx="418.6" cy="442.9" r="1.76"/></g><g class="n"><circle cx="420.3" cy="445.5" r="1.35"/><circle cx="421.8" cy="448.3" r="1.35"/><circle cx="422.2" cy="451.3" r="1.35"/></g><g class="y"><circle cx="422.3" cy="454.4" r="1.76"/><circle cx="422.2" cy="457.5" r="1.76"/><circle cx="421.7" cy="460.6" r="1.76"/></g><g class="n"><circle cx="420.8" cy="463.6" r="1.35"/><circle cx="419.7" cy="466.6" r="1.35"/><circle cx="418.3" cy="469.4" r="1.35"/></g><g class="y"><circle cx="416.6" cy="472" r="1.76"/><circle cx="414.7" cy="474.5" r="1.76"/><circle cx="412.5" cy="476.6" r="1.76"/></g><g class="n"><circle cx="409.8" cy="478" r="1.35"/><circle cx="406.9" cy="479.1" r="1.35"/><circle cx="403.8" cy="479.9" r="1.35"/></g><g class="y"><circle cx="400.7" cy="480.4" r="1.76"/><circle cx="397.6" cy="480.5" r="1.76"/><circle cx="394.5" cy="480.4" r="1.76"/></g><g class="n"><circle cx="391.4" cy="479.9" r="1.35"/><circle cx="388.3" cy="479.1" r="1.35"/><circle cx="385.4" cy="478" r="1.35"/></g><g class="y"><circle cx="382.7" cy="476.6" r="1.76"/><circle cx="380.5" cy="474.5" r="1.76"/><circle cx="378.6" cy="472" r="1.76"/></g><g class="n"><circle cx="376.9" cy="469.4" r="1.35"/><circle cx="375.5" cy="466.6" r="1.35"/><circle cx="374.4" cy="463.6" r="1.35"/></g><g class="y"><circle cx="373.5" cy="460.6" r="1.76"/><circle cx="373" cy="457.5" r="1.76"/><circle cx="372.9" cy="454.4" r="1.76"/></g><g class="n"><circle cx="373" cy="451.3" r="1.35"/><circle cx="373.4" cy="448.3" r="1.35"/><circle cx="374.9" cy="445.5" r="1.35"/></g><g class="y"><circle cx="376.6" cy="442.9" r="1.76"/><circle cx="378.6" cy="440.5" r="1.76"/><circle cx="380.8" cy="438.3" r="1.76"/></g><g class="n"><circle cx="383.2" cy="436.3" r="1.35"/><circle cx="385.9" cy="434.6" r="1.35"/><circle cx="388.7" cy="433.2" r="1.35"/></g><g class="y"><circle cx="391.6" cy="432" r="1.76"/><circle cx="394.6" cy="431.2" r="1.76"/></g><g class="n"><circle cx="397.6" cy="433.2" r="1.35"/><circle cx="400.6" cy="433.8" r="1.35"/><circle cx="403.6" cy="434.7" r="1.35"/><circle cx="406.5" cy="435.9" r="1.35"/><circle cx="409.2" cy="437.4" r="1.35"/><circle cx="411.8" cy="439.3" r="1.35"/><circle cx="414.1" cy="441.4" r="1.35"/><circle cx="416.1" cy="443.8" r="1.35"/><circle cx="417.9" cy="446.3" r="1.35"/><circle cx="419.3" cy="449" r="1.35"/><circle cx="419.8" cy="452.1" r="1.35"/><circle cx="419.9" cy="455.2" r="1.35"/><circle cx="419.6" cy="458.3" r="1.35"/><circle cx="419" cy="461.4" r="1.35"/><circle cx="418" cy="464.4" r="1.35"/><circle cx="416.7" cy="467.2" r="1.35"/><circle cx="415.1" cy="469.9" r="1.35"/><circle cx="413.2" cy="472.4" r="1.35"/><circle cx="411" cy="474.6" r="1.35"/><circle cx="408.3" cy="475.9" r="1.35"/><circle cx="405.3" cy="477" r="1.35"/><circle cx="402.3" cy="477.7" r="1.35"/><circle cx="399.2" cy="478" r="1.35"/><circle cx="396" cy="478" r="1.35"/><circle cx="392.9" cy="477.7" r="1.35"/><circle cx="389.9" cy="477" r="1.35"/><circle cx="386.9" cy="475.9" r="1.35"/><circle cx="384.2" cy="474.6" r="1.35"/><circle cx="382" cy="472.4" r="1.35"/><circle cx="380.1" cy="469.9" r="1.35"/><circle cx="378.5" cy="467.2" r="1.35"/><circle cx="377.2" cy="464.4" r="1.35"/><circle cx="376.2" cy="461.4" r="1.35"/><circle cx="375.6" cy="458.3" r="1.35"/><circle cx="375.3" cy="455.2" r="1.35"/><circle cx="375.4" cy="452.1" r="1.35"/><circle cx="375.9" cy="449" r="1.35"/><circle cx="377.3" cy="446.3" r="1.35"/><circle cx="379.1" cy="443.8" r="1.35"/><circle cx="381.1" cy="441.4" r="1.35"/><circle cx="383.4" cy="439.3" r="1.35"/><circle cx="386" cy="437.4" r="1.35"/><circle cx="388.7" cy="435.9" r="1.35"/><circle cx="391.6" cy="434.7" r="1.35"/><circle cx="394.6" cy="433.8" r="1.35"/><circle cx="397.6" cy="435.8" r="1.35"/><circle cx="400.6" cy="436.3" r="1.35"/><circle cx="403.6" cy="437.3" r="1.35"/><circle cx="406.4" cy="438.6" r="1.35"/><circle cx="409.1" cy="440.3" r="1.35"/><circle cx="411.5" cy="442.3" r="1.35"/><circle cx="413.7" cy="444.6" r="1.35"/><circle cx="415.5" cy="447.1" r="1.35"/><circle cx="416.9" cy="449.8" r="1.35"/><circle cx="417.3" cy="452.9" r="1.35"/><circle cx="417.4" cy="456" r="1.35"/><circle cx="417" cy="459.1" r="1.35"/><circle cx="416.2" cy="462.1" r="1.35"/><circle cx="415" cy="465.1" r="1.35"/><circle cx="413.5" cy="467.8" r="1.35"/><circle cx="411.7" cy="470.3" r="1.35"/><circle cx="409.5" cy="472.5" r="1.35"/><circle cx="406.8" cy="473.9" r="1.35"/><circle cx="403.8" cy="474.8" r="1.35"/><circle cx="400.7" cy="475.4" r="1.35"/><circle cx="397.6" cy="475.6" r="1.35"/><circle cx="394.5" cy="475.4" r="1.35"/><circle cx="391.4" cy="474.8" r="1.35"/><circle cx="388.4" cy="473.9" r="1.35"/><circle cx="385.7" cy="472.5" r="1.35"/><circle cx="383.5" cy="470.3" r="1.35"/><circle cx="381.7" cy="467.8" r="1.35"/><circle cx="380.2" cy="465.1" r="1.35"/><circle cx="379" cy="462.1" r="1.35"/><circle cx="378.2" cy="459.1" r="1.35"/><circle cx="377.8" cy="456" r="1.35"/><circle cx="377.9" cy="452.9" r="1.35"/><circle cx="378.3" cy="449.8" r="1.35"/><circle cx="379.7" cy="447.1" r="1.35"/><circle cx="381.5" cy="444.6" r="1.35"/><circle cx="383.7" cy="442.3" r="1.35"/><circle cx="386.1" cy="440.3" r="1.35"/><circle cx="388.8" cy="438.6" r="1.35"/><circle cx="391.6" cy="437.3" r="1.35"/><circle cx="394.6" cy="436.3" r="1.35"/><circle cx="397.6" cy="438.3" r="1.35"/><circle cx="400.7" cy="438.8" r="1.35"/><circle cx="403.6" cy="439.8" r="1.35"/><circle cx="406.4" cy="441.2" r="1.35"/><circle cx="409" cy="443.1" r="1.35"/><circle cx="411.2" cy="445.3" r="1.35"/><circle cx="413.1" cy="447.9" r="1.35"/><circle cx="414.5" cy="450.6" r="1.35"/><circle cx="415" cy="453.7" r="1.35"/><circle cx="415" cy="456.8" r="1.35"/><circle cx="414.5" cy="459.9" r="1.35"/><circle cx="413.5" cy="462.9" r="1.35"/><circle cx="412.1" cy="465.7" r="1.35"/><circle cx="410.2" cy="468.3" r="1.35"/><circle cx="408.1" cy="470.5" r="1.35"/><circle cx="405.3" cy="471.9" r="1.35"/><circle cx="402.3" cy="472.8" r="1.35"/><circle cx="399.2" cy="473.3" r="1.35"/><circle cx="396" cy="473.3" r="1.35"/><circle cx="392.9" cy="472.8" r="1.35"/><circle cx="389.9" cy="471.9" r="1.35"/><circle cx="387.1" cy="470.5" r="1.35"/><circle cx="385" cy="468.3" r="1.35"/><circle cx="383.1" cy="465.7" r="1.35"/><circle cx="381.7" cy="462.9" r="1.35"/><circle cx="380.7" cy="459.9" r="1.35"/><circle cx="380.2" cy="456.8" r="1.35"/><circle cx="380.2" cy="453.7" r="1.35"/><circle cx="380.7" cy="450.6" r="1.35"/><circle cx="382.1" cy="447.9" r="1.35"/><circle cx="384" cy="445.3" r="1.35"/><circle cx="386.2" cy="443.1" r="1.35"/><circle cx="388.8" cy="441.2" r="1.35"/><circle cx="391.6" cy="439.8" r="1.35"/><circle cx="394.5" cy="438.8" r="1.35"/><circle cx="397.6" cy="440.9" r="1.35"/><circle cx="400.7" cy="441.3" r="1.35"/><circle cx="403.7" cy="442.4" r="1.35"/><circle cx="406.4" cy="444" r="1.35"/><circle cx="408.8" cy="446.1" r="1.35"/><circle cx="410.7" cy="448.6" r="1.35"/><circle cx="412.1" cy="451.4" r="1.35"/><circle cx="412.6" cy="454.5" r="1.35"/><circle cx="412.5" cy="457.6" r="1.35"/><circle cx="411.8" cy="460.7" r="1.35"/><circle cx="410.6" cy="463.6" r="1.35"/><circle cx="408.8" cy="466.2" r="1.35"/><circle cx="406.6" cy="468.4" r="1.35"/><circle cx="403.8" cy="469.9" r="1.35"/><circle cx="400.8" cy="470.7" r="1.35"/><circle cx="397.6" cy="471" r="1.35"/><circle cx="394.4" cy="470.7" r="1.35"/><circle cx="391.4" cy="469.9" r="1.35"/><circle cx="388.6" cy="468.4" r="1.35"/><circle cx="386.4" cy="466.2" r="1.35"/><circle cx="384.6" cy="463.6" r="1.35"/><circle cx="383.4" cy="460.7" r="1.35"/><circle cx="382.7" cy="457.6" r="1.35"/><circle cx="382.6" cy="454.5" r="1.35"/><circle cx="383.1" cy="451.4" r="1.35"/><circle cx="384.5" cy="448.6" r="1.35"/><circle cx="386.4" cy="446.1" r="1.35"/><circle cx="388.8" cy="444" r="1.35"/><circle cx="391.5" cy="442.4" r="1.35"/><circle cx="394.5" cy="441.3" r="1.35"/><circle cx="397.6" cy="443.4" r="1.35"/><circle cx="400.7" cy="443.9" r="1.35"/><circle cx="403.6" cy="445.2" r="1.35"/><circle cx="406.1" cy="447" r="1.35"/><circle cx="408.2" cy="449.4" r="1.35"/><circle cx="409.7" cy="452.2" r="1.35"/><circle cx="410.1" cy="455.3" r="1.35"/><circle cx="409.9" cy="458.4" r="1.35"/><circle cx="408.9" cy="461.4" r="1.35"/><circle cx="407.2" cy="464.1" r="1.35"/><circle cx="405.1" cy="466.4" r="1.35"/><circle cx="402.3" cy="467.8" r="1.35"/><circle cx="399.2" cy="468.5" r="1.35"/><circle cx="396" cy="468.5" r="1.35"/><circle cx="392.9" cy="467.8" r="1.35"/><circle cx="390.1" cy="466.4" r="1.35"/><circle cx="388" cy="464.1" r="1.35"/><circle cx="386.3" cy="461.4" r="1.35"/><circle cx="385.3" cy="458.4" r="1.35"/><circle cx="385.1" cy="455.3" r="1.35"/><circle cx="385.5" cy="452.2" r="1.35"/><circle cx="387" cy="449.4" r="1.35"/><circle cx="389.1" cy="447" r="1.35"/><circle cx="391.6" cy="445.2" r="1.35"/><circle cx="394.5" cy="443.9" r="1.35"/><circle cx="397.6" cy="445.9" r="1.35"/><circle cx="400.7" cy="446.6" r="1.35"/><circle cx="403.5" cy="448" r="1.35"/><circle cx="405.7" cy="450.2" r="1.35"/><circle cx="407.3" cy="453" r="1.35"/><circle cx="407.6" cy="456.1" r="1.35"/><circle cx="407.1" cy="459.2" r="1.35"/><circle cx="405.7" cy="462" r="1.35"/><circle cx="403.6" cy="464.3" r="1.35"/><circle cx="400.7" cy="465.6" r="1.35"/><circle cx="397.6" cy="466.1" r="1.35"/><circle cx="394.5" cy="465.6" r="1.35"/><circle cx="391.6" cy="464.3" r="1.35"/><circle cx="389.5" cy="462" r="1.35"/><circle cx="388.1" cy="459.2" r="1.35"/><circle cx="387.6" cy="456.1" r="1.35"/><circle cx="387.9" cy="453" r="1.35"/><circle cx="389.5" cy="450.2" r="1.35"/><circle cx="391.7" cy="448" r="1.35"/><circle cx="394.5" cy="446.6" r="1.35"/><circle cx="397.6" cy="448.5" r="1.35"/><circle cx="400.6" cy="449.2" r="1.35"/><circle cx="403.2" cy="451.1" r="1.35"/><circle cx="404.8" cy="453.7" r="1.35"/><circle cx="405.1" cy="456.9" r="1.35"/><circle cx="404.1" cy="459.9" r="1.35"/><circle cx="402.1" cy="462.3" r="1.35"/><circle cx="399.2" cy="463.4" r="1.35"/><circle cx="396" cy="463.4" r="1.35"/><circle cx="393.1" cy="462.3" r="1.35"/><circle cx="391.1" cy="459.9" r="1.35"/><circle cx="390.1" cy="456.9" r="1.35"/><circle cx="390.4" cy="453.7" r="1.35"/><circle cx="392" cy="451.1" r="1.35"/><circle cx="394.6" cy="449.2" r="1.35"/><circle cx="397.6" cy="451" r="1.35"/><circle cx="400.5" cy="452.1" r="1.35"/><circle cx="402.4" cy="454.5" r="1.35"/><circle cx="402.3" cy="457.6" r="1.35"/><circle cx="400.6" cy="460.2" r="1.35"/><circle cx="397.6" cy="461.1" r="1.35"/><circle cx="394.6" cy="460.2" r="1.35"/><circle cx="392.9" cy="457.6" r="1.35"/><circle cx="392.8" cy="454.5" r="1.35"/><circle cx="394.7" cy="452.1" r="1.35"/><circle cx="397.6" cy="453.6" r="1.35"/><circle cx="400" cy="455.3" r="1.35"/><circle cx="399.1" cy="458.2" r="1.35"/><circle cx="396.1" cy="458.2" r="1.35"/><circle cx="395.2" cy="455.3" r="1.35"/><circle cx="397.6" cy="456.1" r="1.35"/></g><circle cx="397.6" cy="456.1" r="26.9" fill="url(#sh0)"/><polygon points="403.7,339.3 406.6,339.7 409.4,340.4 412.2,341.4 414.8,342.6 417.4,344.1 419.8,345.8 422,347.8 424,349.9 425.7,352.3 427.2,354.7 428.5,357.3 429,360.2 429.2,363.1 429.2,366 428.8,368.9 428.2,371.8 427.3,374.6 426.1,377.3 424.7,379.9 423,382.3 421.1,384.5 419,386.5 416.5,387.9 413.8,389 411,389.8 408.1,390.4 405.2,390.7 402.2,390.7 399.3,390.4 396.4,389.8 393.6,389 390.9,387.9 388.4,386.5 386.3,384.5 384.4,382.3 382.7,379.9 381.3,377.3 380.1,374.6 379.2,371.8 378.6,368.9 378.2,366 378.2,363.1 378.4,360.2 378.9,357.3 380.2,354.7 381.7,352.3 383.4,349.9 385.4,347.8 387.6,345.8 390,344.1 392.6,342.6 395.2,341.4 398,340.4 400.8,339.7" fill="#66666e" stroke="#66666e" stroke-width="3.8" stroke-linejoin="round"/><g class="y"><circle cx="403.7" cy="339.3" r="1.37"/><circle cx="406.6" cy="339.7" r="1.37"/><circle cx="409.4" cy="340.4" r="1.37"/><circle cx="412.2" cy="341.4" r="1.37"/></g><g class="n"><circle cx="414.8" cy="342.6" r="1.22"/><circle cx="417.4" cy="344.1" r="1.22"/><circle cx="419.8" cy="345.8" r="1.22"/><circle cx="422" cy="347.8" r="1.22"/></g><g class="y"><circle cx="424" cy="349.9" r="1.37"/><circle cx="425.7" cy="352.3" r="1.37"/><circle cx="427.2" cy="354.7" r="1.37"/><circle cx="428.5" cy="357.3" r="1.37"/></g><g class="n"><circle cx="429" cy="360.2" r="1.22"/><circle cx="429.2" cy="363.1" r="1.22"/><circle cx="429.2" cy="366" r="1.22"/><circle cx="428.8" cy="368.9" r="1.22"/></g><g class="y"><circle cx="428.2" cy="371.8" r="1.37"/><circle cx="427.3" cy="374.6" r="1.37"/><circle cx="426.1" cy="377.3" r="1.37"/><circle cx="424.7" cy="379.9" r="1.37"/></g><g class="n"><circle cx="423" cy="382.3" r="1.22"/><circle cx="421.1" cy="384.5" r="1.22"/><circle cx="419" cy="386.5" r="1.22"/><circle cx="416.5" cy="387.9" r="1.22"/></g><g class="y"><circle cx="413.8" cy="389" r="1.37"/><circle cx="411" cy="389.8" r="1.37"/><circle cx="408.1" cy="390.4" r="1.37"/><circle cx="405.2" cy="390.7" r="1.37"/></g><g class="n"><circle cx="402.2" cy="390.7" r="1.22"/><circle cx="399.3" cy="390.4" r="1.22"/><circle cx="396.4" cy="389.8" r="1.22"/><circle cx="393.6" cy="389" r="1.22"/></g><g class="y"><circle cx="390.9" cy="387.9" r="1.37"/><circle cx="388.4" cy="386.5" r="1.37"/><circle cx="386.3" cy="384.5" r="1.37"/><circle cx="384.4" cy="382.3" r="1.37"/></g><g class="n"><circle cx="382.7" cy="379.9" r="1.22"/><circle cx="381.3" cy="377.3" r="1.22"/><circle cx="380.1" cy="374.6" r="1.22"/><circle cx="379.2" cy="371.8" r="1.22"/></g><g class="y"><circle cx="378.6" cy="368.9" r="1.37"/><circle cx="378.2" cy="366" r="1.37"/><circle cx="378.2" cy="363.1" r="1.37"/><circle cx="378.4" cy="360.2" r="1.37"/></g><g class="n"><circle cx="378.9" cy="357.3" r="1.22"/><circle cx="380.2" cy="354.7" r="1.22"/><circle cx="381.7" cy="352.3" r="1.22"/><circle cx="383.4" cy="349.9" r="1.22"/></g><g class="y"><circle cx="385.4" cy="347.8" r="1.37"/><circle cx="387.6" cy="345.8" r="1.37"/><circle cx="390" cy="344.1" r="1.37"/><circle cx="392.6" cy="342.6" r="1.37"/></g><g class="n"><circle cx="395.2" cy="341.4" r="1.22"/><circle cx="398" cy="340.4" r="1.22"/><circle cx="400.8" cy="339.7" r="1.22"/><circle cx="403.7" cy="341.7" r="1.22"/><circle cx="406.5" cy="342.2" r="1.22"/><circle cx="409.2" cy="343.1" r="1.22"/><circle cx="411.9" cy="344.2" r="1.22"/><circle cx="414.5" cy="345.5" r="1.22"/><circle cx="417" cy="347.1" r="1.22"/><circle cx="419.2" cy="349" r="1.22"/><circle cx="421.3" cy="351" r="1.22"/><circle cx="423.2" cy="353.2" r="1.22"/><circle cx="424.9" cy="355.6" r="1.22"/><circle cx="426.2" cy="358.1" r="1.22"/><circle cx="426.6" cy="360.9" r="1.22"/><circle cx="426.6" cy="363.8" r="1.22"/><circle cx="426.4" cy="366.7" r="1.22"/><circle cx="425.9" cy="369.5" r="1.22"/><circle cx="425.2" cy="372.4" r="1.22"/><circle cx="424.1" cy="375.1" r="1.22"/><circle cx="422.8" cy="377.7" r="1.22"/><circle cx="421.3" cy="380.2" r="1.22"/><circle cx="419.6" cy="382.5" r="1.22"/><circle cx="417.6" cy="384.6" r="1.22"/><circle cx="415" cy="385.8" r="1.22"/><circle cx="412.3" cy="386.7" r="1.22"/><circle cx="409.5" cy="387.4" r="1.22"/><circle cx="406.6" cy="387.8" r="1.22"/><circle cx="403.7" cy="388" r="1.22"/><circle cx="400.8" cy="387.8" r="1.22"/><circle cx="397.9" cy="387.4" r="1.22"/><circle cx="395.1" cy="386.7" r="1.22"/><circle cx="392.4" cy="385.8" r="1.22"/><circle cx="389.8" cy="384.6" r="1.22"/><circle cx="387.8" cy="382.5" r="1.22"/><circle cx="386.1" cy="380.2" r="1.22"/><circle cx="384.6" cy="377.7" r="1.22"/><circle cx="383.3" cy="375.1" r="1.22"/><circle cx="382.2" cy="372.4" r="1.22"/><circle cx="381.5" cy="369.5" r="1.22"/><circle cx="381" cy="366.7" r="1.22"/><circle cx="380.8" cy="363.8" r="1.22"/><circle cx="380.8" cy="360.9" r="1.22"/><circle cx="381.2" cy="358.1" r="1.22"/><circle cx="382.5" cy="355.6" r="1.22"/><circle cx="384.2" cy="353.2" r="1.22"/><circle cx="386.1" cy="351" r="1.22"/><circle cx="388.2" cy="349" r="1.22"/><circle cx="390.4" cy="347.1" r="1.22"/><circle cx="392.9" cy="345.5" r="1.22"/><circle cx="395.5" cy="344.2" r="1.22"/><circle cx="398.2" cy="343.1" r="1.22"/><circle cx="400.9" cy="342.2" r="1.22"/></g><g class="y"><circle cx="403.7" cy="344.1" r="1.37"/><circle cx="406.4" cy="344.8" r="1.37"/><circle cx="409.1" cy="345.8" r="1.37"/><circle cx="411.7" cy="347" r="1.37"/><circle cx="414.2" cy="348.5" r="1.37"/><circle cx="416.6" cy="350.2" r="1.37"/><circle cx="418.7" cy="352.1" r="1.37"/><circle cx="420.7" cy="354.2" r="1.37"/><circle cx="422.5" cy="356.4" r="1.37"/><circle cx="424" cy="358.8" r="1.37"/><circle cx="424.2" cy="361.6" r="1.37"/><circle cx="424.1" cy="364.5" r="1.37"/><circle cx="423.7" cy="367.3" r="1.37"/><circle cx="423" cy="370.2" r="1.37"/><circle cx="422.1" cy="372.9" r="1.37"/><circle cx="421" cy="375.6" r="1.37"/><circle cx="419.6" cy="378.1" r="1.37"/><circle cx="418" cy="380.5" r="1.37"/><circle cx="416.2" cy="382.7" r="1.37"/><circle cx="413.6" cy="383.7" r="1.37"/><circle cx="410.9" cy="384.5" r="1.37"/><circle cx="408" cy="385" r="1.37"/><circle cx="405.2" cy="385.3" r="1.37"/><circle cx="402.2" cy="385.3" r="1.37"/><circle cx="399.4" cy="385" r="1.37"/><circle cx="396.5" cy="384.5" r="1.37"/><circle cx="393.8" cy="383.7" r="1.37"/><circle cx="391.2" cy="382.7" r="1.37"/><circle cx="389.4" cy="380.5" r="1.37"/><circle cx="387.8" cy="378.1" r="1.37"/><circle cx="386.4" cy="375.6" r="1.37"/><circle cx="385.3" cy="372.9" r="1.37"/><circle cx="384.4" cy="370.2" r="1.37"/><circle cx="383.7" cy="367.3" r="1.37"/><circle cx="383.3" cy="364.5" r="1.37"/><circle cx="383.2" cy="361.6" r="1.37"/><circle cx="383.4" cy="358.8" r="1.37"/><circle cx="384.9" cy="356.4" r="1.37"/><circle cx="386.7" cy="354.2" r="1.37"/><circle cx="388.7" cy="352.1" r="1.37"/><circle cx="390.8" cy="350.2" r="1.37"/><circle cx="393.2" cy="348.5" r="1.37"/><circle cx="395.7" cy="347" r="1.37"/><circle cx="398.3" cy="345.8" r="1.37"/><circle cx="401" cy="344.8" r="1.37"/></g><g class="n"><circle cx="403.7" cy="346.4" r="1.22"/><circle cx="406.4" cy="347.2" r="1.22"/><circle cx="409.1" cy="348.2" r="1.22"/><circle cx="411.7" cy="349.5" r="1.22"/><circle cx="414.1" cy="351.1" r="1.22"/><circle cx="416.4" cy="352.9" r="1.22"/><circle cx="418.4" cy="355" r="1.22"/><circle cx="420.2" cy="357.2" r="1.22"/><circle cx="421.7" cy="359.5" r="1.22"/><circle cx="421.9" cy="362.3" r="1.22"/><circle cx="421.7" cy="365.2" r="1.22"/><circle cx="421.3" cy="368.1" r="1.22"/><circle cx="420.5" cy="370.9" r="1.22"/><circle cx="419.5" cy="373.6" r="1.22"/><circle cx="418.2" cy="376.2" r="1.22"/><circle cx="416.6" cy="378.6" r="1.22"/><circle cx="414.8" cy="380.7" r="1.22"/><circle cx="412.2" cy="381.7" r="1.22"/><circle cx="409.5" cy="382.5" r="1.22"/><circle cx="406.6" cy="382.9" r="1.22"/><circle cx="403.7" cy="383.1" r="1.22"/><circle cx="400.8" cy="382.9" r="1.22"/><circle cx="397.9" cy="382.5" r="1.22"/><circle cx="395.2" cy="381.7" r="1.22"/><circle cx="392.6" cy="380.7" r="1.22"/><circle cx="390.8" cy="378.6" r="1.22"/><circle cx="389.2" cy="376.2" r="1.22"/><circle cx="387.9" cy="373.6" r="1.22"/><circle cx="386.9" cy="370.9" r="1.22"/><circle cx="386.1" cy="368.1" r="1.22"/><circle cx="385.7" cy="365.2" r="1.22"/><circle cx="385.5" cy="362.3" r="1.22"/><circle cx="385.7" cy="359.5" r="1.22"/><circle cx="387.2" cy="357.2" r="1.22"/><circle cx="389" cy="355" r="1.22"/><circle cx="391" cy="352.9" r="1.22"/><circle cx="393.3" cy="351.1" r="1.22"/><circle cx="395.7" cy="349.5" r="1.22"/><circle cx="398.3" cy="348.2" r="1.22"/><circle cx="401" cy="347.2" r="1.22"/><circle cx="403.7" cy="348.8" r="1.22"/><circle cx="406.4" cy="349.5" r="1.22"/><circle cx="409.1" cy="350.5" r="1.22"/><circle cx="411.7" cy="351.9" r="1.22"/><circle cx="414" cy="353.6" r="1.22"/><circle cx="416.2" cy="355.6" r="1.22"/><circle cx="418" cy="357.9" r="1.22"/><circle cx="419.5" cy="360.3" r="1.22"/><circle cx="419.7" cy="363.1" r="1.22"/><circle cx="419.5" cy="366" r="1.22"/><circle cx="419" cy="368.8" r="1.22"/><circle cx="418.1" cy="371.6" r="1.22"/><circle cx="416.8" cy="374.2" r="1.22"/><circle cx="415.3" cy="376.7" r="1.22"/><circle cx="413.5" cy="378.8" r="1.22"/><circle cx="410.8" cy="379.9" r="1.22"/><circle cx="408" cy="380.6" r="1.22"/><circle cx="405.2" cy="381" r="1.22"/><circle cx="402.2" cy="381" r="1.22"/><circle cx="399.4" cy="380.6" r="1.22"/><circle cx="396.6" cy="379.9" r="1.22"/><circle cx="393.9" cy="378.8" r="1.22"/><circle cx="392.1" cy="376.7" r="1.22"/><circle cx="390.6" cy="374.2" r="1.22"/><circle cx="389.3" cy="371.6" r="1.22"/><circle cx="388.4" cy="368.8" r="1.22"/><circle cx="387.9" cy="366" r="1.22"/><circle cx="387.7" cy="363.1" r="1.22"/><circle cx="387.9" cy="360.3" r="1.22"/><circle cx="389.4" cy="357.9" r="1.22"/><circle cx="391.2" cy="355.6" r="1.22"/><circle cx="393.4" cy="353.6" r="1.22"/><circle cx="395.7" cy="351.9" r="1.22"/><circle cx="398.3" cy="350.5" r="1.22"/><circle cx="401" cy="349.5" r="1.22"/><circle cx="403.7" cy="351.2" r="1.22"/><circle cx="406.5" cy="351.8" r="1.22"/><circle cx="409.2" cy="352.9" r="1.22"/><circle cx="411.7" cy="354.4" r="1.22"/><circle cx="413.9" cy="356.3" r="1.22"/><circle cx="415.8" cy="358.6" r="1.22"/><circle cx="417.2" cy="361" r="1.22"/><circle cx="417.5" cy="363.8" r="1.22"/><circle cx="417.3" cy="366.7" r="1.22"/><circle cx="416.6" cy="369.6" r="1.22"/><circle cx="415.5" cy="372.3" r="1.22"/><circle cx="413.9" cy="374.7" r="1.22"/><circle cx="412.1" cy="376.9" r="1.22"/><circle cx="409.4" cy="378" r="1.22"/><circle cx="406.6" cy="378.7" r="1.22"/><circle cx="403.7" cy="378.9" r="1.22"/><circle cx="400.8" cy="378.7" r="1.22"/><circle cx="398" cy="378" r="1.22"/><circle cx="395.3" cy="376.9" r="1.22"/><circle cx="393.5" cy="374.7" r="1.22"/><circle cx="391.9" cy="372.3" r="1.22"/><circle cx="390.8" cy="369.6" r="1.22"/><circle cx="390.1" cy="366.7" r="1.22"/><circle cx="389.9" cy="363.8" r="1.22"/><circle cx="390.2" cy="361" r="1.22"/><circle cx="391.6" cy="358.6" r="1.22"/><circle cx="393.5" cy="356.3" r="1.22"/><circle cx="395.7" cy="354.4" r="1.22"/><circle cx="398.2" cy="352.9" r="1.22"/><circle cx="400.9" cy="351.8" r="1.22"/><circle cx="403.7" cy="353.5" r="1.22"/><circle cx="406.5" cy="354.2" r="1.22"/><circle cx="409.2" cy="355.4" r="1.22"/><circle cx="411.5" cy="357.1" r="1.22"/><circle cx="413.5" cy="359.3" r="1.22"/><circle cx="415" cy="361.7" r="1.22"/><circle cx="415.2" cy="364.6" r="1.22"/><circle cx="414.9" cy="367.5" r="1.22"/><circle cx="414" cy="370.3" r="1.22"/><circle cx="412.6" cy="372.8" r="1.22"/><circle cx="410.7" cy="375" r="1.22"/><circle cx="408" cy="376.1" r="1.22"/><circle cx="405.2" cy="376.7" r="1.22"/><circle cx="402.2" cy="376.7" r="1.22"/><circle cx="399.4" cy="376.1" r="1.22"/><circle cx="396.7" cy="375" r="1.22"/><circle cx="394.8" cy="372.8" r="1.22"/><circle cx="393.4" cy="370.3" r="1.22"/><circle cx="392.5" cy="367.5" r="1.22"/><circle cx="392.2" cy="364.6" r="1.22"/><circle cx="392.4" cy="361.7" r="1.22"/><circle cx="393.9" cy="359.3" r="1.22"/><circle cx="395.9" cy="357.1" r="1.22"/><circle cx="398.2" cy="355.4" r="1.22"/><circle cx="400.9" cy="354.2" r="1.22"/><circle cx="403.7" cy="355.9" r="1.22"/><circle cx="406.5" cy="356.6" r="1.22"/><circle cx="409.1" cy="358" r="1.22"/><circle cx="411.2" cy="360" r="1.22"/><circle cx="412.7" cy="362.5" r="1.22"/><circle cx="413" cy="365.4" r="1.22"/><circle cx="412.5" cy="368.2" r="1.22"/><circle cx="411.2" cy="370.9" r="1.22"/><circle cx="409.3" cy="373.1" r="1.22"/><circle cx="406.6" cy="374.2" r="1.22"/><circle cx="403.7" cy="374.6" r="1.22"/><circle cx="400.8" cy="374.2" r="1.22"/><circle cx="398.1" cy="373.1" r="1.22"/><circle cx="396.2" cy="370.9" r="1.22"/><circle cx="394.9" cy="368.2" r="1.22"/><circle cx="394.4" cy="365.4" r="1.22"/><circle cx="394.7" cy="362.5" r="1.22"/><circle cx="396.2" cy="360" r="1.22"/><circle cx="398.3" cy="358" r="1.22"/><circle cx="400.9" cy="356.6" r="1.22"/><circle cx="403.7" cy="358.3" r="1.22"/><circle cx="406.5" cy="359" r="1.22"/><circle cx="408.9" cy="360.7" r="1.22"/><circle cx="410.5" cy="363.2" r="1.22"/><circle cx="410.7" cy="366.1" r="1.22"/><circle cx="409.7" cy="368.9" r="1.22"/><circle cx="407.9" cy="371.2" r="1.22"/><circle cx="405.2" cy="372.2" r="1.22"/><circle cx="402.2" cy="372.2" r="1.22"/><circle cx="399.5" cy="371.2" r="1.22"/><circle cx="397.7" cy="368.9" r="1.22"/><circle cx="396.7" cy="366.1" r="1.22"/><circle cx="396.9" cy="363.2" r="1.22"/><circle cx="398.5" cy="360.7" r="1.22"/><circle cx="400.9" cy="359" r="1.22"/><circle cx="403.7" cy="360.7" r="1.22"/><circle cx="406.4" cy="361.6" r="1.22"/><circle cx="408.2" cy="363.9" r="1.22"/><circle cx="408.1" cy="366.8" r="1.22"/><circle cx="406.5" cy="369.2" r="1.22"/><circle cx="403.7" cy="370" r="1.22"/><circle cx="400.9" cy="369.2" r="1.22"/><circle cx="399.3" cy="366.8" r="1.22"/><circle cx="399.2" cy="363.9" r="1.22"/><circle cx="401" cy="361.6" r="1.22"/><circle cx="403.7" cy="363" r="1.22"/><circle cx="406" cy="364.7" r="1.22"/><circle cx="405.1" cy="367.3" r="1.22"/><circle cx="402.3" cy="367.3" r="1.22"/><circle cx="401.4" cy="364.7" r="1.22"/><circle cx="403.7" cy="365.4" r="1.22"/></g>
<rect x="232.2" y="335.9" width="200.9" height="149" fill="none" stroke="#484848" stroke-width="0.6"/>
<text class="t" text-anchor="middle" x="237.1" y="494.8">1.5</text>
<text class="t" text-anchor="middle" x="264.2" y="494.8">2.0</text>
<text class="t" text-anchor="middle" x="291.4" y="494.8">2.5</text>
<text class="t" text-anchor="middle" x="318.5" y="494.8">3.0</text>
<text class="t" text-anchor="middle" x="345.6" y="494.8">3.5</text>
<text class="t" text-anchor="middle" x="372.8" y="494.8">4.0</text>
<text class="t" text-anchor="middle" x="399.9" y="494.8">4.5</text>
<text class="t" text-anchor="middle" x="427" y="494.8">5.0</text>
<path d="M237.1 484.9v3.2M264.2 484.9v3.2M291.4 484.9v3.2M318.5 484.9v3.2M345.6 484.9v3.2M372.8 484.9v3.2M399.9 484.9v3.2M427 484.9v3.2M232.2 484.9h-3.2M232.2 455.1h-3.2M232.2 425.3h-3.2M232.2 395.5h-3.2M232.2 365.7h-3.2M232.2 335.9h-3.2" stroke="#484848" stroke-width="0.6" fill="none"/>
<text class="t" text-anchor="middle" x="332.6" y="333.5" style="font-size:7.4px">Pt<tspan class="s" dy="1.3">0.25</tspan><tspan dy="-1.3">Ni</tspan><tspan class="s" dy="1.3">0.75</tspan></text>
<text class="L" x="234.7" y="349">h</text>
<text class="t" text-anchor="middle" x="332.6" y="503.3" style="font-size:7.2px"><tspan style="font-family:'DejaVu Serif','Liberation Serif',serif;font-style:italic">D</tspan><tspan style="font-family:'DejaVu Serif','Liberation Serif',serif"> = 0.315</tspan><tspan style="font-family:'DejaVu Serif','Liberation Serif',serif;font-style:italic">N</tspan><tspan class="s" dy="-2.6">1/3</tspan><tspan dy="2.6"> (nm)</tspan></text>
</g>
<g id="panel-i">
<polyline fill="none" stroke="#1f77b4" stroke-width="0.9" stroke-linejoin="round" points="451.2,359.4 462.9,370.6 478.5,377.6 494.2,382.9 505.1,386.1 514.8,384.5 521.2,390.9 531.5,391.7 537.1,396 548.1,396.9 564,403.4 579.8,405.4 591,406.3 607.1,409.8 622.8,414.3 633.6,415.4"/>
<g fill="#1f77b4"><circle cx="451.2" cy="359.4" r="0.9"/><circle cx="462.9" cy="370.6" r="0.9"/><circle cx="478.5" cy="377.6" r="0.9"/><circle cx="494.2" cy="382.9" r="0.9"/><circle cx="505.1" cy="386.1" r="0.9"/><circle cx="514.8" cy="384.5" r="0.9"/><circle cx="521.2" cy="390.9" r="0.9"/><circle cx="531.5" cy="391.7" r="0.9"/><circle cx="537.1" cy="396" r="0.9"/><circle cx="548.1" cy="396.9" r="0.9"/><circle cx="564" cy="403.4" r="0.9"/><circle cx="579.8" cy="405.4" r="0.9"/><circle cx="591" cy="406.3" r="0.9"/><circle cx="607.1" cy="409.8" r="0.9"/><circle cx="622.8" cy="414.3" r="0.9"/><circle cx="633.6" cy="415.4" r="0.9"/></g>
<polyline fill="none" stroke="#ff7f0e" stroke-width="0.9" stroke-linejoin="round" points="452.6,347.8 478.2,359.1 503.1,368.7 528.7,369.2 553.8,383.3 579.3,386.2 604.7,392.4 630,398.9"/>
<g fill="#ff7f0e"><circle cx="452.6" cy="347.8" r="0.9"/><circle cx="478.2" cy="359.1" r="0.9"/><circle cx="503.1" cy="368.7" r="0.9"/><circle cx="528.7" cy="369.2" r="0.9"/><circle cx="553.8" cy="383.3" r="0.9"/><circle cx="579.3" cy="386.2" r="0.9"/><circle cx="604.7" cy="392.4" r="0.9"/><circle cx="630" cy="398.9" r="0.9"/></g>
<polyline fill="none" stroke="#2ca02c" stroke-width="0.9" stroke-linejoin="round" points="452.6,369.5 478.2,377.6 503.1,381.3 528.7,391.7 553.8,399 579.3,405.4 604.7,410.3 630.4,415.1"/>
<g fill="#2ca02c"><circle cx="452.6" cy="369.5" r="0.9"/><circle cx="478.2" cy="377.6" r="0.9"/><circle cx="503.1" cy="381.3" r="0.9"/><circle cx="528.7" cy="391.7" r="0.9"/><circle cx="553.8" cy="399" r="0.9"/><circle cx="579.3" cy="405.4" r="0.9"/><circle cx="604.7" cy="410.3" r="0.9"/><circle cx="630.4" cy="415.1" r="0.9"/></g>
<polyline fill="none" stroke="#d62728" stroke-width="0.9" stroke-linejoin="round" points="460.8,365 468.2,359.6 479,359.6 491.5,373.1 499.5,375.6 509.8,380.3 518.6,380 526.3,376.4 548.8,392.6 575.8,398.9 606.3,404.6 633.6,407.1"/>
<g fill="#d62728"><circle cx="460.8" cy="365" r="0.9"/><circle cx="468.2" cy="359.6" r="0.9"/><circle cx="479" cy="359.6" r="0.9"/><circle cx="491.5" cy="373.1" r="0.9"/><circle cx="499.5" cy="375.6" r="0.9"/><circle cx="509.8" cy="380.3" r="0.9"/><circle cx="518.6" cy="380" r="0.9"/><circle cx="526.3" cy="376.4" r="0.9"/><circle cx="548.8" cy="392.6" r="0.9"/><circle cx="575.8" cy="398.9" r="0.9"/><circle cx="606.3" cy="404.6" r="0.9"/><circle cx="633.6" cy="407.1" r="0.9"/></g>
<line x1="478.3" y1="377.6" x2="465.3" y2="405.7" stroke="#0a0a0a" stroke-width="0.9" stroke-dasharray="3 1.3"/>
<line x1="528.7" y1="391.7" x2="533.4" y2="418" stroke="#0a0a0a" stroke-width="0.9" stroke-dasharray="3 1.3"/>
<line x1="621.5" y1="388.9" x2="633.6" y2="415.4" stroke="#0a0a0a" stroke-width="0.9" stroke-dasharray="3 1.3"/>
<line x1="579.3" y1="405.4" x2="586.5" y2="425.8" stroke="#0a0a0a" stroke-width="0.9" stroke-dasharray="3 1.3"/>
<polygon points="456.6,409.8 474.8,409.8 488.6,423.5 488.6,441.7 474.8,455.5 456.6,455.5 442.8,441.7 442.8,423.5" fill="#3f7a47" stroke="#3f7a47" stroke-width="2.2" stroke-linejoin="round"/><g class="n"><circle cx="442.2" cy="425.7" r="2.38"/><circle cx="442.2" cy="430.3" r="2.38"/><circle cx="442.2" cy="434.9" r="2.38"/><circle cx="442.2" cy="439.5" r="2.38"/><circle cx="489.2" cy="425.7" r="2.38"/><circle cx="489.2" cy="430.3" r="2.38"/><circle cx="489.2" cy="434.9" r="2.38"/><circle cx="489.2" cy="439.5" r="2.38"/></g><g class="n"><circle cx="461.1" cy="409.8" r="2.33"/><circle cx="470.3" cy="409.8" r="2.33"/><circle cx="442.8" cy="428" r="2.33"/><circle cx="488.6" cy="428" r="2.33"/><circle cx="442.8" cy="437.2" r="2.33"/><circle cx="488.6" cy="437.2" r="2.33"/><circle cx="461.1" cy="455.5" r="2.33"/><circle cx="470.3" cy="455.5" r="2.33"/><circle cx="456.6" cy="414.3" r="2.33"/><circle cx="474.8" cy="414.3" r="2.33"/><circle cx="447.4" cy="423.5" r="2.33"/><circle cx="484" cy="423.5" r="2.33"/><circle cx="447.4" cy="441.7" r="2.33"/><circle cx="484" cy="441.7" r="2.33"/><circle cx="456.6" cy="450.9" r="2.33"/><circle cx="474.8" cy="450.9" r="2.33"/><circle cx="452" cy="418.9" r="2.33"/><circle cx="479.4" cy="418.9" r="2.33"/><circle cx="452" cy="446.3" r="2.33"/><circle cx="479.4" cy="446.3" r="2.33"/><circle cx="465.7" cy="414.3" r="2.33"/><circle cx="447.4" cy="432.6" r="2.33"/><circle cx="484" cy="432.6" r="2.33"/><circle cx="465.7" cy="450.9" r="2.33"/><circle cx="461.1" cy="418.9" r="2.33"/><circle cx="470.3" cy="418.9" r="2.33"/><circle cx="452" cy="428" r="2.33"/><circle cx="479.4" cy="428" r="2.33"/><circle cx="452" cy="437.2" r="2.33"/><circle cx="479.4" cy="437.2" r="2.33"/><circle cx="461.1" cy="446.3" r="2.33"/><circle cx="470.3" cy="446.3" r="2.33"/><circle cx="456.6" cy="423.5" r="2.33"/><circle cx="474.8" cy="423.5" r="2.33"/><circle cx="456.6" cy="441.7" r="2.33"/><circle cx="474.8" cy="441.7" r="2.33"/><circle cx="465.7" cy="423.5" r="2.33"/><circle cx="456.6" cy="432.6" r="2.33"/><circle cx="474.8" cy="432.6" r="2.33"/><circle cx="465.7" cy="441.7" r="2.33"/><circle cx="461.1" cy="428" r="2.33"/><circle cx="470.3" cy="428" r="2.33"/><circle cx="461.1" cy="437.2" r="2.33"/><circle cx="470.3" cy="437.2" r="2.33"/><circle cx="465.7" cy="432.6" r="2.33"/></g><g class="y"><circle cx="456.6" cy="409.8" r="2.7"/><circle cx="474.8" cy="409.8" r="2.7"/><circle cx="442.8" cy="423.5" r="2.7"/><circle cx="488.6" cy="423.5" r="2.7"/><circle cx="442.8" cy="441.7" r="2.7"/><circle cx="488.6" cy="441.7" r="2.7"/><circle cx="456.6" cy="455.5" r="2.7"/><circle cx="474.8" cy="455.5" r="2.7"/></g><g class="n"><circle cx="465.7" cy="409.8" r="2.7"/></g><g class="y"><circle cx="452" cy="414.3" r="2.7"/><circle cx="479.4" cy="414.3" r="2.7"/><circle cx="447.4" cy="418.9" r="2.7"/><circle cx="484" cy="418.9" r="2.7"/></g><g class="n"><circle cx="442.8" cy="432.6" r="2.7"/><circle cx="488.6" cy="432.6" r="2.7"/></g><g class="y"><circle cx="447.4" cy="446.3" r="2.7"/><circle cx="484" cy="446.3" r="2.7"/><circle cx="452" cy="450.9" r="2.7"/><circle cx="479.4" cy="450.9" r="2.7"/></g><g class="n"><circle cx="465.7" cy="455.5" r="2.7"/><circle cx="461.1" cy="414.3" r="2.7"/><circle cx="470.3" cy="414.3" r="2.7"/><circle cx="447.4" cy="428" r="2.7"/><circle cx="484" cy="428" r="2.7"/><circle cx="447.4" cy="437.2" r="2.7"/><circle cx="484" cy="437.2" r="2.7"/><circle cx="461.1" cy="450.9" r="2.7"/><circle cx="470.3" cy="450.9" r="2.7"/><circle cx="456.6" cy="418.9" r="2.7"/><circle cx="474.8" cy="418.9" r="2.7"/><circle cx="452" cy="423.5" r="2.7"/><circle cx="479.4" cy="423.5" r="2.7"/><circle cx="452" cy="441.7" r="2.7"/><circle cx="479.4" cy="441.7" r="2.7"/><circle cx="456.6" cy="446.3" r="2.7"/><circle cx="474.8" cy="446.3" r="2.7"/><circle cx="465.7" cy="418.9" r="2.7"/><circle cx="452" cy="432.6" r="2.7"/><circle cx="479.4" cy="432.6" r="2.7"/><circle cx="465.7" cy="446.3" r="2.7"/><circle cx="461.1" cy="423.5" r="2.7"/><circle cx="470.3" cy="423.5" r="2.7"/><circle cx="456.6" cy="428" r="2.7"/><circle cx="474.8" cy="428" r="2.7"/><circle cx="456.6" cy="437.2" r="2.7"/><circle cx="474.8" cy="437.2" r="2.7"/><circle cx="461.1" cy="441.7" r="2.7"/><circle cx="470.3" cy="441.7" r="2.7"/><circle cx="465.7" cy="428" r="2.7"/><circle cx="461.1" cy="432.6" r="2.7"/><circle cx="470.3" cy="432.6" r="2.7"/><circle cx="465.7" cy="437.2" r="2.7"/></g><polygon points="556.9,462.4 533.9,475.7 510.9,462.4 510.9,435.8 533.9,422.5 556.9,435.8" fill="#3f7a47" stroke="#3f7a47" stroke-width="2.5" stroke-linejoin="round"/><g class="n"><circle cx="533.9" cy="424.2" r="2.1"/><circle cx="533.9" cy="474" r="2.1"/><circle cx="512.3" cy="436.6" r="2.1"/><circle cx="512.3" cy="461.6" r="2.1"/><circle cx="555.5" cy="436.6" r="2.1"/><circle cx="555.5" cy="461.6" r="2.1"/><circle cx="515.4" cy="463.3" r="2.1"/><circle cx="552.4" cy="434.9" r="2.1"/><circle cx="512.3" cy="440.2" r="2.1"/><circle cx="512.3" cy="458" r="2.1"/><circle cx="515.4" cy="434.9" r="2.1"/></g><g class="y"><circle cx="530.8" cy="426" r="2.42"/></g><g class="n"><circle cx="530.8" cy="472.2" r="2.1"/></g><g class="y"><circle cx="537" cy="426" r="2.42"/></g><g class="n"><circle cx="537" cy="472.2" r="2.1"/><circle cx="552.4" cy="463.3" r="2.1"/><circle cx="555.5" cy="440.2" r="2.1"/><circle cx="555.5" cy="458" r="2.1"/><circle cx="527.7" cy="470.5" r="2.1"/><circle cx="540.1" cy="427.7" r="2.1"/><circle cx="518.5" cy="465.1" r="2.1"/></g><g class="y"><circle cx="549.3" cy="433.1" r="2.42"/></g><g class="n"><circle cx="527.7" cy="427.7" r="2.1"/><circle cx="540.1" cy="470.5" r="2.1"/><circle cx="512.3" cy="443.8" r="2.1"/><circle cx="512.3" cy="454.4" r="2.1"/></g><g class="y"><circle cx="518.5" cy="433.1" r="2.42"/></g><g class="n"><circle cx="549.3" cy="465.1" r="2.1"/><circle cx="555.5" cy="443.8" r="2.1"/><circle cx="555.5" cy="454.4" r="2.1"/><circle cx="524.7" cy="468.7" r="2.1"/><circle cx="543.1" cy="429.5" r="2.1"/><circle cx="521.6" cy="431.3" r="2.1"/><circle cx="521.6" cy="466.9" r="2.1"/><circle cx="546.2" cy="431.3" r="2.1"/><circle cx="546.2" cy="466.9" r="2.1"/><circle cx="512.3" cy="447.3" r="2.1"/><circle cx="512.3" cy="450.9" r="2.1"/><circle cx="524.7" cy="429.5" r="2.1"/><circle cx="543.1" cy="468.7" r="2.1"/><circle cx="555.5" cy="447.3" r="2.1"/><circle cx="555.5" cy="450.9" r="2.1"/><circle cx="515.4" cy="438.4" r="2.1"/><circle cx="515.4" cy="459.8" r="2.1"/><circle cx="533.9" cy="427.7" r="2.1"/><circle cx="533.9" cy="470.5" r="2.1"/><circle cx="552.4" cy="438.4" r="2.1"/><circle cx="552.4" cy="459.8" r="2.1"/><circle cx="515.4" cy="456.2" r="2.1"/><circle cx="530.8" cy="429.5" r="2.1"/><circle cx="537" cy="468.7" r="2.1"/><circle cx="552.4" cy="442" r="2.1"/><circle cx="515.4" cy="442" r="2.1"/><circle cx="552.4" cy="456.2" r="2.1"/><circle cx="518.5" cy="436.6" r="2.1"/><circle cx="518.5" cy="461.6" r="2.1"/><circle cx="530.8" cy="468.7" r="2.1"/><circle cx="537" cy="429.5" r="2.1"/><circle cx="549.3" cy="436.6" r="2.1"/><circle cx="549.3" cy="461.6" r="2.1"/><circle cx="515.4" cy="445.5" r="2.1"/><circle cx="515.4" cy="452.7" r="2.1"/><circle cx="527.7" cy="431.3" r="2.1"/><circle cx="527.7" cy="466.9" r="2.1"/><circle cx="540.1" cy="431.3" r="2.1"/><circle cx="540.1" cy="466.9" r="2.1"/><circle cx="552.4" cy="445.5" r="2.1"/><circle cx="552.4" cy="452.7" r="2.1"/><circle cx="521.6" cy="434.9" r="2.1"/><circle cx="546.2" cy="463.3" r="2.1"/><circle cx="521.6" cy="463.3" r="2.1"/><circle cx="546.2" cy="434.9" r="2.1"/><circle cx="515.4" cy="449.1" r="2.1"/><circle cx="524.7" cy="433.1" r="2.1"/><circle cx="524.7" cy="465.1" r="2.1"/><circle cx="543.1" cy="433.1" r="2.1"/><circle cx="543.1" cy="465.1" r="2.1"/><circle cx="552.4" cy="449.1" r="2.1"/><circle cx="533.9" cy="431.3" r="2.1"/><circle cx="533.9" cy="466.9" r="2.1"/><circle cx="518.5" cy="440.2" r="2.1"/><circle cx="518.5" cy="458" r="2.1"/><circle cx="549.3" cy="440.2" r="2.1"/><circle cx="549.3" cy="458" r="2.1"/><circle cx="530.8" cy="433.1" r="2.1"/><circle cx="530.8" cy="465.1" r="2.1"/><circle cx="537" cy="433.1" r="2.1"/><circle cx="537" cy="465.1" r="2.1"/><circle cx="518.5" cy="443.8" r="2.1"/><circle cx="518.5" cy="454.4" r="2.1"/><circle cx="521.6" cy="438.4" r="2.1"/><circle cx="521.6" cy="459.8" r="2.1"/><circle cx="546.2" cy="438.4" r="2.1"/><circle cx="546.2" cy="459.8" r="2.1"/><circle cx="549.3" cy="443.8" r="2.1"/><circle cx="549.3" cy="454.4" r="2.1"/><circle cx="524.7" cy="436.6" r="2.1"/><circle cx="524.7" cy="461.6" r="2.1"/><circle cx="527.7" cy="434.9" r="2.1"/><circle cx="527.7" cy="463.3" r="2.1"/><circle cx="540.1" cy="434.9" r="2.1"/><circle cx="540.1" cy="463.3" r="2.1"/><circle cx="543.1" cy="436.6" r="2.1"/><circle cx="543.1" cy="461.6" r="2.1"/><circle cx="518.5" cy="447.3" r="2.1"/><circle cx="518.5" cy="450.9" r="2.1"/><circle cx="549.3" cy="447.3" r="2.1"/><circle cx="549.3" cy="450.9" r="2.1"/><circle cx="533.9" cy="434.9" r="2.1"/><circle cx="533.9" cy="463.3" r="2.1"/><circle cx="521.6" cy="442" r="2.1"/><circle cx="521.6" cy="456.2" r="2.1"/><circle cx="546.2" cy="442" r="2.1"/><circle cx="546.2" cy="456.2" r="2.1"/><circle cx="530.8" cy="461.6" r="2.1"/><circle cx="537" cy="436.6" r="2.1"/><circle cx="524.7" cy="440.2" r="2.1"/><circle cx="524.7" cy="458" r="2.1"/><circle cx="543.1" cy="440.2" r="2.1"/><circle cx="543.1" cy="458" r="2.1"/><circle cx="521.6" cy="445.5" r="2.1"/><circle cx="521.6" cy="452.7" r="2.1"/><circle cx="530.8" cy="436.6" r="2.1"/><circle cx="537" cy="461.6" r="2.1"/><circle cx="546.2" cy="445.5" r="2.1"/><circle cx="546.2" cy="452.7" r="2.1"/><circle cx="521.6" cy="449.1" r="2.1"/><circle cx="527.7" cy="438.4" r="2.1"/><circle cx="527.7" cy="459.8" r="2.1"/><circle cx="540.1" cy="438.4" r="2.1"/><circle cx="540.1" cy="459.8" r="2.1"/><circle cx="546.2" cy="449.1" r="2.1"/><circle cx="524.7" cy="443.8" r="2.1"/><circle cx="524.7" cy="454.4" r="2.1"/><circle cx="533.9" cy="438.4" r="2.1"/><circle cx="533.9" cy="459.8" r="2.1"/><circle cx="543.1" cy="443.8" r="2.1"/><circle cx="543.1" cy="454.4" r="2.1"/><circle cx="524.7" cy="447.3" r="2.1"/><circle cx="524.7" cy="450.9" r="2.1"/><circle cx="530.8" cy="440.2" r="2.1"/><circle cx="530.8" cy="458" r="2.1"/><circle cx="537" cy="440.2" r="2.1"/><circle cx="537" cy="458" r="2.1"/><circle cx="543.1" cy="447.3" r="2.1"/><circle cx="543.1" cy="450.9" r="2.1"/><circle cx="527.7" cy="442" r="2.1"/><circle cx="540.1" cy="456.2" r="2.1"/><circle cx="527.7" cy="456.2" r="2.1"/><circle cx="540.1" cy="442" r="2.1"/><circle cx="533.9" cy="442" r="2.1"/><circle cx="533.9" cy="456.2" r="2.1"/><circle cx="527.7" cy="445.5" r="2.1"/><circle cx="527.7" cy="452.7" r="2.1"/><circle cx="540.1" cy="445.5" r="2.1"/><circle cx="540.1" cy="452.7" r="2.1"/><circle cx="527.7" cy="449.1" r="2.1"/><circle cx="530.8" cy="443.8" r="2.1"/><circle cx="530.8" cy="454.4" r="2.1"/><circle cx="537" cy="443.8" r="2.1"/><circle cx="537" cy="454.4" r="2.1"/><circle cx="540.1" cy="449.1" r="2.1"/><circle cx="533.9" cy="445.5" r="2.1"/><circle cx="533.9" cy="452.7" r="2.1"/><circle cx="530.8" cy="447.3" r="2.1"/><circle cx="530.8" cy="450.9" r="2.1"/><circle cx="537" cy="447.3" r="2.1"/><circle cx="537" cy="450.9" r="2.1"/><circle cx="533.9" cy="449.1" r="2.1"/></g><polygon points="593.5,427.5 596.3,428.3 599.1,429.3 601.8,430.5 604.4,432 607,433.7 609.3,435.5 611.5,437.6 613.6,439.8 615.4,442.1 617,444.6 617.1,447.5 617,450.4 616.7,453.4 616.1,456.4 615.3,459.3 614.2,462.1 613,464.9 611.5,467.5 609.8,469.9 608,472.2 605.3,473.2 602.4,474 599.5,474.6 596.5,475 593.5,475.1 590.5,475 587.5,474.6 584.6,474 581.7,473.2 579,472.2 577.2,469.9 575.5,467.5 574,464.9 572.8,462.1 571.7,459.3 570.9,456.4 570.3,453.4 570,450.4 569.9,447.5 570,444.6 571.6,442.1 573.4,439.8 575.5,437.6 577.7,435.5 580,433.7 582.6,432 585.2,430.5 587.9,429.3 590.7,428.3" fill="#3f7a47" stroke="#3f7a47" stroke-width="3.2" stroke-linejoin="round"/><g class="y"><circle cx="593.5" cy="427.5" r="1.51"/></g><g class="n"><circle cx="596.3" cy="428.3" r="1.35"/><circle cx="599.1" cy="429.3" r="1.35"/><circle cx="601.8" cy="430.5" r="1.35"/><circle cx="604.4" cy="432" r="1.35"/></g><g class="y"><circle cx="607" cy="433.7" r="1.51"/></g><g class="n"><circle cx="609.3" cy="435.5" r="1.35"/><circle cx="611.5" cy="437.6" r="1.35"/><circle cx="613.6" cy="439.8" r="1.35"/><circle cx="615.4" cy="442.1" r="1.35"/></g><g class="y"><circle cx="617" cy="444.6" r="1.51"/></g><g class="n"><circle cx="617.1" cy="447.5" r="1.35"/><circle cx="617" cy="450.4" r="1.35"/><circle cx="616.7" cy="453.4" r="1.35"/><circle cx="616.1" cy="456.4" r="1.35"/></g><g class="y"><circle cx="615.3" cy="459.3" r="1.51"/></g><g class="n"><circle cx="614.2" cy="462.1" r="1.35"/><circle cx="613" cy="464.9" r="1.35"/><circle cx="611.5" cy="467.5" r="1.35"/><circle cx="609.8" cy="469.9" r="1.35"/></g><g class="y"><circle cx="608" cy="472.2" r="1.51"/></g><g class="n"><circle cx="605.3" cy="473.2" r="1.35"/><circle cx="602.4" cy="474" r="1.35"/><circle cx="599.5" cy="474.6" r="1.35"/><circle cx="596.5" cy="475" r="1.35"/></g><g class="y"><circle cx="593.5" cy="475.1" r="1.51"/></g><g class="n"><circle cx="590.5" cy="475" r="1.35"/><circle cx="587.5" cy="474.6" r="1.35"/><circle cx="584.6" cy="474" r="1.35"/><circle cx="581.7" cy="473.2" r="1.35"/></g><g class="y"><circle cx="579" cy="472.2" r="1.51"/></g><g class="n"><circle cx="577.2" cy="469.9" r="1.35"/><circle cx="575.5" cy="467.5" r="1.35"/><circle cx="574" cy="464.9" r="1.35"/><circle cx="572.8" cy="462.1" r="1.35"/></g><g class="y"><circle cx="571.7" cy="459.3" r="1.51"/></g><g class="n"><circle cx="570.9" cy="456.4" r="1.35"/><circle cx="570.3" cy="453.4" r="1.35"/><circle cx="570" cy="450.4" r="1.35"/><circle cx="569.9" cy="447.5" r="1.35"/></g><g class="y"><circle cx="570" cy="444.6" r="1.51"/></g><g class="n"><circle cx="571.6" cy="442.1" r="1.35"/><circle cx="573.4" cy="439.8" r="1.35"/><circle cx="575.5" cy="437.6" r="1.35"/><circle cx="577.7" cy="435.5" r="1.35"/></g><g class="y"><circle cx="580" cy="433.7" r="1.51"/></g><g class="n"><circle cx="582.6" cy="432" r="1.35"/><circle cx="585.2" cy="430.5" r="1.35"/><circle cx="587.9" cy="429.3" r="1.35"/><circle cx="590.7" cy="428.3" r="1.35"/><circle cx="593.5" cy="430" r="1.35"/><circle cx="596.3" cy="430.8" r="1.35"/><circle cx="599.1" cy="431.8" r="1.35"/><circle cx="601.8" cy="433.1" r="1.35"/><circle cx="604.4" cy="434.7" r="1.35"/><circle cx="606.8" cy="436.4" r="1.35"/><circle cx="609.1" cy="438.4" r="1.35"/><circle cx="611.2" cy="440.6" r="1.35"/><circle cx="613" cy="442.9" r="1.35"/><circle cx="614.6" cy="445.3" r="1.35"/><circle cx="614.8" cy="448.2" r="1.35"/><circle cx="614.6" cy="451.2" r="1.35"/><circle cx="614.2" cy="454.2" r="1.35"/><circle cx="613.5" cy="457.1" r="1.35"/><circle cx="612.6" cy="460" r="1.35"/><circle cx="611.4" cy="462.8" r="1.35"/><circle cx="610" cy="465.4" r="1.35"/><circle cx="608.4" cy="467.9" r="1.35"/><circle cx="606.6" cy="470.2" r="1.35"/><circle cx="603.8" cy="471.2" r="1.35"/><circle cx="601" cy="472" r="1.35"/><circle cx="598" cy="472.5" r="1.35"/><circle cx="595" cy="472.8" r="1.35"/><circle cx="592" cy="472.8" r="1.35"/><circle cx="589" cy="472.5" r="1.35"/><circle cx="586" cy="472" r="1.35"/><circle cx="583.2" cy="471.2" r="1.35"/><circle cx="580.4" cy="470.2" r="1.35"/><circle cx="578.6" cy="467.9" r="1.35"/><circle cx="577" cy="465.4" r="1.35"/><circle cx="575.6" cy="462.8" r="1.35"/><circle cx="574.4" cy="460" r="1.35"/><circle cx="573.5" cy="457.1" r="1.35"/><circle cx="572.8" cy="454.2" r="1.35"/><circle cx="572.4" cy="451.2" r="1.35"/><circle cx="572.2" cy="448.2" r="1.35"/><circle cx="572.4" cy="445.3" r="1.35"/><circle cx="574" cy="442.9" r="1.35"/><circle cx="575.8" cy="440.6" r="1.35"/><circle cx="577.9" cy="438.4" r="1.35"/><circle cx="580.2" cy="436.4" r="1.35"/><circle cx="582.6" cy="434.7" r="1.35"/><circle cx="585.2" cy="433.1" r="1.35"/><circle cx="587.9" cy="431.8" r="1.35"/><circle cx="590.7" cy="430.8" r="1.35"/><circle cx="593.5" cy="432.4" r="1.35"/><circle cx="596.3" cy="433.2" r="1.35"/><circle cx="599.1" cy="434.3" r="1.35"/><circle cx="601.8" cy="435.6" r="1.35"/><circle cx="604.3" cy="437.3" r="1.35"/><circle cx="606.7" cy="439.2" r="1.35"/><circle cx="608.8" cy="441.3" r="1.35"/><circle cx="610.7" cy="443.6" r="1.35"/><circle cx="612.3" cy="446.1" r="1.35"/><circle cx="612.4" cy="449" r="1.35"/><circle cx="612.3" cy="452" r="1.35"/><circle cx="611.8" cy="455" r="1.35"/><circle cx="611" cy="457.9" r="1.35"/><circle cx="610" cy="460.7" r="1.35"/><circle cx="608.6" cy="463.4" r="1.35"/><circle cx="607" cy="465.9" r="1.35"/><circle cx="605.1" cy="468.2" r="1.35"/><circle cx="602.4" cy="469.2" r="1.35"/><circle cx="599.5" cy="470" r="1.35"/><circle cx="596.5" cy="470.5" r="1.35"/><circle cx="593.5" cy="470.6" r="1.35"/><circle cx="590.5" cy="470.5" r="1.35"/><circle cx="587.5" cy="470" r="1.35"/><circle cx="584.6" cy="469.2" r="1.35"/><circle cx="581.9" cy="468.2" r="1.35"/><circle cx="580" cy="465.9" r="1.35"/><circle cx="578.4" cy="463.4" r="1.35"/><circle cx="577" cy="460.7" r="1.35"/><circle cx="576" cy="457.9" r="1.35"/><circle cx="575.2" cy="455" r="1.35"/><circle cx="574.7" cy="452" r="1.35"/><circle cx="574.6" cy="449" r="1.35"/><circle cx="574.7" cy="446.1" r="1.35"/><circle cx="576.3" cy="443.6" r="1.35"/><circle cx="578.2" cy="441.3" r="1.35"/><circle cx="580.3" cy="439.2" r="1.35"/><circle cx="582.7" cy="437.3" r="1.35"/><circle cx="585.2" cy="435.6" r="1.35"/><circle cx="587.9" cy="434.3" r="1.35"/><circle cx="590.7" cy="433.2" r="1.35"/><circle cx="593.5" cy="434.9" r="1.35"/><circle cx="596.4" cy="435.6" r="1.35"/><circle cx="599.2" cy="436.7" r="1.35"/><circle cx="601.8" cy="438.2" r="1.35"/><circle cx="604.3" cy="439.9" r="1.35"/><circle cx="606.5" cy="442" r="1.35"/><circle cx="608.4" cy="444.3" r="1.35"/><circle cx="609.9" cy="446.9" r="1.35"/><circle cx="610.2" cy="449.8" r="1.35"/><circle cx="610" cy="452.8" r="1.35"/><circle cx="609.4" cy="455.8" r="1.35"/><circle cx="608.5" cy="458.7" r="1.35"/><circle cx="607.2" cy="461.4" r="1.35"/><circle cx="605.6" cy="463.9" r="1.35"/><circle cx="603.7" cy="466.2" r="1.35"/><circle cx="600.9" cy="467.3" r="1.35"/><circle cx="598" cy="468.1" r="1.35"/><circle cx="595" cy="468.5" r="1.35"/><circle cx="592" cy="468.5" r="1.35"/><circle cx="589" cy="468.1" r="1.35"/><circle cx="586.1" cy="467.3" r="1.35"/><circle cx="583.3" cy="466.2" r="1.35"/><circle cx="581.4" cy="463.9" r="1.35"/><circle cx="579.8" cy="461.4" r="1.35"/><circle cx="578.5" cy="458.7" r="1.35"/><circle cx="577.6" cy="455.8" r="1.35"/><circle cx="577" cy="452.8" r="1.35"/><circle cx="576.8" cy="449.8" r="1.35"/><circle cx="577.1" cy="446.9" r="1.35"/><circle cx="578.6" cy="444.3" r="1.35"/><circle cx="580.5" cy="442" r="1.35"/><circle cx="582.7" cy="439.9" r="1.35"/><circle cx="585.2" cy="438.2" r="1.35"/><circle cx="587.8" cy="436.7" r="1.35"/><circle cx="590.6" cy="435.6" r="1.35"/><circle cx="593.5" cy="437.4" r="1.35"/><circle cx="596.4" cy="438" r="1.35"/><circle cx="599.2" cy="439.2" r="1.35"/><circle cx="601.8" cy="440.8" r="1.35"/><circle cx="604.1" cy="442.8" r="1.35"/><circle cx="606.1" cy="445.1" r="1.35"/><circle cx="607.6" cy="447.6" r="1.35"/><circle cx="607.9" cy="450.6" r="1.35"/><circle cx="607.6" cy="453.6" r="1.35"/><circle cx="606.9" cy="456.6" r="1.35"/><circle cx="605.8" cy="459.4" r="1.35"/><circle cx="604.2" cy="461.9" r="1.35"/><circle cx="602.2" cy="464.2" r="1.35"/><circle cx="599.5" cy="465.4" r="1.35"/><circle cx="596.5" cy="466.1" r="1.35"/><circle cx="593.5" cy="466.3" r="1.35"/><circle cx="590.5" cy="466.1" r="1.35"/><circle cx="587.5" cy="465.4" r="1.35"/><circle cx="584.8" cy="464.2" r="1.35"/><circle cx="582.8" cy="461.9" r="1.35"/><circle cx="581.2" cy="459.4" r="1.35"/><circle cx="580.1" cy="456.6" r="1.35"/><circle cx="579.4" cy="453.6" r="1.35"/><circle cx="579.1" cy="450.6" r="1.35"/><circle cx="579.4" cy="447.6" r="1.35"/><circle cx="580.9" cy="445.1" r="1.35"/><circle cx="582.9" cy="442.8" r="1.35"/><circle cx="585.2" cy="440.8" r="1.35"/><circle cx="587.8" cy="439.2" r="1.35"/><circle cx="590.6" cy="438" r="1.35"/><circle cx="593.5" cy="439.8" r="1.35"/><circle cx="596.4" cy="440.5" r="1.35"/><circle cx="599.2" cy="441.8" r="1.35"/><circle cx="601.7" cy="443.6" r="1.35"/><circle cx="603.7" cy="445.8" r="1.35"/><circle cx="605.2" cy="448.4" r="1.35"/><circle cx="605.5" cy="451.4" r="1.35"/><circle cx="605.2" cy="454.4" r="1.35"/><circle cx="604.3" cy="457.3" r="1.35"/><circle cx="602.7" cy="459.9" r="1.35"/><circle cx="600.8" cy="462.2" r="1.35"/><circle cx="598" cy="463.4" r="1.35"/><circle cx="595" cy="464" r="1.35"/><circle cx="592" cy="464" r="1.35"/><circle cx="589" cy="463.4" r="1.35"/><circle cx="586.2" cy="462.2" r="1.35"/><circle cx="584.3" cy="459.9" r="1.35"/><circle cx="582.7" cy="457.3" r="1.35"/><circle cx="581.8" cy="454.4" r="1.35"/><circle cx="581.5" cy="451.4" r="1.35"/><circle cx="581.8" cy="448.4" r="1.35"/><circle cx="583.3" cy="445.8" r="1.35"/><circle cx="585.3" cy="443.6" r="1.35"/><circle cx="587.8" cy="441.8" r="1.35"/><circle cx="590.6" cy="440.5" r="1.35"/><circle cx="593.5" cy="442.3" r="1.35"/><circle cx="596.4" cy="443" r="1.35"/><circle cx="599.1" cy="444.5" r="1.35"/><circle cx="601.3" cy="446.6" r="1.35"/><circle cx="602.9" cy="449.1" r="1.35"/><circle cx="603.1" cy="452.1" r="1.35"/><circle cx="602.5" cy="455.1" r="1.35"/><circle cx="601.2" cy="457.9" r="1.35"/><circle cx="599.3" cy="460.2" r="1.35"/><circle cx="596.5" cy="461.3" r="1.35"/><circle cx="593.5" cy="461.7" r="1.35"/><circle cx="590.5" cy="461.3" r="1.35"/><circle cx="587.7" cy="460.2" r="1.35"/><circle cx="585.8" cy="457.9" r="1.35"/><circle cx="584.5" cy="455.1" r="1.35"/><circle cx="583.9" cy="452.1" r="1.35"/><circle cx="584.1" cy="449.1" r="1.35"/><circle cx="585.7" cy="446.6" r="1.35"/><circle cx="587.9" cy="444.5" r="1.35"/><circle cx="590.6" cy="443" r="1.35"/><circle cx="593.5" cy="444.8" r="1.35"/><circle cx="596.4" cy="445.6" r="1.35"/><circle cx="598.9" cy="447.4" r="1.35"/><circle cx="600.5" cy="449.9" r="1.35"/><circle cx="600.7" cy="452.9" r="1.35"/><circle cx="599.7" cy="455.8" r="1.35"/><circle cx="597.9" cy="458.2" r="1.35"/><circle cx="595" cy="459.3" r="1.35"/><circle cx="592" cy="459.3" r="1.35"/><circle cx="589.1" cy="458.2" r="1.35"/><circle cx="587.3" cy="455.8" r="1.35"/><circle cx="586.3" cy="452.9" r="1.35"/><circle cx="586.5" cy="449.9" r="1.35"/><circle cx="588.1" cy="447.4" r="1.35"/><circle cx="590.6" cy="445.6" r="1.35"/><circle cx="593.5" cy="447.3" r="1.35"/><circle cx="596.3" cy="448.3" r="1.35"/><circle cx="598.2" cy="450.7" r="1.35"/><circle cx="598.1" cy="453.7" r="1.35"/><circle cx="596.4" cy="456.2" r="1.35"/><circle cx="593.5" cy="457" r="1.35"/><circle cx="590.6" cy="456.2" r="1.35"/><circle cx="588.9" cy="453.7" r="1.35"/><circle cx="588.8" cy="450.7" r="1.35"/><circle cx="590.7" cy="448.3" r="1.35"/><circle cx="593.5" cy="449.7" r="1.35"/><circle cx="595.8" cy="451.4" r="1.35"/><circle cx="595" cy="454.2" r="1.35"/><circle cx="592" cy="454.2" r="1.35"/><circle cx="591.2" cy="451.4" r="1.35"/><circle cx="593.5" cy="452.2" r="1.35"/></g><polygon fill="#3d7845" points="601.8,338.2 622.4,338.2 637,352.8 637,373.4 622.4,388 601.8,388 587.2,373.4 587.2,352.8"/><path d="M612.1 349.1h0m-2 2h0m4 0h0m-6 2h0m8 0h0m-10 2h0m12 0h0m-14 2h0m16 0h0m-18 2h0m20 0h0m-22 2h0m24 0h0m-26 2h0m28 0h0m-26 2h0m24 0h0m-22 2h0m20 0h0m-18 2h0m16 0h0m-14 2h0m12 0h0m-10 2h0m8 0h0m-6 2h0m4 0h0m-2 2h0" stroke="#c4c4cc" stroke-width="1.9" stroke-linecap="round" fill="none"/><path d="M602.1 339.1h0m4 0h0m4 0h0m4 0h0m4 0h0m4 0h0m-22 2h0m4 0h0m4 0h0m4 0h0m4 0h0m4 0h0m4 0h0m-26 2h0m4 0h0m4 0h0m4 0h0m4 0h0m4 0h0m4 0h0m4 0h0m-30 2h0m4 0h0m4 0h0m4 0h0m4 0h0m4 0h0m4 0h0m4 0h0m4 0h0m-34 2h0m4 0h0m4 0h0m4 0h0m4 0h0m4 0h0m4 0h0m4 0h0m4 0h0m4 0h0m-38 2h0m4 0h0m4 0h0m4 0h0m4 0h0m8 0h0m4 0h0m4 0h0m4 0h0m4 0h0m-42 2h0m4 0h0m4 0h0m4 0h0m4 0h0m12 0h0m4 0h0m4 0h0m4 0h0m4 0h0m-46 2h0m4 0h0m4 0h0m4 0h0m4 0h0m8 0h0m8 0h0m4 0h0m4 0h0m4 0h0m4 0h0m-46 2h0m4 0h0m4 0h0m4 0h0m8 0h0m4 0h0m8 0h0m4 0h0m4 0h0m4 0h0m-46 2h0m4 0h0m4 0h0m4 0h0m8 0h0m4 0h0m4 0h0m8 0h0m4 0h0m4 0h0m4 0h0m-46 2h0m4 0h0m4 0h0m8 0h0m4 0h0m4 0h0m4 0h0m8 0h0m4 0h0m4 0h0m-46 2h0m4 0h0m4 0h0m8 0h0m4 0h0m4 0h0m4 0h0m4 0h0m8 0h0m4 0h0m4 0h0m-46 2h0m4 0h0m8 0h0m4 0h0m4 0h0m4 0h0m4 0h0m4 0h0m8 0h0m4 0h0m-46 2h0m4 0h0m4 0h0m8 0h0m4 0h0m4 0h0m4 0h0m4 0h0m8 0h0m4 0h0m4 0h0m-46 2h0m4 0h0m4 0h0m8 0h0m4 0h0m4 0h0m4 0h0m8 0h0m4 0h0m4 0h0m-46 2h0m4 0h0m4 0h0m4 0h0m8 0h0m4 0h0m4 0h0m8 0h0m4 0h0m4 0h0m4 0h0m-46 2h0m4 0h0m4 0h0m4 0h0m8 0h0m4 0h0m8 0h0m4 0h0m4 0h0m4 0h0m-46 2h0m4 0h0m4 0h0m4 0h0m4 0h0m8 0h0m8 0h0m4 0h0m4 0h0m4 0h0m4 0h0m-46 2h0m4 0h0m4 0h0m4 0h0m4 0h0m12 0h0m4 0h0m4 0h0m4 0h0m4 0h0m-42 2h0m4 0h0m4 0h0m4 0h0m4 0h0m8 0h0m4 0h0m4 0h0m4 0h0m4 0h0m-38 2h0m4 0h0m4 0h0m4 0h0m4 0h0m4 0h0m4 0h0m4 0h0m4 0h0m4 0h0m-34 2h0m4 0h0m4 0h0m4 0h0m4 0h0m4 0h0m4 0h0m4 0h0m4 0h0m-30 2h0m4 0h0m4 0h0m4 0h0m4 0h0m4 0h0m4 0h0m4 0h0m-26 2h0m4 0h0m4 0h0m4 0h0m4 0h0m4 0h0m4 0h0m-22 2h0m4 0h0m4 0h0m4 0h0m4 0h0m4 0h0" stroke="#5cb864" stroke-width="1.9" stroke-linecap="round" fill="none"/><path d="M604.1 339.1h0m4 0h0m4 0h0m4 0h0m4 0h0m-16 4h0m4 0h0m4 0h0m4 0h0m4 0h0m-18 2h0m20 0h0m-22 2h0m24 0h0m-26 2h0m28 0h0m-30 2h0m32 0h0m-34 2h0m36 0h0m-42 2h0m4 0h0m40 0h0m4 0h0m-48 4h0m4 0h0m40 0h0m4 0h0m-48 4h0m4 0h0m40 0h0m4 0h0m-48 4h0m4 0h0m40 0h0m4 0h0m-48 4h0m4 0h0m40 0h0m4 0h0m-42 2h0m36 0h0m-34 2h0m32 0h0m-30 2h0m28 0h0m-26 2h0m24 0h0m-22 2h0m20 0h0m-18 2h0m4 0h0m4 0h0m4 0h0m4 0h0m-16 4h0m4 0h0m4 0h0m4 0h0m4 0h0" stroke="#c4c4cc" stroke-width="1.9" stroke-linecap="round" fill="none"/><path d="M602.1 341.1h0m4 0h0m4 0h0m4 0h0m4 0h0m4 0h0m-22 2h0m24 0h0m-26 2h0m8 0h0m4 0h0m4 0h0m4 0h0m8 0h0m-30 2h0m8 0h0m4 0h0m4 0h0m4 0h0m4 0h0m8 0h0m-34 2h0m8 0h0m4 0h0m4 0h0m4 0h0m4 0h0m4 0h0m8 0h0m-38 2h0m8 0h0m4 0h0m4 0h0m4 0h0m4 0h0m4 0h0m4 0h0m8 0h0m-42 2h0m8 0h0m4 0h0m4 0h0m4 0h0m4 0h0m4 0h0m4 0h0m4 0h0m8 0h0m-38 2h0m4 0h0m4 0h0m4 0h0m4 0h0m4 0h0m4 0h0m4 0h0m4 0h0m-38 2h0m4 0h0m4 0h0m4 0h0m4 0h0m4 0h0m4 0h0m4 0h0m4 0h0m4 0h0m4 0h0m4 0h0m-38 2h0m4 0h0m4 0h0m4 0h0m4 0h0m4 0h0m4 0h0m4 0h0m4 0h0m-38 2h0m4 0h0m4 0h0m4 0h0m4 0h0m4 0h0m4 0h0m4 0h0m4 0h0m4 0h0m4 0h0m4 0h0m-38 2h0m4 0h0m4 0h0m4 0h0m4 0h0m4 0h0m4 0h0m4 0h0m4 0h0m-38 2h0m4 0h0m4 0h0m4 0h0m4 0h0m4 0h0m4 0h0m4 0h0m4 0h0m4 0h0m4 0h0m4 0h0m-38 2h0m4 0h0m4 0h0m4 0h0m4 0h0m4 0h0m4 0h0m4 0h0m4 0h0m-38 2h0m4 0h0m4 0h0m4 0h0m4 0h0m4 0h0m4 0h0m4 0h0m4 0h0m4 0h0m4 0h0m4 0h0m-38 2h0m4 0h0m4 0h0m4 0h0m4 0h0m4 0h0m4 0h0m4 0h0m4 0h0m-38 2h0m8 0h0m4 0h0m4 0h0m4 0h0m4 0h0m4 0h0m4 0h0m4 0h0m8 0h0m-42 2h0m8 0h0m4 0h0m4 0h0m4 0h0m4 0h0m4 0h0m4 0h0m8 0h0m-38 2h0m8 0h0m4 0h0m4 0h0m4 0h0m4 0h0m4 0h0m8 0h0m-34 2h0m8 0h0m4 0h0m4 0h0m4 0h0m4 0h0m8 0h0m-30 2h0m8 0h0m4 0h0m4 0h0m4 0h0m8 0h0m-26 2h0m24 0h0m-22 2h0m4 0h0m4 0h0m4 0h0m4 0h0m4 0h0" stroke="#5cb864" stroke-width="1.9" stroke-linecap="round" fill="none"/>
<rect x="438.6" y="335.9" width="200.9" height="149" fill="none" stroke="#484848" stroke-width="0.6"/>
<text class="t" text-anchor="middle" x="443.5" y="494.8">1.5</text>
<text class="t" text-anchor="middle" x="470.6" y="494.8">2.0</text>
<text class="t" text-anchor="middle" x="497.8" y="494.8">2.5</text>
<text class="t" text-anchor="middle" x="524.9" y="494.8">3.0</text>
<text class="t" text-anchor="middle" x="552" y="494.8">3.5</text>
<text class="t" text-anchor="middle" x="579.1" y="494.8">4.0</text>
<text class="t" text-anchor="middle" x="606.3" y="494.8">4.5</text>
<text class="t" text-anchor="middle" x="633.4" y="494.8">5.0</text>
<path d="M443.5 484.9v3.2M470.6 484.9v3.2M497.8 484.9v3.2M524.9 484.9v3.2M552 484.9v3.2M579.1 484.9v3.2M606.3 484.9v3.2M633.4 484.9v3.2M438.6 484.9h-3.2M438.6 455.1h-3.2M438.6 425.3h-3.2M438.6 395.5h-3.2M438.6 365.7h-3.2M438.6 335.9h-3.2" stroke="#484848" stroke-width="0.6" fill="none"/>
<text class="t" text-anchor="middle" x="539" y="333.5" style="font-size:7.4px">Pt<tspan class="s" dy="1.3">0.2</tspan><tspan dy="-1.3">Ni</tspan><tspan class="s" dy="1.3">0.8</tspan></text>
<text class="L" x="441.1" y="349">i</text>
<text class="t" text-anchor="middle" x="539" y="503.3" style="font-size:7.2px"><tspan style="font-family:'DejaVu Serif','Liberation Serif',serif;font-style:italic">D</tspan><tspan style="font-family:'DejaVu Serif','Liberation Serif',serif"> = 0.315</tspan><tspan style="font-family:'DejaVu Serif','Liberation Serif',serif;font-style:italic">N</tspan><tspan class="s" dy="-2.6">1/3</tspan><tspan dy="2.6"> (nm)</tspan></text>
</g>
<g id="legend"><rect x="641.6" y="0.9" width="42.3" height="45.1" rx="1.6" fill="#fff" fill-opacity="0.8" stroke="#ccc" stroke-width="0.7"/>
<line x1="644" y1="6.6" x2="659.5" y2="6.6" stroke="#1f77b4" stroke-width="0.8"/><circle cx="651.8" cy="6.6" r="0.9" fill="#1f77b4"/>
<text class="t" x="665.2" y="9.2" style="font-size:7.2px">TOh</text>
<line x1="644" y1="17.2" x2="659.5" y2="17.2" stroke="#ff7f0e" stroke-width="0.8"/><circle cx="651.8" cy="17.2" r="0.9" fill="#ff7f0e"/>
<text class="t" x="665.2" y="19.9" style="font-size:7.2px">COh</text>
<line x1="644" y1="27.9" x2="659.5" y2="27.9" stroke="#2ca02c" stroke-width="0.8"/><circle cx="651.8" cy="27.9" r="0.9" fill="#2ca02c"/>
<text class="t" x="665.2" y="30.5" style="font-size:7.2px">Ih</text>
<line x1="644" y1="38.6" x2="659.5" y2="38.6" stroke="#d62728" stroke-width="0.8"/><circle cx="651.8" cy="38.6" r="0.9" fill="#d62728"/>
<text class="t" x="665.2" y="41.2" style="font-size:7.2px">Dh</text>
</g>
</svg></body></html>
